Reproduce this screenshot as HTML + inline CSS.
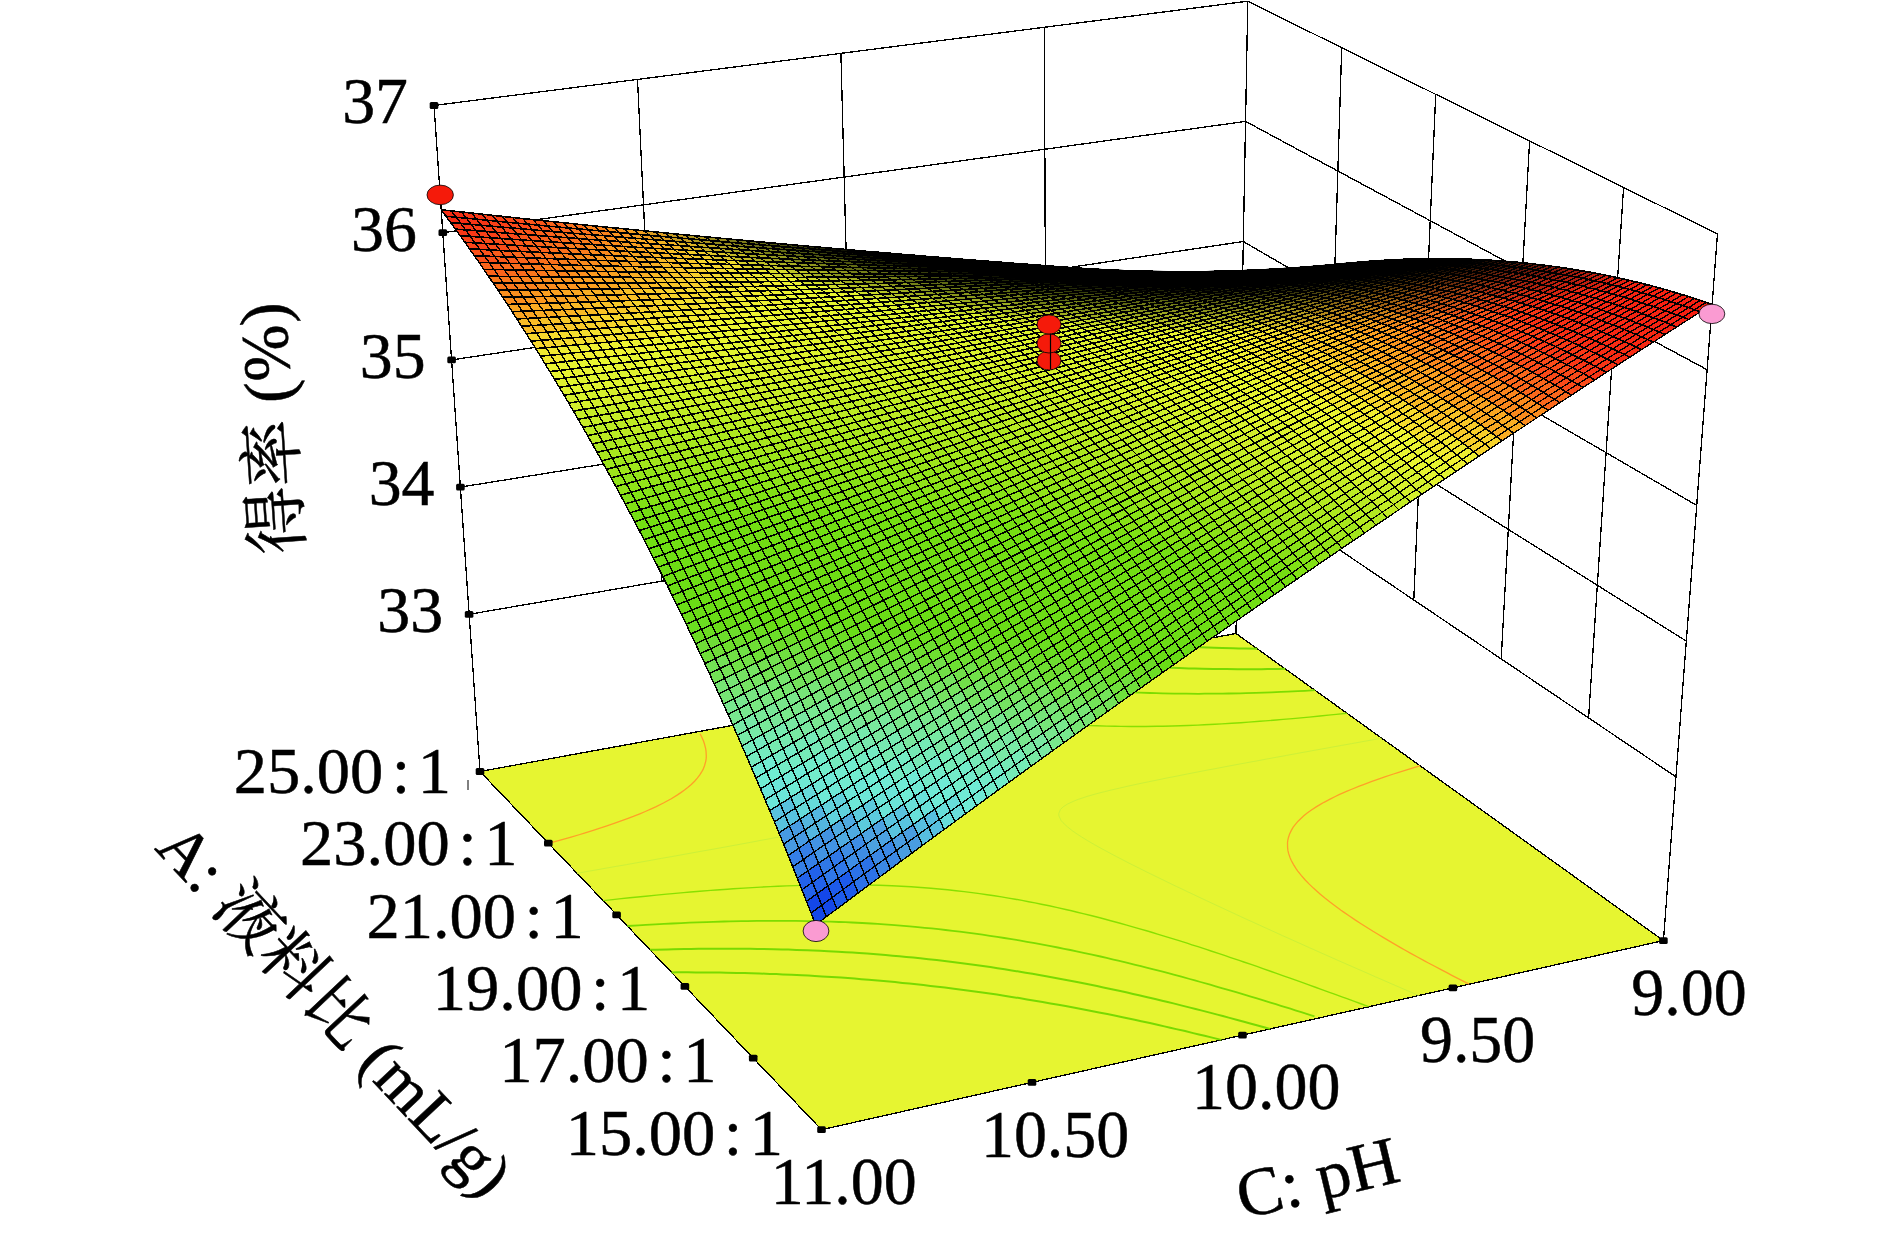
<!DOCTYPE html>
<html><head><meta charset="utf-8"><title>response surface</title>
<style>html,body{margin:0;padding:0;background:#fff}svg{display:block}</style></head>
<body>
<svg width="1890" height="1238" viewBox="0 0 1890 1238">
<rect width="1890" height="1238" fill="#fff"/>
<g stroke="#000" stroke-width="1.3" fill="none" shape-rendering="crispEdges">
<path d="M469.1 614.3L1238.8 481.9"/>
<path d="M1238.8 481.9L1675.9 776.8"/>
<path d="M460.4 487.1L1241.1 361.7"/>
<path d="M1241.1 361.7L1686.3 641.1"/>
<path d="M451.6 359.9L1243.3 241.5"/>
<path d="M1243.3 241.5L1696.7 505.4"/>
<path d="M442.8 232.7L1245.6 121.4"/>
<path d="M1245.6 121.4L1707.1 369.7"/>
<path d="M434 105.5L1247.8 1.2"/>
<path d="M1247.8 1.2L1717.5 234"/>
<path d="M661.5 581.2L637.5 79.4"/>
<path d="M853.9 548L840.9 53.4"/>
<path d="M1046.4 514.9L1044.3 27.3"/>
<path d="M1326.3 540.7L1341.7 47.8"/>
<path d="M1413.8 599.7L1435.7 94.3"/>
<path d="M1501.2 658.7L1529.6 140.9"/>
<path d="M1588.6 717.7L1623.6 187.4"/>
<path d="M480 771.5L434 105.5"/>
<path d="M1236 633.5L1247.8 1.2"/>
<path d="M1663.4 940.6L1717.5 234"/>
</g>
<polygon points="480,771.5 821.5,1129.7 1663.4,940.6 1236,633.5" fill="#e6f531" stroke="#000" stroke-width="1.3" shape-rendering="crispEdges"/>
<g fill="none">
<polyline points="671.5,972.4 677.5,972.3 688.1,972.3 695.6,972.4 701.7,972.4 713,972.5 720,972.6 726.2,972.7 736.8,972.9 744.8,973.1 751.1,973.3 759.4,973.5 769.9,973.9 776.3,974.1 782.7,974.4 791.6,974.8 801.9,975.3 808.4,975.6 814.9,976 821.9,976.4 831.6,977 841.1,977.6 847.9,978.1 854.6,978.6 861.3,979.2 868.7,979.8 877.6,980.5 886.4,981.3 895,982.1 902.4,982.9 909.4,983.6 916.4,984.3 923.4,985.1 930.5,985.9 937.7,986.7 944.9,987.6 952.1,988.5 959.7,989.5 967.3,990.5 974.8,991.5 982.3,992.5 989.6,993.6 996.9,994.6 1004.1,995.7 1011.6,996.9 1019.3,998.1 1027,999.4 1034.8,1000.7 1042.6,1002 1050.5,1003.4 1058.4,1004.8 1065.6,1006.1 1072.1,1007.3 1078.6,1008.5 1085,1009.7 1091.4,1011 1099,1012.5 1107.3,1014.1 1115.7,1015.8 1122.5,1017.2 1128.6,1018.5 1134.7,1019.8 1141.2,1021.2 1149.9,1023.1 1158.5,1025 1164.4,1026.4 1170.2,1027.7 1176.2,1029.1 1185.1,1031.1 1193.2,1033.1 1198.9,1034.4 1204.6,1035.8 1212.2,1037.6 1221.4,1039.9" stroke="#78da00" stroke-width="2.0"/>
<polyline points="1257.2,648.7 1245.8,648.6 1238.9,648.5 1232.8,648.3 1222.3,648.1 1214.3,647.8 1208.1,647.6 1199.9,647.3 1189.3,646.9 1183.1,646.6 1176.7,646.3 1168.2,645.9" stroke="#78da00" stroke-width="2.0"/>
<polyline points="650,949.8 655.8,949.7 667.5,949.4 673.4,949.2 684.5,949 691,948.9 698.4,948.8 708.8,948.7 714.8,948.7 725.1,948.7 732.9,948.7 739,948.7 750.2,948.8 757.3,948.9 763.4,949 773.9,949.2 782,949.4 788.3,949.6 796.4,949.9 807.2,950.3 813.6,950.5 820,950.8 828.1,951.2 838.2,951.8 845.9,952.2 852.5,952.6 859.1,953.1 867.2,953.6 876.4,954.3 885.5,955.1 892.6,955.7 899.4,956.3 906.3,956.9 913.2,957.6 920.2,958.3 928.4,959.2 936.6,960.1 944.6,961 952.5,962 960.3,963 967.9,964 975.5,965 982.9,966.1 990.3,967.1 997.5,968.2 1004.7,969.3 1011.7,970.4 1018.7,971.5 1025.6,972.7 1032.5,973.8 1039.2,975 1046.2,976.3 1054.2,977.7 1062.2,979.2 1070.3,980.7 1078.3,982.3 1084.6,983.6 1090.8,984.8 1097,986.1 1103.3,987.4 1111.8,989.2 1120.3,991.1 1127.2,992.6 1133.1,993.9 1139,995.3 1146.3,997 1155.2,999 1162.1,1000.7 1167.7,1002 1173.4,1003.4 1182.1,1005.6 1190.1,1007.6 1195.6,1009 1201.1,1010.4 1209.8,1012.6 1217.4,1014.6 1222.8,1016 1228.7,1017.6 1238.3,1020.2 1244,1021.7 1249.3,1023.2 1257.7,1025.5 1264.9,1027.5 1270.1,1028.9" stroke="#78da00" stroke-width="2.0"/>
<polyline points="1285.2,668.8 1279.3,668.9 1267.5,669.1 1261.5,669.2 1252,669.2 1243.6,669.2 1237.6,669.2 1226.4,669.1 1219.4,669.1 1213.3,669 1202.2,668.8 1194.9,668.6 1188.8,668.4 1179.4,668.1 1170.1,667.8 1163.8,667.5 1157.5,667.3 1147.3,666.8 1138.5,666.3 1132.1,665.9 1125.6,665.5 1117.6,664.9 1108.1,664.2 1099.6,663.5 1093,662.9 1086.4,662.4" stroke="#78da00" stroke-width="2.0"/>
<polyline points="627.3,926 638.5,925.3 645.8,924.9 655.3,924.4 663.9,923.9 672.3,923.5 681.1,923.1 689.4,922.7 697.6,922.4 706.6,922.1 713.4,921.8 724,921.5 729.9,921.4 741.6,921.2 747.5,921.1 756.9,920.9 765.3,920.9 771.3,920.8 783.2,920.9 789.4,920.9 795.6,920.9 807.6,921.1 814,921.2 820.2,921.4 830.5,921.7 839,922 845.4,922.2 852,922.5 862.2,923 871.1,923.5 877.7,923.9 884.2,924.4 891.4,924.9 900.6,925.6 909.6,926.4 917.8,927.1 924.7,927.8 931.6,928.4 938.6,929.2 945.6,930 952.7,930.8 959.8,931.7 967.4,932.6 975.1,933.7 982.5,934.7 989.9,935.8 997.2,936.9 1004.3,938 1011.6,939.1 1019.3,940.4 1027,941.8 1034.8,943.1 1042.7,944.6 1050.7,946.1 1057.8,947.5 1064.2,948.8 1070.4,950 1076.6,951.3 1083.5,952.8 1092,954.6 1100.5,956.5 1106.6,957.9 1112.4,959.3 1118.2,960.6 1126.6,962.6 1135.3,964.8 1140.9,966.2 1146.5,967.6 1153.5,969.4 1162.7,971.7 1168.3,973.2 1173.7,974.6 1181.4,976.7 1189.7,979 1194.9,980.4 1200.5,982 1210.2,984.7 1215.7,986.3 1220.8,987.8 1229.9,990.4 1236.1,992.2 1241.1,993.7 1250,996.3 1256.1,998.2 1261,999.7 1270.5,1002.6 1275.8,1004.2 1280.9,1005.8 1290.4,1008.7 1295.3,1010.3 1302.1,1012.4 1309.7,1014.8 1314.5,1016.4" stroke="#7cdc00" stroke-width="1.8"/>
<polyline points="1315,690.2 1304.9,690.8 1297.9,691.1 1287.8,691.6 1280.8,691.9 1271.4,692.3 1263.5,692.6 1255.8,692.8 1246,693.1 1240.2,693.3 1228.4,693.5 1222.5,693.6 1212.6,693.7 1204.7,693.7 1198.7,693.8 1186.6,693.7 1180.6,693.7 1174.2,693.6 1162.3,693.4 1156.1,693.2 1149.9,693 1139.7,692.7 1131.1,692.3 1124.8,692 1118.5,691.7 1108.4,691.2 1099.2,690.6 1092.7,690.1 1086.2,689.6 1079.6,689.1 1070.7,688.3 1061.8,687.5 1053.2,686.6 1046.2,685.8 1039.4,685.1 1032.5,684.2 1025.6,683.4 1018.6,682.5 1011.6,681.5 1004.5,680.5 997.4,679.4" stroke="#7cdc00" stroke-width="1.8"/>
<polyline points="603.1,900.6 612.8,899.6 619,898.9 629.7,897.8 640.4,896.7 645.7,896.2 656.5,895.1 666.6,894.1 672.6,893.6 683.5,892.6 690.5,892 699.8,891.3 710.8,890.4 716.3,890 727.4,889.2 733.2,888.8 744,888.1 752.3,887.6 760.9,887.1 770.2,886.6 777.9,886.3 786.9,885.9 795.2,885.6 802.6,885.4 812.6,885.1 818.5,885 830.3,884.8 836.3,884.8 844.4,884.8 854.4,884.8 860.5,884.9 868.8,885.1 879.1,885.3 885.4,885.5 891.8,885.8 901.4,886.3 911.1,886.8 917.6,887.3 924.3,887.7 930.9,888.3 939,889 947.6,889.8 956,890.7 964.1,891.6 972,892.6 979.6,893.6 987.1,894.7 994.4,895.8 1001.5,896.9 1008.5,898.1 1015.3,899.2 1022,900.4 1028.6,901.7 1035,902.9 1041.3,904.2 1049.2,905.8 1057.5,907.6 1065.7,909.5 1071.5,910.8 1077.3,912.2 1083.1,913.6 1091.9,915.8 1099.8,917.8 1105.3,919.3 1110.7,920.7 1119.2,923 1126.7,925.1 1131.9,926.6 1138,928.3 1147.4,931 1152.4,932.5 1157.5,934.1 1167.4,937.1 1172.4,938.6 1177.4,940.2 1187.1,943.2 1191.9,944.8 1198,946.7 1206.3,949.4 1211,951 1219.1,953.7 1225.2,955.7 1229.9,957.3 1239.2,960.4 1243.8,962 1251.8,964.7 1257.6,966.7 1262.9,968.6 1271.2,971.5 1275.8,973.1 1284.8,976.3 1289.3,977.9 1297.1,980.7 1302.7,982.7 1308.8,984.8 1316.1,987.5 1320.5,989.1 1329.4,992.3 1333.8,993.9 1342.6,997.1 1347,998.7 1355.7,1001.9 1360.1,1003.5 1368.6,1006.7" stroke="#88e000" stroke-width="1.4"/>
<polyline points="1347,713.2 1336.2,714.4 1330.8,714.9 1320,716 1309.1,717.1 1303.6,717.6 1292.7,718.6 1283,719.4 1276.3,720 1265.2,720.9 1259.7,721.3 1248.6,722.1 1240.8,722.7 1231.8,723.3 1221.8,723.9 1214.9,724.3 1204.2,724.8 1197.8,725.1 1187.7,725.5 1180.5,725.8 1172.2,726 1163,726.2 1157.1,726.3 1145.2,726.5 1139.3,726.5 1130.8,726.5 1121.1,726.4 1115,726.3 1106.7,726.1 1096.4,725.8 1090.2,725.6 1083.8,725.3 1074.7,724.8 1064.8,724.1 1058,723.6 1051.5,723.1 1044.8,722.5 1037.6,721.8 1029.1,720.9 1020.9,720 1012.9,719 1005.2,717.9 997.7,716.8 990.4,715.7 983.2,714.5 976.3,713.3 969.5,712.1 962.8,710.8 956.3,709.5 949.9,708.2 943.6,706.9 935.9,705.2 927.9,703.3 919.8,701.3 913.8,699.8 908.1,698.4 902.5,696.9" stroke="#88e000" stroke-width="1.4"/>
<polyline points="577,873.3 586.9,871.5 596.9,869.8 606.8,868 616.7,866.3 626.6,864.6 636.5,862.8 646.4,861.1 651.4,860.2 661.3,858.4 671.2,856.7 681.1,854.9 691,853.1 700.9,851.3 710.8,849.6 720.7,847.8 730.6,846 740.4,844.2 750.3,842.4 760.1,840.5 770,838.7 779.8,836.9 789.6,835 799.4,833.1 809.2,831.2 818.9,829.3 828.7,827.3 838.3,825.3 848,823.3 857.5,821.2 867,819.1 876.4,816.8 885.7,814.5 890.3,813.2 899.2,810.6 907.7,807.6 911.8,805.9 917.6,803 922.1,799.5 924.3,796.6 924.9,793.9 924.4,790.9 922.2,786.7 918.3,782.4 913.4,778.2 908,774.2 902.2,770.2 897.5,767.2 892.9,764.3 886.5,760.5 879.9,756.6 876.6,754.7 869.8,750.9 863,747.1 859.6,745.2 852.7,741.4 847.6,738.6 842.3,735.7 835.3,732 831.8,730.1 824.7,726.3 818.3,722.9 814.1,720.6 807,716.9 803.5,715" stroke="#cdf038" stroke-width="1.0"/>
<polyline points="1381.7,738.2 1371.7,740 1361.7,741.8 1351.7,743.6 1341.7,745.4 1331.7,747.2 1321.7,749 1311.7,750.8 1304.1,752.2 1296.7,753.5 1286.7,755.4 1276.8,757.2 1266.8,759 1256.9,760.9 1246.9,762.7 1237,764.5 1227.1,766.4 1217.2,768.3 1207.3,770.1 1197.4,772 1187.6,773.9 1177.8,775.9 1167.9,777.8 1158.2,779.8 1148.4,781.8 1138.8,783.8 1129.1,785.9 1119.6,788.1 1110.1,790.3 1104.4,791.7 1096.2,793.8 1087.2,796.4 1078.5,799.3 1074.3,800.9 1067.4,804.1 1063.2,806.8 1060.4,809.6 1058.8,813.4 1058.9,815.9 1061.2,820.6 1063,822.7 1067.5,826.9 1072.7,831 1077.6,834.4 1081.5,836.9 1087.7,840.7 1094.2,844.5 1099,847.2 1104.3,850.1 1111.2,853.8 1116.3,856.5 1121.7,859.3 1128.8,863 1132.4,864.8 1139.6,868.4 1146.8,872 1150.5,873.8 1157.8,877.4 1163.2,880 1168.9,882.8 1176.3,886.4 1180,888.1 1187.5,891.7 1193.1,894.3 1198.7,897 1206.2,900.5 1210,902.3 1217.5,905.8 1222.5,908.1 1228.9,911.1 1236.5,914.6 1240.3,916.4 1247.9,919.9 1251.8,921.6 1259.4,925.1 1266.2,928.2 1270.9,930.3 1278.6,933.8 1282.4,935.6 1290.1,939 1295.2,941.3 1301.7,944.2 1309.4,947.7 1313.3,949.4 1321.1,952.9 1324.9,954.6 1332.7,958 1338.7,960.7 1344.4,963.2 1352.2,966.6 1356.1,968.3 1363.9,971.7 1367.8,973.4 1375.6,976.9 1382.2,979.7 1387.4,982 1395.2,985.4 1399.1,987.1 1407,990.5 1411.3,992.3 1418.8,995.5" stroke="#cdf038" stroke-width="1.0"/>
<polyline points="548.6,843.4 553.1,842.2 562.1,839.6 571.1,837.1 579.9,834.5 584.4,833.1 593.2,830.3 601.5,827.7 606.2,826.1 614.8,823.2 619,821.7 627.4,818.6 633.3,816.4 639.8,813.8 645.3,811.5 651.8,808.6 655.7,806.8 663.4,803 667.1,801 671.3,798.7 677.5,794.9 681.2,792.4 684.5,790.1 687.7,787.6 691.3,784.5 694.6,781.3 697.3,778.2 699.6,775.2 701.5,772.2 703.1,769.4 704.6,765.5 705.8,761.1 706.2,758.5 706.3,755.9 706,750.8 705.6,748.3 704.4,743.8 703.5,741 701.4,736.2 700.1,733.9" stroke="#ffa028" stroke-width="1.3"/>
<polyline points="1420.1,765.8 1415.6,767.1 1406.7,769.8 1397.9,772.6 1393.5,774 1384.8,776.9 1377,779.6 1371.9,781.4 1363.5,784.6 1359.3,786.2 1351.1,789.5 1347.1,791.2 1339.1,794.7 1335.3,796.5 1330.1,799.1 1324,802.3 1320.4,804.4 1316.2,806.9 1310.7,810.5 1306.9,813.3 1303.8,815.8 1300.9,818.5 1298.1,821.2 1295.6,824.1 1293.2,827.2 1291.2,830.6 1289.5,834.2 1288.4,837.7 1287.8,840.3 1287.5,842.9 1287.6,847.6 1287.9,850.4 1288.6,853.4 1290,857.5 1291.3,860.5 1293.4,864.4 1296.2,868.9 1297.8,871.1 1301.2,875.4 1305,879.7 1309,883.9 1313.4,888.1 1315.6,890.1 1320.3,894.2 1325.2,898.3 1330.3,902.3 1335.6,906.2 1341,910.2 1343.7,912.1 1349.4,916 1355.1,919.9 1361,923.7 1367,927.5 1373,931.3 1379.2,935 1382.3,936.9 1388.6,940.6 1395,944.4 1401.4,948.1 1404.8,950 1411.2,953.6 1417.9,957.2 1424.5,960.9 1427.9,962.7 1434.7,966.3 1441.5,969.9 1447.8,973.2 1451.8,975.3 1458.7,978.9 1465.7,982.4 1469.2,984.2" stroke="#ffa028" stroke-width="1.3"/>
</g>
<g stroke-width="0.7" stroke-linejoin="round">
<path d="M1223 278l9.8 0.6 9.8 0.7 5.7-1.2 5.8-1.1-9.9-0.5-9.9-0.4-5.6 0.9z" fill="#000000" stroke="#000000"/>
<path d="M1203.3 276.7l9.8 0.7 9.9 0.6 5.7-1 5.6-0.9-9.8-0.5-9.9-0.5-5.6 0.8z" fill="#000000" stroke="#000000"/>
<path d="M1234.3 276.1l9.9 0.4 9.9 0.5 5.7-1.1 5.8-1.1-9.9-0.3-9.9-0.3-5.8 0.9z" fill="#000000" stroke="#000000"/>
<path d="M1214.6 275.1l9.9 0.5 9.8 0.5 5.7-1 5.8-0.9-10-0.2-9.9-0.3-5.6 0.7z" fill="#000000" stroke="#000000"/>
<path d="M1183.6 275.4l9.9 0.7 9.8 0.6 5.7-0.8 5.6-0.8-9.9-0.4-9.8-0.5-5.7 0.6z" fill="#000000" stroke="#000000"/>
<path d="M1245.8 274.2l9.9 0.3 9.9 0.3 5.7-1.1 5.8-1-10-0.1-9.9 0-5.7 0.8z" fill="#000000" stroke="#000000"/>
<path d="M1163.9 274.1l9.9 0.7 9.8 0.6 5.6-0.6 5.7-0.6-9.9-0.5-9.9-0.5-5.6 0.5z" fill="#000000" stroke="#000000"/>
<path d="M1225.9 273.7l9.9 0.3 10 0.2 5.7-0.8 5.7-0.8-10-0.1-9.9-0.1-5.7 0.6z" fill="#000000" stroke="#000000"/>
<path d="M1194.9 274.2l9.8 0.5 9.9 0.4 5.7-0.7 5.6-0.7-9.9-0.3-9.9-0.3-5.6 0.5z" fill="#000000" stroke="#000000"/>
<path d="M1257.2 272.6l9.9 0 10 0.1 5.7-1 5.8-0.9-10 0.1-10 0.1-5.7 0.8z" fill="#000000" stroke="#000000"/>
<path d="M1175.1 273.2l9.9 0.5 9.9 0.5 5.6-0.6 5.6-0.5-9.9-0.3-9.9-0.3-5.6 0.4z" fill="#000000" stroke="#000000"/>
<path d="M1237.3 272.4l9.9 0.1 10 0.1 5.7-0.8 5.7-0.8-10 0.1-9.9 0.1-5.7 0.6z" fill="#000000" stroke="#000000"/>
<path d="M1144.2 272.7l9.9 0.7 9.8 0.7 5.6-0.4 5.6-0.5-9.9-0.5-9.9-0.5-5.5 0.3z" fill="#000000" stroke="#000000"/>
<path d="M1206.1 273.1l9.9 0.3 9.9 0.3 5.7-0.7 5.7-0.6-10-0.1-9.9-0.1-5.7 0.4z" fill="#000000" stroke="#000000"/>
<path d="M1268.6 271l10-0.1 10-0.1 5.8-0.9 5.8-0.9-10.1 0.3-10 0.3-5.7 0.7z" fill="#000000" stroke="#000000"/>
<path d="M1124.5 271.4l9.9 0.7 9.8 0.6 5.6-0.2 5.5-0.3-9.9-0.5-9.9-0.5-5.5 0.1z" fill="#000000" stroke="#000000"/>
<path d="M1186.3 272.5l9.9 0.3 9.9 0.3 5.6-0.5 5.7-0.4-10-0.2-10-0.1-5.6 0.3z" fill="#000000" stroke="#000000"/>
<path d="M1248.7 271.2l9.9-0.1 10-0.1 5.8-0.7 5.7-0.7-10 0.3-10.1 0.2-5.7 0.5z" fill="#000000" stroke="#000000"/>
<path d="M1280.1 269.6l10-0.3 10.1-0.3 5.7-0.8 5.8-0.8-10 0.4-10.1 0.5-5.8 0.6z" fill="#000000" stroke="#000000"/>
<path d="M1155.3 272.2l9.9 0.5 9.9 0.5 5.6-0.3 5.6-0.4-10-0.3-9.9-0.3-5.6 0.1z" fill="#000000" stroke="#000000"/>
<path d="M1217.4 272.2l9.9 0.1 10 0.1 5.7-0.6 5.7-0.6-10 0.1-10 0-5.7 0.4z" fill="#000000" stroke="#000000"/>
<path d="M1104.7 270l9.9 0.7 9.9 0.7 5.5-0.1 5.5-0.1-9.9-0.5-9.9-0.5-5.5-0.1z" fill="#000000" stroke="#000000"/>
<path d="M1260 270.1l10.1-0.2 10-0.3 5.7-0.7 5.8-0.6-10.1 0.5-10 0.4-5.8 0.5z" fill="#000000" stroke="#000000"/>
<path d="M1135.5 271.2l9.9 0.5 9.9 0.5 5.5-0.2 5.6-0.1-10-0.3-9.9-0.4-5.5 0z" fill="#000000" stroke="#000000"/>
<path d="M1197.4 271.9l10 0.1 10 0.2 5.6-0.5 5.7-0.4-10 0.1-10 0.1-5.7 0.2z" fill="#000000" stroke="#000000"/>
<path d="M1166.4 271.9l9.9 0.3 10 0.3 5.5-0.3 5.6-0.3-9.9-0.1-10-0.1-5.6 0.1z" fill="#000000" stroke="#000000"/>
<path d="M1228.7 271.3l10 0 10-0.1 5.6-0.6 5.7-0.5-10 0.3-10 0.3-5.7 0.3z" fill="#000000" stroke="#000000"/>
<path d="M1291.6 268.3l10.1-0.5 10-0.4 5.8-0.8 5.8-0.7-10.1 0.6-10.1 0.7-5.7 0.5z" fill="#000000" stroke="#000000"/>
<path d="M1115.7 270.2l9.9 0.5 9.9 0.5 5.5 0 5.5 0-9.9-0.3-10-0.3-5.5-0.2z" fill="#000000" stroke="#000000"/>
<path d="M1084.9 268.5l9.9 0.8 9.9 0.7 5.5 0.1 5.5 0.1-10-0.5-9.9-0.6-5.4-0.3z" fill="#000000" stroke="#000000"/>
<path d="M1146.5 271.2l9.9 0.4 10 0.3 5.5-0.1 5.6-0.1-10-0.2-10-0.1-5.5-0.1z" fill="#000000" stroke="#000000"/>
<path d="M1208.7 271.5l10-0.1 10-0.1 5.6-0.3 5.7-0.3-10.1 0.2-10 0.3-5.6 0.1z" fill="#000000" stroke="#000000"/>
<path d="M1240 270.7l10-0.3 10-0.3 5.7-0.4 5.8-0.5-10.1 0.5-10.1 0.4-5.7 0.3z" fill="#000000" stroke="#000000"/>
<path d="M1271.5 269.2l10-0.4 10.1-0.5 5.8-0.6 5.7-0.5-10.1 0.6-10.1 0.7-5.7 0.3z" fill="#000000" stroke="#000000"/>
<path d="M1303.1 267.2l10.1-0.7 10.1-0.6 5.8-0.7 5.9-0.7-10.2 0.8-10.2 0.9-5.7 0.5z" fill="#000000" stroke="#000000"/>
<path d="M1177.5 271.7l10 0.1 9.9 0.1 5.6-0.2 5.7-0.2-10.1 0-10 0.1-5.5 0z" fill="#000000" stroke="#000000"/>
<path d="M1065.2 267.1l9.9 0.7 9.8 0.7 5.5 0.3 5.4 0.3-9.9-0.5-10-0.5-5.4-0.5z" fill="#000000" stroke="#000000"/>
<path d="M1126.6 270.6l10 0.3 9.9 0.3 5.5 0.1 5.5 0.1-9.9-0.2-10-0.1-5.5-0.3z" fill="#000000" stroke="#000000"/>
<path d="M1219.9 271.2l10-0.3 10.1-0.2 5.6-0.3 5.7-0.3-10.1 0.5-10.1 0.4-5.6 0.1z" fill="#000000" stroke="#000000"/>
<path d="M1282.9 268.5l10.1-0.7 10.1-0.6 5.8-0.5 5.7-0.5-10.1 0.8-10.2 0.8-5.7 0.3z" fill="#000000" stroke="#000000"/>
<path d="M1095.8 269.1l9.9 0.6 10 0.5 5.4 0.2 5.5 0.2-10-0.4-9.9-0.3-5.5-0.4z" fill="#000000" stroke="#000000"/>
<path d="M1157.5 271.4l10 0.1 10 0.2 5.6-0.1 5.5 0-10 0-10 0.1-5.5-0.2z" fill="#000000" stroke="#000000"/>
<path d="M1314.6 266.2l10.2-0.9 10.2-0.8 5.8-0.7 5.8-0.6-10.2 1.1-10.2 1-5.8 0.4z" fill="#000000" stroke="#000000"/>
<path d="M1188.6 271.6l10-0.1 10.1 0 5.6-0.2 5.6-0.1-10.1 0.2-10 0.3-5.6-0.1z" fill="#000000" stroke="#000000"/>
<path d="M1251.3 270.1l10.1-0.4 10.1-0.5 5.7-0.4 5.7-0.3-10.1 0.6-10.2 0.6-5.6 0.2z" fill="#000000" stroke="#000000"/>
<path d="M1075.9 268.1l10 0.5 9.9 0.5 5.4 0.4 5.5 0.4-10-0.4-9.9-0.3-5.5-0.6z" fill="#000000" stroke="#000000"/>
<path d="M1137.6 271.1l10 0.1 9.9 0.2 5.6 0.1 5.5 0.2-10 0-10 0.1-5.5-0.4z" fill="#000000" stroke="#000000"/>
<path d="M1294.3 267.8l10.2-0.8 10.1-0.8 5.8-0.5 5.8-0.4-10.2 1-10.2 1.1-5.7 0.2z" fill="#000000" stroke="#000000"/>
<path d="M1045.3 265.6l9.9 0.8 10 0.7 5.3 0.5 5.4 0.5-9.9-0.6-9.9-0.5-5.4-0.7z" fill="#000000" stroke="#000000"/>
<path d="M1106.7 269.9l9.9 0.3 10 0.4 5.5 0.2 5.5 0.3-10-0.2-10-0.1-5.5-0.5z" fill="#000000" stroke="#000000"/>
<path d="M1168.6 271.7l10-0.1 10 0 5.6 0 5.6 0.1-10.1 0.2-10 0.2-5.6-0.2z" fill="#000000" stroke="#000000"/>
<path d="M1199.8 271.7l10-0.3 10.1-0.2 5.6-0.1 5.6-0.1-10.1 0.4-10 0.5-5.6-0.2z" fill="#000000" stroke="#000000"/>
<path d="M1231.1 271l10.1-0.4 10.1-0.5 5.7-0.2 5.6-0.2-10.1 0.7-10.1 0.6-5.6 0z" fill="#000000" stroke="#000000"/>
<path d="M1262.6 269.7l10.2-0.6 10.1-0.6 5.7-0.4 5.7-0.3-10.1 0.9-10.2 0.8-5.7 0.1z" fill="#000000" stroke="#000000"/>
<path d="M1326.2 265.3l10.2-1 10.2-1.1 5.8-0.5 5.9-0.5-10.3 1.2-10.2 1.2-5.8 0.3z" fill="#000000" stroke="#000000"/>
<path d="M1025.5 264.1l9.9 0.8 9.9 0.7 5.4 0.7 5.4 0.7-10-0.6-9.9-0.6-5.4-0.8z" fill="#000000" stroke="#000000"/>
<path d="M1086.8 269.2l9.9 0.3 10 0.4 5.4 0.4 5.5 0.5-10-0.2-10-0.2-5.4-0.6z" fill="#000000" stroke="#000000"/>
<path d="M1148.6 271.8l10-0.1 10 0 5.5 0.2 5.6 0.2-10.1 0.3-10 0.2-5.5-0.4z" fill="#000000" stroke="#000000"/>
<path d="M1179.7 272.1l10-0.2 10.1-0.2 5.6 0 5.6 0.2-10.1 0.4-10.1 0.4-5.6-0.3z" fill="#000000" stroke="#000000"/>
<path d="M1242.4 271l10.1-0.6 10.1-0.7 5.7-0.1 5.7-0.1-10.2 0.8-10.1 0.8-5.7 0z" fill="#000000" stroke="#000000"/>
<path d="M1305.8 267.4l10.2-1.1 10.2-1 5.8-0.4 5.8-0.3-10.3 1.2-10.2 1.2-5.8 0.2z" fill="#000000" stroke="#000000"/>
<path d="M1337.8 264.6l10.2-1.2 10.3-1.2 5.8-0.5 5.8-0.5-10.3 1.4-10.2 1.4-5.8 0.3z" fill="#000000" stroke="#000000"/>
<path d="M1056.1 267l9.9 0.5 9.9 0.6 5.4 0.5 5.5 0.6-10-0.4-10-0.4-5.4-0.7z" fill="#000000" stroke="#000000"/>
<path d="M1117.6 270.8l10 0.1 10 0.2 5.5 0.3 5.5 0.4-10.1 0-10 0-5.5-0.5z" fill="#000000" stroke="#000000"/>
<path d="M1274 269.5l10.2-0.8 10.1-0.9 5.8-0.2 5.7-0.2-10.2 1-10.2 1-5.7 0z" fill="#000000" stroke="#000000"/>
<path d="M1211 271.9l10-0.5 10.1-0.4 5.7 0 5.6 0-10.1 0.6-10.2 0.6-5.6-0.2z" fill="#000000" stroke="#000000"/>
<path d="M1005.6 262.6l10 0.8 9.9 0.7 5.3 0.9 5.4 0.8-10-0.6-10-0.5-5.3-1.1z" fill="#000000" stroke="#000000"/>
<path d="M1159.6 272.6l10-0.2 10.1-0.3 5.5 0.3 5.6 0.3-10.1 0.4-10.1 0.5-5.5-0.6z" fill="#000000" stroke="#000000"/>
<path d="M1317.3 267l10.2-1.2 10.3-1.2 5.8-0.3 5.8-0.3-10.3 1.5-10.3 1.4-5.8 0z" fill="#000000" stroke="#000000"/>
<path d="M1036.2 265.8l9.9 0.6 10 0.6 5.3 0.7 5.4 0.7-10-0.3-10-0.4-5.3-1z" fill="#000000" stroke="#000000"/>
<path d="M1097.6 270.4l10 0.2 10 0.2 5.4 0.5 5.5 0.5-10 0-10.1 0-5.4-0.7z" fill="#000000" stroke="#000000"/>
<path d="M1253.7 271.1l10.1-0.8 10.2-0.8 5.7-0.1 5.7 0-10.2 1-10.2 1-5.7-0.1z" fill="#000000" stroke="#000000"/>
<path d="M1066.8 268.4l10 0.4 10 0.4 5.4 0.6 5.4 0.6-10-0.1-10-0.2-5.4-0.9z" fill="#000000" stroke="#000000"/>
<path d="M1128.5 271.8l10 0 10.1 0 5.5 0.4 5.5 0.4-10.1 0.2-10.1 0.2-5.4-0.6z" fill="#000000" stroke="#000000"/>
<path d="M1190.8 272.7l10.1-0.4 10.1-0.4 5.5 0.1 5.6 0.2-10.1 0.7-10.1 0.6-5.6-0.4z" fill="#000000" stroke="#000000"/>
<path d="M1222.1 272.2l10.2-0.6 10.1-0.6 5.6 0.1 5.7 0-10.2 0.9-10.2 0.8-5.6-0.3z" fill="#000000" stroke="#000000"/>
<path d="M1285.4 269.4l10.2-1 10.2-1 5.7-0.2 5.8-0.2-10.3 1.3-10.2 1.2-5.7-0.1z" fill="#000000" stroke="#000000"/>
<path d="M1349.4 264l10.2-1.4 10.3-1.4 5.9-0.4 5.8-0.4-10.3 1.6-10.3 1.6-5.8 0.2z" fill="#000000" stroke="#000000"/>
<path d="M1016.2 264.7l10 0.5 10 0.6 5.3 0.9 5.3 1-9.9-0.4-10-0.4-5.4-1.1z" fill="#000000" stroke="#000000"/>
<path d="M985.8 261.1l9.9 0.7 9.9 0.8 5.3 1 5.3 1.1-9.9-0.6-10-0.6-5.3-1.2z" fill="#000000" stroke="#000000"/>
<path d="M1046.8 267.7l10 0.4 10 0.3 5.4 0.8 5.4 0.9-10-0.2-10.1-0.2-5.3-1z" fill="#000000" stroke="#000000"/>
<path d="M1108.4 271.8l10.1 0 10 0 5.5 0.6 5.4 0.6-10 0.2-10.1 0.2-5.4-0.8z" fill="#000000" stroke="#000000"/>
<path d="M1139.4 273l10.1-0.2 10.1-0.2 5.5 0.4 5.5 0.6-10.1 0.4-10.1 0.4-5.5-0.7z" fill="#000000" stroke="#000000"/>
<path d="M1170.6 273.6l10.1-0.5 10.1-0.4 5.5 0.4 5.6 0.4-10.2 0.6-10.1 0.6-5.5-0.6z" fill="#000000" stroke="#000000"/>
<path d="M1201.9 273.5l10.1-0.6 10.1-0.7 5.6 0.3 5.6 0.3-10.1 0.8-10.2 0.8-5.6-0.5z" fill="#000000" stroke="#000000"/>
<path d="M1265 271.4l10.2-1 10.2-1 5.7 0 5.7 0.1-10.3 1.2-10.2 1.2-5.7-0.3z" fill="#000000" stroke="#000000"/>
<path d="M1296.8 269.5l10.2-1.2 10.3-1.3 5.7-0.1 5.8 0-10.3 1.4-10.3 1.4-5.7-0.2z" fill="#000000" stroke="#000000"/>
<path d="M1328.8 266.9l10.3-1.4 10.3-1.5 5.8-0.2 5.8-0.2-10.4 1.6-10.3 1.6-5.8 0z" fill="#000000" stroke="#000000"/>
<path d="M1361 263.6l10.3-1.6 10.3-1.6 5.9-0.3 5.8-0.3-10.3 1.8-10.4 1.8-5.8 0.1z" fill="#000000" stroke="#000000"/>
<path d="M1077.6 270.1l10 0.2 10 0.1 5.4 0.7 5.4 0.7-10 0.1-10.1 0-5.3-1z" fill="#000000" stroke="#000000"/>
<path d="M1233.3 272.8l10.2-0.8 10.2-0.9 5.6 0.2 5.7 0.1-10.2 1-10.2 1-5.6-0.3z" fill="#000000" stroke="#000000"/>
<path d="M965.9 259.5l9.9 0.8 10 0.8 5.2 1.2 5.3 1.2-10-0.6-9.9-0.6-5.3-1.4z" fill="#000000" stroke="#000000"/>
<path d="M1026.9 266.9l10 0.4 9.9 0.4 5.4 1 5.3 1-10-0.2-10-0.2-5.3-1.2z" fill="#000000" stroke="#000000"/>
<path d="M1119.3 273.4l10.1-0.2 10-0.2 5.5 0.7 5.5 0.7-10.1 0.4-10.1 0.4-5.5-0.9z" fill="#000000" stroke="#000000"/>
<path d="M1181.6 274.7l10.1-0.6 10.2-0.6 5.5 0.4 5.6 0.5-10.2 0.8-10.1 0.8-5.6-0.7z" fill="#000000" stroke="#000000"/>
<path d="M1276.3 271.9l10.2-1.2 10.3-1.2 5.7 0 5.7 0.2-10.3 1.4-10.3 1.4-5.6-0.4z" fill="#000000" stroke="#000000"/>
<path d="M1340.3 266.8l10.3-1.6 10.4-1.6 5.8-0.1 5.8-0.1-10.4 1.8-10.4 1.8-5.7-0.1z" fill="#000000" stroke="#000000"/>
<path d="M996.3 263.5l10 0.6 9.9 0.6 5.3 1.1 5.4 1.1-10-0.4-10-0.4-5.3-1.3z" fill="#000000" stroke="#000000"/>
<path d="M1057.5 269.7l10.1 0.2 10 0.2 5.4 0.8 5.3 1-10 0-10.1 0-5.3-1.1z" fill="#000000" stroke="#000000"/>
<path d="M1213 274.4l10.2-0.8 10.1-0.8 5.7 0.3 5.6 0.3-10.2 1-10.3 1-5.5-0.5z" fill="#000000" stroke="#000000"/>
<path d="M1372.6 263.4l10.4-1.8 10.3-1.8 5.9-0.3 5.9-0.3-10.5 2.1-10.4 1.9-5.8 0.1z" fill="#000000" stroke="#000000"/>
<path d="M1088.3 271.9l10.1 0 10-0.1 5.5 0.8 5.4 0.8-10.1 0.2-10.1 0.2-5.4-1z" fill="#000000" stroke="#000000"/>
<path d="M1150.4 274.4l10.1-0.4 10.1-0.4 5.5 0.5 5.5 0.6-10.1 0.6-10.2 0.6-5.5-0.8z" fill="#000000" stroke="#000000"/>
<path d="M1244.6 273.4l10.2-1 10.2-1 5.6 0.2 5.7 0.3-10.3 1.2-10.2 1.2-5.6-0.5z" fill="#000000" stroke="#000000"/>
<path d="M1308.2 269.7l10.3-1.4 10.3-1.4 5.7-0.1 5.8 0-10.3 1.6-10.4 1.6-5.7-0.2z" fill="#000000" stroke="#000000"/>
<path d="M976.4 262.3l9.9 0.6 10 0.6 5.3 1.3 5.3 1.3-10-0.4-10.1-0.4-5.2-1.5z" fill="#000000" stroke="#000000"/>
<path d="M1037.5 269.3l10 0.2 10 0.2 5.4 1.1 5.3 1.1-10-0.1-10.1 0-5.3-1.3z" fill="#000000" stroke="#000000"/>
<path d="M1192.7 276l10.1-0.8 10.2-0.8 5.6 0.5 5.5 0.5-10.2 1-10.2 1-5.5-0.7z" fill="#000000" stroke="#000000"/>
<path d="M1351.8 267l10.4-1.8 10.4-1.8 5.8-0.1 5.8-0.1-10.4 2-10.4 2-5.8-0.1z" fill="#000000" stroke="#000000"/>
<path d="M946 257.9l9.9 0.8 10 0.8 5.2 1.4 5.3 1.4-10-0.6-10-0.6-5.2-1.6z" fill="#000000" stroke="#000000"/>
<path d="M1006.9 266.1l10 0.4 10 0.4 5.3 1.2 5.3 1.2-10-0.2-10.1-0.2-5.3-1.4z" fill="#000000" stroke="#000000"/>
<path d="M1068.2 271.9l10.1 0 10 0 5.4 0.9 5.4 1-10.1 0.2-10 0.2-5.4-1.2z" fill="#000000" stroke="#000000"/>
<path d="M1099.1 273.8l10.1-0.2 10.1-0.2 5.4 0.9 5.5 0.9-10.2 0.3-10.1 0.4-5.4-1.1z" fill="#000000" stroke="#000000"/>
<path d="M1130.2 275.2l10.1-0.4 10.1-0.4 5.4 0.7 5.5 0.8-10.1 0.6-10.2 0.5-5.4-0.9z" fill="#000000" stroke="#000000"/>
<path d="M1161.3 275.9l10.2-0.6 10.1-0.6 5.5 0.6 5.6 0.7-10.2 0.8-10.2 0.7-5.5-0.8z" fill="#000000" stroke="#000000"/>
<path d="M1224.1 275.4l10.3-1 10.2-1 5.6 0.4 5.6 0.5-10.3 1.2-10.2 1.1-5.6-0.6z" fill="#000000" stroke="#000000"/>
<path d="M1255.8 274.3l10.2-1.2 10.3-1.2 5.7 0.2 5.6 0.4-10.3 1.4-10.3 1.3-5.6-0.5z" fill="#000000" stroke="#000000"/>
<path d="M1287.6 272.5l10.3-1.4 10.3-1.4 5.7 0.1 5.7 0.2-10.3 1.6-10.3 1.6-5.7-0.4z" fill="#000000" stroke="#000000"/>
<path d="M1319.6 270l10.4-1.6 10.3-1.6 5.8 0.1 5.7 0.1-10.4 1.8-10.3 1.7-5.8-0.2z" fill="#000000" stroke="#000000"/>
<path d="M1384.2 263.2l10.4-1.9 10.5-2.1 5.8-0.1 5.9-0.2-10.5 2.2-10.5 2.2-5.8 0z" fill="#000000" stroke="#000000"/>
<path d="M926 256.3l10 0.8 10 0.8 5.2 1.6 5.2 1.6-10-0.7-10-0.6-5.2-1.8z" fill="#000000" stroke="#000000"/>
<path d="M986.8 265.3l10.1 0.4 10 0.4 5.2 1.4 5.3 1.4-10-0.3-10.1-0.2-5.2-1.6z" fill="#000000" stroke="#000000"/>
<path d="M1048.1 271.8l10.1 0 10 0.1 5.4 1.1 5.4 1.2-10.1 0.2-10.1 0.1-5.3-1.3z" fill="#000000" stroke="#000000"/>
<path d="M1079 274.2l10-0.2 10.1-0.2 5.4 1 5.4 1.1-10.1 0.4-10.1 0.4-5.4-1.3z" fill="#000000" stroke="#000000"/>
<path d="M1141 277l10.2-0.5 10.1-0.6 5.5 0.8 5.5 0.8-10.2 0.8-10.2 0.8-5.4-1z" fill="#000000" stroke="#000000"/>
<path d="M1203.7 277.4l10.2-1 10.2-1 5.6 0.6 5.6 0.6-10.3 1.2-10.2 1.2-5.6-0.8z" fill="#000000" stroke="#000000"/>
<path d="M1235.3 276.6l10.2-1.1 10.3-1.2 5.6 0.4 5.6 0.5-10.3 1.4-10.2 1.4-5.6-0.7z" fill="#000000" stroke="#000000"/>
<path d="M1299 273.2l10.3-1.6 10.3-1.6 5.7 0.3 5.8 0.2-10.4 1.8-10.4 1.8-5.7-0.4z" fill="#000000" stroke="#000000"/>
<path d="M1363.4 267.2l10.4-2 10.4-2 5.8 0.1 5.8 0-10.4 2.2-10.5 2.2-5.8-0.3z" fill="#000000" stroke="#000000"/>
<path d="M1395.8 263.3l10.5-2.2 10.5-2.2 5.9-0.1 5.8-0.1-10.5 2.4-10.5 2.4-5.8-0.1z" fill="#000000" stroke="#000000"/>
<path d="M956.4 261.1l10 0.6 10 0.6 5.2 1.5 5.2 1.5-10-0.5-10-0.4-5.2-1.7z" fill="#000000" stroke="#000000"/>
<path d="M1017.4 268.9l10.1 0.2 10 0.2 5.3 1.2 5.3 1.3-10 0-10.1 0-5.3-1.5z" fill="#000000" stroke="#000000"/>
<path d="M1172.3 277.5l10.2-0.7 10.2-0.8 5.5 0.7 5.5 0.7-10.2 1-10.2 1-5.5-1z" fill="#000000" stroke="#000000"/>
<path d="M1331.1 270.5l10.3-1.7 10.4-1.8 5.8 0.1 5.8 0.1-10.5 2-10.4 2-5.7-0.3z" fill="#000000" stroke="#000000"/>
<path d="M1109.9 275.9l10.1-0.4 10.2-0.3 5.4 0.9 5.4 0.9-10.1 0.6-10.2 0.6-5.4-1.2z" fill="#000000" stroke="#000000"/>
<path d="M1267 275.2l10.3-1.3 10.3-1.4 5.7 0.3 5.7 0.4-10.4 1.6-10.3 1.6-5.6-0.6z" fill="#000000" stroke="#000000"/>
<path d="M906.1 254.6l9.9 0.8 10 0.9 5.2 1.7 5.2 1.8-10-0.6-10-0.7-5.2-1.9z" fill="#000000" stroke="#000000"/>
<path d="M1058.8 274.5l10.1-0.1 10.1-0.2 5.3 1.2 5.4 1.3-10.1 0.3-10.2 0.4-5.3-1.4z" fill="#000000" stroke="#000000"/>
<path d="M1214.8 279l10.2-1.2 10.3-1.2 5.6 0.7 5.6 0.7-10.3 1.4-10.3 1.4-5.6-0.9z" fill="#000000" stroke="#000000"/>
<path d="M1374.9 267.7l10.5-2.2 10.4-2.2 5.9 0.1 5.8 0.1-10.5 2.4-10.5 2.4-5.8-0.3z" fill="#000000" stroke="#000000"/>
<path d="M936.4 259.8l10 0.6 10 0.7 5.2 1.6 5.2 1.7-10-0.4-10-0.5-5.2-1.8z" fill="#000000" stroke="#000000"/>
<path d="M997.3 268.4l10.1 0.2 10 0.3 5.3 1.4 5.3 1.5-10.1-0.1-10 0-5.3-1.7z" fill="#000000" stroke="#000000"/>
<path d="M1151.9 279.1l10.2-0.8 10.2-0.8 5.5 0.9 5.5 1-10.2 0.9-10.3 1-5.4-1.1z" fill="#000000" stroke="#000000"/>
<path d="M1310.3 274.1l10.4-1.8 10.4-1.8 5.7 0.4 5.7 0.3-10.4 2-10.4 2-5.7-0.6z" fill="#000000" stroke="#000000"/>
<path d="M966.8 264.4l10 0.4 10 0.5 5.3 1.5 5.2 1.6-10-0.2-10.1-0.3-5.2-1.7z" fill="#000000" stroke="#000000"/>
<path d="M1028 271.8l10.1 0 10 0 5.4 1.4 5.3 1.3-10.1 0.2-10.1 0.2-5.3-1.6z" fill="#000000" stroke="#000000"/>
<path d="M1089.7 276.7l10.1-0.4 10.1-0.4 5.4 1.1 5.4 1.2-10.1 0.6-10.2 0.5-5.3-1.3z" fill="#000000" stroke="#000000"/>
<path d="M1120.7 278.2l10.2-0.6 10.1-0.6 5.5 1.1 5.4 1-10.1 0.8-10.2 0.7-5.4-1.2z" fill="#000000" stroke="#000000"/>
<path d="M1183.3 279.4l10.2-1 10.2-1 5.5 0.8 5.6 0.8-10.3 1.2-10.2 1.2-5.5-1.1z" fill="#000000" stroke="#000000"/>
<path d="M1246.5 278l10.2-1.4 10.3-1.4 5.7 0.6 5.6 0.6-10.3 1.6-10.4 1.5-5.6-0.7z" fill="#000000" stroke="#000000"/>
<path d="M1278.3 276.4l10.3-1.6 10.4-1.6 5.6 0.5 5.7 0.4-10.4 1.8-10.3 1.8-5.7-0.7z" fill="#000000" stroke="#000000"/>
<path d="M1342.5 271.2l10.4-2 10.5-2 5.7 0.2 5.8 0.3-10.5 2.2-10.4 2.2-5.8-0.5z" fill="#000000" stroke="#000000"/>
<path d="M1407.5 263.5l10.5-2.4 10.5-2.4 5.9 0 5.9-0.1-10.6 2.6-10.5 2.6-5.9-0.2z" fill="#000000" stroke="#000000"/>
<path d="M916.4 258.5l10 0.7 10 0.6 5.2 1.9 5.2 1.8-10.1-0.4-10-0.4-5.2-2.1z" fill="#000000" stroke="#000000"/>
<path d="M886.1 252.9l10 0.9 10 0.8 5.1 2 5.2 1.9-10-0.6-10.1-0.6-5.1-2.2z" fill="#000000" stroke="#000000"/>
<path d="M946.8 263.5l10 0.5 10 0.4 5.2 1.8 5.2 1.7-10-0.2-10.1-0.3-5.2-1.9z" fill="#000000" stroke="#000000"/>
<path d="M1007.9 271.7l10 0 10.1 0.1 5.3 1.5 5.3 1.6-10.1 0.1-10.1 0.2-5.3-1.8z" fill="#000000" stroke="#000000"/>
<path d="M1038.6 274.9l10.1-0.2 10.1-0.2 5.3 1.5 5.3 1.4-10.1 0.4-10.1 0.3-5.3-1.6z" fill="#000000" stroke="#000000"/>
<path d="M1069.4 277.4l10.2-0.4 10.1-0.3 5.4 1.3 5.3 1.3-10.1 0.6-10.2 0.6-5.3-1.6z" fill="#000000" stroke="#000000"/>
<path d="M1100.4 279.3l10.2-0.5 10.1-0.6 5.5 1.2 5.4 1.2-10.2 0.8-10.2 0.8-5.4-1.5z" fill="#000000" stroke="#000000"/>
<path d="M1162.8 281.3l10.3-1 10.2-0.9 5.5 0.9 5.5 1.1-10.3 1.1-10.2 1.2-5.5-1.2z" fill="#000000" stroke="#000000"/>
<path d="M1194.3 281.4l10.2-1.2 10.3-1.2 5.5 0.9 5.6 0.9-10.3 1.3-10.3 1.4-5.5-1.1z" fill="#000000" stroke="#000000"/>
<path d="M1225.9 280.8l10.3-1.4 10.3-1.4 5.5 0.8 5.6 0.7-10.3 1.6-10.3 1.6-5.6-1z" fill="#000000" stroke="#000000"/>
<path d="M1257.6 279.5l10.4-1.5 10.3-1.6 5.6 0.6 5.7 0.7-10.4 1.8-10.4 1.7-5.6-0.8z" fill="#000000" stroke="#000000"/>
<path d="M1321.7 275.2l10.4-2 10.4-2 5.7 0.4 5.8 0.5-10.5 2.1-10.5 2.2-5.6-0.6z" fill="#000000" stroke="#000000"/>
<path d="M1354 272.1l10.4-2.2 10.5-2.2 5.8 0.3 5.8 0.3-10.5 2.4-10.6 2.3-5.7-0.5z" fill="#000000" stroke="#000000"/>
<path d="M1386.5 268.3l10.5-2.4 10.5-2.4 5.8 0.1 5.9 0.2-10.6 2.6-10.6 2.6-5.7-0.4z" fill="#000000" stroke="#000000"/>
<path d="M1419.2 263.8l10.5-2.6 10.6-2.6 5.9 0.1 5.9 0.1-10.6 2.8-10.6 2.8-5.9-0.3z" fill="#000000" stroke="#000000"/>
<path d="M977.2 267.9l10.1 0.3 10 0.2 5.3 1.6 5.3 1.7-10.1 0-10.1-0.1-5.2-1.8z" fill="#000000" stroke="#000000"/>
<path d="M1131.6 280.6l10.2-0.7 10.1-0.8 5.5 1.1 5.4 1.1-10.2 1-10.2 0.9-5.4-1.3z" fill="#000000" stroke="#000000"/>
<path d="M1289.6 277.7l10.3-1.8 10.4-1.8 5.7 0.5 5.7 0.6-10.4 2-10.5 2-5.6-0.8z" fill="#000000" stroke="#000000"/>
<path d="M866.1 251.3l10 0.8 10 0.8 5.1 2.2 5.1 2.2-10-0.7-10-0.7-5.1-2.3z" fill="#000000" stroke="#000000"/>
<path d="M926.7 262.7l10 0.4 10.1 0.4 5.1 2 5.2 1.9-10-0.2-10.1-0.3-5.2-2.1z" fill="#000000" stroke="#000000"/>
<path d="M1018.4 275.2l10.1-0.2 10.1-0.1 5.3 1.6 5.3 1.6-10.1 0.4-10.2 0.3-5.2-1.8z" fill="#000000" stroke="#000000"/>
<path d="M1080.1 280.5l10.2-0.6 10.1-0.6 5.4 1.4 5.4 1.5-10.2 0.7-10.2 0.8-5.3-1.7z" fill="#000000" stroke="#000000"/>
<path d="M1173.8 283.7l10.2-1.2 10.3-1.1 5.5 1 5.5 1.1-10.3 1.4-10.3 1.3-5.5-1.3z" fill="#000000" stroke="#000000"/>
<path d="M1237 282.7l10.3-1.6 10.3-1.6 5.6 0.9 5.6 0.8-10.4 1.8-10.3 1.8-5.6-1.1z" fill="#000000" stroke="#000000"/>
<path d="M1333 276.4l10.5-2.2 10.5-2.1 5.7 0.4 5.7 0.5-10.5 2.4-10.5 2.4-5.7-0.7z" fill="#000000" stroke="#000000"/>
<path d="M1398 269l10.6-2.6 10.6-2.6 5.8 0.3 5.9 0.3-10.7 2.7-10.6 2.8-5.8-0.4z" fill="#000000" stroke="#000000"/>
<path d="M896.3 257.3l10.1 0.6 10 0.6 5.1 2.1 5.2 2.1-10.1-0.5-10-0.5-5.1-2.2z" fill="#000000" stroke="#000000"/>
<path d="M957.1 267.4l10.1 0.3 10 0.2 5.3 1.9 5.2 1.8-10.1 0-10.1-0.1-5.2-2z" fill="#000000" stroke="#000000"/>
<path d="M1111.2 282.2l10.2-0.8 10.2-0.8 5.4 1.3 5.4 1.3-10.2 1-10.2 1-5.4-1.6z" fill="#000000" stroke="#000000"/>
<path d="M1268.8 281.2l10.4-1.7 10.4-1.8 5.6 0.7 5.6 0.8-10.4 1.9-10.4 2-5.6-0.9z" fill="#000000" stroke="#000000"/>
<path d="M1430.9 264.4l10.6-2.8 10.6-2.8 5.9 0.1 5.9 0.1-10.7 3-10.7 3-5.8-0.3z" fill="#000000" stroke="#000000"/>
<path d="M987.7 271.6l10.1 0.1 10.1 0 5.2 1.7 5.3 1.8-10.1 0.1-10.1 0.2-5.3-2z" fill="#000000" stroke="#000000"/>
<path d="M1049.2 278.1l10.1-0.3 10.1-0.4 5.4 1.5 5.3 1.6-10.1 0.5-10.2 0.6-5.3-1.8z" fill="#000000" stroke="#000000"/>
<path d="M1142.4 283.2l10.2-0.9 10.2-1 5.5 1.2 5.5 1.2-10.3 1.2-10.3 1.1-5.4-1.4z" fill="#000000" stroke="#000000"/>
<path d="M1205.3 283.5l10.3-1.4 10.3-1.3 5.5 0.9 5.6 1-10.4 1.6-10.3 1.5-5.5-1.1z" fill="#000000" stroke="#000000"/>
<path d="M1300.8 279.2l10.5-2 10.4-2 5.7 0.6 5.6 0.6-10.4 2.2-10.5 2.2-5.6-0.9z" fill="#000000" stroke="#000000"/>
<path d="M1365.4 273l10.6-2.3 10.5-2.4 5.8 0.3 5.7 0.4-10.5 2.6-10.6 2.6-5.7-0.6z" fill="#000000" stroke="#000000"/>
<path d="M876.3 255.9l10 0.7 10 0.7 5.2 2.2 5.1 2.2-10.1-0.4-10-0.5-5.1-2.5z" fill="#000000" stroke="#000000"/>
<path d="M937 266.9l10.1 0.3 10 0.2 5.2 2.1 5.2 2-10.1-0.1-10 0-5.2-2.3z" fill="#000000" stroke="#000000"/>
<path d="M1090.8 283.7l10.2-0.8 10.2-0.7 5.4 1.4 5.4 1.6-10.3 0.9-10.2 1-5.3-1.8z" fill="#000000" stroke="#000000"/>
<path d="M1248.1 284.8l10.3-1.8 10.4-1.8 5.6 1 5.6 0.9-10.4 2-10.4 1.9-5.6-1.1z" fill="#000000" stroke="#000000"/>
<path d="M1409.6 269.9l10.6-2.8 10.7-2.7 5.8 0.3 5.8 0.3-10.6 3-10.7 3-5.8-0.5z" fill="#000000" stroke="#000000"/>
<path d="M906.6 261.7l10 0.5 10.1 0.5 5.1 2.1 5.2 2.1-10.1-0.2-10-0.3-5.2-2.4z" fill="#000000" stroke="#000000"/>
<path d="M967.5 271.5l10.1 0.1 10.1 0 5.2 1.9 5.3 2-10.1 0.1-10.2 0.2-5.2-2.2z" fill="#000000" stroke="#000000"/>
<path d="M1028.9 278.8l10.2-0.3 10.1-0.4 5.3 1.7 5.3 1.8-10.2 0.5-10.1 0.5-5.3-1.9z" fill="#000000" stroke="#000000"/>
<path d="M1059.8 281.6l10.2-0.6 10.1-0.5 5.4 1.5 5.3 1.7-10.2 0.7-10.2 0.8-5.3-1.9z" fill="#000000" stroke="#000000"/>
<path d="M1122 285.2l10.2-1 10.2-1 5.4 1.4 5.4 1.4-10.2 1.2-10.3 1.1-5.4-1.6z" fill="#000000" stroke="#000000"/>
<path d="M1184.7 286.2l10.3-1.3 10.3-1.4 5.5 1.2 5.5 1.1-10.3 1.6-10.4 1.6-5.4-1.4z" fill="#000000" stroke="#000000"/>
<path d="M1216.3 285.8l10.3-1.5 10.4-1.6 5.5 1 5.6 1.1-10.4 1.8-10.4 1.7-5.5-1.2z" fill="#000000" stroke="#000000"/>
<path d="M1280 283.1l10.4-2 10.4-1.9 5.7 0.7 5.6 0.9-10.4 2.2-10.5 2.1-5.6-1z" fill="#000000" stroke="#000000"/>
<path d="M1344.4 277.8l10.5-2.4 10.5-2.4 5.8 0.6 5.7 0.6-10.5 2.6-10.6 2.6-5.7-0.8z" fill="#000000" stroke="#000000"/>
<path d="M1376.9 274.2l10.6-2.6 10.5-2.6 5.8 0.5 5.8 0.4-10.6 2.8-10.6 2.8-5.7-0.7z" fill="#000000" stroke="#000000"/>
<path d="M1442.5 265l10.7-3 10.7-3 5.9 0.2 5.9 0.3-10.8 3.2-10.7 3.2-5.8-0.5z" fill="#000000" stroke="#000000"/>
<path d="M846.1 249.5l10 0.9 10 0.9 5.1 2.3 5.1 2.3-10-0.6-10.1-0.7-5.1-2.6z" fill="#000000" stroke="#000000"/>
<path d="M998.2 275.5l10.1-0.2 10.1-0.1 5.3 1.8 5.2 1.8-10.1 0.4-10.2 0.3-5.2-2z" fill="#000000" stroke="#000000"/>
<path d="M1153.2 286l10.3-1.1 10.3-1.2 5.4 1.2 5.5 1.3-10.3 1.4-10.3 1.4-5.4-1.5z" fill="#000000" stroke="#000000"/>
<path d="M1312.1 280.8l10.5-2.2 10.4-2.2 5.7 0.7 5.7 0.7-10.5 2.4-10.5 2.4-5.6-0.9z" fill="#000000" stroke="#000000"/>
<path d="M947.4 271.4l10 0 10.1 0.1 5.2 2.1 5.2 2.2-10.1 0.1-10.1 0.1-5.2-2.3z" fill="#111403" stroke="#111403"/>
<path d="M1101.5 287.1l10.2-1 10.3-0.9 5.3 1.5 5.4 1.6-10.2 1.2-10.3 1.1-5.3-1.8z" fill="#101303" stroke="#101303"/>
<path d="M886.5 260.8l10 0.5 10.1 0.4 5.1 2.3 5.2 2.4-10.1-0.3-10.1-0.3-5.1-2.5z" fill="#111403" stroke="#111403"/>
<path d="M1039.5 282.6l10.1-0.5 10.2-0.5 5.3 1.7 5.3 1.9-10.2 0.7-10.2 0.7-5.3-2z" fill="#111403" stroke="#111403"/>
<path d="M1195.6 289l10.4-1.6 10.3-1.6 5.5 1.3 5.5 1.2-10.4 1.8-10.3 1.7-5.5-1.4z" fill="#0f1103" stroke="#0f1103"/>
<path d="M1259.2 287l10.4-1.9 10.4-2 5.6 1 5.6 1-10.5 2.2-10.4 2.2-5.6-1.3z" fill="#0e0f03" stroke="#0e0f03"/>
<path d="M1355.8 279.4l10.6-2.6 10.5-2.6 5.8 0.6 5.7 0.7-10.6 2.8-10.6 2.8-5.7-0.9z" fill="#0b0902" stroke="#0b0902"/>
<path d="M1421.2 271l10.7-3 10.6-3 5.9 0.4 5.8 0.5-10.7 3.2-10.7 3.2-5.8-0.7z" fill="#080501" stroke="#080501"/>
<path d="M1454.2 265.9l10.7-3.2 10.8-3.2 5.9 0.2 5.9 0.3-10.8 3.5-10.8 3.4-5.8-0.6z" fill="#060301" stroke="#060301"/>
<path d="M826 247.8l10.1 0.9 10 0.8 5 2.5 5.1 2.6-10-0.7-10.1-0.7-5-2.7z" fill="#111304" stroke="#111304"/>
<path d="M977.9 275.8l10.2-0.2 10.1-0.1 5.2 2 5.2 2-10.1 0.3-10.1 0.4-5.3-2.3z" fill="#111403" stroke="#111403"/>
<path d="M1132.7 288.3l10.3-1.1 10.2-1.2 5.5 1.5 5.4 1.5-10.3 1.3-10.3 1.4-5.4-1.7z" fill="#101203" stroke="#101203"/>
<path d="M1291.2 285.1l10.5-2.1 10.4-2.2 5.7 0.9 5.6 0.9-10.5 2.4-10.5 2.3-5.6-1.1z" fill="#0d0d03" stroke="#0d0d03"/>
<path d="M856.2 254.6l10.1 0.7 10 0.6 5.1 2.4 5.1 2.5-10.1-0.5-10-0.5-5.1-2.6z" fill="#111403" stroke="#111403"/>
<path d="M916.9 266.4l10 0.3 10.1 0.2 5.2 2.2 5.2 2.3-10.1-0.1-10.1-0.1-5.2-2.4z" fill="#111403" stroke="#111403"/>
<path d="M1070.4 285.2l10.2-0.8 10.2-0.7 5.4 1.6 5.3 1.8-10.2 0.9-10.3 0.9-5.3-1.9z" fill="#101303" stroke="#101303"/>
<path d="M1227.3 288.3l10.4-1.7 10.4-1.8 5.5 1.1 5.6 1.1-10.4 2-10.5 2-5.5-1.4z" fill="#0f1003" stroke="#0f1003"/>
<path d="M1388.4 275.5l10.6-2.8 10.6-2.8 5.8 0.6 5.8 0.5-10.6 3-10.7 3-5.7-0.8z" fill="#090701" stroke="#090701"/>
<path d="M1008.6 279.5l10.2-0.3 10.1-0.4 5.3 1.9 5.3 1.9-10.2 0.6-10.2 0.5-5.2-2.1z" fill="#111403" stroke="#111403"/>
<path d="M1164.1 289l10.3-1.4 10.3-1.4 5.5 1.4 5.4 1.4-10.3 1.5-10.3 1.6-5.5-1.6z" fill="#101103" stroke="#101103"/>
<path d="M1323.4 282.6l10.5-2.4 10.5-2.4 5.7 0.8 5.7 0.8-10.5 2.6-10.6 2.5-5.6-1z" fill="#0c0b02" stroke="#0c0b02"/>
<path d="M1432.8 272.3l10.7-3.2 10.7-3.2 5.9 0.4 5.8 0.6-10.7 3.4-10.8 3.4-5.8-0.8z" fill="#1c0f03" stroke="#1c0f03"/>
<path d="M957.7 276l10.1-0.1 10.1-0.1 5.2 2.1 5.3 2.3-10.2 0.3-10.2 0.3-5.1-2.4z" fill="#232a07" stroke="#232a07"/>
<path d="M1112.2 290.6l10.3-1.1 10.2-1.2 5.4 1.7 5.4 1.7-10.3 1.3-10.3 1.3-5.3-1.8z" fill="#232807" stroke="#232807"/>
<path d="M1270.3 289.5l10.4-2.2 10.5-2.2 5.6 1.1 5.6 1.1-10.5 2.4-10.5 2.4-5.5-1.3z" fill="#222307" stroke="#222307"/>
<path d="M836.1 253.2l10.1 0.7 10 0.7 5.1 2.6 5.1 2.6-10.1-0.5-10.1-0.5-5-2.8z" fill="#242908" stroke="#242908"/>
<path d="M896.7 265.8l10.1 0.3 10.1 0.3 5.1 2.4 5.2 2.4-10.2-0.1-10.1-0.1-5.1-2.6z" fill="#242a07" stroke="#242a07"/>
<path d="M1050 286.6l10.2-0.7 10.2-0.7 5.3 1.8 5.3 1.9-10.2 1-10.2 0.9-5.3-2.1z" fill="#232907" stroke="#232907"/>
<path d="M1206.6 291.8l10.3-1.7 10.4-1.8 5.5 1.3 5.5 1.4-10.4 1.9-10.4 2-5.5-1.6z" fill="#232507" stroke="#232507"/>
<path d="M1367.2 281.1l10.6-2.8 10.6-2.8 5.8 0.7 5.7 0.8-10.6 3-10.7 3-5.7-1z" fill="#1f1705" stroke="#1f1705"/>
<path d="M806 246l10 0.9 10 0.9 5.1 2.7 5 2.7-10-0.7-10.1-0.7-5-2.9z" fill="#252908" stroke="#252908"/>
<path d="M927.2 271.2l10.1 0.1 10.1 0.1 5.1 2.3 5.2 2.3-10.1 0.1-10.2 0.1-5.1-2.5z" fill="#242a07" stroke="#242a07"/>
<path d="M988.4 280.2l10.1-0.4 10.1-0.3 5.3 2.1 5.2 2.1-10.2 0.5-10.1 0.6-5.2-2.4z" fill="#232907" stroke="#232907"/>
<path d="M1081 288.9l10.3-0.9 10.2-0.9 5.4 1.7 5.3 1.8-10.3 1.2-10.2 1.1-5.3-2z" fill="#232807" stroke="#232807"/>
<path d="M1143.5 291.7l10.3-1.4 10.3-1.3 5.4 1.5 5.5 1.6-10.4 1.5-10.3 1.6-5.4-1.8z" fill="#232707" stroke="#232707"/>
<path d="M1302.4 287.3l10.5-2.3 10.5-2.4 5.7 0.9 5.6 1-10.5 2.6-10.6 2.6-5.6-1.2z" fill="#221f07" stroke="#221f07"/>
<path d="M866.4 259.8l10 0.5 10.1 0.5 5.1 2.5 5.1 2.5-10.1-0.3-10.1-0.2-5-2.8z" fill="#242907" stroke="#242907"/>
<path d="M1019.1 283.7l10.2-0.5 10.2-0.6 5.2 2 5.3 2-10.2 0.8-10.2 0.7-5.2-2.2z" fill="#232907" stroke="#232907"/>
<path d="M1175 292.1l10.3-1.6 10.3-1.5 5.5 1.4 5.5 1.4-10.4 1.8-10.4 1.8-5.4-1.7z" fill="#232607" stroke="#232607"/>
<path d="M1238.3 291l10.5-2 10.4-2 5.5 1.2 5.6 1.3-10.5 2.1-10.4 2.2-5.5-1.4z" fill="#232407" stroke="#232407"/>
<path d="M1334.7 284.5l10.6-2.5 10.5-2.6 5.7 0.8 5.7 0.9-10.6 2.8-10.6 2.8-5.6-1.1z" fill="#211c06" stroke="#211c06"/>
<path d="M1399.9 277l10.7-3 10.6-3 5.8 0.6 5.8 0.7-10.7 3.2-10.7 3.2-5.7-0.9z" fill="#1e1304" stroke="#1e1304"/>
<path d="M1465.9 266.9l10.8-3.4 10.8-3.5 5.9 0.4 5.9 0.4-10.8 3.6-10.9 3.6-5.8-0.6z" fill="#1a0b03" stroke="#1a0b03"/>
<path d="M906.9 271l10.1 0.1 10.2 0.1 5.1 2.5 5.1 2.5-10.1 0.1-10.1 0.1-5.1-2.7z" fill="#373f0b" stroke="#373f0b"/>
<path d="M968 280.8l10.2-0.3 10.2-0.3 5.2 2.2 5.2 2.4-10.2 0.5-10.2 0.5-5.2-2.5z" fill="#363f0b" stroke="#363f0b"/>
<path d="M1060.6 290.8l10.2-0.9 10.2-1 5.4 2 5.3 2-10.3 1.1-10.3 1.2-5.2-2.2z" fill="#363e0b" stroke="#363e0b"/>
<path d="M1122.9 294.3l10.3-1.3 10.3-1.3 5.4 1.7 5.4 1.8-10.3 1.5-10.4 1.6-5.3-2z" fill="#373d0b" stroke="#373d0b"/>
<path d="M1281.4 292.1l10.5-2.4 10.5-2.4 5.6 1.2 5.6 1.2-10.5 2.6-10.6 2.5-5.5-1.4z" fill="#37350b" stroke="#37350b"/>
<path d="M816 251.8l10.1 0.7 10 0.7 5.1 2.8 5 2.8-10-0.5-10.1-0.5-5.1-3z" fill="#393f0c" stroke="#393f0c"/>
<path d="M846.2 258.8l10.1 0.5 10.1 0.5 5.1 2.7 5 2.8-10.1-0.3-10.1-0.4-5-2.9z" fill="#383f0c" stroke="#383f0c"/>
<path d="M998.8 284.8l10.1-0.6 10.2-0.5 5.3 2.2 5.2 2.2-10.2 0.7-10.2 0.7-5.2-2.4z" fill="#363f0b" stroke="#363f0b"/>
<path d="M1154.3 295.2l10.3-1.6 10.4-1.5 5.4 1.6 5.4 1.7-10.3 1.7-10.4 1.7-5.4-1.8z" fill="#373c0b" stroke="#373c0b"/>
<path d="M1217.5 294.9l10.4-2 10.4-1.9 5.6 1.4 5.5 1.4-10.5 2.2-10.4 2.1-5.5-1.6z" fill="#373a0c" stroke="#373a0c"/>
<path d="M1313.6 289.7l10.6-2.6 10.5-2.6 5.7 1.1 5.6 1.1-10.6 2.7-10.6 2.8-5.6-1.3z" fill="#36300a" stroke="#36300a"/>
<path d="M1378.6 283l10.7-3 10.6-3 5.8 0.8 5.7 0.9-10.7 3.2-10.7 3.1-5.7-1z" fill="#342307" stroke="#342307"/>
<path d="M1411.4 278.7l10.7-3.2 10.7-3.2 5.8 0.6 5.8 0.8-10.7 3.4-10.8 3.4-5.7-1z" fill="#321d06" stroke="#321d06"/>
<path d="M1444.4 273.7l10.8-3.4 10.7-3.4 5.9 0.5 5.8 0.6-10.8 3.6-10.8 3.6-5.8-0.8z" fill="#301605" stroke="#301605"/>
<path d="M1477.6 268l10.9-3.6 10.8-3.6 5.9 0.4 5.9 0.5-10.9 3.8-10.8 3.9-5.9-0.7z" fill="#2e1005" stroke="#2e1005"/>
<path d="M785.9 244.2l10 0.9 10.1 0.9 5 2.9 5 2.9-10-0.7-10.1-0.7-5-3.1z" fill="#393e0c" stroke="#393e0c"/>
<path d="M937.4 276.2l10.2-0.1 10.1-0.1 5.2 2.4 5.1 2.4-10.1 0.3-10.2 0.3-5.1-2.6z" fill="#373f0b" stroke="#373f0b"/>
<path d="M1091.7 292.9l10.2-1.1 10.3-1.2 5.4 1.9 5.3 1.8-10.3 1.4-10.3 1.3-5.3-2.1z" fill="#373d0b" stroke="#373d0b"/>
<path d="M1249.4 293.8l10.4-2.2 10.5-2.1 5.6 1.3 5.5 1.3-10.5 2.3-10.5 2.4-5.5-1.5z" fill="#37390c" stroke="#37390c"/>
<path d="M876.5 265.3l10.1 0.2 10.1 0.3 5.1 2.6 5.1 2.6-10.1 0-10.1-0.1-5.1-2.9z" fill="#383f0c" stroke="#383f0c"/>
<path d="M1029.6 288.1l10.2-0.7 10.2-0.8 5.3 2.1 5.3 2.1-10.3 0.9-10.2 1-5.2-2.3z" fill="#363e0b" stroke="#363e0b"/>
<path d="M1185.8 295.4l10.4-1.8 10.4-1.8 5.4 1.5 5.5 1.6-10.4 2-10.4 1.9-5.4-1.7z" fill="#373b0b" stroke="#373b0b"/>
<path d="M1346 286.7l10.6-2.8 10.6-2.8 5.7 0.9 5.7 1-10.6 3-10.7 3-5.6-1.2z" fill="#352908" stroke="#352908"/>
<path d="M978.4 285.8l10.2-0.5 10.2-0.5 5.2 2.3 5.2 2.4-10.2 0.8-10.2 0.7-5.2-2.6z" fill="#4a550f" stroke="#4a550f"/>
<path d="M1133.6 298.3l10.4-1.6 10.3-1.5 5.4 1.8 5.4 1.8-10.4 1.8-10.3 1.7-5.4-2z" fill="#4b5210" stroke="#4b5210"/>
<path d="M1292.5 294.8l10.6-2.5 10.5-2.6 5.6 1.2 5.6 1.3-10.5 2.8-10.6 2.8-5.6-1.5z" fill="#4c450e" stroke="#4c450e"/>
<path d="M1390 285l10.7-3.1 10.7-3.2 5.8 0.8 5.7 1-10.7 3.4-10.8 3.4-5.7-1.2z" fill="#482d09" stroke="#482d09"/>
<path d="M1456 275.2l10.8-3.6 10.8-3.6 5.9 0.7 5.9 0.7-10.9 3.8-10.8 3.8-5.9-0.9z" fill="#441b07" stroke="#441b07"/>
<path d="M917.2 276.4l10.1-0.1 10.1-0.1 5.2 2.6 5.1 2.6-10.1 0.3-10.2 0.3-5.1-2.8z" fill="#4b5510" stroke="#4b5510"/>
<path d="M1071.1 295.2l10.3-1.2 10.3-1.1 5.3 2 5.3 2.1-10.3 1.3-10.3 1.4-5.3-2.3z" fill="#4a5310" stroke="#4a5310"/>
<path d="M1228.5 298.1l10.4-2.1 10.5-2.2 5.5 1.5 5.5 1.5-10.5 2.4-10.5 2.3-5.4-1.7z" fill="#4c4f10" stroke="#4c4f10"/>
<path d="M765.8 242.4l10 0.9 10.1 0.9 5 3.1 5 3.1-10.1-0.7-10.1-0.7-4.9-3.3z" fill="#4f5411" stroke="#4f5411"/>
<path d="M795.9 250.4l10.1 0.7 10 0.7 5 3 5.1 3-10.1-0.5-10.1-0.5-5-3.2z" fill="#4e5510" stroke="#4e5510"/>
<path d="M826.1 257.8l10.1 0.5 10 0.5 5.1 2.9 5 2.9-10.1-0.3-10.1-0.3-5-3.1z" fill="#4d5510" stroke="#4d5510"/>
<path d="M856.3 264.6l10.1 0.4 10.1 0.3 5.1 2.7 5.1 2.9-10.1-0.2-10.1-0.1-5.1-3z" fill="#4c5510" stroke="#4c5510"/>
<path d="M1009.2 289.5l10.2-0.7 10.2-0.7 5.3 2.3 5.2 2.3-10.2 0.9-10.3 0.9-5.2-2.5z" fill="#4a540f" stroke="#4a540f"/>
<path d="M1165.1 298.8l10.4-1.7 10.3-1.7 5.5 1.7 5.4 1.7-10.4 2-10.4 1.9-5.4-1.9z" fill="#4b5110" stroke="#4b5110"/>
<path d="M1324.8 292.2l10.6-2.8 10.6-2.7 5.7 1.1 5.6 1.2-10.6 3-10.6 2.9-5.6-1.3z" fill="#4b3d0d" stroke="#4b3d0d"/>
<path d="M886.7 270.9l10.1 0.1 10.1 0 5.2 2.7 5.1 2.7-10.2 0.1-10.1 0.1-5.1-2.9z" fill="#4c5510" stroke="#4c5510"/>
<path d="M947.7 281.4l10.2-0.3 10.1-0.3 5.2 2.5 5.2 2.5-10.2 0.5-10.2 0.5-5.1-2.7z" fill="#4a550f" stroke="#4a550f"/>
<path d="M1040.1 292.7l10.2-1 10.3-0.9 5.3 2.2 5.2 2.2-10.2 1.1-10.3 1.1-5.2-2.4z" fill="#4a540f" stroke="#4a540f"/>
<path d="M1102.3 297l10.3-1.3 10.3-1.4 5.4 2 5.3 2-10.3 1.5-10.3 1.5-5.4-2.2z" fill="#4a520f" stroke="#4a520f"/>
<path d="M1260.4 296.8l10.5-2.4 10.5-2.3 5.6 1.3 5.5 1.4-10.5 2.6-10.5 2.6-5.5-1.6z" fill="#4c4b0f" stroke="#4c4b0f"/>
<path d="M1196.7 298.8l10.4-1.9 10.4-2 5.5 1.6 5.5 1.6-10.5 2.2-10.4 2.1-5.5-1.8z" fill="#4b5010" stroke="#4b5010"/>
<path d="M1357.3 289l10.7-3 10.6-3 5.7 1 5.7 1-10.7 3.2-10.6 3.2-5.7-1.2z" fill="#49340a" stroke="#49340a"/>
<path d="M1422.9 280.5l10.8-3.4 10.7-3.4 5.8 0.7 5.8 0.8-10.8 3.7-10.8 3.6-5.7-1.1z" fill="#462408" stroke="#462408"/>
<path d="M1489.4 269.4l10.8-3.9 10.9-3.8 5.9 0.5 5.9 0.6-10.9 4-10.9 4.1-5.9-0.8z" fill="#421407" stroke="#421407"/>
<path d="M988.8 291l10.2-0.7 10.2-0.8 5.2 2.5 5.2 2.5-10.2 0.9-10.2 0.9-5.2-2.7z" fill="#5e6a13" stroke="#5e6a13"/>
<path d="M1144.4 302.3l10.3-1.7 10.4-1.8 5.4 2 5.4 1.9-10.4 2-10.4 1.9-5.4-2.2z" fill="#5f6714" stroke="#5f6714"/>
<path d="M1303.7 297.8l10.6-2.8 10.5-2.8 5.7 1.4 5.6 1.3-10.7 3-10.6 3-5.5-1.6z" fill="#615311" stroke="#615311"/>
<path d="M866.5 270.6l10.1 0.1 10.1 0.2 5.1 2.8 5.1 2.9-10.2 0.1-10.1 0.1-5.1-3.1z" fill="#616b14" stroke="#616b14"/>
<path d="M927.4 282l10.2-0.3 10.1-0.3 5.2 2.7 5.1 2.7-10.1 0.5-10.2 0.5-5.2-2.9z" fill="#5f6b14" stroke="#5f6b14"/>
<path d="M1019.6 294.5l10.3-0.9 10.2-0.9 5.3 2.3 5.2 2.4-10.3 1.1-10.2 1.1-5.2-2.6z" fill="#5e6a13" stroke="#5e6a13"/>
<path d="M1081.7 299.7l10.3-1.4 10.3-1.3 5.3 2.1 5.4 2.2-10.4 1.6-10.3 1.5-5.3-2.4z" fill="#5e6814" stroke="#5e6814"/>
<path d="M1239.4 301.5l10.5-2.3 10.5-2.4 5.6 1.6 5.5 1.6-10.6 2.6-10.5 2.5-5.5-1.8z" fill="#616214" stroke="#616214"/>
<path d="M745.7 240.5l10 1 10.1 0.9 5 3.3 4.9 3.3-10-0.8-10.1-0.7-5-3.5z" fill="#666b16" stroke="#666b16"/>
<path d="M775.7 249l10.1 0.7 10.1 0.7 5 3.2 5 3.2-10.1-0.5-10.1-0.6-5-3.4z" fill="#646b15" stroke="#646b15"/>
<path d="M805.9 256.8l10.1 0.5 10.1 0.5 5 3.1 5 3.1-10.1-0.3-10.1-0.3-5-3.3z" fill="#636b15" stroke="#636b15"/>
<path d="M836.1 264l10.1 0.3 10.1 0.3 5.1 3 5.1 3-10.2-0.1-10.1-0.1-5-3.2z" fill="#626b14" stroke="#626b14"/>
<path d="M958 286.8l10.2-0.5 10.2-0.5 5.2 2.6 5.2 2.6-10.2 0.7-10.3 0.7-5.1-2.8z" fill="#5f6b14" stroke="#5f6b14"/>
<path d="M1113 301.3l10.3-1.5 10.3-1.5 5.4 2 5.4 2-10.4 1.8-10.4 1.7-5.3-2.3z" fill="#5f6814" stroke="#5f6814"/>
<path d="M1175.9 302.7l10.4-1.9 10.4-2 5.4 1.8 5.5 1.8-10.5 2.2-10.4 2.2-5.4-2.1z" fill="#606614" stroke="#606614"/>
<path d="M1271.5 300l10.5-2.6 10.5-2.6 5.6 1.5 5.6 1.5-10.6 2.8-10.6 2.7-5.5-1.7z" fill="#615b13" stroke="#615b13"/>
<path d="M1336.1 294.9l10.6-2.9 10.6-3 5.7 1.2 5.7 1.2-10.7 3.2-10.7 3.2-5.6-1.4z" fill="#5f480f" stroke="#5f480f"/>
<path d="M1368.7 291.4l10.6-3.2 10.7-3.2 5.7 1.1 5.7 1.2-10.7 3.4-10.7 3.4-5.7-1.4z" fill="#5e3e0c" stroke="#5e3e0c"/>
<path d="M1401.4 287.3l10.8-3.4 10.7-3.4 5.8 0.9 5.7 1.1-10.7 3.6-10.8 3.6-5.7-1.2z" fill="#5c330b" stroke="#5c330b"/>
<path d="M1434.4 282.5l10.8-3.6 10.8-3.7 5.8 0.9 5.9 0.9-10.9 3.8-10.8 3.8-5.8-1.1z" fill="#5a280a" stroke="#5a280a"/>
<path d="M1467.7 277l10.8-3.8 10.9-3.8 5.8 0.7 5.9 0.8-10.9 4-10.9 4-5.8-1z" fill="#571e09" stroke="#571e09"/>
<path d="M1501.1 270.9l10.9-4.1 10.9-4 5.9 0.6 6 0.7-11 4.2-11 4.2-5.9-0.8z" fill="#551608" stroke="#551608"/>
<path d="M896.9 276.6l10.1-0.1 10.2-0.1 5.1 2.8 5.1 2.8-10.2 0.3-10.1 0.3-5.1-3z" fill="#606b14" stroke="#606b14"/>
<path d="M1050.6 297.4l10.3-1.1 10.2-1.1 5.3 2.2 5.3 2.3-10.3 1.3-10.3 1.3-5.2-2.5z" fill="#5e6914" stroke="#5e6914"/>
<path d="M1207.6 302.4l10.4-2.1 10.5-2.2 5.5 1.7 5.4 1.7-10.4 2.4-10.5 2.4-5.5-2z" fill="#606514" stroke="#606514"/>
<path d="M999.2 296.3l10.2-0.9 10.2-0.9 5.3 2.5 5.2 2.6-10.3 1.1-10.3 1.2-5.2-2.8z" fill="#728018" stroke="#728018"/>
<path d="M937.7 287.8l10.2-0.5 10.1-0.5 5.2 2.8 5.1 2.8-10.2 0.7-10.2 0.7-5.1-3z" fill="#738118" stroke="#738118"/>
<path d="M1092.3 304.4l10.3-1.5 10.4-1.6 5.3 2.2 5.3 2.3-10.3 1.7-10.4 1.8-5.3-2.5z" fill="#737e18" stroke="#737e18"/>
<path d="M1155.1 306.6l10.4-1.9 10.4-2 5.4 2 5.4 2.1-10.4 2.1-10.5 2.1-5.4-2.2z" fill="#747c19" stroke="#747c19"/>
<path d="M1250.4 305.1l10.5-2.5 10.6-2.6 5.5 1.6 5.5 1.7-10.5 2.8-10.6 2.8-5.5-1.9z" fill="#767218" stroke="#767218"/>
<path d="M1314.8 300.9l10.6-3 10.7-3 5.6 1.5 5.6 1.4-10.7 3.2-10.6 3.2-5.6-1.7z" fill="#755e13" stroke="#755e13"/>
<path d="M1347.3 297.8l10.7-3.2 10.7-3.2 5.6 1.3 5.7 1.4-10.7 3.4-10.8 3.4-5.6-1.6z" fill="#735110" stroke="#735110"/>
<path d="M1412.9 289.7l10.8-3.6 10.7-3.6 5.8 1 5.8 1.1-10.9 3.9-10.8 3.8-5.7-1.3z" fill="#70380d" stroke="#70380d"/>
<path d="M1479.3 278.9l10.9-4 10.9-4 5.8 0.8 5.9 0.8-11 4.3-10.9 4.2-5.8-1.1z" fill="#6b200b" stroke="#6b200b"/>
<path d="M1512.8 272.5l11-4.2 11-4.2 5.9 0.7 5.9 0.7-11 4.4-11.1 4.5-5.8-1z" fill="#671709" stroke="#671709"/>
<path d="M725.5 238.7l10.1 0.9 10.1 0.9 4.9 3.5 5 3.5-10.1-0.7-10.1-0.8-5-3.7z" fill="#7d7c1a" stroke="#7d7c1a"/>
<path d="M785.7 255.7l10.1 0.6 10.1 0.5 5 3.3 5 3.3-10.1-0.4-10.1-0.3-5-3.5z" fill="#7a8119" stroke="#7a8119"/>
<path d="M846.2 270.4l10.1 0.1 10.2 0.1 5 3.1 5.1 3.1-10.2 0.1-10.1 0.1-5-3.3z" fill="#778219" stroke="#778219"/>
<path d="M876.6 276.8l10.1-0.1 10.2-0.1 5.1 3 5.1 3-10.2 0.3-10.2 0.3-5-3.2z" fill="#758119" stroke="#758119"/>
<path d="M1030.1 299.6l10.2-1.1 10.3-1.1 5.3 2.4 5.2 2.5-10.3 1.3-10.3 1.4-5.2-2.7z" fill="#727f18" stroke="#727f18"/>
<path d="M1186.7 306.8l10.4-2.2 10.5-2.2 5.4 1.9 5.5 2-10.5 2.3-10.5 2.4-5.4-2.2z" fill="#747b19" stroke="#747b19"/>
<path d="M755.6 247.5l10.1 0.7 10 0.8 5 3.3 5 3.4-10.1-0.5-10.1-0.5-5-3.6z" fill="#7c811a" stroke="#7c811a"/>
<path d="M815.9 263.4l10.1 0.3 10.1 0.3 5.1 3.2 5 3.2-10.1-0.1-10.2-0.2-5-3.4z" fill="#788119" stroke="#788119"/>
<path d="M968.3 292.4l10.3-0.7 10.2-0.7 5.2 2.6 5.2 2.7-10.3 0.9-10.2 0.9-5.2-2.9z" fill="#738018" stroke="#738018"/>
<path d="M1123.6 305.8l10.4-1.7 10.4-1.8 5.3 2.1 5.4 2.2-10.4 1.9-10.4 2-5.4-2.4z" fill="#737d18" stroke="#737d18"/>
<path d="M1282.5 303.3l10.6-2.7 10.6-2.8 5.6 1.5 5.5 1.6-10.6 3-10.6 3-5.5-1.8z" fill="#766a16" stroke="#766a16"/>
<path d="M907.1 282.6l10.1-0.3 10.2-0.3 5.1 2.9 5.2 2.9-10.2 0.5-10.2 0.5-5.1-3.1z" fill="#748118" stroke="#748118"/>
<path d="M1061.1 302.3l10.3-1.3 10.3-1.3 5.3 2.3 5.3 2.4-10.3 1.5-10.4 1.5-5.2-2.5z" fill="#727f18" stroke="#727f18"/>
<path d="M1218.5 306.3l10.5-2.4 10.4-2.4 5.5 1.8 5.5 1.8-10.5 2.6-10.5 2.6-5.5-2.1z" fill="#757919" stroke="#757919"/>
<path d="M1380 294.1l10.7-3.4 10.7-3.4 5.8 1.2 5.7 1.2-10.8 3.6-10.8 3.6-5.6-1.4z" fill="#72460e" stroke="#72460e"/>
<path d="M1446 284.6l10.8-3.8 10.9-3.8 5.8 0.9 5.8 1-10.9 4-10.9 4.1-5.8-1.2z" fill="#6d2c0c" stroke="#6d2c0c"/>
<path d="M1326 304.2l10.6-3.2 10.7-3.2 5.6 1.5 5.6 1.6-10.7 3.4-10.7 3.4-5.6-1.8z" fill="#896715" stroke="#896715"/>
<path d="M1490.9 281l10.9-4.2 11-4.3 5.9 0.9 5.8 1-11 4.4-11 4.5-5.8-1.2z" fill="#7d210c" stroke="#7d210c"/>
<path d="M1009.5 301.9l10.3-1.2 10.3-1.1 5.2 2.7 5.2 2.7-10.3 1.3-10.3 1.3-5.2-2.9z" fill="#87951c" stroke="#87951c"/>
<path d="M1165.8 311l10.5-2.1 10.4-2.1 5.4 2 5.4 2.2-10.5 2.3-10.4 2.4-5.4-2.4z" fill="#88911d" stroke="#88911d"/>
<path d="M735.4 246l10.1 0.8 10.1 0.7 4.9 3.6 5 3.6-10.1-0.6-10.1-0.5-5-3.8z" fill="#93931e" stroke="#93931e"/>
<path d="M947.9 293.8l10.2-0.7 10.2-0.7 5.2 2.8 5.2 2.9-10.3 0.9-10.2 0.9-5.2-3.1z" fill="#88961c" stroke="#88961c"/>
<path d="M1102.9 309.3l10.4-1.8 10.3-1.7 5.3 2.3 5.4 2.4-10.4 1.9-10.4 2-5.3-2.6z" fill="#87931d" stroke="#87931d"/>
<path d="M1261.4 308.9l10.6-2.8 10.5-2.8 5.6 1.8 5.5 1.8-10.6 3-10.6 2.9-5.5-2z" fill="#8b811b" stroke="#8b811b"/>
<path d="M705.3 236.8l10.1 0.9 10.1 1 4.9 3.6 5 3.7-10.1-0.7-10.1-0.8-4.9-3.9z" fill="#958a1d" stroke="#958a1d"/>
<path d="M765.5 254.7l10.1 0.5 10.1 0.5 5 3.5 5 3.5-10.1-0.3-10.2-0.4-4.9-3.7z" fill="#91981f" stroke="#91981f"/>
<path d="M795.7 262.7l10.1 0.3 10.1 0.4 5 3.3 5 3.4-10.1-0.1-10.1-0.1-5-3.6z" fill="#8f981e" stroke="#8f981e"/>
<path d="M825.9 270.1l10.2 0.2 10.1 0.1 5.1 3.3 5 3.3-10.2 0-10.1 0.1-5-3.5z" fill="#8d971d" stroke="#8d971d"/>
<path d="M856.3 277l10.1-0.1 10.2-0.1 5.1 3.2 5 3.2-10.1 0.3-10.2 0.2-5.1-3.4z" fill="#8b981d" stroke="#8b981d"/>
<path d="M886.7 283.2l10.2-0.3 10.2-0.3 5.1 3.1 5.1 3.1-10.2 0.5-10.2 0.4-5.1-3.3z" fill="#8a971d" stroke="#8a971d"/>
<path d="M978.7 298.1l10.2-0.9 10.3-0.9 5.1 2.8 5.2 2.8-10.2 1.1-10.3 1.1-5.2-3z" fill="#87961c" stroke="#87961c"/>
<path d="M1040.5 305l10.3-1.4 10.3-1.3 5.3 2.6 5.2 2.5-10.3 1.6-10.3 1.5-5.3-2.8z" fill="#87951c" stroke="#87951c"/>
<path d="M1197.5 311l10.5-2.4 10.5-2.3 5.4 1.9 5.5 2.1-10.6 2.5-10.5 2.6-5.4-2.2z" fill="#8a901d" stroke="#8a901d"/>
<path d="M917.3 288.8l10.2-0.5 10.2-0.5 5.1 3 5.1 3-10.2 0.6-10.2 0.7-5.1-3.2z" fill="#89971d" stroke="#89971d"/>
<path d="M1071.6 307.4l10.4-1.5 10.3-1.5 5.3 2.4 5.3 2.5-10.4 1.7-10.3 1.7-5.3-2.6z" fill="#87941c" stroke="#87941c"/>
<path d="M1134.3 310.5l10.4-2 10.4-1.9 5.3 2.2 5.4 2.2-10.4 2.2-10.5 2.1-5.3-2.4z" fill="#88921d" stroke="#88921d"/>
<path d="M1229.4 310.3l10.5-2.6 10.5-2.6 5.5 1.9 5.5 1.9-10.6 2.8-10.5 2.7-5.5-2.1z" fill="#8a8a1c" stroke="#8a8a1c"/>
<path d="M1293.6 306.9l10.6-3 10.6-3 5.6 1.6 5.6 1.7-10.7 3.2-10.7 3.2-5.5-1.9z" fill="#8b7618" stroke="#8b7618"/>
<path d="M1358.5 300.9l10.8-3.4 10.7-3.4 5.7 1.4 5.6 1.4-10.8 3.6-10.7 3.6-5.6-1.6z" fill="#885912" stroke="#885912"/>
<path d="M1391.3 296.9l10.8-3.6 10.8-3.6 5.7 1.3 5.7 1.3-10.8 3.8-10.9 3.8-5.6-1.5z" fill="#864b10" stroke="#864b10"/>
<path d="M1424.3 292.3l10.8-3.8 10.9-3.9 5.7 1.2 5.8 1.2-10.9 4-10.9 4-5.7-1.4z" fill="#833b0f" stroke="#833b0f"/>
<path d="M1457.5 287l10.9-4.1 10.9-4 5.8 1 5.8 1.1-11 4.2-10.9 4.3-5.8-1.3z" fill="#802d0d" stroke="#802d0d"/>
<path d="M1524.5 274.4l11.1-4.5 11-4.4 5.9 0.8 5.9 0.8-11.1 4.6-11 4.7-5.9-1z" fill="#79170a" stroke="#79170a"/>
<path d="M958.2 299.9l10.2-0.9 10.3-0.9 5.1 3 5.2 3-10.3 1.1-10.3 1-5.1-3.1z" fill="#9cac21" stroke="#9cac21"/>
<path d="M1019.9 307.6l10.3-1.3 10.3-1.3 5.2 2.7 5.3 2.8-10.4 1.5-10.3 1.5-5.2-3z" fill="#9bab21" stroke="#9bab21"/>
<path d="M1176.6 315.7l10.4-2.4 10.5-2.3 5.4 2.2 5.4 2.2-10.5 2.5-10.5 2.6-5.4-2.4z" fill="#9ea621" stroke="#9ea621"/>
<path d="M715.2 244.5l10.1 0.8 10.1 0.7 4.9 3.8 5 3.8-10.2-0.6-10.1-0.6-4.9-4z" fill="#aba121" stroke="#aba121"/>
<path d="M745.3 253.6l10.1 0.5 10.1 0.6 5 3.6 4.9 3.7-10.1-0.3-10.2-0.4-4.9-3.9z" fill="#a9aa23" stroke="#a9aa23"/>
<path d="M805.7 269.9l10.1 0.1 10.1 0.1 5.1 3.5 5 3.5-10.2 0.1-10.2 0-5-3.7z" fill="#a4ae22" stroke="#a4ae22"/>
<path d="M896.9 289.7l10.2-0.4 10.2-0.5 5.1 3.1 5.1 3.2-10.3 0.7-10.2 0.7-5.1-3.4z" fill="#9ead21" stroke="#9ead21"/>
<path d="M1051 310.5l10.3-1.5 10.3-1.6 5.3 2.7 5.3 2.6-10.4 1.8-10.4 1.7-5.2-2.9z" fill="#9baa20" stroke="#9baa20"/>
<path d="M1113.5 314.4l10.4-2 10.4-1.9 5.3 2.4 5.3 2.4-10.4 2.2-10.4 2.1-5.3-2.6z" fill="#9ba821" stroke="#9ba821"/>
<path d="M1208.3 315.4l10.5-2.6 10.6-2.5 5.4 2 5.5 2.1-10.6 2.8-10.6 2.8-5.4-2.3z" fill="#9fa322" stroke="#9fa322"/>
<path d="M1272.4 312.8l10.6-2.9 10.6-3 5.5 1.8 5.5 1.9-10.6 3.2-10.7 3.2-5.4-2.1z" fill="#a08e1e" stroke="#a08e1e"/>
<path d="M1304.6 310.6l10.7-3.2 10.7-3.2 5.5 1.7 5.6 1.8-10.7 3.4-10.7 3.4-5.5-2z" fill="#9f7f1a" stroke="#9f7f1a"/>
<path d="M1337.1 307.7l10.7-3.4 10.7-3.4 5.7 1.6 5.6 1.6-10.8 3.6-10.7 3.6-5.6-1.8z" fill="#9d6f16" stroke="#9d6f16"/>
<path d="M1369.8 304.1l10.7-3.6 10.8-3.6 5.7 1.5 5.6 1.5-10.8 3.8-10.8 3.8-5.6-1.7z" fill="#9c6013" stroke="#9c6013"/>
<path d="M1435.7 295l10.9-4 10.9-4 5.7 1.2 5.8 1.3-10.9 4.2-11 4.3-5.7-1.5z" fill="#963d10" stroke="#963d10"/>
<path d="M1469 289.5l10.9-4.3 11-4.2 5.8 1.1 5.8 1.2-11 4.4-11 4.5-5.7-1.4z" fill="#932e0f" stroke="#932e0f"/>
<path d="M1502.5 283.3l11-4.5 11-4.4 5.9 1 5.9 1-11.1 4.7-11.1 4.6-5.8-1.2z" fill="#8f220d" stroke="#8f220d"/>
<path d="M1536.3 276.4l11-4.7 11.1-4.6 5.9 0.8 6 1-11.2 4.8-11.1 4.9-5.9-1.1z" fill="#8c190b" stroke="#8c190b"/>
<path d="M685.2 234.9l10.1 0.9 10 1 5 3.8 4.9 3.9-10.1-0.8-10.1-0.7-4.9-4.1z" fill="#ad951f" stroke="#ad951f"/>
<path d="M775.4 262l10.2 0.4 10.1 0.3 5 3.6 5 3.6-10.2-0.2-10.1-0.1-5-3.8z" fill="#a7ae23" stroke="#a7ae23"/>
<path d="M836 277.1l10.1-0.1 10.2 0 5 3.3 5.1 3.4-10.2 0.3-10.2 0.3-5-3.6z" fill="#a2af22" stroke="#a2af22"/>
<path d="M866.4 283.7l10.2-0.2 10.1-0.3 5.1 3.2 5.1 3.3-10.2 0.5-10.2 0.5-5.1-3.5z" fill="#a0ae22" stroke="#a0ae22"/>
<path d="M989 304.1l10.3-1.1 10.2-1.1 5.2 2.8 5.2 2.9-10.3 1.3-10.3 1.3-5.2-3.1z" fill="#9bac21" stroke="#9bac21"/>
<path d="M1144.9 315.3l10.5-2.1 10.4-2.2 5.4 2.3 5.4 2.4-10.5 2.3-10.5 2.4-5.3-2.6z" fill="#9da721" stroke="#9da721"/>
<path d="M927.5 295.1l10.2-0.7 10.2-0.6 5.1 3 5.2 3.1-10.3 0.9-10.2 0.9-5.1-3.3z" fill="#9dad21" stroke="#9dad21"/>
<path d="M1082.2 312.7l10.3-1.7 10.4-1.7 5.3 2.5 5.3 2.6-10.4 1.9-10.4 1.9-5.3-2.8z" fill="#9ba921" stroke="#9ba921"/>
<path d="M1240.3 314.4l10.5-2.7 10.6-2.8 5.5 1.9 5.5 2-10.6 3-10.6 3-5.5-2.2z" fill="#a09920" stroke="#a09920"/>
<path d="M1402.6 299.9l10.9-3.8 10.8-3.8 5.7 1.3 5.7 1.4-10.9 4.1-10.8 4-5.7-1.6z" fill="#994e12" stroke="#994e12"/>
<path d="M1030.3 313.5l10.3-1.5 10.4-1.5 5.2 2.8 5.2 2.9-10.3 1.7-10.4 1.7-5.2-3.1z" fill="#afc025" stroke="#afc025"/>
<path d="M1187.3 320.5l10.5-2.6 10.5-2.5 5.4 2.3 5.4 2.3-10.5 2.7-10.6 2.8-5.3-2.5z" fill="#b3bb26" stroke="#b3bb26"/>
<path d="M1283.3 317l10.7-3.2 10.6-3.2 5.6 1.9 5.5 2-10.7 3.4-10.7 3.4-5.5-2.2z" fill="#b49a20" stroke="#b49a20"/>
<path d="M1348.3 311.3l10.7-3.6 10.8-3.6 5.6 1.7 5.6 1.7-10.8 3.9-10.8 3.8-5.6-2z" fill="#b17617" stroke="#b17617"/>
<path d="M1447.1 298l11-4.3 10.9-4.2 5.8 1.3 5.7 1.4-11 4.4-10.9 4.5-5.7-1.6z" fill="#a93e12" stroke="#a93e12"/>
<path d="M1514.1 285.7l11.1-4.6 11.1-4.7 5.8 1.1 5.9 1.1-11.1 4.9-11.1 4.9-5.8-1.4z" fill="#a2210e" stroke="#a2210e"/>
<path d="M968.4 306.2l10.3-1 10.3-1.1 5.1 3 5.2 3.1-10.3 1.3-10.3 1.3-5.1-3.3z" fill="#b0c225" stroke="#b0c225"/>
<path d="M1124.1 319.6l10.4-2.1 10.4-2.2 5.4 2.5 5.3 2.6-10.5 2.3-10.4 2.4-5.3-2.8z" fill="#b0bd25" stroke="#b0bd25"/>
<path d="M665 232.9l10.1 1 10.1 1 4.9 4 4.9 4.1-10.2-0.8-10.1-0.8-4.9-4.3z" fill="#c39a20" stroke="#c39a20"/>
<path d="M695 243l10.1 0.7 10.1 0.8 4.9 3.9 4.9 4-10.1-0.5-10.1-0.6-4.9-4.2z" fill="#c4ac24" stroke="#c4ac24"/>
<path d="M725 252.4l10.1 0.6 10.2 0.6 4.9 3.8 4.9 3.9-10.1-0.4-10.1-0.3-5-4.1z" fill="#c1b826" stroke="#c1b826"/>
<path d="M755.1 261.3l10.2 0.4 10.1 0.3 5 3.8 5 3.8-10.2-0.2-10.2-0.2-4.9-4z" fill="#c0c127" stroke="#c0c127"/>
<path d="M785.4 269.6l10.1 0.1 10.2 0.2 4.9 3.6 5 3.7-10.1 0.1-10.2 0-5-3.9z" fill="#bcc528" stroke="#bcc528"/>
<path d="M815.6 277.2l10.2 0 10.2-0.1 5 3.6 5 3.6-10.2 0.2-10.2 0.3-5-3.8z" fill="#b9c527" stroke="#b9c527"/>
<path d="M876.5 290.7l10.2-0.5 10.2-0.5 5 3.4 5.1 3.4-10.2 0.7-10.2 0.6-5.1-3.6z" fill="#b5c426" stroke="#b5c426"/>
<path d="M907 296.5l10.2-0.7 10.3-0.7 5.1 3.3 5.1 3.3-10.3 0.9-10.2 0.8-5.1-3.5z" fill="#b3c325" stroke="#b3c325"/>
<path d="M1061.4 316.2l10.4-1.7 10.4-1.8 5.2 2.7 5.3 2.8-10.4 1.9-10.4 2-5.3-3z" fill="#afbf24" stroke="#afbf24"/>
<path d="M1219.1 320l10.6-2.8 10.6-2.8 5.4 2.2 5.5 2.2-10.6 3-10.6 2.9-5.5-2.4z" fill="#b4b325" stroke="#b4b325"/>
<path d="M846 284.3l10.2-0.3 10.2-0.3 5 3.5 5.1 3.5-10.2 0.4-10.3 0.5-5-3.7z" fill="#b6c426" stroke="#b6c426"/>
<path d="M937.7 301.7l10.2-0.9 10.3-0.9 5.1 3.2 5.1 3.1-10.2 1.1-10.3 1.1-5.1-3.4z" fill="#b1c325" stroke="#b1c325"/>
<path d="M999.3 310.2l10.3-1.3 10.3-1.3 5.2 2.9 5.2 3-10.3 1.5-10.4 1.5-5.1-3.2z" fill="#afc125" stroke="#afc125"/>
<path d="M1155.6 320.4l10.5-2.4 10.5-2.3 5.3 2.4 5.4 2.4-10.5 2.6-10.5 2.5-5.4-2.6z" fill="#b1bc26" stroke="#b1bc26"/>
<path d="M1092.7 318.2l10.4-1.9 10.4-1.9 5.3 2.6 5.3 2.6-10.5 2.2-10.4 2.1-5.3-2.9z" fill="#afbe25" stroke="#afbe25"/>
<path d="M1251.2 318.8l10.6-3 10.6-3 5.5 2.1 5.4 2.1-10.6 3.2-10.7 3.1-5.4-2.3z" fill="#b5a723" stroke="#b5a723"/>
<path d="M1315.7 314.5l10.7-3.4 10.7-3.4 5.6 1.8 5.6 1.8-10.8 3.7-10.7 3.6-5.6-2.1z" fill="#b3881b" stroke="#b3881b"/>
<path d="M1381 307.5l10.8-3.8 10.8-3.8 5.7 1.6 5.7 1.6-10.9 4-10.8 4.1-5.7-1.9z" fill="#af6515" stroke="#af6515"/>
<path d="M1414 303.1l10.8-4 10.9-4.1 5.7 1.5 5.7 1.5-10.9 4.2-10.9 4.3-5.7-1.8z" fill="#ac5113" stroke="#ac5113"/>
<path d="M1480.5 292.2l11-4.5 11-4.4 5.8 1.2 5.8 1.2-11 4.7-11 4.7-5.8-1.5z" fill="#a62e10" stroke="#a62e10"/>
<path d="M1548 278.6l11.1-4.9 11.2-4.8 5.9 0.9 5.9 1-11.2 5.1-11.2 5.1-5.8-1.2z" fill="#9e1b0c" stroke="#9e1b0c"/>
<path d="M1040.7 319.6l10.4-1.7 10.3-1.7 5.2 2.9 5.3 3-10.4 1.9-10.4 1.9-5.2-3.2z" fill="#c3d529" stroke="#c3d529"/>
<path d="M1198 325.5l10.6-2.8 10.5-2.7 5.4 2.3 5.5 2.4-10.6 3-10.6 3-5.4-2.6z" fill="#c8cd2a" stroke="#c8cd2a"/>
<path d="M765 269.2l10.2 0.2 10.2 0.2 4.9 3.8 5 3.9-10.2 0-10.2 0.1-4.9-4.1z" fill="#d5db2d" stroke="#d5db2d"/>
<path d="M917.2 303.4l10.2-0.8 10.3-0.9 5.1 3.3 5.1 3.4-10.3 1.1-10.3 1.1-5.1-3.6z" fill="#c7d929" stroke="#c7d929"/>
<path d="M978.7 312.8l10.3-1.3 10.3-1.3 5.2 3.1 5.1 3.2-10.3 1.5-10.3 1.5-5.2-3.4z" fill="#c4d729" stroke="#c4d729"/>
<path d="M1134.7 325.1l10.4-2.4 10.5-2.3 5.3 2.6 5.4 2.6-10.5 2.6-10.6 2.5-5.2-2.8z" fill="#c5d229" stroke="#c5d229"/>
<path d="M644.7 230.9l10.1 1 10.2 1 4.8 4.2 4.9 4.3-10.1-0.8-10.2-0.8-4.8-4.4z" fill="#db9c1f" stroke="#db9c1f"/>
<path d="M674.7 241.4l10.1 0.8 10.2 0.8 4.9 4.1 4.9 4.2-10.2-0.6-10.1-0.6-4.9-4.4z" fill="#dbb124" stroke="#dbb124"/>
<path d="M704.8 251.3l10.1 0.6 10.1 0.5 4.9 4.1 5 4.1-10.2-0.4-10.1-0.4-4.9-4.3z" fill="#dbc329" stroke="#dbc329"/>
<path d="M734.9 260.6l10.1 0.3 10.1 0.4 5 3.9 4.9 4-10.1-0.1-10.2-0.2-4.9-4.2z" fill="#d7d02b" stroke="#d7d02b"/>
<path d="M795.3 277.3l10.2 0 10.1-0.1 5 3.8 5 3.8-10.2 0.2-10.2 0.2-4.9-4z" fill="#d1dc2c" stroke="#d1dc2c"/>
<path d="M825.6 284.8l10.2-0.3 10.2-0.2 5 3.6 5 3.7-10.2 0.5-10.2 0.4-5-3.9z" fill="#cedb2b" stroke="#cedb2b"/>
<path d="M856 291.6l10.3-0.5 10.2-0.4 5 3.5 5.1 3.6-10.3 0.7-10.2 0.6-5-3.8z" fill="#cbdb2a" stroke="#cbdb2a"/>
<path d="M886.6 297.8l10.2-0.6 10.2-0.7 5.1 3.4 5.1 3.5-10.3 0.9-10.2 0.9-5.1-3.7z" fill="#c9da2a" stroke="#c9da2a"/>
<path d="M1009.6 316.5l10.4-1.5 10.3-1.5 5.2 3 5.2 3.1-10.4 1.7-10.3 1.7-5.2-3.3z" fill="#c4d629" stroke="#c4d629"/>
<path d="M1071.9 322.1l10.4-2 10.4-1.9 5.2 2.8 5.3 2.9-10.4 2.1-10.5 2.1-5.2-3z" fill="#c3d429" stroke="#c3d429"/>
<path d="M1166.3 325.6l10.5-2.5 10.5-2.6 5.4 2.5 5.3 2.5-10.5 2.8-10.6 2.7-5.3-2.7z" fill="#c6d02a" stroke="#c6d02a"/>
<path d="M1230 324.7l10.6-2.9 10.6-3 5.4 2.2 5.4 2.3-10.6 3.2-10.6 3.2-5.4-2.5z" fill="#c8c228" stroke="#c8c228"/>
<path d="M1262 323.3l10.7-3.1 10.6-3.2 5.5 2.1 5.5 2.2-10.7 3.4-10.7 3.4-5.4-2.4z" fill="#c9b526" stroke="#c9b526"/>
<path d="M1294.3 321.3l10.7-3.4 10.7-3.4 5.5 2 5.6 2.1-10.8 3.6-10.7 3.6-5.5-2.3z" fill="#c9a322" stroke="#c9a322"/>
<path d="M1326.8 318.6l10.7-3.6 10.8-3.7 5.5 1.9 5.6 2-10.8 3.8-10.8 3.8-5.5-2.1z" fill="#c78f1d" stroke="#c78f1d"/>
<path d="M1359.4 315.2l10.8-3.8 10.8-3.9 5.6 1.8 5.7 1.9-10.9 4-10.8 4-5.6-2z" fill="#c57d19" stroke="#c57d19"/>
<path d="M1392.3 311.2l10.8-4.1 10.9-4 5.6 1.6 5.7 1.8-10.9 4.2-10.9 4.2-5.6-1.9z" fill="#c26817" stroke="#c26817"/>
<path d="M1425.3 306.5l10.9-4.3 10.9-4.2 5.8 1.5 5.7 1.6-11 4.4-11 4.5-5.6-1.8z" fill="#bf5215" stroke="#bf5215"/>
<path d="M1458.6 301.1l10.9-4.5 11-4.4 5.8 1.4 5.8 1.5-11.1 4.6-11 4.7-5.7-1.7z" fill="#bc3e14" stroke="#bc3e14"/>
<path d="M1492.1 295.1l11-4.7 11-4.7 5.9 1.3 5.8 1.4-11.1 4.8-11.1 4.9-5.8-1.5z" fill="#b82e11" stroke="#b82e11"/>
<path d="M1525.8 288.4l11.1-4.9 11.1-4.9 5.9 1.2 5.8 1.2-11.1 5.1-11.2 5.1-5.8-1.5z" fill="#b3210e" stroke="#b3210e"/>
<path d="M1559.7 281l11.2-5.1 11.2-5.1 5.9 1 5.9 1.1-11.2 5.3-11.2 5.3-5.9-1.3z" fill="#b01d0e" stroke="#b01d0e"/>
<path d="M947.9 308.4l10.3-1.1 10.2-1.1 5.2 3.3 5.1 3.3-10.3 1.3-10.3 1.3-5.1-3.5z" fill="#c5d829" stroke="#c5d829"/>
<path d="M1103.2 323.9l10.4-2.1 10.5-2.2 5.3 2.7 5.3 2.8-10.5 2.3-10.5 2.3-5.2-2.9z" fill="#c4d329" stroke="#c4d329"/>
<path d="M989 319.5l10.3-1.5 10.3-1.5 5.2 3.2 5.2 3.3-10.4 1.7-10.4 1.7-5.1-3.5z" fill="#d8ed2d" stroke="#d8ed2d"/>
<path d="M1051.1 325.9l10.4-1.9 10.4-1.9 5.2 3 5.2 3-10.4 2.2-10.4 2.1-5.2-3.3z" fill="#d6eb2e" stroke="#d6eb2e"/>
<path d="M1145.2 330.7l10.6-2.5 10.5-2.6 5.3 2.7 5.3 2.7-10.5 2.8-10.6 2.7-5.3-2.9z" fill="#d9e62d" stroke="#d9e62d"/>
<path d="M1208.8 330.7l10.6-3 10.6-3 5.4 2.5 5.4 2.5-10.7 3.2-10.6 3.2-5.4-2.7z" fill="#dcdd2d" stroke="#dcdd2d"/>
<path d="M1240.8 329.7l10.6-3.2 10.6-3.2 5.5 2.4 5.4 2.4-10.6 3.4-10.7 3.4-5.4-2.6z" fill="#ddd12b" stroke="#ddd12b"/>
<path d="M1305.3 325.8l10.7-3.6 10.8-3.6 5.5 2.1 5.5 2.1-10.7 3.9-10.8 3.8-5.5-2.4z" fill="#dcac23" stroke="#dcac23"/>
<path d="M1370.6 319.2l10.8-4 10.9-4 5.6 1.8 5.6 1.9-10.9 4.3-10.9 4.2-5.6-2.1z" fill="#d8821a" stroke="#d8821a"/>
<path d="M1403.5 314.9l10.9-4.2 10.9-4.2 5.7 1.7 5.6 1.8-10.9 4.5-11 4.4-5.6-2z" fill="#d56a19" stroke="#d56a19"/>
<path d="M1470 304.4l11-4.7 11.1-4.6 5.7 1.5 5.8 1.5-11.1 4.9-11.1 4.9-5.7-1.8z" fill="#ce3e15" stroke="#ce3e15"/>
<path d="M1537.4 291.2l11.2-5.1 11.1-5.1 5.9 1.2 5.9 1.3-11.3 5.3-11.2 5.4-5.8-1.6z" fill="#c52210" stroke="#c52210"/>
<path d="M1571.5 283.5l11.2-5.3 11.2-5.3 5.9 1.2 6 1.1-11.3 5.6-11.3 5.5-5.9-1.4z" fill="#c01e0f" stroke="#c01e0f"/>
<path d="M684.5 250.1l10.1 0.6 10.2 0.6 4.9 4.2 4.9 4.3-10.2-0.4-10.2-0.4-4.9-4.5z" fill="#f3cb2a" stroke="#f3cb2a"/>
<path d="M744.7 268.9l10.2 0.2 10.1 0.1 5 4.1 4.9 4.1-10.2 0-10.1 0-5-4.3z" fill="#ede930" stroke="#ede930"/>
<path d="M774.9 277.4l10.2-0.1 10.2 0 5 3.9 4.9 4-10.2 0.3-10.2 0.2-4.9-4.2z" fill="#ebf332" stroke="#ebf332"/>
<path d="M835.6 292.5l10.2-0.4 10.2-0.5 5.1 3.7 5 3.8-10.3 0.7-10.2 0.7-5-4z" fill="#e3f230" stroke="#e3f230"/>
<path d="M896.7 305.2l10.2-0.9 10.3-0.9 5 3.6 5.1 3.6-10.3 1-10.3 1.1-5-3.8z" fill="#dcf02f" stroke="#dcf02f"/>
<path d="M927.3 310.6l10.3-1.1 10.3-1.1 5.1 3.5 5.1 3.5-10.3 1.2-10.3 1.3-5.1-3.7z" fill="#dbef2e" stroke="#dbef2e"/>
<path d="M1082.3 328.1l10.5-2.1 10.4-2.1 5.3 2.9 5.2 2.9-10.4 2.4-10.5 2.3-5.2-3.1z" fill="#d7e92d" stroke="#d7e92d"/>
<path d="M654.4 239.8l10.2 0.8 10.1 0.8 4.9 4.3 4.9 4.4-10.2-0.6-10.1-0.6-4.9-4.6z" fill="#f2b324" stroke="#f2b324"/>
<path d="M624.5 228.9l10.1 1 10.1 1 4.9 4.5 4.8 4.4-10.1-0.8-10.1-0.8-4.9-4.7z" fill="#f29e20" stroke="#f29e20"/>
<path d="M714.6 259.8l10.1 0.4 10.2 0.4 4.9 4.1 4.9 4.2-10.2-0.2-10.1-0.2-4.9-4.4z" fill="#f0dc2d" stroke="#f0dc2d"/>
<path d="M805.2 285.2l10.2-0.2 10.2-0.2 5 3.8 5 3.9-10.2 0.4-10.2 0.5-5-4.1z" fill="#e6f331" stroke="#e6f331"/>
<path d="M866.1 299.1l10.2-0.6 10.3-0.7 5 3.7 5.1 3.7-10.3 0.8-10.3 0.9-5-3.9z" fill="#dff12f" stroke="#dff12f"/>
<path d="M1020 323l10.3-1.7 10.4-1.7 5.2 3.1 5.2 3.2-10.4 1.9-10.4 1.9-5.2-3.4z" fill="#d7eb2d" stroke="#d7eb2d"/>
<path d="M1176.9 331l10.6-2.7 10.5-2.8 5.4 2.6 5.4 2.6-10.6 3-10.6 2.9-5.3-2.8z" fill="#dbe42e" stroke="#dbe42e"/>
<path d="M958.1 315.4l10.3-1.3 10.3-1.3 5.1 3.3 5.2 3.4-10.4 1.5-10.3 1.5-5.1-3.6z" fill="#d9ee2d" stroke="#d9ee2d"/>
<path d="M1113.7 329.7l10.5-2.3 10.5-2.3 5.3 2.8 5.2 2.8-10.5 2.6-10.5 2.5-5.2-3z" fill="#d8e82e" stroke="#d8e82e"/>
<path d="M1272.9 328.1l10.7-3.4 10.7-3.4 5.5 2.2 5.5 2.3-10.7 3.6-10.8 3.6-5.4-2.5z" fill="#dec229" stroke="#dec229"/>
<path d="M1337.8 322.8l10.8-3.8 10.8-3.8 5.6 2 5.6 2-10.9 4.1-10.8 4-5.5-2.3z" fill="#db971e" stroke="#db971e"/>
<path d="M1436.6 310l11-4.5 11-4.4 5.7 1.6 5.7 1.7-11 4.7-11 4.6-5.7-1.9z" fill="#d25317" stroke="#d25317"/>
<path d="M1503.6 298.1l11.1-4.9 11.1-4.8 5.8 1.3 5.8 1.5-11.1 5.1-11.2 5.1-5.8-1.7z" fill="#c92d12" stroke="#c92d12"/>
<path d="M1219.5 336.1l10.6-3.2 10.7-3.2 5.4 2.6 5.4 2.6-10.7 3.4-10.7 3.4-5.3-2.9z" fill="#efec31" stroke="#efec31"/>
<path d="M1381.7 323.4l10.9-4.2 10.9-4.3 5.6 2 5.6 2-10.9 4.5-10.9 4.4-5.6-2.2z" fill="#eb861c" stroke="#eb861c"/>
<path d="M1549 294.2l11.2-5.4 11.3-5.3 5.8 1.4 5.9 1.4-11.3 5.5-11.3 5.5-5.8-1.6z" fill="#d62410" stroke="#d62410"/>
<path d="M1061.5 332.4l10.4-2.1 10.4-2.2 5.3 3.2 5.2 3.1-10.5 2.4-10.4 2.3-5.2-3.4z" fill="#def22f" stroke="#def22f"/>
<path d="M999.2 326.4l10.4-1.7 10.4-1.7 5.1 3.3 5.2 3.4-10.4 1.9-10.4 1.9-5.1-3.5z" fill="#dcf12e" stroke="#dcf12e"/>
<path d="M1155.8 336.5l10.6-2.7 10.5-2.8 5.4 2.8 5.3 2.8-10.6 3-10.6 3-5.3-3.1z" fill="#e7f431" stroke="#e7f431"/>
<path d="M604.2 226.9l10.1 1 10.2 1 4.8 4.6 4.9 4.7-10.2-0.8-10.2-0.8-4.8-4.9z" fill="#fa941e" stroke="#fa941e"/>
<path d="M664.2 248.9l10.1 0.6 10.2 0.6 4.8 4.4 4.9 4.5-10.1-0.4-10.2-0.4-4.9-4.7z" fill="#f7bf27" stroke="#f7bf27"/>
<path d="M694.2 259l10.2 0.4 10.2 0.4 4.9 4.3 4.9 4.4-10.2-0.2-10.2-0.2-4.9-4.5z" fill="#f6d52c" stroke="#f6d52c"/>
<path d="M724.4 268.5l10.1 0.2 10.2 0.2 4.9 4.2 5 4.3-10.2 0-10.2 0.1-4.9-4.5z" fill="#f2e32f" stroke="#f2e32f"/>
<path d="M754.6 277.4l10.1 0 10.2 0 5 4.1 4.9 4.2-10.2 0.2-10.2 0.3-4.9-4.4z" fill="#eeee31" stroke="#eeee31"/>
<path d="M784.8 285.7l10.2-0.2 10.2-0.3 5 4.1 5 4.1-10.2 0.4-10.3 0.5-4.9-4.3z" fill="#eaf532" stroke="#eaf532"/>
<path d="M815.2 293.4l10.2-0.5 10.2-0.4 5 4 5 4-10.2 0.6-10.3 0.6-5-4.2z" fill="#e6f431" stroke="#e6f431"/>
<path d="M845.6 300.5l10.2-0.7 10.3-0.7 5 3.9 5 3.9-10.2 0.9-10.3 0.8-5-4.1z" fill="#e2f330" stroke="#e2f330"/>
<path d="M876.1 306.9l10.3-0.9 10.3-0.8 5 3.7 5 3.8-10.2 1.1-10.3 1-5-4z" fill="#e0f22f" stroke="#e0f22f"/>
<path d="M906.7 312.7l10.3-1.1 10.3-1 5.1 3.6 5.1 3.7-10.3 1.3-10.4 1.3-5-3.9z" fill="#def22f" stroke="#def22f"/>
<path d="M937.5 317.9l10.3-1.3 10.3-1.2 5.1 3.5 5.1 3.6-10.3 1.5-10.4 1.5-5.1-3.8z" fill="#dcf12e" stroke="#dcf12e"/>
<path d="M1092.8 334.4l10.5-2.3 10.4-2.4 5.3 3.1 5.2 3-10.5 2.6-10.5 2.5-5.2-3.3z" fill="#e0f22f" stroke="#e0f22f"/>
<path d="M634.2 238.2l10.1 0.8 10.1 0.8 4.9 4.5 4.9 4.6-10.2-0.6-10.2-0.6-4.8-4.8z" fill="#f9a922" stroke="#f9a922"/>
<path d="M968.3 322.5l10.3-1.5 10.4-1.5 5.1 3.4 5.1 3.5-10.3 1.7-10.4 1.7-5.1-3.7z" fill="#dbf12e" stroke="#dbf12e"/>
<path d="M1030.3 329.7l10.4-1.9 10.4-1.9 5.2 3.2 5.2 3.3-10.5 2.1-10.4 2.1-5.1-3.4z" fill="#dcf12e" stroke="#dcf12e"/>
<path d="M1124.2 335.8l10.5-2.5 10.5-2.6 5.3 2.9 5.3 2.9-10.5 2.8-10.5 2.8-5.3-3.2z" fill="#e3f330" stroke="#e3f330"/>
<path d="M1187.6 336.6l10.6-2.9 10.6-3 5.3 2.7 5.4 2.7-10.6 3.2-10.6 3.1-5.4-2.9z" fill="#ebf532" stroke="#ebf532"/>
<path d="M1251.6 334.9l10.7-3.4 10.6-3.4 5.5 2.4 5.4 2.5-10.7 3.6-10.7 3.6-5.4-2.7z" fill="#f1df2f" stroke="#f1df2f"/>
<path d="M1283.8 333l10.8-3.6 10.7-3.6 5.5 2.3 5.5 2.4-10.8 3.8-10.8 3.8-5.4-2.6z" fill="#f1cc2a" stroke="#f1cc2a"/>
<path d="M1316.3 330.5l10.8-3.8 10.7-3.9 5.6 2.2 5.5 2.3-10.8 4-10.8 4.1-5.5-2.5z" fill="#f0b425" stroke="#f0b425"/>
<path d="M1348.9 327.3l10.8-4 10.9-4.1 5.5 2.1 5.6 2.1-10.9 4.3-10.8 4.2-5.6-2.3z" fill="#ee9e20" stroke="#ee9e20"/>
<path d="M1414.7 318.9l11-4.4 10.9-4.5 5.7 1.8 5.7 1.9-11 4.7-11 4.7-5.6-2.1z" fill="#e86b1a" stroke="#e86b1a"/>
<path d="M1448 313.7l11-4.6 11-4.7 5.7 1.7 5.7 1.8-11 4.9-11.1 4.9-5.7-2z" fill="#e45319" stroke="#e45319"/>
<path d="M1481.4 307.9l11.1-4.9 11.1-4.9 5.7 1.6 5.8 1.7-11.1 5.1-11.1 5.1-5.8-1.9z" fill="#e03d16" stroke="#e03d16"/>
<path d="M1515.1 301.4l11.2-5.1 11.1-5.1 5.8 1.4 5.8 1.6-11.2 5.3-11.2 5.3-5.7-1.8z" fill="#db2c13" stroke="#db2c13"/>
<path d="M1583.2 286.3l11.3-5.5 11.3-5.6 5.9 1.3 5.9 1.2-11.3 5.8-11.4 5.7-5.8-1.5z" fill="#d2200f" stroke="#d2200f"/>
<path d="M1071.9 339.1l10.4-2.3 10.5-2.4 5.2 3.2 5.2 3.3-10.5 2.5-10.4 2.6-5.2-3.5z" fill="#def22f" stroke="#def22f"/>
<path d="M704 268.1l10.2 0.2 10.2 0.2 4.9 4.5 4.9 4.5-10.2 0-10.2 0-4.9-4.7z" fill="#f5db2e" stroke="#f5db2e"/>
<path d="M794.7 294.3l10.3-0.5 10.2-0.4 4.9 4.1 5 4.2-10.2 0.7-10.3 0.6-4.9-4.4z" fill="#e8f431" stroke="#e8f431"/>
<path d="M855.6 308.6l10.3-0.8 10.2-0.9 5.1 3.9 5 4-10.3 1.1-10.3 1.1-5-4.2z" fill="#e1f22f" stroke="#e1f22f"/>
<path d="M947.6 325.5l10.4-1.5 10.3-1.5 5.1 3.6 5.1 3.7-10.4 1.7-10.3 1.7-5.1-3.9z" fill="#dcf12e" stroke="#dcf12e"/>
<path d="M1009.5 333.5l10.4-1.9 10.4-1.9 5.2 3.5 5.1 3.4-10.4 2.2-10.4 2.1-5.2-3.7z" fill="#dbf12e" stroke="#dbf12e"/>
<path d="M1103.2 340.9l10.5-2.5 10.5-2.6 5.3 3.1 5.3 3.2-10.6 2.7-10.5 2.8-5.2-3.4z" fill="#e1f22f" stroke="#e1f22f"/>
<path d="M1166.4 342.6l10.6-3 10.6-3 5.3 2.9 5.4 2.9-10.7 3.2-10.6 3.2-5.3-3.1z" fill="#e8f431" stroke="#e8f431"/>
<path d="M1198.3 342.4l10.6-3.1 10.6-3.2 5.4 2.7 5.3 2.9-10.6 3.4-10.7 3.3-5.3-3z" fill="#ecf432" stroke="#ecf432"/>
<path d="M1230.2 341.7l10.7-3.4 10.7-3.4 5.4 2.6 5.4 2.7-10.7 3.6-10.7 3.6-5.4-2.9z" fill="#f0e930" stroke="#f0e930"/>
<path d="M1262.4 340.2l10.7-3.6 10.7-3.6 5.5 2.5 5.4 2.6-10.7 3.8-10.8 3.9-5.4-2.8z" fill="#f4dd2e" stroke="#f4dd2e"/>
<path d="M1327.3 335.4l10.8-4.1 10.8-4 5.5 2.3 5.6 2.3-10.9 4.3-10.9 4.2-5.5-2.5z" fill="#f8b424" stroke="#f8b424"/>
<path d="M1360 331.9l10.8-4.2 10.9-4.3 5.6 2.2 5.6 2.2-11 4.5-10.9 4.5-5.5-2.5z" fill="#f99f20" stroke="#f99f20"/>
<path d="M1392.9 327.8l10.9-4.4 10.9-4.5 5.7 2.1 5.6 2.1-11 4.7-11 4.6-5.6-2.3z" fill="#fa871d" stroke="#fa871d"/>
<path d="M1426 323.1l11-4.7 11-4.7 5.6 2 5.7 2-11 4.8-11.1 4.9-5.6-2.2z" fill="#fa6c1c" stroke="#fa6c1c"/>
<path d="M1492.9 311.6l11.1-5.1 11.1-5.1 5.8 1.6 5.7 1.8-11.2 5.3-11.1 5.3-5.7-1.9z" fill="#f13d16" stroke="#f13d16"/>
<path d="M1526.6 304.8l11.2-5.3 11.2-5.3 5.8 1.5 5.8 1.6-11.2 5.6-11.2 5.5-5.8-1.8z" fill="#eb2b13" stroke="#eb2b13"/>
<path d="M1560.6 297.3l11.3-5.5 11.3-5.5 5.9 1.4 5.8 1.5-11.3 5.7-11.3 5.8-5.8-1.7z" fill="#e72612" stroke="#e72612"/>
<path d="M1594.9 289.2l11.4-5.7 11.3-5.8 5.9 1.3 5.9 1.4-11.4 5.9-11.4 6-5.8-1.6z" fill="#e22211" stroke="#e22211"/>
<path d="M613.8 236.6l10.2 0.8 10.2 0.8 4.8 4.7 4.8 4.8-10.1-0.6-10.2-0.6-4.8-5z" fill="#fa9c1f" stroke="#fa9c1f"/>
<path d="M583.9 224.9l10.1 1 10.2 1 4.8 4.8 4.8 4.9-10.1-0.9-10.2-0.8-4.8-5z" fill="#fa831d" stroke="#fa831d"/>
<path d="M643.8 247.7l10.2 0.6 10.2 0.6 4.8 4.6 4.9 4.7-10.2-0.4-10.2-0.4-4.8-4.9z" fill="#f8b123" stroke="#f8b123"/>
<path d="M673.9 258.2l10.2 0.4 10.1 0.4 4.9 4.6 4.9 4.5-10.2-0.2-10.2-0.2-4.8-4.8z" fill="#f7c729" stroke="#f7c729"/>
<path d="M734.2 277.5l10.2-0.1 10.2 0 4.9 4.4 4.9 4.4-10.2 0.2-10.2 0.2-4.9-4.6z" fill="#f1e730" stroke="#f1e730"/>
<path d="M764.4 286.2l10.2-0.3 10.2-0.2 5 4.3 4.9 4.3-10.2 0.4-10.2 0.4-5-4.5z" fill="#edf232" stroke="#edf232"/>
<path d="M825.1 301.7l10.3-0.6 10.2-0.6 5 4 5 4.1-10.3 0.9-10.2 0.8-5-4.3z" fill="#e4f330" stroke="#e4f330"/>
<path d="M886.2 314.8l10.3-1 10.2-1.1 5.1 3.9 5 3.9-10.3 1.2-10.3 1.3-5-4.1z" fill="#dff22f" stroke="#dff22f"/>
<path d="M916.8 320.5l10.4-1.3 10.3-1.3 5 3.8 5.1 3.8-10.3 1.4-10.4 1.5-5-4z" fill="#ddf12e" stroke="#ddf12e"/>
<path d="M1040.6 336.6l10.4-2.1 10.5-2.1 5.2 3.3 5.2 3.4-10.5 2.3-10.5 2.3-5.1-3.5z" fill="#dcf12e" stroke="#dcf12e"/>
<path d="M978.5 329.8l10.4-1.7 10.3-1.7 5.2 3.6 5.1 3.5-10.4 1.9-10.4 2-5.1-3.8z" fill="#dbf12e" stroke="#dbf12e"/>
<path d="M1134.8 342.1l10.5-2.8 10.5-2.8 5.3 3 5.3 3.1-10.5 2.9-10.6 3-5.3-3.2z" fill="#e4f330" stroke="#e4f330"/>
<path d="M1294.7 338.1l10.8-3.8 10.8-3.8 5.5 2.4 5.5 2.5-10.9 4-10.8 4-5.4-2.7z" fill="#f7cb2a" stroke="#f7cb2a"/>
<path d="M1459.3 317.7l11.1-4.9 11-4.9 5.7 1.8 5.8 1.9-11.2 5.1-11.1 5.1-5.6-2.1z" fill="#f6531a" stroke="#f6531a"/>
<path d="M1082.3 346l10.4-2.6 10.5-2.5 5.3 3.3 5.2 3.4-10.5 2.7-10.6 2.8-5.1-3.6z" fill="#def22f" stroke="#def22f"/>
<path d="M1177 348.8l10.6-3.2 10.7-3.2 5.3 3 5.3 3-10.6 3.4-10.7 3.4-5.3-3.2z" fill="#e9f431" stroke="#e9f431"/>
<path d="M1241 347.4l10.7-3.6 10.7-3.6 5.4 2.8 5.4 2.8-10.7 3.8-10.8 3.8-5.3-3z" fill="#f1e730" stroke="#f1e730"/>
<path d="M1338.2 340.4l10.9-4.2 10.9-4.3 5.5 2.4 5.5 2.5-10.9 4.4-10.9 4.5-5.5-2.7z" fill="#f8af23" stroke="#f8af23"/>
<path d="M1404 332.4l11-4.6 11-4.7 5.6 2.1 5.6 2.2-11 4.9-11 4.9-5.6-2.4z" fill="#fa801d" stroke="#fa801d"/>
<path d="M1504.3 315.4l11.1-5.3 11.2-5.3 5.8 1.8 5.8 1.8-11.3 5.5-11.2 5.6-5.7-2.1z" fill="#f83a16" stroke="#f83a16"/>
<path d="M1572.3 300.7l11.3-5.8 11.3-5.7 5.9 1.5 5.8 1.6-11.3 6-11.4 5.9-5.8-1.8z" fill="#f62813" stroke="#f62813"/>
<path d="M1019.8 340.9l10.4-2.1 10.4-2.2 5.2 3.6 5.1 3.5-10.4 2.4-10.5 2.3-5.1-3.8z" fill="#dbf12e" stroke="#dbf12e"/>
<path d="M563.6 222.8l10.1 1 10.2 1.1 4.8 5 4.8 5-10.2-0.8-10.1-0.9-4.8-5.2z" fill="#fa721c" stroke="#fa721c"/>
<path d="M623.5 246.5l10.2 0.6 10.1 0.6 4.9 4.8 4.8 4.9-10.2-0.4-10.1-0.5-4.9-5z" fill="#f9a421" stroke="#f9a421"/>
<path d="M683.6 267.7l10.2 0.2 10.2 0.2 4.9 4.7 4.9 4.7-10.2 0-10.2-0.1-4.9-4.8z" fill="#f6d02b" stroke="#f6d02b"/>
<path d="M713.8 277.5l10.2 0 10.2 0 4.9 4.5 4.9 4.6-10.2 0.2-10.3 0.2-4.8-4.8z" fill="#f3e02f" stroke="#f3e02f"/>
<path d="M774.3 295.1l10.2-0.4 10.2-0.4 5 4.3 4.9 4.4-10.2 0.6-10.3 0.7-4.9-4.6z" fill="#ebf532" stroke="#ebf532"/>
<path d="M804.6 303l10.3-0.6 10.2-0.7 5 4.3 5 4.3-10.3 0.8-10.3 0.9-4.9-4.5z" fill="#e6f431" stroke="#e6f431"/>
<path d="M835.1 310.3l10.2-0.8 10.3-0.9 5 4.2 5 4.2-10.3 1-10.3 1.1-5-4.5z" fill="#e3f330" stroke="#e3f330"/>
<path d="M865.6 317l10.3-1.1 10.3-1.1 5 4.1 5 4.1-10.3 1.3-10.3 1.2-5-4.3z" fill="#e0f22f" stroke="#e0f22f"/>
<path d="M926.9 328.4l10.4-1.5 10.3-1.4 5.1 3.8 5.1 3.9-10.4 1.7-10.4 1.7-5-4.1z" fill="#dcf12e" stroke="#dcf12e"/>
<path d="M957.8 333.2l10.3-1.7 10.4-1.7 5.1 3.8 5.1 3.8-10.4 1.8-10.4 1.9-5-4z" fill="#dbf12e" stroke="#dbf12e"/>
<path d="M1113.7 347.6l10.5-2.8 10.6-2.7 5.2 3.2 5.3 3.2-10.6 3-10.5 2.9-5.3-3.4z" fill="#e1f22f" stroke="#e1f22f"/>
<path d="M593.5 234.9l10.2 0.8 10.1 0.9 4.9 4.9 4.8 5-10.2-0.7-10.2-0.6-4.8-5.2z" fill="#fa8d1e" stroke="#fa8d1e"/>
<path d="M653.5 257.4l10.2 0.4 10.2 0.4 4.9 4.7 4.8 4.8-10.2-0.2-10.2-0.2-4.8-5z" fill="#f8ba25" stroke="#f8ba25"/>
<path d="M744 286.6l10.2-0.2 10.2-0.2 4.9 4.4 5 4.5-10.3 0.4-10.2 0.4-4.9-4.7z" fill="#efec31" stroke="#efec31"/>
<path d="M896.2 323l10.3-1.3 10.3-1.2 5.1 3.9 5 4-10.3 1.5-10.3 1.5-5.1-4.2z" fill="#ddf12e" stroke="#ddf12e"/>
<path d="M1050.9 343.7l10.5-2.3 10.5-2.3 5.2 3.4 5.2 3.5-10.5 2.5-10.5 2.6-5.2-3.7z" fill="#dcf12e" stroke="#dcf12e"/>
<path d="M988.7 337.4l10.4-2 10.4-1.9 5.1 3.7 5.2 3.7-10.5 2.1-10.4 2.1-5.1-3.9z" fill="#daf12e" stroke="#daf12e"/>
<path d="M1145.3 348.5l10.6-3 10.5-2.9 5.3 3.1 5.3 3.1-10.6 3.2-10.6 3.2-5.2-3.4z" fill="#e4f330" stroke="#e4f330"/>
<path d="M1208.9 348.4l10.7-3.3 10.6-3.4 5.4 2.8 5.4 2.9-10.7 3.6-10.7 3.6-5.3-3.1z" fill="#edf232" stroke="#edf232"/>
<path d="M1273.2 345.8l10.8-3.9 10.7-3.8 5.5 2.6 5.4 2.7-10.8 4.1-10.8 4-5.4-2.9z" fill="#f5da2d" stroke="#f5da2d"/>
<path d="M1305.6 343.4l10.8-4 10.9-4 5.4 2.5 5.5 2.5-10.8 4.3-10.9 4.2-5.4-2.8z" fill="#f7c629" stroke="#f7c629"/>
<path d="M1371 336.8l10.9-4.5 11-4.5 5.5 2.3 5.6 2.3-11 4.7-10.9 4.7-5.6-2.5z" fill="#fa9a1f" stroke="#fa9a1f"/>
<path d="M1437.2 327.4l11.1-4.9 11-4.8 5.7 2 5.6 2.1-11.1 5.1-11.1 5.1-5.6-2.3z" fill="#fa661b" stroke="#fa661b"/>
<path d="M1470.6 321.8l11.1-5.1 11.2-5.1 5.7 1.9 5.7 1.9-11.2 5.3-11.1 5.4-5.7-2.2z" fill="#fa4e19" stroke="#fa4e19"/>
<path d="M1538.2 308.4l11.2-5.5 11.2-5.6 5.9 1.7 5.8 1.7-11.3 5.7-11.3 5.8-5.8-1.9z" fill="#f72c14" stroke="#f72c14"/>
<path d="M1606.6 292.3l11.4-6 11.4-5.9 6 1.4 5.9 1.4-11.5 6.2-11.4 6.2-5.9-1.7z" fill="#f32412" stroke="#f32412"/>
<path d="M1092.6 353.1l10.6-2.8 10.5-2.7 5.2 3.4 5.3 3.4-10.6 3-10.6 3-5.2-3.7z" fill="#def22f" stroke="#def22f"/>
<path d="M814.5 312l10.3-0.9 10.3-0.8 4.9 4.3 5 4.5-10.3 1-10.3 1-4.9-4.6z" fill="#e4f330" stroke="#e4f330"/>
<path d="M1030 348.4l10.5-2.3 10.4-2.4 5.2 3.7 5.2 3.7-10.5 2.5-10.5 2.5-5.1-3.9z" fill="#daf12e" stroke="#daf12e"/>
<path d="M573.2 233.2l10.1 0.9 10.2 0.8 4.8 5.1 4.8 5.2-10.1-0.7-10.2-0.6-4.8-5.4z" fill="#fa7e1d" stroke="#fa7e1d"/>
<path d="M543.2 220.7l10.2 1 10.2 1.1 4.8 5.2 4.8 5.2-10.2-0.8-10.2-0.9-4.8-5.4z" fill="#fa641b" stroke="#fa641b"/>
<path d="M603.1 245.2l10.2 0.6 10.2 0.7 4.8 5 4.9 5-10.2-0.4-10.2-0.4-4.8-5.3z" fill="#fa981e" stroke="#fa981e"/>
<path d="M633.2 256.5l10.1 0.5 10.2 0.4 4.9 4.9 4.8 5-10.2-0.2-10.2-0.3-4.8-5.1z" fill="#f8ae23" stroke="#f8ae23"/>
<path d="M693.4 277.4l10.2 0.1 10.2 0 4.9 4.7 4.8 4.8-10.2 0.2-10.2 0.2-4.9-5z" fill="#f5d92d" stroke="#f5d92d"/>
<path d="M723.5 287l10.3-0.2 10.2-0.2 4.9 4.6 4.9 4.7-10.2 0.4-10.3 0.4-4.9-4.9z" fill="#f1e630" stroke="#f1e630"/>
<path d="M753.8 295.9l10.2-0.4 10.3-0.4 4.9 4.6 4.9 4.6-10.2 0.6-10.3 0.6-4.9-4.8z" fill="#edf232" stroke="#edf232"/>
<path d="M784.1 304.3l10.3-0.7 10.2-0.6 5 4.5 4.9 4.5-10.2 0.8-10.3 0.8-4.9-4.7z" fill="#e8f431" stroke="#e8f431"/>
<path d="M845 319.1l10.3-1.1 10.3-1 5 4.2 5 4.3-10.3 1.3-10.3 1.2-5-4.5z" fill="#e1f22f" stroke="#e1f22f"/>
<path d="M875.6 325.5l10.3-1.2 10.3-1.3 5 4.2 5.1 4.2-10.4 1.4-10.3 1.5-5-4.4z" fill="#def22f" stroke="#def22f"/>
<path d="M906.3 331.4l10.3-1.5 10.3-1.5 5.1 4.1 5 4.1-10.3 1.7-10.4 1.6-5-4.3z" fill="#dcf12e" stroke="#dcf12e"/>
<path d="M937 336.6l10.4-1.7 10.4-1.7 5.1 3.9 5 4-10.4 1.9-10.4 1.9-5-4.2z" fill="#daf12e" stroke="#daf12e"/>
<path d="M967.9 341.1l10.4-1.9 10.4-1.8 5.1 3.8 5.1 3.9-10.4 2.1-10.4 2.1-5.1-4.1z" fill="#d9f12e" stroke="#d9f12e"/>
<path d="M1061.3 351.1l10.5-2.6 10.5-2.5 5.2 3.5 5.1 3.6-10.5 2.7-10.5 2.8-5.2-3.8z" fill="#dcf12e" stroke="#dcf12e"/>
<path d="M1124.2 354.4l10.5-2.9 10.6-3 5.3 3.3 5.2 3.4-10.6 3.1-10.6 3.2-5.2-3.5z" fill="#e1f22f" stroke="#e1f22f"/>
<path d="M1155.8 355.2l10.6-3.2 10.6-3.2 5.3 3.2 5.3 3.2-10.6 3.4-10.7 3.4-5.2-3.4z" fill="#e5f330" stroke="#e5f330"/>
<path d="M1187.6 355.2l10.7-3.4 10.6-3.4 5.4 3.1 5.3 3.1-10.7 3.6-10.7 3.7-5.3-3.4z" fill="#e9f431" stroke="#e9f431"/>
<path d="M1219.6 354.6l10.7-3.6 10.7-3.6 5.4 3 5.3 3-10.7 3.8-10.8 3.8-5.3-3.2z" fill="#edf131" stroke="#edf131"/>
<path d="M1251.7 353.4l10.8-3.8 10.7-3.8 5.4 2.8 5.4 2.9-10.8 4-10.7 4.1-5.4-3.1z" fill="#f1e52f" stroke="#f1e52f"/>
<path d="M1284 351.5l10.8-4 10.8-4.1 5.5 2.7 5.4 2.8-10.8 4.3-10.9 4.2-5.4-3z" fill="#f6d72d" stroke="#f6d72d"/>
<path d="M1316.5 348.9l10.9-4.2 10.8-4.3 5.5 2.6 5.5 2.7-10.9 4.5-10.9 4.4-5.4-2.9z" fill="#f7c127" stroke="#f7c127"/>
<path d="M1349.2 345.7l10.9-4.5 10.9-4.4 5.5 2.5 5.6 2.5-11 4.7-10.9 4.7-5.5-2.8z" fill="#f9ab22" stroke="#f9ab22"/>
<path d="M1382.1 341.8l10.9-4.7 11-4.7 5.6 2.4 5.6 2.4-11.1 4.9-11 4.9-5.5-2.6z" fill="#fa951e" stroke="#fa951e"/>
<path d="M1415.2 337.2l11-4.9 11-4.9 5.6 2.3 5.6 2.3-11 5.1-11.1 5.1-5.6-2.5z" fill="#fa7a1d" stroke="#fa7a1d"/>
<path d="M1448.4 332l11.1-5.1 11.1-5.1 5.7 2.1 5.7 2.2-11.2 5.3-11.1 5.3-5.6-2.4z" fill="#fa611b" stroke="#fa611b"/>
<path d="M1482 326.1l11.1-5.4 11.2-5.3 5.7 2 5.7 2.1-11.2 5.5-11.2 5.5-5.7-2.2z" fill="#fa4819" stroke="#fa4819"/>
<path d="M1515.7 319.5l11.2-5.6 11.3-5.5 5.7 1.9 5.8 1.9-11.3 5.7-11.3 5.8-5.7-2.1z" fill="#f83616" stroke="#f83616"/>
<path d="M1549.7 312.2l11.3-5.8 11.3-5.7 5.8 1.7 5.8 1.8-11.4 6-11.3 6-5.8-2z" fill="#f72b14" stroke="#f72b14"/>
<path d="M1583.9 304.2l11.4-5.9 11.3-6 5.9 1.6 5.9 1.7-11.5 6.2-11.4 6.2-5.8-1.9z" fill="#f62713" stroke="#f62713"/>
<path d="M1618.4 295.6l11.4-6.2 11.5-6.2 5.9 1.5 5.9 1.6-11.5 6.4-11.5 6.4-5.9-1.8z" fill="#f62312" stroke="#f62312"/>
<path d="M663.2 267.3l10.2 0.2 10.2 0.2 4.9 4.9 4.9 4.8-10.3 0-10.2 0-4.8-5.1z" fill="#f7c428" stroke="#f7c428"/>
<path d="M998.9 345.1l10.4-2.1 10.5-2.1 5.1 3.7 5.1 3.8-10.4 2.3-10.5 2.3-5.1-4z" fill="#daf12e" stroke="#daf12e"/>
<path d="M1040.3 356.1l10.5-2.5 10.5-2.5 5.1 3.7 5.2 3.8-10.5 2.7-10.5 2.8-5.2-4z" fill="#d9f12e" stroke="#d9f12e"/>
<path d="M1103 360.4l10.6-3 10.6-3 5.2 3.6 5.2 3.5-10.6 3.2-10.6 3.2-5.2-3.8z" fill="#def22f" stroke="#def22f"/>
<path d="M1134.6 361.5l10.6-3.2 10.6-3.1 5.3 3.4 5.2 3.4-10.6 3.4-10.6 3.4-5.3-3.7z" fill="#e1f22f" stroke="#e1f22f"/>
<path d="M1198.2 361.9l10.7-3.7 10.7-3.6 5.3 3.2 5.3 3.2-10.7 3.9-10.7 3.8-5.3-3.5z" fill="#e9f431" stroke="#e9f431"/>
<path d="M1262.5 359.6l10.7-4.1 10.8-4 5.4 2.9 5.4 3-10.8 4.3-10.8 4.2-5.4-3.2z" fill="#f2e32f" stroke="#f2e32f"/>
<path d="M1294.8 357.4l10.9-4.2 10.8-4.3 5.5 2.8 5.4 2.9-10.9 4.5-10.9 4.5-5.4-3.1z" fill="#f6d52c" stroke="#f6d52c"/>
<path d="M1360.2 351.2l10.9-4.7 11-4.7 5.5 2.6 5.5 2.6-11 4.9-11 4.9-5.5-2.8z" fill="#f9a822" stroke="#f9a822"/>
<path d="M1426.3 342.2l11.1-5.1 11-5.1 5.7 2.3 5.6 2.4-11.2 5.3-11.1 5.4-5.5-2.6z" fill="#fa751c" stroke="#fa751c"/>
<path d="M1459.7 336.7l11.1-5.3 11.2-5.3 5.6 2.2 5.7 2.2-11.2 5.6-11.2 5.5-5.6-2.4z" fill="#fa5c1b" stroke="#fa5c1b"/>
<path d="M1527.1 323.7l11.3-5.8 11.3-5.7 5.7 2 5.8 2-11.4 6-11.3 5.9-5.7-2.2z" fill="#f83215" stroke="#f83215"/>
<path d="M1595.5 308l11.4-6.2 11.5-6.2 5.8 1.7 5.9 1.8-11.5 6.4-11.5 6.4-5.8-2z" fill="#f62612" stroke="#f62612"/>
<path d="M1630.1 299.1l11.5-6.4 11.5-6.4 5.9 1.6 5.9 1.6-11.6 6.6-11.5 6.7-5.9-1.9z" fill="#f62211" stroke="#f62211"/>
<path d="M582.8 243.9l10.2 0.6 10.1 0.7 4.9 5.2 4.8 5.3-10.2-0.5-10.2-0.4-4.8-5.5z" fill="#fa8a1d" stroke="#fa8a1d"/>
<path d="M733.3 296.7l10.3-0.4 10.2-0.4 4.9 4.8 4.9 4.8-10.2 0.6-10.3 0.6-4.9-5z" fill="#efed31" stroke="#efed31"/>
<path d="M794 313.6l10.3-0.8 10.2-0.8 5 4.5 4.9 4.6-10.3 1.1-10.3 1-4.9-4.8z" fill="#e6f330" stroke="#e6f330"/>
<path d="M824.4 321.1l10.3-1 10.3-1 5 4.4 5 4.5-10.3 1.3-10.4 1.2-4.9-4.7z" fill="#e2f330" stroke="#e2f330"/>
<path d="M885.6 334.3l10.3-1.5 10.4-1.4 5 4.2 5 4.3-10.3 1.7-10.4 1.7-5-4.5z" fill="#dcf12e" stroke="#dcf12e"/>
<path d="M978.1 349.3l10.4-2.1 10.4-2.1 5.1 3.9 5.1 4-10.4 2.3-10.5 2.4-5-4.2z" fill="#d8f02d" stroke="#d8f02d"/>
<path d="M642.8 266.8l10.2 0.3 10.2 0.2 4.9 5 4.8 5.1-10.2 0-10.2 0-4.8-5.3z" fill="#f8b825" stroke="#f8b825"/>
<path d="M522.9 218.6l10.2 1 10.1 1.1 4.8 5.4 4.8 5.4-10.2-0.8-10.2-0.9-4.8-5.7z" fill="#fa561a" stroke="#fa561a"/>
<path d="M552.8 231.5l10.2 0.9 10.2 0.8 4.8 5.3 4.8 5.4-10.2-0.7-10.2-0.6-4.8-5.6z" fill="#fa6f1c" stroke="#fa6f1c"/>
<path d="M612.8 255.7l10.2 0.4 10.2 0.4 4.8 5.2 4.8 5.1-10.2-0.2-10.2-0.2-4.8-5.4z" fill="#f9a220" stroke="#f9a220"/>
<path d="M672.9 277.4l10.2 0 10.3 0 4.8 5 4.9 5-10.2 0.2-10.3 0.2-4.8-5.2z" fill="#f6cf2b" stroke="#f6cf2b"/>
<path d="M703.1 287.4l10.2-0.2 10.2-0.2 4.9 4.8 4.9 4.9-10.2 0.4-10.3 0.4-4.8-5.1z" fill="#f3e02f" stroke="#f3e02f"/>
<path d="M763.6 305.5l10.3-0.6 10.2-0.6 5 4.6 4.9 4.7-10.3 0.8-10.3 0.9-4.9-4.9z" fill="#eaf532" stroke="#eaf532"/>
<path d="M855 328l10.3-1.2 10.3-1.3 5 4.4 5 4.4-10.3 1.5-10.4 1.4-5-4.6z" fill="#def22f" stroke="#def22f"/>
<path d="M916.3 339.9l10.4-1.6 10.3-1.7 5.1 4.1 5 4.2-10.3 1.9-10.4 1.9-5.1-4.4z" fill="#daf12e" stroke="#daf12e"/>
<path d="M947.1 344.9l10.4-1.9 10.4-1.9 5.1 4.1 5.1 4.1-10.4 2.1-10.5 2.1-5-4.3z" fill="#d9f02d" stroke="#d9f02d"/>
<path d="M1071.6 358.6l10.5-2.8 10.5-2.7 5.2 3.6 5.2 3.7-10.5 2.9-10.6 3-5.1-3.9z" fill="#dbf12e" stroke="#dbf12e"/>
<path d="M1009.1 353l10.5-2.3 10.4-2.3 5.2 3.8 5.1 3.9-10.5 2.6-10.5 2.5-5.1-4.1z" fill="#d8f02d" stroke="#d8f02d"/>
<path d="M1166.3 362l10.7-3.4 10.6-3.4 5.3 3.3 5.3 3.4-10.7 3.6-10.7 3.6-5.2-3.6z" fill="#e5f330" stroke="#e5f330"/>
<path d="M1230.2 361l10.8-3.8 10.7-3.8 5.4 3.1 5.4 3.1-10.8 4-10.8 4-5.3-3.3z" fill="#eef031" stroke="#eef031"/>
<path d="M1327.4 354.6l10.9-4.4 10.9-4.5 5.5 2.7 5.5 2.8-11 4.6-10.9 4.7-5.5-3z" fill="#f7be27" stroke="#f7be27"/>
<path d="M1393.1 347l11-4.9 11.1-4.9 5.5 2.5 5.6 2.5-11.1 5.1-11 5.1-5.6-2.7z" fill="#fa911e" stroke="#fa911e"/>
<path d="M1493.3 330.5l11.2-5.5 11.2-5.5 5.7 2.1 5.7 2.1-11.3 5.8-11.2 5.7-5.7-2.3z" fill="#fa4518" stroke="#fa4518"/>
<path d="M1561.2 316.2l11.3-6 11.4-6 5.8 1.9 5.8 1.9-11.4 6.2-11.4 6.2-5.8-2.1z" fill="#f72a13" stroke="#f72a13"/>
<path d="M1113.4 367.9l10.6-3.2 10.6-3.2 5.2 3.6 5.3 3.7-10.7 3.4-10.6 3.4-5.2-3.9z" fill="#ddf12e" stroke="#ddf12e"/>
<path d="M1273.2 365.9l10.8-4.2 10.8-4.3 5.4 3.1 5.4 3.1-10.8 4.4-10.9 4.5-5.4-3.3z" fill="#f2e22f" stroke="#f2e22f"/>
<path d="M1437.4 347.4l11.1-5.4 11.2-5.3 5.6 2.5 5.6 2.4-11.2 5.6-11.2 5.6-5.5-2.8z" fill="#fa711c" stroke="#fa711c"/>
<path d="M1607.1 311.9l11.5-6.4 11.5-6.4 5.8 1.8 5.9 1.9-11.6 6.6-11.5 6.6-5.8-2.1z" fill="#f62512" stroke="#f62512"/>
<path d="M1050.6 364.1l10.5-2.8 10.5-2.7 5.2 3.8 5.1 3.9-10.5 2.9-10.6 3-5.1-4.1z" fill="#d8f02d" stroke="#d8f02d"/>
<path d="M592.4 254.8l10.2 0.4 10.2 0.5 4.8 5.3 4.8 5.4-10.2-0.3-10.2-0.2-4.8-5.6z" fill="#fa971e" stroke="#fa971e"/>
<path d="M502.5 216.4l10.2 1.1 10.2 1.1 4.7 5.5 4.8 5.7-10.2-0.9-10.2-0.9-4.8-5.8z" fill="#fa4919" stroke="#fa4919"/>
<path d="M562.4 242.6l10.2 0.6 10.2 0.7 4.8 5.4 4.8 5.5-10.3-0.5-10.2-0.4-4.8-5.7z" fill="#fa7c1d" stroke="#fa7c1d"/>
<path d="M652.5 277.4l10.2 0 10.2 0 4.9 5.2 4.8 5.2-10.2 0.1-10.3 0.2-4.8-5.4z" fill="#f7c528" stroke="#f7c528"/>
<path d="M712.8 297.5l10.3-0.4 10.2-0.4 4.9 5 4.9 5-10.3 0.6-10.2 0.6-4.9-5.2z" fill="#f0e830" stroke="#f0e830"/>
<path d="M743.1 306.7l10.3-0.6 10.2-0.6 4.9 4.9 4.9 4.9-10.2 0.8-10.3 0.8-4.9-5.1z" fill="#ecf432" stroke="#ecf432"/>
<path d="M773.4 315.3l10.3-0.9 10.3-0.8 4.9 4.8 4.9 4.8-10.3 1-10.2 1.1-5-5.1z" fill="#e7f431" stroke="#e7f431"/>
<path d="M803.8 323.2l10.3-1 10.3-1.1 5 4.7 4.9 4.7-10.3 1.3-10.3 1.2-4.9-4.9z" fill="#e3f330" stroke="#e3f330"/>
<path d="M834.3 330.5l10.4-1.2 10.3-1.3 4.9 4.6 5 4.6-10.3 1.5-10.4 1.4-4.9-4.8z" fill="#dff22f" stroke="#dff22f"/>
<path d="M864.9 337.2l10.4-1.4 10.3-1.5 5 4.5 5 4.5-10.4 1.6-10.3 1.7-5-4.7z" fill="#dcf12e" stroke="#dcf12e"/>
<path d="M895.6 343.3l10.4-1.7 10.3-1.7 5 4.4 5.1 4.4-10.4 1.9-10.4 1.9-5-4.7z" fill="#d9f12e" stroke="#d9f12e"/>
<path d="M957.2 353.5l10.5-2.1 10.4-2.1 5.1 4.2 5 4.2-10.4 2.3-10.5 2.3-5-4.4z" fill="#d7f02d" stroke="#d7f02d"/>
<path d="M988.2 357.7l10.5-2.4 10.4-2.3 5.1 4.1 5.1 4.1-10.4 2.5-10.5 2.5-5.1-4.3z" fill="#d6f02d" stroke="#d6f02d"/>
<path d="M532.4 229.8l10.2 0.9 10.2 0.8 4.8 5.5 4.8 5.6-10.2-0.7-10.3-0.7-4.7-5.7z" fill="#fa621b" stroke="#fa621b"/>
<path d="M622.4 266.4l10.2 0.2 10.2 0.2 4.9 5.3 4.8 5.3-10.2-0.1-10.3 0-4.8-5.5z" fill="#f8ad23" stroke="#f8ad23"/>
<path d="M682.6 287.8l10.3-0.2 10.2-0.2 4.9 5 4.8 5.1-10.2 0.4-10.3 0.4-4.8-5.3z" fill="#f5da2d" stroke="#f5da2d"/>
<path d="M926.4 348.7l10.4-1.9 10.3-1.9 5.1 4.3 5 4.3-10.4 2.1-10.4 2.1-5-4.5z" fill="#d8f02d" stroke="#d8f02d"/>
<path d="M1019.3 361.2l10.5-2.5 10.5-2.6 5.1 4 5.2 4-10.5 2.7-10.6 2.7-5.1-4.2z" fill="#d7f02d" stroke="#d7f02d"/>
<path d="M1081.9 366.3l10.6-3 10.5-2.9 5.2 3.7 5.2 3.8-10.6 3.1-10.6 3.2-5.1-4z" fill="#daf12e" stroke="#daf12e"/>
<path d="M1145.1 368.8l10.6-3.4 10.6-3.4 5.3 3.5 5.2 3.6-10.6 3.6-10.7 3.6-5.2-3.8z" fill="#e0f22f" stroke="#e0f22f"/>
<path d="M1176.8 369.1l10.7-3.6 10.7-3.6 5.3 3.3 5.3 3.5-10.7 3.8-10.7 3.8-5.3-3.6z" fill="#e4f330" stroke="#e4f330"/>
<path d="M1208.8 368.7l10.7-3.8 10.7-3.9 5.4 3.3 5.3 3.3-10.8 4.1-10.7 4-5.3-3.5z" fill="#e9f431" stroke="#e9f431"/>
<path d="M1240.9 367.6l10.8-4 10.8-4 5.3 3.1 5.4 3.2-10.8 4.3-10.8 4.2-5.4-3.4z" fill="#eeef31" stroke="#eeef31"/>
<path d="M1305.6 363.6l10.9-4.5 10.9-4.5 5.4 2.9 5.5 3-10.9 4.7-11 4.7-5.4-3.2z" fill="#f6d22c" stroke="#f6d22c"/>
<path d="M1338.3 360.5l10.9-4.7 11-4.6 5.4 2.8 5.5 2.8-11 4.9-10.9 4.9-5.5-3.1z" fill="#f8bb26" stroke="#f8bb26"/>
<path d="M1371.1 356.8l11-4.9 11-4.9 5.5 2.7 5.6 2.7-11.1 5.2-11 5.1-5.5-3z" fill="#f9a521" stroke="#f9a521"/>
<path d="M1404.2 352.4l11-5.1 11.1-5.1 5.6 2.6 5.5 2.6-11.1 5.3-11.1 5.4-5.5-2.9z" fill="#fa8d1e" stroke="#fa8d1e"/>
<path d="M1470.9 341.6l11.2-5.5 11.2-5.6 5.6 2.4 5.7 2.3-11.3 5.8-11.2 5.8-5.6-2.6z" fill="#fa581a" stroke="#fa581a"/>
<path d="M1504.6 335.2l11.2-5.7 11.3-5.8 5.7 2.2 5.7 2.2-11.3 6-11.3 6-5.7-2.4z" fill="#f94118" stroke="#f94118"/>
<path d="M1538.5 328.1l11.3-5.9 11.4-6 5.7 2.1 5.8 2.1-11.4 6.2-11.4 6.2-5.7-2.4z" fill="#f72e14" stroke="#f72e14"/>
<path d="M1572.7 320.4l11.4-6.2 11.4-6.2 5.8 1.9 5.8 2-11.5 6.4-11.4 6.4-5.8-2.2z" fill="#f72913" stroke="#f72913"/>
<path d="M1641.8 302.8l11.5-6.7 11.6-6.6 5.9 1.7 5.9 1.7-11.6 6.9-11.6 6.8-5.9-1.9z" fill="#f62111" stroke="#f62111"/>
<path d="M752.9 316.9l10.3-0.8 10.2-0.8 4.9 4.9 5 5.1-10.3 1-10.3 1-4.9-5.2z" fill="#e9f431" stroke="#e9f431"/>
<path d="M844.2 340.1l10.4-1.4 10.3-1.5 5 4.7 5 4.7-10.4 1.7-10.4 1.6-4.9-4.9z" fill="#dcf12e" stroke="#dcf12e"/>
<path d="M998.4 366.2l10.5-2.5 10.4-2.5 5.1 4.1 5.1 4.2-10.5 2.8-10.5 2.7-5-4.4z" fill="#d4ef2c" stroke="#d4ef2c"/>
<path d="M1060.8 372.2l10.6-3 10.5-2.9 5.2 3.9 5.1 4-10.5 3.2-10.6 3.2-5.1-4.3z" fill="#d7f02d" stroke="#d7f02d"/>
<path d="M1092.2 374.2l10.6-3.2 10.6-3.1 5.2 3.8 5.2 3.9-10.6 3.4-10.6 3.3-5.2-4z" fill="#d9f02d" stroke="#d9f02d"/>
<path d="M1123.8 375.6l10.6-3.4 10.7-3.4 5.2 3.7 5.2 3.8-10.7 3.6-10.6 3.6-5.2-4z" fill="#dcf12e" stroke="#dcf12e"/>
<path d="M1155.5 376.3l10.7-3.6 10.6-3.6 5.3 3.6 5.3 3.6-10.7 3.8-10.8 3.9-5.2-3.9z" fill="#e0f22f" stroke="#e0f22f"/>
<path d="M1219.4 375.7l10.7-4 10.8-4.1 5.3 3.4 5.4 3.4-10.9 4.3-10.7 4.2-5.3-3.6z" fill="#e9f431" stroke="#e9f431"/>
<path d="M1251.6 374.4l10.8-4.2 10.8-4.3 5.3 3.3 5.4 3.3-10.8 4.5-10.9 4.4-5.3-3.5z" fill="#eeef31" stroke="#eeef31"/>
<path d="M1283.9 372.5l10.9-4.5 10.8-4.4 5.4 3.1 5.4 3.2-10.9 4.7-10.9 4.7-5.3-3.4z" fill="#f2e22f" stroke="#f2e22f"/>
<path d="M1316.4 369.9l11-4.7 10.9-4.7 5.4 3 5.5 3.1-11 4.9-11 4.9-5.4-3.3z" fill="#f6d12b" stroke="#f6d12b"/>
<path d="M1382.1 362.7l11-5.1 11.1-5.2 5.5 2.8 5.5 2.9-11.1 5.3-11.1 5.3-5.4-3z" fill="#f9a220" stroke="#f9a220"/>
<path d="M1415.2 358.1l11.1-5.4 11.1-5.3 5.6 2.6 5.5 2.8-11.1 5.5-11.2 5.6-5.5-3z" fill="#fa891d" stroke="#fa891d"/>
<path d="M1448.5 352.8l11.2-5.6 11.2-5.6 5.6 2.6 5.6 2.6-11.2 5.7-11.2 5.8-5.6-2.8z" fill="#fa6d1c" stroke="#fa6d1c"/>
<path d="M1482.1 346.8l11.2-5.8 11.3-5.8 5.6 2.5 5.7 2.4-11.3 6-11.3 6-5.6-2.7z" fill="#fa541a" stroke="#fa541a"/>
<path d="M1549.9 332.8l11.4-6.2 11.4-6.2 5.7 2.1 5.8 2.2-11.5 6.5-11.4 6.4-5.7-2.4z" fill="#f72d14" stroke="#f72d14"/>
<path d="M1584.2 324.7l11.4-6.4 11.5-6.4 5.8 2 5.8 2.1-11.5 6.7-11.5 6.6-5.8-2.3z" fill="#f62913" stroke="#f62913"/>
<path d="M1618.7 316l11.5-6.6 11.6-6.6 5.8 1.9 5.9 1.9-11.6 6.9-11.6 6.9-5.8-2.2z" fill="#f62412" stroke="#f62412"/>
<path d="M1653.5 306.6l11.6-6.8 11.6-6.9 5.9 1.8 5.9 1.8-11.7 7.1-11.6 7.1-5.9-2.1z" fill="#f52011" stroke="#f52011"/>
<path d="M602 265.9l10.2 0.2 10.2 0.3 4.8 5.4 4.8 5.5-10.2-0.1-10.2 0-4.8-5.7z" fill="#f9a321" stroke="#f9a321"/>
<path d="M482.1 214.2l10.2 1.1 10.2 1.1 4.7 5.8 4.8 5.8-10.2-0.9-10.2-0.9-4.8-6z" fill="#f93f17" stroke="#f93f17"/>
<path d="M512 228l10.2 0.9 10.2 0.9 4.8 5.7 4.7 5.7-10.2-0.6-10.2-0.7-4.7-6z" fill="#fa561a" stroke="#fa561a"/>
<path d="M541.9 241.2l10.3 0.7 10.2 0.7 4.7 5.6 4.8 5.7-10.2-0.5-10.2-0.5-4.8-5.9z" fill="#fa6e1c" stroke="#fa6e1c"/>
<path d="M571.9 253.9l10.2 0.4 10.3 0.5 4.8 5.5 4.8 5.6-10.3-0.3-10.2-0.2-4.8-5.8z" fill="#fa8b1d" stroke="#fa8b1d"/>
<path d="M632 277.3l10.3 0 10.2 0.1 4.8 5.3 4.8 5.4-10.2 0.2-10.2 0.1-4.9-5.6z" fill="#f8ba26" stroke="#f8ba26"/>
<path d="M662.1 288.1l10.3-0.2 10.2-0.1 4.9 5.2 4.8 5.3-10.2 0.4-10.3 0.4-4.8-5.5z" fill="#f6d22c" stroke="#f6d22c"/>
<path d="M692.3 298.3l10.3-0.4 10.2-0.4 4.9 5.2 4.9 5.2-10.3 0.6-10.3 0.6-4.8-5.4z" fill="#f2e32f" stroke="#f2e32f"/>
<path d="M722.6 307.9l10.2-0.6 10.3-0.6 4.9 5.1 4.9 5.1-10.3 0.8-10.3 0.8-4.9-5.3z" fill="#eef031" stroke="#eef031"/>
<path d="M783.3 325.3l10.2-1.1 10.3-1 5 4.9 4.9 4.9-10.3 1.2-10.3 1.3-4.9-5.2z" fill="#e4f330" stroke="#e4f330"/>
<path d="M813.7 333l10.3-1.2 10.3-1.3 5 4.8 4.9 4.8-10.3 1.5-10.3 1.4-5-5z" fill="#dff22f" stroke="#dff22f"/>
<path d="M874.9 346.6l10.3-1.7 10.4-1.6 5 4.5 5 4.7-10.4 1.8-10.4 1.9-5-4.8z" fill="#d9f02d" stroke="#d9f02d"/>
<path d="M905.6 352.5l10.4-1.9 10.4-1.9 5 4.5 5 4.5-10.4 2.1-10.4 2.1-5-4.8z" fill="#d7f02d" stroke="#d7f02d"/>
<path d="M936.4 357.7l10.4-2.1 10.4-2.1 5.1 4.4 5 4.4-10.4 2.3-10.4 2.3-5.1-4.6z" fill="#d5f02c" stroke="#d5f02c"/>
<path d="M967.3 362.3l10.5-2.3 10.4-2.3 5.1 4.2 5.1 4.3-10.5 2.6-10.5 2.5-5-4.5z" fill="#d4ef2c" stroke="#d4ef2c"/>
<path d="M1029.5 369.5l10.6-2.7 10.5-2.7 5.1 4 5.1 4.1-10.5 3-10.6 2.9-5.1-4.3z" fill="#d5f02c" stroke="#d5f02c"/>
<path d="M1187.4 376.3l10.7-3.8 10.7-3.8 5.3 3.5 5.3 3.5-10.8 4.1-10.7 4-5.3-3.8z" fill="#e4f330" stroke="#e4f330"/>
<path d="M1349.2 366.6l10.9-4.9 11-4.9 5.5 2.9 5.5 3-11 5.1-11.1 5.1-5.4-3.2z" fill="#f8b925" stroke="#f8b925"/>
<path d="M1515.9 340.1l11.3-6 11.3-6 5.7 2.3 5.7 2.4-11.4 6.2-11.3 6.2-5.7-2.6z" fill="#f93e17" stroke="#f93e17"/>
<path d="M1071.1 380.6l10.6-3.2 10.5-3.2 5.2 4.1 5.2 4-10.6 3.4-10.7 3.4-5.1-4.3z" fill="#d5f02c" stroke="#d5f02c"/>
<path d="M1134.2 383.5l10.6-3.6 10.7-3.6 5.2 3.8 5.2 3.9-10.6 3.8-10.7 3.8-5.2-4.1z" fill="#dbf12e" stroke="#dbf12e"/>
<path d="M1230 382.9l10.7-4.2 10.9-4.3 5.3 3.5 5.3 3.5-10.8 4.5-10.9 4.5-5.3-3.8z" fill="#e9f431" stroke="#e9f431"/>
<path d="M1294.6 379.3l10.9-4.7 10.9-4.7 5.4 3.2 5.4 3.3-10.9 4.9-11 5-5.3-3.6z" fill="#f2e22f" stroke="#f2e22f"/>
<path d="M1393 368.7l11.1-5.3 11.1-5.3 5.5 2.8 5.5 3-11.1 5.5-11.1 5.6-5.5-3.2z" fill="#f9a120" stroke="#f9a120"/>
<path d="M1459.7 358.3l11.2-5.8 11.2-5.7 5.6 2.6 5.6 2.7-11.3 6-11.2 6-5.6-2.9z" fill="#fa6a1c" stroke="#fa6a1c"/>
<path d="M1561.3 337.6l11.4-6.4 11.5-6.5 5.7 2.3 5.8 2.3-11.5 6.7-11.5 6.6-5.7-2.5z" fill="#f72c14" stroke="#f72c14"/>
<path d="M1630.3 320.4l11.6-6.9 11.6-6.9 5.8 2 5.9 2.1-11.7 7.1-11.6 7.1-5.8-2.3z" fill="#f62412" stroke="#f62412"/>
<path d="M611.6 277.2l10.2 0 10.2 0.1 4.8 5.5 4.9 5.6-10.3 0.2-10.2 0.1-4.8-5.8z" fill="#f8b023" stroke="#f8b023"/>
<path d="M671.8 299.1l10.3-0.4 10.2-0.4 4.9 5.4 4.8 5.4-10.2 0.6-10.3 0.6-4.9-5.7z" fill="#f4dd2e" stroke="#f4dd2e"/>
<path d="M732.3 318.5l10.3-0.8 10.3-0.8 4.9 5.2 4.9 5.2-10.4 1-10.3 1-4.8-5.4z" fill="#eaf532" stroke="#eaf532"/>
<path d="M762.7 327.3l10.3-1 10.3-1 4.9 5 4.9 5.2-10.4 1.2-10.3 1.2-4.9-5.3z" fill="#e5f330" stroke="#e5f330"/>
<path d="M823.6 343l10.3-1.4 10.3-1.5 5 4.9 4.9 4.9-10.3 1.7-10.4 1.6-4.9-5.1z" fill="#dcf12e" stroke="#dcf12e"/>
<path d="M854.1 349.9l10.4-1.6 10.4-1.7 4.9 4.8 5 4.8-10.4 1.9-10.4 1.9-4.9-5.1z" fill="#d8f02d" stroke="#d8f02d"/>
<path d="M915.6 361.9l10.4-2.1 10.4-2.1 5 4.6 5.1 4.6-10.5 2.3-10.4 2.3-5-4.8z" fill="#d3ef2c" stroke="#d3ef2c"/>
<path d="M977.4 371.3l10.5-2.5 10.5-2.6 5.1 4.4 5 4.4-10.5 2.8-10.5 2.7-5-4.6z" fill="#d1ef2b" stroke="#d1ef2b"/>
<path d="M1008.5 375l10.5-2.7 10.5-2.8 5.1 4.3 5.1 4.3-10.5 3-10.5 2.9-5.1-4.5z" fill="#d1ef2b" stroke="#d1ef2b"/>
<path d="M521.5 239.9l10.2 0.7 10.2 0.6 4.8 5.8 4.8 5.9-10.2-0.5-10.3-0.5-4.7-6z" fill="#fa631b" stroke="#fa631b"/>
<path d="M581.5 265.4l10.2 0.2 10.3 0.3 4.8 5.6 4.8 5.7-10.3-0.1-10.2 0-4.8-5.9z" fill="#fa991f" stroke="#fa991f"/>
<path d="M461.7 212l10.2 1.1 10.2 1.1 4.7 6 4.8 6-10.3-0.9-10.2-0.9-4.7-6.2z" fill="#f83616" stroke="#f83616"/>
<path d="M491.6 226.2l10.2 0.9 10.2 0.9 4.8 5.9 4.7 6-10.2-0.7-10.2-0.7-4.8-6.2z" fill="#fa4919" stroke="#fa4919"/>
<path d="M551.5 252.9l10.2 0.5 10.2 0.5 4.8 5.7 4.8 5.8-10.2-0.3-10.3-0.3-4.7-6z" fill="#fa7e1d" stroke="#fa7e1d"/>
<path d="M641.7 288.4l10.2-0.1 10.2-0.2 4.9 5.5 4.8 5.5-10.2 0.3-10.3 0.4-4.8-5.7z" fill="#f7c929" stroke="#f7c929"/>
<path d="M702 309.1l10.3-0.6 10.3-0.6 4.8 5.3 4.9 5.3-10.3 0.8-10.3 0.8-4.8-5.5z" fill="#efec30" stroke="#efec30"/>
<path d="M793.1 335.5l10.3-1.3 10.3-1.2 4.9 5 5 5-10.4 1.5-10.3 1.4-4.9-5.3z" fill="#e0f22f" stroke="#e0f22f"/>
<path d="M884.8 356.2l10.4-1.9 10.4-1.8 5 4.6 5 4.8-10.4 2.1-10.4 2.1-5-5z" fill="#d5f02c" stroke="#d5f02c"/>
<path d="M946.5 366.9l10.4-2.3 10.4-2.3 5.1 4.5 5 4.5-10.4 2.5-10.5 2.5-5-4.7z" fill="#d1ef2b" stroke="#d1ef2b"/>
<path d="M1039.7 378.1l10.6-2.9 10.5-3 5.2 4.1 5.1 4.3-10.6 3.1-10.6 3.2-5.1-4.4z" fill="#d2ef2b" stroke="#d2ef2b"/>
<path d="M1102.6 382.3l10.6-3.3 10.6-3.4 5.2 3.9 5.2 4-10.7 3.6-10.6 3.6-5.2-4.2z" fill="#d8f02d" stroke="#d8f02d"/>
<path d="M1165.9 384l10.8-3.9 10.7-3.8 5.2 3.7 5.3 3.8-10.8 4-10.7 4.1-5.2-4z" fill="#dff22f" stroke="#dff22f"/>
<path d="M1197.9 383.8l10.7-4 10.8-4.1 5.3 3.6 5.3 3.6-10.8 4.3-10.8 4.3-5.3-3.9z" fill="#e3f330" stroke="#e3f330"/>
<path d="M1262.2 381.4l10.9-4.4 10.8-4.5 5.4 3.4 5.3 3.4-10.9 4.7-10.9 4.7-5.3-3.7z" fill="#eef031" stroke="#eef031"/>
<path d="M1327.2 376.4l11-4.9 11-4.9 5.4 3.1 5.4 3.2-11 5.1-11 5.2-5.4-3.4z" fill="#f6d12b" stroke="#f6d12b"/>
<path d="M1360 372.9l11.1-5.1 11-5.1 5.5 3 5.4 3-11 5.4-11.1 5.3-5.4-3.3z" fill="#f8b825" stroke="#f8b825"/>
<path d="M1426.2 363.9l11.2-5.6 11.1-5.5 5.6 2.7 5.6 2.8-11.2 5.8-11.2 5.8-5.5-3z" fill="#fa871d" stroke="#fa871d"/>
<path d="M1493.3 352.1l11.3-6 11.3-6 5.6 2.5 5.7 2.6-11.4 6.2-11.3 6.2-5.6-2.8z" fill="#fa511a" stroke="#fa511a"/>
<path d="M1527.2 345.2l11.3-6.2 11.4-6.2 5.7 2.4 5.7 2.4-11.4 6.4-11.4 6.5-5.7-2.7z" fill="#f93c17" stroke="#f93c17"/>
<path d="M1595.7 329.3l11.5-6.6 11.5-6.7 5.8 2.2 5.8 2.2-11.6 6.8-11.6 6.9-5.7-2.4z" fill="#f62813" stroke="#f62813"/>
<path d="M1665.2 310.7l11.6-7.1 11.7-7.1 5.9 1.9 5.9 1.9-11.7 7.3-11.7 7.3-5.9-2.1z" fill="#f51f11" stroke="#f51f11"/>
<path d="M441.2 209.8l10.2 1.1 10.3 1.1 4.7 6.2 4.7 6.2-10.2-0.9-10.3-0.9-4.7-6.4z" fill="#f72d14" stroke="#f72d14"/>
<path d="M471.1 224.4l10.2 0.9 10.3 0.9 4.7 6.1 4.8 6.2-10.3-0.7-10.2-0.7-4.8-6.4z" fill="#f94018" stroke="#f94018"/>
<path d="M501.1 238.5l10.2 0.7 10.2 0.7 4.8 6 4.7 6-10.2-0.4-10.3-0.5-4.7-6.3z" fill="#fa571a" stroke="#fa571a"/>
<path d="M531 251.9l10.3 0.5 10.2 0.5 4.8 5.9 4.7 6-10.2-0.3-10.3-0.3-4.7-6.1z" fill="#fa711c" stroke="#fa711c"/>
<path d="M561 264.8l10.3 0.3 10.2 0.3 4.8 5.8 4.8 5.9-10.3-0.1-10.2-0.1-4.8-6.1z" fill="#fa8e1e" stroke="#fa8e1e"/>
<path d="M591.1 277.1l10.2 0 10.3 0.1 4.8 5.7 4.8 5.8-10.3 0.2-10.3 0.1-4.7-6z" fill="#f9a721" stroke="#f9a721"/>
<path d="M621.2 288.7l10.2-0.1 10.3-0.2 4.8 5.7 4.8 5.7-10.3 0.4-10.2 0.3-4.8-5.9z" fill="#f7c027" stroke="#f7c027"/>
<path d="M651.3 299.8l10.3-0.4 10.2-0.3 4.8 5.5 4.9 5.7-10.3 0.5-10.3 0.6-4.8-5.8z" fill="#f6d82d" stroke="#f6d82d"/>
<path d="M681.5 310.3l10.3-0.6 10.2-0.6 4.9 5.5 4.8 5.5-10.3 0.8-10.2 0.8-4.9-5.8z" fill="#f1e730" stroke="#f1e730"/>
<path d="M711.7 320.1l10.3-0.8 10.3-0.8 4.9 5.4 4.8 5.4-10.3 1-10.3 1-4.8-5.6z" fill="#ecf532" stroke="#ecf532"/>
<path d="M742 329.3l10.3-1 10.4-1 4.8 5.3 4.9 5.3-10.3 1.2-10.3 1.2-4.9-5.5z" fill="#e6f431" stroke="#e6f431"/>
<path d="M772.4 337.9l10.3-1.2 10.4-1.2 4.9 5.1 4.9 5.3-10.4 1.4-10.3 1.5-4.9-5.5z" fill="#e1f22f" stroke="#e1f22f"/>
<path d="M802.9 345.9l10.3-1.4 10.4-1.5 4.9 5.1 4.9 5.1-10.3 1.7-10.4 1.6-4.9-5.3z" fill="#dcf12e" stroke="#dcf12e"/>
<path d="M833.4 353.2l10.4-1.6 10.3-1.7 5 5 4.9 5.1-10.3 1.8-10.4 1.9-4.9-5.3z" fill="#d8f02d" stroke="#d8f02d"/>
<path d="M864 360l10.4-1.9 10.4-1.9 5 4.9 5 5-10.4 2-10.5 2.1-4.9-5.1z" fill="#d4ef2c" stroke="#d4ef2c"/>
<path d="M894.8 366.1l10.4-2.1 10.4-2.1 5 4.8 5 4.8-10.5 2.3-10.4 2.3-5-5.1z" fill="#d1ef2b" stroke="#d1ef2b"/>
<path d="M925.6 371.5l10.4-2.3 10.5-2.3 5 4.7 5 4.7-10.5 2.5-10.4 2.5-5-4.9z" fill="#cfee2a" stroke="#cfee2a"/>
<path d="M956.5 376.3l10.5-2.5 10.4-2.5 5.1 4.6 5 4.6-10.5 2.7-10.5 2.8-5-4.9z" fill="#ceee2a" stroke="#ceee2a"/>
<path d="M987.5 380.5l10.5-2.7 10.5-2.8 5.1 4.5 5.1 4.5-10.6 3-10.5 2.9-5-4.7z" fill="#cdee2a" stroke="#cdee2a"/>
<path d="M1018.7 384l10.5-2.9 10.5-3 5.1 4.4 5.1 4.4-10.5 3.2-10.6 3.1-5.1-4.6z" fill="#ceee2a" stroke="#ceee2a"/>
<path d="M1049.9 386.9l10.6-3.2 10.6-3.1 5.1 4.2 5.1 4.3-10.6 3.4-10.6 3.4-5.1-4.5z" fill="#d0ef2b" stroke="#d0ef2b"/>
<path d="M1081.3 389.1l10.7-3.4 10.6-3.4 5.1 4.2 5.2 4.2-10.7 3.6-10.6 3.6-5.1-4.4z" fill="#d2ef2b" stroke="#d2ef2b"/>
<path d="M1112.9 390.7l10.6-3.6 10.7-3.6 5.2 4 5.2 4.1-10.7 3.8-10.7 3.9-5.2-4.4z" fill="#d6f02d" stroke="#d6f02d"/>
<path d="M1144.6 391.6l10.7-3.8 10.6-3.8 5.3 3.9 5.2 4-10.7 4-10.8 4-5.2-4.2z" fill="#d9f12e" stroke="#d9f12e"/>
<path d="M1176.4 391.9l10.7-4.1 10.8-4 5.2 3.8 5.3 3.9-10.8 4.2-10.8 4.3-5.2-4.1z" fill="#ddf22f" stroke="#ddf22f"/>
<path d="M1208.4 391.5l10.8-4.3 10.8-4.3 5.2 3.7 5.3 3.8-10.8 4.5-10.8 4.4-5.3-3.9z" fill="#e2f330" stroke="#e2f330"/>
<path d="M1240.5 390.4l10.9-4.5 10.8-4.5 5.3 3.6 5.3 3.7-10.8 4.7-10.9 4.6-5.3-3.8z" fill="#e8f431" stroke="#e8f431"/>
<path d="M1272.8 388.7l10.9-4.7 10.9-4.7 5.4 3.4 5.3 3.6-10.9 4.9-10.9 4.9-5.3-3.8z" fill="#edf131" stroke="#edf131"/>
<path d="M1305.3 386.3l11-5 10.9-4.9 5.4 3.4 5.4 3.4-11 5.1-11 5.1-5.3-3.6z" fill="#f2e22f" stroke="#f2e22f"/>
<path d="M1338 383.2l11-5.2 11-5.1 5.5 3.2 5.4 3.3-11.1 5.4-11 5.3-5.4-3.5z" fill="#f6d12b" stroke="#f6d12b"/>
<path d="M1370.9 379.4l11.1-5.3 11-5.4 5.5 3.1 5.5 3.2-11.1 5.6-11.1 5.5-5.5-3.3z" fill="#f8b725" stroke="#f8b725"/>
<path d="M1404 375l11.1-5.6 11.1-5.5 5.6 3 5.5 3-11.2 5.8-11.2 5.8-5.4-3.3z" fill="#f9a020" stroke="#f9a020"/>
<path d="M1437.3 369.9l11.2-5.8 11.2-5.8 5.5 2.9 5.6 2.9-11.3 6-11.2 6-5.5-3.1z" fill="#fa851d" stroke="#fa851d"/>
<path d="M1470.8 364.1l11.2-6 11.3-6 5.6 2.7 5.6 2.8-11.3 6.3-11.3 6.2-5.6-3z" fill="#fa681c" stroke="#fa681c"/>
<path d="M1504.5 357.6l11.3-6.2 11.4-6.2 5.6 2.6 5.7 2.7-11.4 6.4-11.4 6.5-5.6-2.9z" fill="#fa4f1a" stroke="#fa4f1a"/>
<path d="M1538.5 350.5l11.4-6.5 11.4-6.4 5.7 2.5 5.7 2.5-11.5 6.7-11.4 6.7-5.7-2.8z" fill="#f83a16" stroke="#f83a16"/>
<path d="M1572.7 342.6l11.5-6.6 11.5-6.7 5.7 2.4 5.7 2.4-11.5 6.9-11.5 6.9-5.7-2.7z" fill="#f72c14" stroke="#f72c14"/>
<path d="M1607.1 334.1l11.6-6.9 11.6-6.8 5.8 2.2 5.8 2.3-11.7 7.1-11.6 7.1-5.7-2.5z" fill="#f62713" stroke="#f62713"/>
<path d="M1641.9 324.9l11.6-7.1 11.7-7.1 5.8 2.1 5.9 2.1-11.8 7.4-11.7 7.3-5.7-2.4z" fill="#f62312" stroke="#f62312"/>
<path d="M1676.9 314.9l11.7-7.3 11.7-7.3 5.9 2 5.9 2-11.8 7.6-11.8 7.5-5.8-2.2z" fill="#f51e11" stroke="#f51e11"/>
<path d="M1028.8 393.2l10.6-3.1 10.5-3.2 5.1 4.5 5.1 4.5-10.6 3.4-10.6 3.4-5-4.8z" fill="#caed29" stroke="#caed29"/>
<path d="M1091.6 397.9l10.6-3.6 10.7-3.6 5.1 4.2 5.2 4.4-10.7 3.8-10.7 3.8-5.1-4.5z" fill="#cfee2a" stroke="#cfee2a"/>
<path d="M1154.9 399.9l10.8-4 10.7-4 5.2 4 5.2 4.1-10.8 4.2-10.7 4.3-5.2-4.3z" fill="#d8f02d" stroke="#d8f02d"/>
<path d="M1186.8 400l10.8-4.3 10.8-4.2 5.2 3.9 5.3 3.9-10.8 4.5-10.9 4.5-5.2-4.2z" fill="#dcf12e" stroke="#dcf12e"/>
<path d="M1251.1 398l10.9-4.6 10.8-4.7 5.4 3.6 5.3 3.8-10.9 4.9-11 4.9-5.2-3.9z" fill="#e7f431" stroke="#e7f431"/>
<path d="M1316 393.4l11-5.1 11-5.1 5.4 3.4 5.4 3.5-11 5.4-11.1 5.3-5.3-3.7z" fill="#f2e42f" stroke="#f2e42f"/>
<path d="M1348.8 390.1l11-5.3 11.1-5.4 5.4 3.4 5.5 3.3-11.1 5.6-11.1 5.6-5.4-3.6z" fill="#f6d22c" stroke="#f6d22c"/>
<path d="M1414.9 381.5l11.2-5.8 11.2-5.8 5.5 3.1 5.5 3.1-11.2 6-11.3 6-5.4-3.3z" fill="#f99f20" stroke="#f99f20"/>
<path d="M1481.9 370.1l11.3-6.2 11.3-6.3 5.6 2.9 5.6 2.9-11.4 6.4-11.3 6.5-5.6-3.2z" fill="#fa671b" stroke="#fa671b"/>
<path d="M1515.7 363.4l11.4-6.5 11.4-6.4 5.6 2.7 5.7 2.8-11.5 6.6-11.4 6.7-5.6-3z" fill="#fa4d19" stroke="#fa4d19"/>
<path d="M1584.1 347.9l11.5-6.9 11.5-6.9 5.8 2.5 5.7 2.5-11.6 7.1-11.6 7.1-5.7-2.8z" fill="#f72b14" stroke="#f72b14"/>
<path d="M1653.4 329.6l11.7-7.3 11.8-7.4 5.8 2.3 5.8 2.2-11.7 7.6-11.8 7.5-5.8-2.5z" fill="#f62212" stroke="#f62212"/>
<path d="M630.8 300.5l10.2-0.3 10.3-0.4 4.8 5.8 4.8 5.8-10.3 0.6-10.2 0.5-4.8-6z" fill="#f6d12b" stroke="#f6d12b"/>
<path d="M691.2 321.7l10.2-0.8 10.3-0.8 4.9 5.6 4.8 5.6-10.3 1-10.3 1-4.8-5.8z" fill="#edf231" stroke="#edf231"/>
<path d="M782.2 348.8l10.3-1.5 10.4-1.4 4.9 5.3 4.9 5.3-10.4 1.7-10.3 1.6-4.9-5.5z" fill="#dcf12e" stroke="#dcf12e"/>
<path d="M873.9 370.2l10.5-2.1 10.4-2 4.9 4.9 5 5.1-10.4 2.3-10.5 2.3-4.9-5.3z" fill="#cfee2a" stroke="#cfee2a"/>
<path d="M935.6 381.3l10.4-2.5 10.5-2.5 5 4.8 5 4.9-10.5 2.7-10.4 2.7-5-5z" fill="#cbee29" stroke="#cbee29"/>
<path d="M480.6 237.1l10.2 0.7 10.3 0.7 4.7 6.2 4.7 6.3-10.2-0.5-10.3-0.6-4.7-6.4z" fill="#fa4c19" stroke="#fa4c19"/>
<path d="M540.5 264.2l10.3 0.3 10.2 0.3 4.8 6 4.8 6.1-10.3 0-10.2-0.1-4.8-6.3z" fill="#fa831d" stroke="#fa831d"/>
<path d="M450.6 222.6l10.3 0.9 10.2 0.9 4.7 6.3 4.8 6.4-10.3-0.7-10.2-0.8-4.7-6.5z" fill="#f83716" stroke="#f83716"/>
<path d="M510.5 251l10.3 0.5 10.2 0.4 4.8 6.2 4.7 6.1-10.2-0.2-10.3-0.3-4.7-6.4z" fill="#fa661b" stroke="#fa661b"/>
<path d="M570.6 276.9l10.2 0.1 10.3 0.1 4.8 5.9 4.7 6-10.2 0.2-10.3 0.1-4.8-6.2z" fill="#f99e20" stroke="#f99e20"/>
<path d="M600.6 289l10.3-0.1 10.3-0.2 4.8 5.9 4.8 5.9-10.3 0.4-10.3 0.3-4.8-6.1z" fill="#f8b625" stroke="#f8b625"/>
<path d="M660.9 311.4l10.3-0.6 10.3-0.5 4.8 5.6 4.9 5.8-10.3 0.7-10.3 0.8-4.9-5.9z" fill="#f2e32f" stroke="#f2e32f"/>
<path d="M721.4 331.3l10.3-1 10.3-1 4.9 5.5 4.9 5.5-10.3 1.3-10.4 1.2-4.8-5.8z" fill="#e7f431" stroke="#e7f431"/>
<path d="M751.8 340.3l10.3-1.2 10.3-1.2 4.9 5.4 4.9 5.5-10.3 1.4-10.4 1.4-4.8-5.7z" fill="#e1f22f" stroke="#e1f22f"/>
<path d="M812.7 356.5l10.4-1.6 10.3-1.7 5 5.2 4.9 5.3-10.4 1.9-10.4 1.8-4.9-5.5z" fill="#d8f02d" stroke="#d8f02d"/>
<path d="M843.3 363.7l10.4-1.9 10.3-1.8 5 5.1 4.9 5.1-10.4 2.1-10.4 2.1-4.9-5.4z" fill="#d3ef2c" stroke="#d3ef2c"/>
<path d="M904.7 376.1l10.4-2.3 10.5-2.3 5 4.9 5 4.9-10.5 2.6-10.5 2.5-4.9-5.2z" fill="#ccee29" stroke="#ccee29"/>
<path d="M966.5 386l10.5-2.8 10.5-2.7 5.1 4.7 5 4.7-10.5 3-10.5 2.9-5-4.9z" fill="#caed29" stroke="#caed29"/>
<path d="M997.6 389.9l10.5-2.9 10.6-3 5 4.6 5.1 4.6-10.5 3.2-10.6 3.2-5-4.9z" fill="#caed29" stroke="#caed29"/>
<path d="M1060.1 395.9l10.6-3.4 10.6-3.4 5.2 4.4 5.1 4.4-10.6 3.6-10.7 3.6-5.1-4.6z" fill="#ccee29" stroke="#ccee29"/>
<path d="M1123.2 399.3l10.7-3.9 10.7-3.8 5.1 4.1 5.2 4.2-10.7 4.1-10.7 4-5.2-4.4z" fill="#d3ef2c" stroke="#d3ef2c"/>
<path d="M1218.9 399.3l10.8-4.4 10.8-4.5 5.3 3.8 5.3 3.8-10.9 4.7-10.8 4.7-5.3-4z" fill="#e1f22f" stroke="#e1f22f"/>
<path d="M1283.5 396.1l10.9-4.9 10.9-4.9 5.4 3.5 5.3 3.6-10.9 5.2-11 5.1-5.3-3.8z" fill="#edf232" stroke="#edf232"/>
<path d="M1381.8 386.1l11.1-5.5 11.1-5.6 5.5 3.2 5.4 3.3-11.1 5.8-11.2 5.8-5.4-3.5z" fill="#f8b725" stroke="#f8b725"/>
<path d="M1448.3 376.1l11.2-6 11.3-6 5.5 3 5.6 3-11.3 6.2-11.3 6.2-5.5-3.2z" fill="#fa841d" stroke="#fa841d"/>
<path d="M1549.8 356l11.4-6.7 11.5-6.7 5.7 2.6 5.7 2.7-11.6 6.8-11.5 6.9-5.6-2.8z" fill="#f83816" stroke="#f83816"/>
<path d="M1618.6 339.1l11.6-7.1 11.7-7.1 5.8 2.3 5.7 2.4-11.7 7.3-11.6 7.3-5.8-2.6z" fill="#f62713" stroke="#f62713"/>
<path d="M1165.3 408.5l10.7-4.3 10.8-4.2 5.2 4.1 5.2 4.2-10.8 4.5-10.8 4.5-5.1-4.4z" fill="#d5f02c" stroke="#d5f02c"/>
<path d="M1326.7 400.8l11.1-5.3 11-5.4 5.4 3.6 5.4 3.6-11.1 5.6-11.1 5.5-5.3-3.8z" fill="#f1e52f" stroke="#f1e52f"/>
<path d="M1493 376.3l11.3-6.5 11.4-6.4 5.6 2.9 5.6 3-11.4 6.7-11.4 6.7-5.6-3.3z" fill="#fa661b" stroke="#fa661b"/>
<path d="M1007.7 399.6l10.6-3.2 10.5-3.2 5.1 4.7 5 4.8-10.5 3.3-10.6 3.4-5.1-4.9z" fill="#c5ec27" stroke="#c5ec27"/>
<path d="M610.2 301.2l10.3-0.3 10.3-0.4 4.8 6 4.8 6-10.3 0.6-10.3 0.5-4.8-6.2z" fill="#f7c929" stroke="#f7c929"/>
<path d="M640.4 312.5l10.2-0.5 10.3-0.6 4.8 5.9 4.9 5.9-10.3 0.8-10.3 0.8-4.8-6.2z" fill="#f3df2e" stroke="#f3df2e"/>
<path d="M670.6 323.2l10.3-0.8 10.3-0.7 4.8 5.8 4.8 5.8-10.3 1-10.3 1-4.8-6.1z" fill="#eeef31" stroke="#eeef31"/>
<path d="M700.8 333.3l10.3-1 10.3-1 4.9 5.7 4.8 5.8-10.3 1.2-10.3 1.2-4.9-6z" fill="#e8f431" stroke="#e8f431"/>
<path d="M761.5 351.6l10.4-1.4 10.3-1.4 4.9 5.5 4.9 5.5-10.4 1.7-10.3 1.6-4.9-5.8z" fill="#dcf12e" stroke="#dcf12e"/>
<path d="M792 359.8l10.3-1.6 10.4-1.7 4.9 5.4 4.9 5.5-10.4 1.9-10.4 1.8-4.8-5.7z" fill="#d7f02d" stroke="#d7f02d"/>
<path d="M853.1 374.4l10.4-2.1 10.4-2.1 5 5.2 4.9 5.3-10.4 2.3-10.4 2.3-4.9-5.5z" fill="#ceee2a" stroke="#ceee2a"/>
<path d="M883.8 380.7l10.5-2.3 10.4-2.3 5 5.1 4.9 5.2-10.4 2.5-10.5 2.5-4.9-5.4z" fill="#caed29" stroke="#caed29"/>
<path d="M914.6 386.4l10.5-2.5 10.5-2.6 5 5.1 5 5-10.5 2.7-10.5 2.8-5-5.3z" fill="#c7ed28" stroke="#c7ed28"/>
<path d="M945.6 391.4l10.4-2.7 10.5-2.7 5.1 4.9 5 4.9-10.5 3-10.6 2.9-5-5.2z" fill="#c6ed27" stroke="#c6ed27"/>
<path d="M460.1 235.6l10.2 0.8 10.3 0.7 4.7 6.4 4.7 6.4-10.2-0.5-10.3-0.5-4.7-6.7z" fill="#f94318" stroke="#f94318"/>
<path d="M490 249.9l10.3 0.6 10.2 0.5 4.8 6.3 4.7 6.4-10.2-0.3-10.3-0.3-4.7-6.6z" fill="#fa5c1b" stroke="#fa5c1b"/>
<path d="M520 263.7l10.3 0.3 10.2 0.2 4.8 6.3 4.8 6.3-10.3-0.1-10.3-0.1-4.7-6.5z" fill="#fa771c" stroke="#fa771c"/>
<path d="M550.1 276.8l10.2 0.1 10.3 0 4.7 6.2 4.8 6.2-10.3 0.1-10.2 0.2-4.8-6.5z" fill="#fa951e" stroke="#fa951e"/>
<path d="M580.1 289.3l10.3-0.1 10.2-0.2 4.8 6.1 4.8 6.1-10.3 0.4-10.2 0.3-4.8-6.3z" fill="#f8ae23" stroke="#f8ae23"/>
<path d="M731.1 342.8l10.4-1.2 10.3-1.3 4.9 5.6 4.8 5.7-10.3 1.4-10.4 1.4-4.8-5.8z" fill="#e2f330" stroke="#e2f330"/>
<path d="M822.5 367.4l10.4-1.8 10.4-1.9 4.9 5.3 4.9 5.4-10.4 2-10.4 2.1-4.9-5.6z" fill="#d2ef2b" stroke="#d2ef2b"/>
<path d="M976.6 395.8l10.5-2.9 10.5-3 5.1 4.8 5 4.9-10.6 3.1-10.5 3.2-5-5.1z" fill="#c5ec27" stroke="#c5ec27"/>
<path d="M1038.9 402.7l10.6-3.4 10.6-3.4 5.1 4.6 5.1 4.6-10.6 3.6-10.6 3.6-5.1-4.8z" fill="#c7ed28" stroke="#c7ed28"/>
<path d="M1070.3 405.1l10.7-3.6 10.6-3.6 5.1 4.5 5.1 4.5-10.6 3.8-10.7 3.8-5.1-4.7z" fill="#c9ed28" stroke="#c9ed28"/>
<path d="M1101.8 406.9l10.7-3.8 10.7-3.8 5.1 4.3 5.2 4.4-10.7 4.1-10.7 4-5.1-4.6z" fill="#ccee29" stroke="#ccee29"/>
<path d="M1133.5 408l10.7-4 10.7-4.1 5.2 4.3 5.2 4.3-10.8 4.3-10.7 4.2-5.2-4.5z" fill="#d0ef2b" stroke="#d0ef2b"/>
<path d="M1197.2 408.3l10.9-4.5 10.8-4.5 5.2 4.1 5.3 4-10.9 4.7-10.8 4.7-5.2-4.3z" fill="#daf12e" stroke="#daf12e"/>
<path d="M1229.4 407.4l10.8-4.7 10.9-4.7 5.3 4 5.2 3.9-10.9 4.9-10.9 5-5.2-4.2z" fill="#e0f22f" stroke="#e0f22f"/>
<path d="M1261.6 405.9l11-4.9 10.9-4.9 5.3 3.8 5.3 3.8-11 5.2-10.9 5.1-5.3-4.1z" fill="#e6f330" stroke="#e6f330"/>
<path d="M1294.1 403.7l11-5.1 10.9-5.2 5.4 3.7 5.3 3.7-11 5.4-11 5.4-5.3-4z" fill="#ecf432" stroke="#ecf432"/>
<path d="M1359.6 397.3l11.1-5.6 11.1-5.6 5.4 3.5 5.4 3.5-11.1 5.8-11.2 5.8-5.3-3.8z" fill="#f6d32c" stroke="#f6d32c"/>
<path d="M1392.6 393.1l11.2-5.8 11.1-5.8 5.5 3.3 5.4 3.3-11.2 6.1-11.2 6-5.4-3.6z" fill="#f8b825" stroke="#f8b825"/>
<path d="M1425.8 388.1l11.3-6 11.2-6 5.5 3.2 5.5 3.2-11.3 6.3-11.2 6.2-5.5-3.4z" fill="#f99f20" stroke="#f99f20"/>
<path d="M1459.3 382.5l11.3-6.2 11.3-6.2 5.5 3 5.6 3.2-11.4 6.4-11.3 6.5-5.5-3.4z" fill="#fa831d" stroke="#fa831d"/>
<path d="M1526.9 369.3l11.4-6.7 11.5-6.6 5.6 2.8 5.6 2.8-11.5 6.9-11.4 6.9-5.6-3.1z" fill="#fa4b19" stroke="#fa4b19"/>
<path d="M1561 361.6l11.5-6.9 11.6-6.8 5.6 2.6 5.7 2.8-11.5 7.1-11.6 7.1-5.6-2.9z" fill="#f83716" stroke="#f83716"/>
<path d="M1595.4 353.3l11.6-7.1 11.6-7.1 5.7 2.5 5.8 2.6-11.7 7.4-11.6 7.3-5.7-2.8z" fill="#f72b13" stroke="#f72b13"/>
<path d="M1630.1 344.2l11.6-7.3 11.7-7.3 5.8 2.4 5.8 2.5-11.7 7.6-11.8 7.5-5.7-2.7z" fill="#f62712" stroke="#f62712"/>
<path d="M650 324.8l10.3-0.8 10.3-0.8 4.8 6 4.8 6.1-10.3 1-10.3 0.9-4.8-6.2z" fill="#efeb30" stroke="#efeb30"/>
<path d="M893.7 391.4l10.5-2.5 10.4-2.5 5 5.2 5 5.3-10.5 2.7-10.5 2.7-4.9-5.5z" fill="#c4ec27" stroke="#c4ec27"/>
<path d="M986.6 405.9l10.5-3.2 10.6-3.1 5 4.9 5.1 4.9-10.6 3.4-10.6 3.4-5-5.2z" fill="#c0eb25" stroke="#c0eb25"/>
<path d="M1049.1 412.3l10.6-3.6 10.6-3.6 5.1 4.7 5.1 4.7-10.6 3.9-10.7 3.8-5.1-5z" fill="#c3ec26" stroke="#c3ec26"/>
<path d="M1112.1 416.1l10.7-4 10.7-4.1 5.1 4.5 5.2 4.5-10.8 4.3-10.7 4.2-5.1-4.7z" fill="#c9ed28" stroke="#c9ed28"/>
<path d="M1143.8 417l10.7-4.2 10.8-4.3 5.2 4.4 5.1 4.4-10.7 4.4-10.8 4.5-5.2-4.6z" fill="#cdee2a" stroke="#cdee2a"/>
<path d="M1175.6 417.3l10.8-4.5 10.8-4.5 5.3 4.2 5.2 4.3-10.9 4.7-10.8 4.7-5.2-4.5z" fill="#d2ef2b" stroke="#d2ef2b"/>
<path d="M1207.7 416.8l10.8-4.7 10.9-4.7 5.2 4.2 5.2 4.2-10.9 4.9-10.8 4.9-5.2-4.4z" fill="#d8f02d" stroke="#d8f02d"/>
<path d="M1272.2 414l10.9-5.1 11-5.2 5.3 3.9 5.3 4-11 5.3-11 5.4-5.2-4.2z" fill="#e4f330" stroke="#e4f330"/>
<path d="M1304.7 411.6l11-5.4 11-5.4 5.4 3.8 5.3 3.8-11 5.6-11.1 5.6-5.3-4z" fill="#ebf532" stroke="#ebf532"/>
<path d="M1337.4 408.4l11.1-5.5 11.1-5.6 5.4 3.6 5.3 3.8-11.1 5.8-11.1 5.8-5.3-4z" fill="#f1e730" stroke="#f1e730"/>
<path d="M1370.3 404.7l11.2-5.8 11.1-5.8 5.4 3.5 5.4 3.6-11.1 6-11.2 6-5.4-3.8z" fill="#f6d52d" stroke="#f6d52d"/>
<path d="M1436.8 395l11.2-6.2 11.3-6.3 5.5 3.3 5.5 3.4-11.3 6.5-11.3 6.4-5.5-3.6z" fill="#f9a020" stroke="#f9a020"/>
<path d="M1470.3 389.2l11.3-6.5 11.4-6.4 5.5 3.1 5.6 3.3-11.4 6.6-11.4 6.7-5.5-3.4z" fill="#fa841d" stroke="#fa841d"/>
<path d="M1504.1 382.7l11.4-6.7 11.4-6.7 5.6 3 5.6 3.1-11.5 6.9-11.5 7-5.5-3.4z" fill="#fa661b" stroke="#fa661b"/>
<path d="M1538.1 375.4l11.4-6.9 11.5-6.9 5.7 3 5.6 2.9-11.6 7.2-11.5 7.1-5.6-3.2z" fill="#fa4a19" stroke="#fa4a19"/>
<path d="M1606.8 358.9l11.6-7.3 11.7-7.4 5.7 2.7 5.7 2.7-11.7 7.6-11.7 7.6-5.6-3z" fill="#f72b13" stroke="#f72b13"/>
<path d="M499.5 263.1l10.3 0.3 10.2 0.3 4.8 6.4 4.7 6.5-10.2-0.1-10.3-0.1-4.7-6.7z" fill="#fa6c1c" stroke="#fa6c1c"/>
<path d="M589.7 301.9l10.2-0.3 10.3-0.4 4.8 6.2 4.8 6.2-10.3 0.6-10.3 0.5-4.8-6.4z" fill="#f7c127" stroke="#f7c127"/>
<path d="M469.5 248.9l10.3 0.5 10.2 0.5 4.8 6.6 4.7 6.6-10.2-0.4-10.3-0.3-4.7-6.8z" fill="#fa511a" stroke="#fa511a"/>
<path d="M529.5 276.6l10.3 0.1 10.3 0.1 4.7 6.3 4.8 6.5-10.3 0.1-10.3 0.1-4.7-6.6z" fill="#fa8b1d" stroke="#fa8b1d"/>
<path d="M619.8 313.6l10.3-0.5 10.3-0.6 4.8 6.1 4.8 6.2-10.3 0.7-10.3 0.8-4.8-6.4z" fill="#f5da2e" stroke="#f5da2e"/>
<path d="M680.2 335.3l10.3-1 10.3-1 4.8 5.9 4.9 6-10.3 1.2-10.4 1.2-4.8-6.2z" fill="#e9f431" stroke="#e9f431"/>
<path d="M710.5 345.2l10.3-1.2 10.3-1.2 4.9 5.8 4.8 5.8-10.3 1.5-10.4 1.4-4.8-6.1z" fill="#e2f330" stroke="#e2f330"/>
<path d="M740.8 354.4l10.4-1.4 10.3-1.4 4.9 5.7 4.9 5.8-10.4 1.6-10.4 1.7-4.8-6z" fill="#dcf12e" stroke="#dcf12e"/>
<path d="M771.3 363.1l10.3-1.6 10.4-1.7 4.9 5.6 4.8 5.7-10.3 1.9-10.4 1.8-4.9-5.9z" fill="#d7f02d" stroke="#d7f02d"/>
<path d="M801.7 371.1l10.4-1.8 10.4-1.9 4.9 5.5 4.9 5.6-10.4 2.1-10.4 2-4.9-5.7z" fill="#d1ef2b" stroke="#d1ef2b"/>
<path d="M832.3 378.5l10.4-2.1 10.4-2 5 5.4 4.9 5.5-10.4 2.3-10.5 2.2-4.9-5.7z" fill="#ccee29" stroke="#ccee29"/>
<path d="M863 385.3l10.4-2.3 10.4-2.3 5 5.3 4.9 5.4-10.4 2.5-10.5 2.5-4.9-5.6z" fill="#c8ed28" stroke="#c8ed28"/>
<path d="M924.6 396.9l10.5-2.8 10.5-2.7 4.9 5.1 5 5.2-10.5 2.9-10.5 3-5-5.4z" fill="#c2ec26" stroke="#c2ec26"/>
<path d="M955.5 401.7l10.6-2.9 10.5-3 5 5 5 5.1-10.5 3.1-10.6 3.2-5-5.3z" fill="#c1ec26" stroke="#c1ec26"/>
<path d="M559.6 289.6l10.2-0.2 10.3-0.1 4.8 6.3 4.8 6.3-10.3 0.3-10.3 0.4-4.8-6.6z" fill="#f9a621" stroke="#f9a621"/>
<path d="M1017.8 409.4l10.6-3.4 10.5-3.3 5.1 4.8 5.1 4.8-10.6 3.6-10.7 3.6-5-5.1z" fill="#c1ec26" stroke="#c1ec26"/>
<path d="M1080.5 414.5l10.7-3.8 10.6-3.8 5.2 4.6 5.1 4.6-10.7 4-10.7 4.1-5.1-4.9z" fill="#c5ec27" stroke="#c5ec27"/>
<path d="M1239.8 415.8l10.9-5 10.9-4.9 5.3 4 5.3 4.1-11 5.1-10.9 5.2-5.2-4.3z" fill="#def22f" stroke="#def22f"/>
<path d="M1403.4 400.2l11.2-6 11.2-6.1 5.5 3.5 5.5 3.4-11.3 6.3-11.2 6.2-5.4-3.7z" fill="#f8ba25" stroke="#f8ba25"/>
<path d="M1572.3 367.5l11.6-7.1 11.5-7.1 5.7 2.8 5.7 2.8-11.6 7.4-11.7 7.3-5.6-3z" fill="#f83616" stroke="#f83616"/>
<path d="M1122.3 425.5l10.7-4.2 10.8-4.3 5.1 4.6 5.2 4.6-10.8 4.5-10.8 4.5-5.1-4.9z" fill="#c5ec27" stroke="#c5ec27"/>
<path d="M1186 426.2l10.8-4.7 10.9-4.7 5.2 4.4 5.2 4.4-10.9 4.9-10.9 4.9-5.1-4.6z" fill="#cfee2a" stroke="#cfee2a"/>
<path d="M1282.7 422.3l11-5.4 11-5.3 5.3 4 5.3 4-11 5.6-11 5.6-5.3-4.3z" fill="#e2f330" stroke="#e2f330"/>
<path d="M1348.1 416.3l11.1-5.8 11.1-5.8 5.4 3.7 5.4 3.8-11.2 6.1-11.1 6-5.4-4z" fill="#f0ea30" stroke="#f0ea30"/>
<path d="M1447.7 402.1l11.3-6.4 11.3-6.5 5.5 3.4 5.5 3.4-11.4 6.7-11.3 6.7-5.5-3.6z" fill="#f9a220" stroke="#f9a220"/>
<path d="M1515.1 389.3l11.5-7 11.5-6.9 5.5 3.2 5.6 3.2-11.5 7.1-11.5 7.2-5.5-3.5z" fill="#fa661b" stroke="#fa661b"/>
<path d="M965.5 412.2l10.6-3.2 10.5-3.1 5 5.1 5 5.2-10.6 3.4-10.5 3.3-5-5.4z" fill="#bceb24" stroke="#bceb24"/>
<path d="M629.4 326.3l10.3-0.8 10.3-0.7 4.8 6.2 4.8 6.2-10.3 1-10.4 1-4.8-6.5z" fill="#f0e830" stroke="#f0e830"/>
<path d="M659.6 337.2l10.3-0.9 10.3-1 4.8 6.1 4.8 6.2-10.3 1.2-10.3 1.1-4.8-6.3z" fill="#eaf532" stroke="#eaf532"/>
<path d="M720.1 357.3l10.4-1.4 10.3-1.5 4.9 6 4.8 6-10.3 1.6-10.4 1.6-4.8-6.2z" fill="#ddf12e" stroke="#ddf12e"/>
<path d="M811.5 382.6l10.4-2 10.4-2.1 4.9 5.6 4.9 5.7-10.4 2.3-10.4 2.3-4.9-5.9z" fill="#caed29" stroke="#caed29"/>
<path d="M872.8 396.4l10.5-2.5 10.4-2.5 5 5.4 4.9 5.5-10.5 2.7-10.4 2.7-5-5.7z" fill="#c1ec26" stroke="#c1ec26"/>
<path d="M903.6 402.3l10.5-2.7 10.5-2.7 4.9 5.3 5 5.4-10.5 2.9-10.5 3-4.9-5.6z" fill="#beeb25" stroke="#beeb25"/>
<path d="M1027.8 419.5l10.7-3.6 10.6-3.6 5 4.9 5.1 5-10.6 3.8-10.7 3.8-5-5.2z" fill="#bceb24" stroke="#bceb24"/>
<path d="M569.1 302.6l10.3-0.4 10.3-0.3 4.7 6.4 4.8 6.4-10.3 0.6-10.3 0.5-4.7-6.6z" fill="#f8b925" stroke="#f8b925"/>
<path d="M479 262.4l10.3 0.3 10.2 0.4 4.8 6.6 4.7 6.7-10.3-0.1-10.3-0.1-4.7-6.9z" fill="#fa631b" stroke="#fa631b"/>
<path d="M509 276.4l10.3 0.1 10.2 0.1 4.8 6.6 4.7 6.6-10.3 0.1-10.2 0.1-4.8-6.8z" fill="#fa811d" stroke="#fa811d"/>
<path d="M599.2 314.7l10.3-0.5 10.3-0.6 4.8 6.3 4.8 6.4-10.3 0.7-10.3 0.8-4.8-6.6z" fill="#f6d62d" stroke="#f6d62d"/>
<path d="M539 289.8l10.3-0.1 10.3-0.1 4.7 6.4 4.8 6.6-10.3 0.3-10.3 0.3-4.7-6.7z" fill="#f99f20" stroke="#f99f20"/>
<path d="M689.8 347.6l10.4-1.2 10.3-1.2 4.8 6 4.8 6.1-10.3 1.4-10.3 1.4-4.9-6.3z" fill="#e3f330" stroke="#e3f330"/>
<path d="M750.5 366.4l10.4-1.7 10.4-1.6 4.8 5.8 4.9 5.9-10.4 1.9-10.4 1.8-4.8-6.1z" fill="#d7f02d" stroke="#d7f02d"/>
<path d="M781 374.8l10.4-1.8 10.3-1.9 4.9 5.8 4.9 5.7-10.4 2.1-10.4 2.1-4.9-6z" fill="#d0ef2b" stroke="#d0ef2b"/>
<path d="M842.1 389.8l10.5-2.2 10.4-2.3 4.9 5.5 4.9 5.6-10.4 2.5-10.5 2.5-4.9-5.8z" fill="#c5ec27" stroke="#c5ec27"/>
<path d="M934.5 407.6l10.5-3 10.5-2.9 5 5.2 5 5.3-10.5 3.2-10.6 3.1-4.9-5.5z" fill="#bdeb24" stroke="#bdeb24"/>
<path d="M996.6 416.2l10.6-3.4 10.6-3.4 5 5 5 5.1-10.6 3.6-10.6 3.6-5-5.3z" fill="#bbea24" stroke="#bbea24"/>
<path d="M1059.2 422.2l10.7-3.8 10.6-3.9 5.1 4.8 5.1 4.9-10.7 4-10.7 4.1-5-5.1z" fill="#beeb25" stroke="#beeb25"/>
<path d="M1090.7 424.2l10.7-4.1 10.7-4 5.1 4.7 5.1 4.7-10.7 4.3-10.7 4.3-5.1-5z" fill="#c1ec26" stroke="#c1ec26"/>
<path d="M1154.1 426.2l10.8-4.5 10.7-4.4 5.2 4.4 5.2 4.5-10.8 4.7-10.8 4.8-5.2-4.8z" fill="#caed29" stroke="#caed29"/>
<path d="M1218.1 425.6l10.8-4.9 10.9-4.9 5.3 4.2 5.2 4.3-10.9 5.1-10.9 5.2-5.2-4.5z" fill="#d6f02d" stroke="#d6f02d"/>
<path d="M1250.3 424.3l10.9-5.2 11-5.1 5.3 4.1 5.2 4.2-11 5.4-10.9 5.3-5.3-4.4z" fill="#dcf12e" stroke="#dcf12e"/>
<path d="M1315.3 419.6l11.1-5.6 11-5.6 5.4 3.9 5.3 4-11.1 5.8-11.1 5.8-5.3-4.2z" fill="#eaf431" stroke="#eaf431"/>
<path d="M1381.1 412.2l11.2-6 11.1-6 5.5 3.6 5.4 3.7-11.3 6.3-11.2 6.2-5.3-3.9z" fill="#f6d82d" stroke="#f6d82d"/>
<path d="M1414.3 407.5l11.2-6.2 11.3-6.3 5.4 3.5 5.5 3.6-11.3 6.5-11.3 6.5-5.4-3.8z" fill="#f8bc26" stroke="#f8bc26"/>
<path d="M1481.3 396l11.4-6.7 11.4-6.6 5.5 3.2 5.5 3.4-11.4 6.9-11.4 6.9-5.5-3.6z" fill="#fa851d" stroke="#fa851d"/>
<path d="M1549.2 381.8l11.5-7.1 11.6-7.2 5.6 3.1 5.6 3-11.6 7.4-11.5 7.3-5.6-3.3z" fill="#fa4a19" stroke="#fa4a19"/>
<path d="M1583.5 373.6l11.7-7.3 11.6-7.4 5.7 2.9 5.6 3-11.7 7.5-11.6 7.6-5.6-3.1z" fill="#f83516" stroke="#f83516"/>
<path d="M944.4 418.5l10.6-3.1 10.5-3.2 5 5.3 5 5.4-10.6 3.4-10.5 3.4-5-5.6z" fill="#b7ea22" stroke="#b7ea22"/>
<path d="M608.8 327.8l10.3-0.8 10.3-0.7 4.7 6.4 4.8 6.5-10.3 0.9-10.3 1-4.8-6.7z" fill="#f2e42f" stroke="#f2e42f"/>
<path d="M488.4 276.2l10.3 0.1 10.3 0.1 4.7 6.8 4.8 6.8-10.3 0.1-10.3 0.1-4.7-7z" fill="#fa771c" stroke="#fa771c"/>
<path d="M548.5 303.2l10.3-0.3 10.3-0.3 4.8 6.6 4.7 6.6-10.3 0.5-10.3 0.6-4.7-6.9z" fill="#f8b123" stroke="#f8b123"/>
<path d="M578.6 315.8l10.3-0.5 10.3-0.6 4.8 6.5 4.8 6.6-10.4 0.7-10.3 0.8-4.7-6.8z" fill="#f6cf2b" stroke="#f6cf2b"/>
<path d="M638.9 339.2l10.4-1 10.3-1 4.8 6.4 4.8 6.3-10.4 1.2-10.3 1.2-4.8-6.6z" fill="#ecf532" stroke="#ecf532"/>
<path d="M669.2 349.9l10.3-1.1 10.3-1.2 4.8 6.2 4.9 6.3-10.4 1.4-10.3 1.4-4.8-6.5z" fill="#e4f330" stroke="#e4f330"/>
<path d="M699.5 360.1l10.3-1.4 10.3-1.4 4.9 6.1 4.8 6.2-10.4 1.6-10.3 1.6-4.8-6.4z" fill="#ddf12e" stroke="#ddf12e"/>
<path d="M729.8 369.6l10.4-1.6 10.3-1.6 4.9 6 4.8 6.1-10.4 1.8-10.3 1.9-4.9-6.3z" fill="#d6f02d" stroke="#d6f02d"/>
<path d="M790.7 386.8l10.4-2.1 10.4-2.1 4.9 5.9 4.9 5.9-10.4 2.3-10.5 2.2-4.8-6.1z" fill="#c8ed28" stroke="#c8ed28"/>
<path d="M821.3 394.4l10.4-2.3 10.4-2.3 4.9 5.8 4.9 5.8-10.4 2.5-10.5 2.5-4.8-6z" fill="#c3ec26" stroke="#c3ec26"/>
<path d="M851.9 401.4l10.5-2.5 10.4-2.5 4.9 5.6 5 5.7-10.5 2.8-10.5 2.7-4.9-5.9z" fill="#beeb25" stroke="#beeb25"/>
<path d="M882.7 407.7l10.4-2.7 10.5-2.7 5 5.6 4.9 5.6-10.5 2.9-10.5 2.9-4.9-5.8z" fill="#bbea24" stroke="#bbea24"/>
<path d="M913.5 413.5l10.5-3 10.5-2.9 5 5.4 4.9 5.5-10.5 3.2-10.5 3.1-5-5.7z" fill="#b8ea23" stroke="#b8ea23"/>
<path d="M1006.6 426.7l10.6-3.6 10.6-3.6 5.1 5.1 5 5.2-10.6 3.8-10.7 3.9-5-5.4z" fill="#b6e922" stroke="#b6e922"/>
<path d="M1069.3 432.3l10.7-4.1 10.7-4 5.1 4.9 5.1 5-10.8 4.2-10.7 4.3-5-5.2z" fill="#b9ea23" stroke="#b9ea23"/>
<path d="M1100.9 434.1l10.7-4.3 10.7-4.3 5.1 4.8 5.1 4.9-10.7 4.5-10.8 4.5-5.1-5.1z" fill="#bdeb24" stroke="#bdeb24"/>
<path d="M1132.5 435.2l10.8-4.5 10.8-4.5 5.1 4.7 5.2 4.8-10.9 4.7-10.8 4.7-5.1-5z" fill="#c1ec26" stroke="#c1ec26"/>
<path d="M1164.4 435.7l10.8-4.8 10.8-4.7 5.2 4.6 5.1 4.6-10.8 5-10.9 4.9-5.1-4.8z" fill="#c6ed27" stroke="#c6ed27"/>
<path d="M1196.3 435.4l10.9-4.9 10.9-4.9 5.2 4.5 5.2 4.5-10.9 5.1-10.9 5.2-5.2-4.8z" fill="#ccee29" stroke="#ccee29"/>
<path d="M1228.5 434.6l10.9-5.2 10.9-5.1 5.2 4.3 5.3 4.4-11 5.4-10.9 5.4-5.2-4.7z" fill="#d3ef2c" stroke="#d3ef2c"/>
<path d="M1260.8 433l10.9-5.3 11-5.4 5.3 4.2 5.3 4.3-11.1 5.6-11 5.6-5.2-4.5z" fill="#daf12e" stroke="#daf12e"/>
<path d="M1293.3 430.8l11-5.6 11-5.6 5.3 4.1 5.3 4.2-11.1 5.8-11 5.8-5.3-4.4z" fill="#e0f22f" stroke="#e0f22f"/>
<path d="M1325.9 427.9l11.1-5.8 11.1-5.8 5.3 4 5.4 4-11.2 6-11.1 6.1-5.3-4.3z" fill="#e8f431" stroke="#e8f431"/>
<path d="M1358.8 424.3l11.1-6 11.2-6.1 5.4 3.9 5.3 3.9-11.2 6.3-11.2 6.3-5.3-4.2z" fill="#efed31" stroke="#efed31"/>
<path d="M1391.8 420l11.2-6.2 11.3-6.3 5.4 3.8 5.4 3.8-11.3 6.5-11.2 6.4-5.4-4z" fill="#f5db2e" stroke="#f5db2e"/>
<path d="M1425.1 415.1l11.3-6.5 11.3-6.5 5.4 3.7 5.5 3.6-11.4 6.7-11.3 6.7-5.4-3.9z" fill="#f7bf27" stroke="#f7bf27"/>
<path d="M1458.6 409.4l11.3-6.7 11.4-6.7 5.5 3.5 5.5 3.6-11.4 6.9-11.4 7-5.5-3.8z" fill="#f9a421" stroke="#f9a421"/>
<path d="M1492.3 403.1l11.4-6.9 11.4-6.9 5.6 3.3 5.5 3.5-11.5 7.1-11.5 7.2-5.5-3.7z" fill="#fa861d" stroke="#fa861d"/>
<path d="M1526.2 396.1l11.5-7.2 11.5-7.1 5.6 3.2 5.6 3.3-11.6 7.4-11.6 7.4-5.5-3.5z" fill="#fa671b" stroke="#fa671b"/>
<path d="M1560.4 388.3l11.5-7.3 11.6-7.4 5.7 3.2 5.6 3.1-11.7 7.6-11.6 7.6-5.6-3.4z" fill="#fa4a19" stroke="#fa4a19"/>
<path d="M518.5 290l10.2-0.1 10.3-0.1 4.8 6.7 4.7 6.7-10.3 0.3-10.3 0.3-4.7-6.9z" fill="#fa971e" stroke="#fa971e"/>
<path d="M760.2 378.5l10.4-1.8 10.4-1.9 4.8 6 4.9 6-10.4 2-10.4 2.1-4.8-6.2z" fill="#cfee2a" stroke="#cfee2a"/>
<path d="M975.5 422.9l10.5-3.3 10.6-3.4 5 5.2 5 5.3-10.6 3.6-10.6 3.6-4.9-5.5z" fill="#b6e922" stroke="#b6e922"/>
<path d="M1037.9 429.8l10.7-3.8 10.6-3.8 5.1 5 5 5.1-10.7 4-10.6 4.1-5.1-5.3z" fill="#b7ea22" stroke="#b7ea22"/>
<path d="M923.4 424.8l10.5-3.1 10.5-3.2 5 5.6 5 5.6-10.6 3.4-10.6 3.3-4.9-5.8z" fill="#b2e921" stroke="#b2e921"/>
<path d="M1079.4 442.6l10.7-4.3 10.8-4.2 5 5 5.1 5.1-10.7 4.4-10.8 4.5-5-5.3z" fill="#b4e921" stroke="#b4e921"/>
<path d="M1142.7 445.1l10.8-4.7 10.9-4.7 5.1 4.8 5.1 4.8-10.8 4.9-10.9 5-5.1-5.1z" fill="#bceb24" stroke="#bceb24"/>
<path d="M1206.7 444.9l10.9-5.2 10.9-5.1 5.2 4.5 5.2 4.7-11 5.3-10.9 5.4-5.2-4.8z" fill="#c8ed28" stroke="#c8ed28"/>
<path d="M1238.9 443.8l10.9-5.4 11-5.4 5.2 4.5 5.2 4.5-11 5.6-11 5.6-5.2-4.8z" fill="#cfee2a" stroke="#cfee2a"/>
<path d="M1303.8 439.5l11-5.8 11.1-5.8 5.3 4.2 5.3 4.3-11.1 6-11.1 6.1-5.3-4.5z" fill="#def22f" stroke="#def22f"/>
<path d="M1369.4 432.6l11.2-6.3 11.2-6.3 5.4 4 5.4 4-11.3 6.5-11.2 6.5-5.3-4.2z" fill="#eef031" stroke="#eef031"/>
<path d="M1402.6 428l11.2-6.4 11.3-6.5 5.4 3.8 5.4 3.9-11.3 6.8-11.3 6.7-5.4-4.2z" fill="#f4de2e" stroke="#f4de2e"/>
<path d="M1469.5 417l11.4-7 11.4-6.9 5.4 3.6 5.5 3.7-11.4 7.1-11.5 7.2-5.4-3.9z" fill="#f9a621" stroke="#f9a621"/>
<path d="M1537.2 403.1l11.6-7.4 11.6-7.4 5.5 3.4 5.6 3.4-11.6 7.6-11.6 7.6-5.5-3.6z" fill="#fa681c" stroke="#fa681c"/>
<path d="M588.1 329.3l10.3-0.8 10.4-0.7 4.7 6.6 4.8 6.7-10.3 1-10.4 0.9-4.7-6.9z" fill="#f3e12f" stroke="#f3e12f"/>
<path d="M678.8 362.9l10.3-1.4 10.4-1.4 4.8 6.3 4.8 6.4-10.4 1.7-10.3 1.6-4.8-6.7z" fill="#ddf12e" stroke="#ddf12e"/>
<path d="M831 406.4l10.5-2.5 10.4-2.5 4.9 5.9 4.9 5.9-10.4 2.7-10.5 2.7-4.9-6.1z" fill="#bbea24" stroke="#bbea24"/>
<path d="M985.4 433.9l10.6-3.6 10.6-3.6 5 5.4 5 5.4-10.6 3.8-10.6 3.8-5-5.6z" fill="#b0e820" stroke="#b0e820"/>
<path d="M527.9 303.8l10.3-0.3 10.3-0.3 4.8 6.8 4.7 6.9-10.3 0.5-10.3 0.5-4.7-7.1z" fill="#f9ab22" stroke="#f9ab22"/>
<path d="M497.9 290.2l10.3-0.1 10.3-0.1 4.7 6.9 4.7 6.9-10.3 0.3-10.3 0.3-4.7-7.1z" fill="#fa8e1e" stroke="#fa8e1e"/>
<path d="M558 316.9l10.3-0.6 10.3-0.5 4.8 6.7 4.7 6.8-10.3 0.7-10.3 0.8-4.7-7z" fill="#f7c829" stroke="#f7c829"/>
<path d="M618.3 341.1l10.3-1 10.3-0.9 4.8 6.5 4.8 6.6-10.3 1.2-10.4 1.1-4.7-6.8z" fill="#edf332" stroke="#edf332"/>
<path d="M648.5 352.3l10.3-1.2 10.4-1.2 4.8 6.5 4.8 6.5-10.4 1.4-10.3 1.4-4.8-6.7z" fill="#e5f330" stroke="#e5f330"/>
<path d="M709.1 372.8l10.3-1.6 10.4-1.6 4.8 6.3 4.9 6.3-10.4 1.8-10.4 1.8-4.8-6.5z" fill="#d6f02d" stroke="#d6f02d"/>
<path d="M739.5 382.2l10.3-1.9 10.4-1.8 4.9 6.2 4.8 6.2-10.4 2-10.4 2.1-4.8-6.5z" fill="#ceee2a" stroke="#ceee2a"/>
<path d="M769.9 390.9l10.4-2.1 10.4-2 4.9 6 4.8 6.1-10.4 2.3-10.4 2.3-4.8-6.3z" fill="#c7ed28" stroke="#c7ed28"/>
<path d="M800.4 398.9l10.5-2.2 10.4-2.3 4.9 6 4.8 6-10.4 2.5-10.4 2.5-4.9-6.3z" fill="#c1ec26" stroke="#c1ec26"/>
<path d="M861.7 413.2l10.5-2.7 10.5-2.8 4.9 5.8 4.9 5.8-10.5 3-10.5 2.9-4.9-6z" fill="#b7ea22" stroke="#b7ea22"/>
<path d="M892.5 419.3l10.5-2.9 10.5-2.9 4.9 5.6 5 5.7-10.5 3.2-10.6 3.1-4.9-5.9z" fill="#b4e921" stroke="#b4e921"/>
<path d="M1048 440.4l10.6-4.1 10.7-4 5.1 5.1 5 5.2-10.7 4.3-10.7 4.2-5-5.4z" fill="#b2e921" stroke="#b2e921"/>
<path d="M954.4 429.7l10.5-3.4 10.6-3.4 5 5.5 4.9 5.5-10.6 3.6-10.5 3.6-5-5.7z" fill="#b0e820" stroke="#b0e820"/>
<path d="M1016.6 437.5l10.7-3.9 10.6-3.8 5 5.3 5.1 5.3-10.7 4-10.7 4-5-5.5z" fill="#b0e820" stroke="#b0e820"/>
<path d="M1111 444.2l10.8-4.5 10.7-4.5 5.1 4.9 5.1 5-10.8 4.7-10.7 4.7-5.1-5.2z" fill="#b8ea23" stroke="#b8ea23"/>
<path d="M1174.6 445.3l10.9-4.9 10.8-5 5.2 4.7 5.2 4.8-10.9 5.1-10.9 5.2-5.1-5z" fill="#c2ec26" stroke="#c2ec26"/>
<path d="M1271.2 442l11-5.6 11.1-5.6 5.2 4.3 5.3 4.4-11.1 5.8-11 5.9-5.3-4.7z" fill="#d7f02d" stroke="#d7f02d"/>
<path d="M1336.5 436.4l11.1-6.1 11.2-6 5.3 4.1 5.3 4.2-11.1 6.2-11.2 6.3-5.3-4.4z" fill="#e6f431" stroke="#e6f431"/>
<path d="M1435.9 422.8l11.3-6.7 11.4-6.7 5.4 3.8 5.5 3.8-11.4 6.9-11.4 6.9-5.4-4z" fill="#f7c328" stroke="#f7c328"/>
<path d="M1503.2 410.4l11.5-7.2 11.5-7.1 5.5 3.5 5.5 3.5-11.5 7.4-11.5 7.4-5.5-3.8z" fill="#fa891d" stroke="#fa891d"/>
<path d="M1217 454.5l10.9-5.4 11-5.3 5.1 4.6 5.2 4.8-10.9 5.6-11 5.6-5.2-5z" fill="#c4ec27" stroke="#c4ec27"/>
<path d="M1380.1 441l11.2-6.5 11.3-6.5 5.3 4.1 5.4 4.2-11.3 6.7-11.3 6.7-5.3-4.4z" fill="#ecf432" stroke="#ecf432"/>
<path d="M902.3 431.1l10.6-3.1 10.5-3.2 4.9 5.8 4.9 5.8-10.5 3.4-10.5 3.4-5-6.1z" fill="#ade81f" stroke="#ade81f"/>
<path d="M1058 451.1l10.7-4.2 10.7-4.3 5.1 5.2 5 5.3-10.7 4.5-10.7 4.5-5.1-5.5z" fill="#ace71f" stroke="#ace71f"/>
<path d="M507.3 304.4l10.3-0.3 10.3-0.3 4.8 7 4.7 7.1-10.3 0.5-10.3 0.5-4.7-7.3z" fill="#f9a421" stroke="#f9a421"/>
<path d="M567.5 330.8l10.3-0.8 10.3-0.7 4.8 6.8 4.7 6.9-10.3 1-10.3 0.9-4.7-7.1z" fill="#f4de2e" stroke="#f4de2e"/>
<path d="M597.6 343l10.4-0.9 10.3-1 4.8 6.7 4.7 6.8-10.3 1.2-10.3 1.2-4.8-7z" fill="#edf131" stroke="#edf131"/>
<path d="M658.1 365.7l10.3-1.4 10.4-1.4 4.8 6.5 4.8 6.7-10.4 1.6-10.4 1.6-4.7-6.9z" fill="#ddf12e" stroke="#ddf12e"/>
<path d="M688.4 376.1l10.3-1.6 10.4-1.7 4.8 6.5 4.8 6.5-10.4 1.9-10.4 1.8-4.7-6.8z" fill="#d6f02d" stroke="#d6f02d"/>
<path d="M749.1 395l10.4-2.1 10.4-2 4.9 6.3 4.8 6.3-10.4 2.3-10.4 2.2-4.9-6.5z" fill="#c5ec27" stroke="#c5ec27"/>
<path d="M810.2 411.4l10.4-2.5 10.4-2.5 4.9 6.1 4.9 6.1-10.5 2.7-10.4 2.7-4.9-6.3z" fill="#b8ea23" stroke="#b8ea23"/>
<path d="M840.8 418.6l10.5-2.7 10.4-2.7 4.9 6 4.9 6-10.5 2.9-10.5 3-4.8-6.3z" fill="#b4e921" stroke="#b4e921"/>
<path d="M964.3 441.1l10.5-3.6 10.6-3.6 5 5.6 5 5.6-10.6 3.8-10.6 3.8-5-5.8z" fill="#aae71e" stroke="#aae71e"/>
<path d="M537.4 317.9l10.3-0.5 10.3-0.5 4.8 6.9 4.7 7-10.3 0.7-10.3 0.7-4.8-7.2z" fill="#f7c228" stroke="#f7c228"/>
<path d="M627.8 354.6l10.4-1.1 10.3-1.2 4.8 6.7 4.8 6.7-10.4 1.4-10.3 1.3-4.8-6.9z" fill="#e5f330" stroke="#e5f330"/>
<path d="M718.7 385.8l10.4-1.8 10.4-1.8 4.8 6.3 4.8 6.5-10.4 2-10.4 2.1-4.8-6.7z" fill="#cdee2a" stroke="#cdee2a"/>
<path d="M779.6 403.5l10.4-2.3 10.4-2.3 4.9 6.2 4.9 6.3-10.5 2.5-10.4 2.4-4.9-6.4z" fill="#beeb25" stroke="#beeb25"/>
<path d="M871.5 425.2l10.5-2.9 10.5-3 4.9 5.9 4.9 5.9-10.5 3.2-10.5 3.2-4.9-6.2z" fill="#b0e820" stroke="#b0e820"/>
<path d="M933.2 436.4l10.6-3.3 10.6-3.4 4.9 5.7 5 5.7-10.6 3.6-10.6 3.6-4.9-6z" fill="#abe71e" stroke="#abe71e"/>
<path d="M1026.6 448.4l10.7-4 10.7-4 5 5.3 5 5.4-10.7 4.3-10.7 4.2-5-5.6z" fill="#aae71e" stroke="#aae71e"/>
<path d="M1089.5 453.1l10.8-4.5 10.7-4.4 5.1 5.1 5.1 5.2-10.8 4.7-10.8 4.7-5-5.4z" fill="#afe820" stroke="#afe820"/>
<path d="M1121.2 454.5l10.7-4.7 10.8-4.7 5.1 5 5.1 5.1-10.8 4.9-10.8 4.9-5.1-5.3z" fill="#b3e921" stroke="#b3e921"/>
<path d="M1152.9 455.2l10.9-5 10.8-4.9 5.2 4.9 5.1 5-10.9 5.1-10.9 5.2-5.1-5.2z" fill="#b7ea22" stroke="#b7ea22"/>
<path d="M1184.9 455.2l10.9-5.2 10.9-5.1 5.1 4.8 5.2 4.8-11 5.4-10.9 5.4-5.1-5.1z" fill="#bdeb24" stroke="#bdeb24"/>
<path d="M1249.2 453.2l11-5.6 11-5.6 5.2 4.5 5.3 4.7-11.1 5.8-11 5.8-5.2-4.8z" fill="#cbee29" stroke="#cbee29"/>
<path d="M1281.7 451.2l11-5.9 11.1-5.8 5.2 4.5 5.3 4.5-11.1 6-11.1 6.1-5.2-4.8z" fill="#d4ef2c" stroke="#d4ef2c"/>
<path d="M1314.3 448.5l11.1-6.1 11.1-6 5.3 4.3 5.3 4.4-11.2 6.3-11.1 6.2-5.3-4.6z" fill="#dcf12e" stroke="#dcf12e"/>
<path d="M1347.1 445.1l11.2-6.3 11.1-6.2 5.4 4.2 5.3 4.2-11.2 6.5-11.3 6.5-5.2-4.5z" fill="#e4f330" stroke="#e4f330"/>
<path d="M1413.3 436.3l11.3-6.7 11.3-6.8 5.4 4 5.4 4-11.4 7-11.3 6.9-5.4-4.2z" fill="#f3e12f" stroke="#f3e12f"/>
<path d="M1446.7 430.8l11.4-6.9 11.4-6.9 5.4 3.8 5.4 3.9-11.4 7.2-11.4 7.1-5.4-4.1z" fill="#f7c829" stroke="#f7c829"/>
<path d="M1480.3 424.7l11.5-7.2 11.4-7.1 5.5 3.7 5.5 3.8-11.5 7.4-11.5 7.3-5.4-4z" fill="#f9a922" stroke="#f9a922"/>
<path d="M1514.2 417.9l11.5-7.4 11.5-7.4 5.6 3.6 5.5 3.6-11.6 7.6-11.6 7.7-5.4-3.9z" fill="#fa8c1d" stroke="#fa8c1d"/>
<path d="M995.4 445.1l10.6-3.8 10.6-3.8 5 5.4 5 5.5-10.6 4.1-10.7 4-4.9-5.7z" fill="#aae71e" stroke="#aae71e"/>
<path d="M881.3 437.5l10.5-3.2 10.5-3.2 4.9 6 5 6.1-10.6 3.4-10.5 3.3-4.9-6.2z" fill="#a8e71e" stroke="#a8e71e"/>
<path d="M943.1 448.3l10.6-3.6 10.6-3.6 4.9 5.8 5 5.8-10.6 3.9-10.6 3.8-5-6.1z" fill="#a4e61d" stroke="#a4e61d"/>
<path d="M1036.6 459.6l10.7-4.2 10.7-4.3 5 5.5 5.1 5.5-10.8 4.5-10.7 4.5-5-5.8z" fill="#a5e61d" stroke="#a5e61d"/>
<path d="M1099.6 463.9l10.8-4.7 10.8-4.7 5 5.2 5.1 5.3-10.8 5-10.8 4.9-5.1-5.5z" fill="#a9e71e" stroke="#a9e71e"/>
<path d="M1163.1 465.5l10.9-5.2 10.9-5.1 5.1 5 5.1 5.1-10.9 5.4-10.9 5.4-5.1-5.4z" fill="#b2e921" stroke="#b2e921"/>
<path d="M1195.1 465.3l10.9-5.4 11-5.4 5.1 4.9 5.2 5-11 5.6-10.9 5.6-5.2-5.2z" fill="#b8ea23" stroke="#b8ea23"/>
<path d="M1227.3 464.4l11-5.6 10.9-5.6 5.2 4.8 5.2 4.8-11 5.9-11 5.8-5.2-5.1z" fill="#bfeb25" stroke="#bfeb25"/>
<path d="M1259.6 462.8l11-5.8 11.1-5.8 5.2 4.6 5.2 4.8-11.1 6-11 6.1-5.2-5z" fill="#c7ed28" stroke="#c7ed28"/>
<path d="M1324.8 457.6l11.1-6.2 11.2-6.3 5.3 4.4 5.2 4.5-11.2 6.5-11.1 6.5-5.3-4.7z" fill="#d9f02d" stroke="#d9f02d"/>
<path d="M1357.6 454l11.3-6.5 11.2-6.5 5.3 4.3 5.3 4.4-11.3 6.8-11.2 6.7-5.3-4.6z" fill="#e1f22f" stroke="#e1f22f"/>
<path d="M1390.7 449.7l11.3-6.7 11.3-6.7 5.3 4.2 5.4 4.2-11.4 7-11.3 6.9-5.3-4.4z" fill="#eaf532" stroke="#eaf532"/>
<path d="M1424 444.7l11.3-6.9 11.4-7 5.4 4.1 5.4 4.1-11.4 7.2-11.4 7.2-5.4-4.4z" fill="#f1e52f" stroke="#f1e52f"/>
<path d="M1491.2 432.6l11.5-7.3 11.5-7.4 5.5 3.8 5.4 3.9-11.5 7.6-11.6 7.6-5.4-4.1z" fill="#f8ad23" stroke="#f8ad23"/>
<path d="M546.9 332.2l10.3-0.7 10.3-0.7 4.8 7 4.7 7.1-10.3 0.9-10.4 1-4.7-7.3z" fill="#f5da2e" stroke="#f5da2e"/>
<path d="M516.8 318.9l10.3-0.5 10.3-0.5 4.7 7.1 4.8 7.2-10.4 0.7-10.3 0.8-4.7-7.4z" fill="#f8bb26" stroke="#f8bb26"/>
<path d="M577 344.9l10.3-0.9 10.3-1 4.8 7 4.8 7-10.4 1.1-10.3 1.2-4.8-7.2z" fill="#eeee31" stroke="#eeee31"/>
<path d="M607.2 357l10.3-1.2 10.3-1.2 4.8 6.9 4.8 6.9-10.4 1.4-10.3 1.4-4.8-7.1z" fill="#e6f431" stroke="#e6f431"/>
<path d="M637.4 368.4l10.3-1.3 10.4-1.4 4.8 6.7 4.7 6.9-10.3 1.6-10.4 1.6-4.8-7.1z" fill="#ddf22f" stroke="#ddf22f"/>
<path d="M667.6 379.3l10.4-1.6 10.4-1.6 4.8 6.6 4.7 6.8-10.3 1.8-10.4 1.8-4.8-6.9z" fill="#d5f02c" stroke="#d5f02c"/>
<path d="M697.9 389.5l10.4-1.8 10.4-1.9 4.8 6.6 4.8 6.7-10.4 2-10.4 2.1-4.8-6.9z" fill="#ccee29" stroke="#ccee29"/>
<path d="M728.3 399.1l10.4-2.1 10.4-2 4.8 6.5 4.9 6.5-10.5 2.3-10.4 2.2-4.8-6.7z" fill="#c3ec26" stroke="#c3ec26"/>
<path d="M758.8 408l10.4-2.2 10.4-2.3 4.8 6.4 4.9 6.4-10.5 2.5-10.4 2.5-4.8-6.7z" fill="#bceb24" stroke="#bceb24"/>
<path d="M789.3 416.3l10.4-2.4 10.5-2.5 4.8 6.3 4.9 6.3-10.5 2.7-10.5 2.7-4.8-6.5z" fill="#b6e922" stroke="#b6e922"/>
<path d="M819.9 424l10.4-2.7 10.5-2.7 4.9 6.2 4.8 6.3-10.4 2.9-10.5 2.9-4.9-6.5z" fill="#b0e820" stroke="#b0e820"/>
<path d="M850.5 431.1l10.5-3 10.5-2.9 4.9 6.1 4.9 6.2-10.5 3.1-10.5 3.2-4.9-6.4z" fill="#abe71e" stroke="#abe71e"/>
<path d="M1005.3 456.5l10.7-4 10.6-4.1 5 5.6 5 5.6-10.6 4.3-10.7 4.3-5-5.9z" fill="#a4e61d" stroke="#a4e61d"/>
<path d="M912.2 443.2l10.5-3.4 10.5-3.4 5 5.9 4.9 6-10.6 3.6-10.5 3.6-4.9-6.2z" fill="#a6e61d" stroke="#a6e61d"/>
<path d="M1068.1 462.1l10.7-4.5 10.7-4.5 5.1 5.4 5 5.4-10.8 4.7-10.7 4.7-5-5.6z" fill="#a7e61d" stroke="#a7e61d"/>
<path d="M974.2 452.7l10.6-3.8 10.6-3.8 5 5.7 4.9 5.7-10.6 4.1-10.6 4-5-6z" fill="#a3e61d" stroke="#a3e61d"/>
<path d="M1131.3 465l10.8-4.9 10.8-4.9 5.1 5.1 5.1 5.2-10.8 5.2-10.9 5.1-5-5.4z" fill="#ade81f" stroke="#ade81f"/>
<path d="M1292.1 460.6l11.1-6.1 11.1-6 5.2 4.5 5.3 4.6-11.2 6.3-11.1 6.3-5.2-4.8z" fill="#d0ef2b" stroke="#d0ef2b"/>
<path d="M1457.5 439l11.4-7.1 11.4-7.2 5.5 3.9 5.4 4-11.5 7.5-11.5 7.4-5.3-4.3z" fill="#f7cd2a" stroke="#f7cd2a"/>
<path d="M1173.3 476.1l10.9-5.4 10.9-5.4 5.1 5.1 5.2 5.2-11 5.6-10.9 5.6-5.1-5.4z" fill="#ade81f" stroke="#ade81f"/>
<path d="M1237.6 474.5l11-5.8 11-5.9 5.2 4.9 5.2 5-11.1 6.1-11 6-5.2-5.2z" fill="#baea23" stroke="#baea23"/>
<path d="M1335.3 467l11.1-6.5 11.2-6.5 5.3 4.6 5.3 4.6-11.2 6.7-11.3 6.8-5.2-4.9z" fill="#d6f02d" stroke="#d6f02d"/>
<path d="M1401.3 458.6l11.3-6.9 11.4-7 5.3 4.3 5.4 4.4-11.4 7.2-11.4 7.2-5.3-4.6z" fill="#e8f431" stroke="#e8f431"/>
<path d="M860.3 443.8l10.5-3.2 10.5-3.1 4.9 6.2 4.9 6.2-10.6 3.4-10.5 3.4-4.9-6.5z" fill="#a4e61d" stroke="#a4e61d"/>
<path d="M1015.3 468.2l10.7-4.3 10.6-4.3 5 5.7 5 5.8-10.7 4.5-10.7 4.5-5-6z" fill="#9de51b" stroke="#9de51b"/>
<path d="M526.2 333.7l10.3-0.8 10.4-0.7 4.7 7.3 4.7 7.3-10.3 0.9-10.3 0.9-4.7-7.5z" fill="#f6d62d" stroke="#f6d62d"/>
<path d="M616.7 371.2l10.3-1.4 10.4-1.4 4.7 7 4.8 7.1-10.4 1.6-10.3 1.6-4.8-7.3z" fill="#def22f" stroke="#def22f"/>
<path d="M707.5 403.2l10.4-2.1 10.4-2 4.8 6.7 4.8 6.7-10.4 2.3-10.4 2.3-4.8-7z" fill="#c2ec26" stroke="#c2ec26"/>
<path d="M768.4 421.3l10.4-2.5 10.5-2.5 4.8 6.6 4.8 6.5-10.4 2.7-10.5 2.7-4.8-6.8z" fill="#b3e921" stroke="#b3e921"/>
<path d="M922 455.5l10.5-3.6 10.6-3.6 4.9 6 5 6.1-10.6 3.8-10.6 3.8-4.9-6.3z" fill="#9ee51b" stroke="#9ee51b"/>
<path d="M1078.1 473.3l10.7-4.7 10.8-4.7 5 5.5 5.1 5.5-10.8 5-10.8 4.9-5-5.8z" fill="#a1e61c" stroke="#a1e61c"/>
<path d="M556.3 346.8l10.4-1 10.3-0.9 4.7 7.2 4.8 7.2-10.4 1.1-10.3 1.2-4.7-7.4z" fill="#efec30" stroke="#efec30"/>
<path d="M586.5 359.3l10.3-1.2 10.4-1.1 4.7 7.1 4.8 7.1-10.4 1.4-10.3 1.3-4.8-7.3z" fill="#e7f431" stroke="#e7f431"/>
<path d="M646.9 382.5l10.4-1.6 10.3-1.6 4.8 6.9 4.8 6.9-10.4 1.8-10.4 1.9-4.7-7.2z" fill="#d5f02c" stroke="#d5f02c"/>
<path d="M677.2 393.1l10.4-1.8 10.3-1.8 4.8 6.8 4.8 6.9-10.4 2-10.4 2-4.7-7.1z" fill="#cbee29" stroke="#cbee29"/>
<path d="M737.9 412.5l10.4-2.2 10.5-2.3 4.8 6.6 4.8 6.7-10.4 2.5-10.5 2.5-4.8-6.9z" fill="#baea23" stroke="#baea23"/>
<path d="M798.9 429.4l10.5-2.7 10.5-2.7 4.8 6.4 4.9 6.5-10.5 2.9-10.5 3-4.8-6.7z" fill="#ace71f" stroke="#ace71f"/>
<path d="M829.6 436.9l10.5-2.9 10.4-2.9 4.9 6.3 4.9 6.4-10.5 3.1-10.5 3.2-4.9-6.6z" fill="#a7e71d" stroke="#a7e71d"/>
<path d="M984.1 464.6l10.6-4 10.6-4.1 5 5.8 5 5.9-10.7 4.2-10.7 4.3-4.9-6.1z" fill="#9de51b" stroke="#9de51b"/>
<path d="M891.1 449.9l10.5-3.3 10.6-3.4 4.9 6.1 4.9 6.2-10.6 3.6-10.6 3.6-4.8-6.4z" fill="#a1e61c" stroke="#a1e61c"/>
<path d="M953 460.4l10.6-3.8 10.6-3.9 4.9 5.9 5 6-10.7 4.1-10.6 4-4.9-6.2z" fill="#9de51b" stroke="#9de51b"/>
<path d="M1046.6 471.1l10.7-4.5 10.8-4.5 5 5.6 5 5.6-10.8 4.8-10.7 4.7-5-5.9z" fill="#9fe51b" stroke="#9fe51b"/>
<path d="M1109.7 474.9l10.8-4.9 10.8-5 5.1 5.4 5 5.4-10.8 5.2-10.8 5.2-5.1-5.7z" fill="#a4e61d" stroke="#a4e61d"/>
<path d="M1141.4 475.8l10.9-5.1 10.8-5.2 5.1 5.2 5.1 5.4-10.9 5.3-10.9 5.4-5-5.5z" fill="#a8e71e" stroke="#a8e71e"/>
<path d="M1205.4 475.6l10.9-5.6 11-5.6 5.1 5 5.2 5.1-11 5.8-11 5.9-5.1-5.3z" fill="#b3e921" stroke="#b3e921"/>
<path d="M1270 472.7l11-6.1 11.1-6 5.2 4.8 5.2 4.8-11.1 6.3-11.1 6.3-5.2-5.1z" fill="#c3ec26" stroke="#c3ec26"/>
<path d="M1302.5 470.2l11.1-6.3 11.2-6.3 5.2 4.7 5.3 4.7-11.2 6.6-11.2 6.5-5.2-5z" fill="#ccee29" stroke="#ccee29"/>
<path d="M1368.2 463.2l11.2-6.7 11.3-6.8 5.3 4.5 5.3 4.4-11.3 7-11.3 7-5.2-4.8z" fill="#def22f" stroke="#def22f"/>
<path d="M1434.7 453.4l11.4-7.2 11.4-7.2 5.4 4.2 5.3 4.3-11.4 7.4-11.5 7.4-5.3-4.5z" fill="#f0ea30" stroke="#f0ea30"/>
<path d="M1468.2 447.5l11.5-7.4 11.5-7.5 5.4 4.1 5.4 4.1-11.5 7.7-11.5 7.6-5.4-4.3z" fill="#f6d32c" stroke="#f6d32c"/>
<path d="M839.3 450.1l10.5-3.2 10.5-3.1 4.8 6.4 4.9 6.5-10.5 3.4-10.5 3.3-4.9-6.7z" fill="#9fe51c" stroke="#9fe51c"/>
<path d="M993.9 476.7l10.7-4.3 10.7-4.2 4.9 5.9 5 6-10.7 4.5-10.7 4.5-4.9-6.2z" fill="#96e419" stroke="#96e419"/>
<path d="M535.7 348.6l10.3-0.9 10.3-0.9 4.8 7.4 4.7 7.4-10.3 1.1-10.4 1.2-4.7-7.7z" fill="#f0e930" stroke="#f0e930"/>
<path d="M565.8 361.6l10.3-1.2 10.4-1.1 4.7 7.3 4.8 7.3-10.4 1.4-10.3 1.4-4.8-7.6z" fill="#e7f431" stroke="#e7f431"/>
<path d="M596 373.9l10.3-1.3 10.4-1.4 4.7 7.2 4.8 7.3-10.4 1.5-10.3 1.6-4.8-7.4z" fill="#def22f" stroke="#def22f"/>
<path d="M626.2 385.7l10.3-1.6 10.4-1.6 4.8 7.1 4.7 7.2-10.3 1.8-10.4 1.8-4.8-7.4z" fill="#d5f02c" stroke="#d5f02c"/>
<path d="M686.7 407.2l10.4-2 10.4-2 4.8 6.9 4.8 7-10.4 2.2-10.4 2.3-4.8-7.2z" fill="#c0eb25" stroke="#c0eb25"/>
<path d="M717.1 417.1l10.4-2.3 10.4-2.3 4.8 6.9 4.8 6.9-10.4 2.4-10.4 2.5-4.8-7.1z" fill="#b8ea23" stroke="#b8ea23"/>
<path d="M747.5 426.3l10.5-2.5 10.4-2.5 4.8 6.7 4.8 6.8-10.4 2.7-10.5 2.7-4.8-7z" fill="#b0e820" stroke="#b0e820"/>
<path d="M778 434.8l10.5-2.7 10.4-2.7 4.9 6.7 4.8 6.7-10.5 2.9-10.4 2.9-4.8-6.9z" fill="#a9e71e" stroke="#a9e71e"/>
<path d="M900.8 462.7l10.6-3.6 10.6-3.6 4.9 6.2 4.9 6.3-10.6 3.8-10.6 3.9-4.9-6.6z" fill="#99e41a" stroke="#99e41a"/>
<path d="M962.8 472.7l10.6-4 10.7-4.1 4.9 6 4.9 6.1-10.6 4.3-10.7 4.3-4.9-6.4z" fill="#96e41a" stroke="#96e41a"/>
<path d="M1056.6 482.8l10.7-4.7 10.8-4.8 5 5.7 5 5.8-10.8 4.9-10.7 5-5-6z" fill="#98e41a" stroke="#98e41a"/>
<path d="M1119.8 486.2l10.8-5.2 10.8-5.2 5.1 5.5 5 5.5-10.8 5.4-10.9 5.4-5-5.7z" fill="#9ee51b" stroke="#9ee51b"/>
<path d="M1151.5 486.8l10.9-5.4 10.9-5.3 5.1 5.3 5.1 5.4-10.9 5.7-10.9 5.6-5.1-5.7z" fill="#a2e61c" stroke="#a2e61c"/>
<path d="M1183.5 486.8l10.9-5.6 11-5.6 5.1 5.3 5.1 5.3-11 5.8-11 5.9-5-5.6z" fill="#a7e71d" stroke="#a7e71d"/>
<path d="M1215.6 486.2l11-5.9 11-5.8 5.1 5.1 5.2 5.2-11.1 6.1-11 6.1-5.1-5.5z" fill="#aee81f" stroke="#aee81f"/>
<path d="M1247.9 484.8l11-6 11.1-6.1 5.1 5 5.2 5.1-11.1 6.3-11.1 6.3-5.1-5.3z" fill="#b5e922" stroke="#b5e922"/>
<path d="M1280.3 482.8l11.1-6.3 11.1-6.3 5.2 4.9 5.2 5-11.1 6.5-11.2 6.5-5.1-5.2z" fill="#beeb25" stroke="#beeb25"/>
<path d="M1312.9 480.1l11.2-6.5 11.2-6.6 5.2 4.8 5.2 4.9-11.2 6.7-11.2 6.8-5.2-5.1z" fill="#c7ed28" stroke="#c7ed28"/>
<path d="M1345.7 476.7l11.3-6.8 11.2-6.7 5.3 4.6 5.2 4.8-11.3 6.9-11.2 7-5.2-4.9z" fill="#d2ef2b" stroke="#d2ef2b"/>
<path d="M1378.7 472.6l11.3-7 11.3-7 5.3 4.6 5.3 4.6-11.3 7.2-11.4 7.2-5.2-4.9z" fill="#dbf12e" stroke="#dbf12e"/>
<path d="M1411.9 467.8l11.4-7.2 11.4-7.2 5.3 4.4 5.3 4.5-11.4 7.4-11.4 7.4-5.3-4.7z" fill="#e5f330" stroke="#e5f330"/>
<path d="M1445.3 462.3l11.5-7.4 11.4-7.4 5.4 4.3 5.4 4.3-11.5 7.7-11.5 7.6-5.3-4.6z" fill="#eeef31" stroke="#eeef31"/>
<path d="M656.4 396.8l10.4-1.9 10.4-1.8 4.8 7 4.7 7.1-10.3 2.1-10.4 2-4.8-7.3z" fill="#caed29" stroke="#caed29"/>
<path d="M808.6 442.8l10.5-3 10.5-2.9 4.8 6.6 4.9 6.6-10.5 3.1-10.5 3.1-4.9-6.8z" fill="#a4e61d" stroke="#a4e61d"/>
<path d="M870 456.7l10.5-3.4 10.6-3.4 4.9 6.4 4.8 6.4-10.5 3.6-10.6 3.6-4.8-6.7z" fill="#9be51b" stroke="#9be51b"/>
<path d="M1025.2 480.1l10.7-4.5 10.7-4.5 5 5.8 5 5.9-10.7 4.7-10.8 4.7-4.9-6.1z" fill="#97e41a" stroke="#97e41a"/>
<path d="M931.8 468l10.6-3.8 10.6-3.8 4.9 6.1 4.9 6.2-10.6 4-10.6 4.1-4.9-6.4z" fill="#97e41a" stroke="#97e41a"/>
<path d="M1088.1 484.8l10.8-4.9 10.8-5 5 5.6 5.1 5.7-10.9 5.1-10.8 5.2-5-5.9z" fill="#9be51b" stroke="#9be51b"/>
<path d="M972.6 485.3l10.7-4.3 10.6-4.3 5 6.2 4.9 6.2-10.7 4.5-10.6 4.5-4.9-6.5z" fill="#8ee318" stroke="#8ee318"/>
<path d="M1129.8 497.6l10.9-5.4 10.8-5.4 5.1 5.6 5.1 5.7-11 5.6-10.8 5.6-5.1-5.8z" fill="#98e41a" stroke="#98e41a"/>
<path d="M1193.6 497.9l11-5.9 11-5.8 5.1 5.3 5.1 5.5-11 6-11 6.1-5.1-5.6z" fill="#a2e61c" stroke="#a2e61c"/>
<path d="M1258.1 495.4l11.1-6.3 11.1-6.3 5.2 5.1 5.1 5.2-11.1 6.5-11.1 6.6-5.1-5.4z" fill="#b0e820" stroke="#b0e820"/>
<path d="M1290.6 493.1l11.2-6.5 11.1-6.5 5.2 5 5.2 5.1-11.2 6.7-11.2 6.8-5.1-5.3z" fill="#b9ea23" stroke="#b9ea23"/>
<path d="M1356.2 486.5l11.2-7 11.3-6.9 5.3 4.7 5.2 4.9-11.3 7.2-11.3 7.2-5.2-5.1z" fill="#cdee2a" stroke="#cdee2a"/>
<path d="M1422.5 477.1l11.4-7.4 11.4-7.4 5.4 4.5 5.3 4.6-11.5 7.7-11.4 7.6-5.3-4.8z" fill="#e2f330" stroke="#e2f330"/>
<path d="M726.7 431.2l10.4-2.5 10.4-2.4 4.8 6.9 4.8 7-10.4 2.7-10.4 2.7-4.8-7.2z" fill="#ade81f" stroke="#ade81f"/>
<path d="M818.3 456.3l10.5-3.1 10.5-3.1 4.8 6.6 4.9 6.7-10.6 3.4-10.5 3.4-4.8-7z" fill="#9be51b" stroke="#9be51b"/>
<path d="M879.7 469.9l10.6-3.6 10.5-3.6 4.9 6.4 4.9 6.6-10.6 3.8-10.5 3.8-4.9-6.8z" fill="#93e419" stroke="#93e419"/>
<path d="M1035.1 492.2l10.8-4.7 10.7-4.7 5 5.9 5 6-10.8 4.9-10.8 5-4.9-6.2z" fill="#90e318" stroke="#90e318"/>
<path d="M545.1 363.9l10.4-1.2 10.3-1.1 4.7 7.5 4.8 7.6-10.4 1.3-10.3 1.4-4.8-7.8z" fill="#e8f431" stroke="#e8f431"/>
<path d="M575.3 376.7l10.3-1.4 10.4-1.4 4.7 7.5 4.8 7.4-10.4 1.6-10.4 1.6-4.7-7.7z" fill="#def22f" stroke="#def22f"/>
<path d="M605.5 388.8l10.3-1.6 10.4-1.5 4.7 7.3 4.8 7.4-10.4 1.8-10.4 1.8-4.7-7.6z" fill="#d4ef2c" stroke="#d4ef2c"/>
<path d="M635.7 400.4l10.4-1.8 10.3-1.8 4.8 7.2 4.8 7.3-10.4 2-10.4 2-4.8-7.5z" fill="#c9ed28" stroke="#c9ed28"/>
<path d="M666 411.3l10.4-2 10.3-2.1 4.8 7.2 4.8 7.2-10.4 2.2-10.4 2.3-4.8-7.5z" fill="#bfeb25" stroke="#bfeb25"/>
<path d="M696.3 421.6l10.4-2.3 10.4-2.2 4.8 7 4.8 7.1-10.4 2.5-10.5 2.5-4.7-7.4z" fill="#b5e922" stroke="#b5e922"/>
<path d="M757.1 440.2l10.5-2.7 10.4-2.7 4.9 6.9 4.8 6.9-10.5 2.9-10.5 3-4.8-7.2z" fill="#a6e61d" stroke="#a6e61d"/>
<path d="M787.7 448.6l10.4-2.9 10.5-2.9 4.8 6.7 4.9 6.8-10.5 3.2-10.5 3.1-4.8-7z" fill="#a0e51c" stroke="#a0e51c"/>
<path d="M941.6 480.8l10.6-4.1 10.6-4 4.9 6.2 4.9 6.4-10.6 4.2-10.6 4.3-4.9-6.5z" fill="#8fe318" stroke="#8fe318"/>
<path d="M1098.1 496.5l10.8-5.2 10.9-5.1 5 5.7 5 5.7-10.8 5.4-10.9 5.4-5-6z" fill="#94e419" stroke="#94e419"/>
<path d="M849 463.4l10.5-3.3 10.5-3.4 4.9 6.5 4.8 6.7-10.5 3.6-10.6 3.6-4.8-6.9z" fill="#96e41a" stroke="#96e41a"/>
<path d="M1003.8 489.1l10.7-4.5 10.7-4.5 5 6 4.9 6.1-10.7 4.7-10.7 4.7-4.9-6.3z" fill="#8ee318" stroke="#8ee318"/>
<path d="M910.6 475.7l10.6-3.9 10.6-3.8 4.9 6.4 4.9 6.4-10.6 4-10.6 4.1-4.9-6.7z" fill="#91e318" stroke="#91e318"/>
<path d="M1066.6 494.7l10.7-5 10.8-4.9 5 5.8 5 5.9-10.8 5.2-10.8 5.1-5-6.1z" fill="#91e319" stroke="#91e319"/>
<path d="M1161.7 498.1l10.9-5.6 10.9-5.7 5.1 5.5 5 5.6-10.9 5.8-11 5.9-5-5.8z" fill="#9ce51b" stroke="#9ce51b"/>
<path d="M1225.8 497l11-6.1 11.1-6.1 5.1 5.3 5.1 5.3-11 6.3-11.1 6.3-5.1-5.5z" fill="#a8e71e" stroke="#a8e71e"/>
<path d="M1323.3 490.2l11.2-6.8 11.2-6.7 5.3 4.9 5.2 4.9-11.3 7-11.2 7-5.2-5.2z" fill="#c2ec26" stroke="#c2ec26"/>
<path d="M1389.2 482.2l11.4-7.2 11.3-7.2 5.3 4.6 5.3 4.7-11.4 7.5-11.4 7.4-5.2-4.9z" fill="#d8f02d" stroke="#d8f02d"/>
<path d="M1268.4 506.2l11.1-6.6 11.1-6.5 5.2 5.3 5.1 5.3-11.1 6.7-11.2 6.8-5.1-5.5z" fill="#aae71e" stroke="#aae71e"/>
<path d="M797.3 462.6l10.5-3.1 10.5-3.2 4.8 6.9 4.8 7-10.5 3.3-10.5 3.4-4.8-7.2z" fill="#96e41a" stroke="#96e41a"/>
<path d="M951.4 493.8l10.6-4.3 10.6-4.2 5 6.3 4.9 6.5-10.7 4.4-10.7 4.5-4.9-6.6z" fill="#87e216" stroke="#87e216"/>
<path d="M1108.1 508.4l10.9-5.4 10.8-5.4 5 5.9 5.1 5.8-10.9 5.7-10.9 5.6-5-6.1z" fill="#8ee318" stroke="#8ee318"/>
<path d="M554.6 379.4l10.3-1.4 10.4-1.3 4.7 7.6 4.7 7.7-10.3 1.6-10.4 1.5-4.7-7.9z" fill="#dff22f" stroke="#dff22f"/>
<path d="M645.2 415.3l10.4-2 10.4-2 4.7 7.3 4.8 7.5-10.4 2.2-10.4 2.3-4.8-7.7z" fill="#bdeb24" stroke="#bdeb24"/>
<path d="M705.8 436.2l10.5-2.5 10.4-2.5 4.8 7.2 4.8 7.2-10.5 2.7-10.4 2.7-4.8-7.4z" fill="#aae71e" stroke="#aae71e"/>
<path d="M736.3 445.6l10.4-2.7 10.4-2.7 4.8 7.1 4.8 7.2-10.4 2.9-10.5 2.9-4.8-7.4z" fill="#a3e61c" stroke="#a3e61c"/>
<path d="M858.6 477.1l10.6-3.6 10.5-3.6 4.9 6.6 4.9 6.8-10.6 3.8-10.6 3.8-4.8-6.9z" fill="#8ee318" stroke="#8ee318"/>
<path d="M1013.7 501.6l10.7-4.7 10.7-4.7 5 6.2 4.9 6.2-10.7 4.9-10.8 5-4.9-6.5z" fill="#87e216" stroke="#87e216"/>
<path d="M584.7 392l10.4-1.6 10.4-1.6 4.7 7.6 4.7 7.6-10.3 1.8-10.4 1.8-4.7-7.9z" fill="#d4ef2c" stroke="#d4ef2c"/>
<path d="M614.9 404l10.4-1.8 10.4-1.8 4.7 7.4 4.8 7.5-10.4 2.1-10.4 2-4.7-7.8z" fill="#c8ed28" stroke="#c8ed28"/>
<path d="M675.5 426.1l10.4-2.3 10.4-2.2 4.8 7.2 4.7 7.4-10.4 2.4-10.4 2.5-4.8-7.5z" fill="#b3e921" stroke="#b3e921"/>
<path d="M766.7 454.5l10.5-3 10.5-2.9 4.8 7 4.8 7-10.5 3.2-10.5 3.1-4.8-7.2z" fill="#9ce51b" stroke="#9ce51b"/>
<path d="M920.4 488.9l10.6-4.1 10.6-4 4.9 6.5 4.9 6.5-10.7 4.3-10.6 4.2-4.9-6.7z" fill="#88e217" stroke="#88e217"/>
<path d="M982.5 498.1l10.6-4.5 10.7-4.5 5 6.2 4.9 6.3-10.7 4.8-10.7 4.7-4.9-6.6z" fill="#87e216" stroke="#87e216"/>
<path d="M1076.5 506.8l10.8-5.1 10.8-5.2 5 5.9 5 6-10.8 5.4-10.9 5.4-4.9-6.2z" fill="#8ae217" stroke="#8ae217"/>
<path d="M1139.9 509.3l10.8-5.6 11-5.6 5 5.7 5 5.8-10.9 5.8-10.9 5.9-5-6z" fill="#91e319" stroke="#91e319"/>
<path d="M1171.7 509.6l11-5.9 10.9-5.8 5.1 5.6 5.1 5.6-11 6.1-11 6.1-5-5.9z" fill="#96e41a" stroke="#96e41a"/>
<path d="M1203.8 509.1l11-6.1 11-6 5.1 5.5 5.1 5.5-11 6.3-11.1 6.3-5-5.8z" fill="#9ce51b" stroke="#9ce51b"/>
<path d="M1236 508l11.1-6.3 11-6.3 5.2 5.4 5.1 5.4-11.1 6.5-11.1 6.6-5.1-5.7z" fill="#a3e61c" stroke="#a3e61c"/>
<path d="M1300.9 503.7l11.2-6.8 11.2-6.7 5.2 5.1 5.2 5.2-11.2 7-11.3 7-5.1-5.5z" fill="#b3e921" stroke="#b3e921"/>
<path d="M1333.7 500.5l11.2-7 11.3-7 5.2 5 5.2 5.1-11.3 7.2-11.3 7.2-5.1-5.3z" fill="#bdeb24" stroke="#bdeb24"/>
<path d="M1366.6 496.6l11.3-7.2 11.3-7.2 5.3 4.9 5.2 4.9-11.3 7.5-11.4 7.4-5.2-5.2z" fill="#c8ed28" stroke="#c8ed28"/>
<path d="M1399.7 492l11.4-7.4 11.4-7.5 5.3 4.8 5.3 4.8-11.4 7.7-11.5 7.7-5.2-5.1z" fill="#d4ef2c" stroke="#d4ef2c"/>
<path d="M827.9 470.2l10.5-3.4 10.6-3.4 4.8 6.8 4.8 6.9-10.5 3.5-10.5 3.6-4.8-7z" fill="#91e319" stroke="#91e319"/>
<path d="M889.5 483.3l10.5-3.8 10.6-3.8 4.9 6.5 4.9 6.7-10.6 4-10.6 4.1-4.9-6.9z" fill="#8ae217" stroke="#8ae217"/>
<path d="M1045 504.6l10.8-5 10.8-4.9 4.9 6 5 6.1-10.8 5.2-10.8 5.2-4.9-6.3z" fill="#88e217" stroke="#88e217"/>
<path d="M776.3 468.9l10.5-3.1 10.5-3.2 4.8 7.1 4.8 7.2-10.5 3.4-10.5 3.3-4.8-7.4z" fill="#92e319" stroke="#92e319"/>
<path d="M930.1 502.3l10.6-4.2 10.7-4.3 4.8 6.6 4.9 6.6-10.6 4.5-10.7 4.5-4.8-6.8z" fill="#80e115" stroke="#80e115"/>
<path d="M992.3 511.1l10.7-4.7 10.7-4.8 4.9 6.4 4.9 6.5-10.7 4.9-10.7 5-4.9-6.7z" fill="#7ee114" stroke="#7ee114"/>
<path d="M1086.4 519.2l10.9-5.4 10.8-5.4 5 6.1 5 6.1-10.9 5.6-10.8 5.7-5-6.4z" fill="#83e115" stroke="#83e115"/>
<path d="M1149.9 521.3l10.9-5.9 10.9-5.8 5.1 5.8 5 5.9-10.9 6.1-11 6.1-5-6.2z" fill="#8be217" stroke="#8be217"/>
<path d="M1213.9 520.6l11.1-6.3 11-6.3 5.1 5.6 5.1 5.7-11.1 6.5-11.1 6.5-5-5.8z" fill="#96e41a" stroke="#96e41a"/>
<path d="M1246.2 519.3l11.1-6.6 11.1-6.5 5.1 5.5 5.1 5.5-11.1 6.8-11.1 6.8-5.1-5.8z" fill="#9de51b" stroke="#9de51b"/>
<path d="M1278.6 517.2l11.2-6.8 11.1-6.7 5.2 5.3 5.1 5.5-11.2 7-11.2 7-5.1-5.7z" fill="#a4e61d" stroke="#a4e61d"/>
<path d="M1311.2 514.5l11.3-7 11.2-7 5.2 5.2 5.1 5.3-11.2 7.3-11.3 7.2-5.1-5.5z" fill="#ade81f" stroke="#ade81f"/>
<path d="M1377 506.9l11.4-7.4 11.3-7.5 5.3 5 5.2 5.1-11.4 7.7-11.4 7.7-5.2-5.3z" fill="#c3ec26" stroke="#c3ec26"/>
<path d="M564 395.1l10.4-1.5 10.3-1.6 4.8 7.7 4.7 7.9-10.4 1.8-10.4 1.7-4.7-8z" fill="#d4ef2c" stroke="#d4ef2c"/>
<path d="M624.4 419.4l10.4-2 10.4-2.1 4.7 7.6 4.8 7.7-10.4 2.2-10.4 2.2-4.8-7.8z" fill="#bceb24" stroke="#bceb24"/>
<path d="M654.7 430.6l10.4-2.3 10.4-2.2 4.7 7.5 4.8 7.5-10.4 2.5-10.4 2.4-4.8-7.7z" fill="#b1e820" stroke="#b1e820"/>
<path d="M685 441.1l10.4-2.5 10.4-2.4 4.8 7.4 4.8 7.4-10.5 2.7-10.4 2.7-4.7-7.7z" fill="#a7e71d" stroke="#a7e71d"/>
<path d="M715.4 451l10.4-2.7 10.5-2.7 4.7 7.3 4.8 7.4-10.4 2.9-10.5 2.9-4.8-7.6z" fill="#9fe51c" stroke="#9fe51c"/>
<path d="M745.8 460.3l10.5-2.9 10.4-2.9 4.8 7.2 4.8 7.2-10.4 3.2-10.5 3.1-4.8-7.5z" fill="#98e41a" stroke="#98e41a"/>
<path d="M837.6 484.2l10.5-3.6 10.5-3.5 4.9 6.9 4.8 6.9-10.5 3.8-10.6 3.9-4.8-7.2z" fill="#88e216" stroke="#88e216"/>
<path d="M899.2 497l10.6-4.1 10.6-4 4.8 6.7 4.9 6.7-10.6 4.3-10.6 4.3-4.9-7z" fill="#81e115" stroke="#81e115"/>
<path d="M1054.9 517.2l10.8-5.2 10.8-5.2 5 6.2 4.9 6.2-10.8 5.4-10.8 5.4-4.9-6.4z" fill="#81e115" stroke="#81e115"/>
<path d="M594.2 407.6l10.4-1.8 10.3-1.8 4.8 7.6 4.7 7.8-10.4 2-10.4 2-4.7-7.9z" fill="#c7ed28" stroke="#c7ed28"/>
<path d="M806.9 476.9l10.5-3.4 10.5-3.3 4.9 7 4.8 7-10.6 3.6-10.5 3.6-4.8-7.3z" fill="#8ce317" stroke="#8ce317"/>
<path d="M961.1 507l10.7-4.5 10.7-4.4 4.9 6.4 4.9 6.6-10.7 4.7-10.7 4.7-4.9-6.7z" fill="#7fe114" stroke="#7fe114"/>
<path d="M1118.1 520.6l10.9-5.6 10.9-5.7 5 6 5 6-10.9 5.8-10.9 5.9-5-6.2z" fill="#87e216" stroke="#87e216"/>
<path d="M868.3 490.9l10.6-3.8 10.6-3.8 4.8 6.8 4.9 6.9-10.6 4-10.6 4-4.8-7z" fill="#84e116" stroke="#84e116"/>
<path d="M1023.5 514.5l10.8-5 10.7-4.9 5 6.3 4.9 6.3-10.7 5.2-10.8 5.1-4.9-6.5z" fill="#7fe114" stroke="#7fe114"/>
<path d="M1181.8 521.3l11-6.1 11-6.1 5.1 5.7 5 5.8-11 6.3-11 6.4-5-6.1z" fill="#90e318" stroke="#90e318"/>
<path d="M1344 511l11.3-7.2 11.3-7.2 5.2 5.1 5.2 5.2-11.3 7.5-11.3 7.4-5.2-5.4z" fill="#b8ea23" stroke="#b8ea23"/>
<path d="M1224 532.3l11.1-6.5 11.1-6.5 5.1 5.7 5.1 5.8-11.2 6.7-11.1 6.8-5-6z" fill="#8fe318" stroke="#8fe318"/>
<path d="M1288.8 528.5l11.2-7 11.2-7 5.2 5.5 5.1 5.5-11.2 7.2-11.2 7.3-5.1-5.8z" fill="#9fe51b" stroke="#9fe51b"/>
<path d="M755.4 475.2l10.5-3.1 10.4-3.2 4.8 7.3 4.8 7.4-10.5 3.4-10.5 3.4-4.7-7.7z" fill="#8ee318" stroke="#8ee318"/>
<path d="M908.9 510.9l10.6-4.3 10.6-4.3 4.9 6.9 4.8 6.8-10.6 4.5-10.7 4.5-4.8-7.1z" fill="#78e013" stroke="#78e013"/>
<path d="M1064.8 530l10.8-5.4 10.8-5.4 5 6.3 5 6.4-10.9 5.6-10.8 5.6-5-6.5z" fill="#79e013" stroke="#79e013"/>
<path d="M603.6 423.4l10.4-2 10.4-2 4.7 7.8 4.8 7.8-10.4 2.3-10.4 2.2-4.7-8.1z" fill="#baea23" stroke="#baea23"/>
<path d="M664.2 446l10.4-2.4 10.4-2.5 4.8 7.6 4.7 7.7-10.4 2.7-10.4 2.7-4.8-7.9z" fill="#a5e61d" stroke="#a5e61d"/>
<path d="M816.5 491.4l10.5-3.6 10.6-3.6 4.8 7.2 4.8 7.2-10.5 3.8-10.6 3.8-4.8-7.4z" fill="#82e115" stroke="#82e115"/>
<path d="M970.9 520.5l10.7-4.7 10.7-4.7 4.9 6.6 4.9 6.7-10.7 4.9-10.7 5-4.9-6.9z" fill="#76df12" stroke="#76df12"/>
<path d="M1128.1 533l10.9-5.9 10.9-5.8 5 6 5 6.2-10.9 6.1-11 6.1-5-6.4z" fill="#7fe114" stroke="#7fe114"/>
<path d="M573.4 411.1l10.4-1.7 10.4-1.8 4.7 7.9 4.7 7.9-10.4 2-10.3 2-4.8-8.1z" fill="#c6ed27" stroke="#c6ed27"/>
<path d="M633.9 435l10.4-2.2 10.4-2.2 4.7 7.7 4.8 7.7-10.4 2.5-10.5 2.4-4.7-7.9z" fill="#afe820" stroke="#afe820"/>
<path d="M694.5 456.4l10.4-2.7 10.5-2.7 4.7 7.5 4.8 7.6-10.4 2.9-10.5 2.9-4.7-7.8z" fill="#9ce51b" stroke="#9ce51b"/>
<path d="M724.9 466.1l10.5-2.9 10.4-2.9 4.8 7.4 4.8 7.5-10.5 3.1-10.5 3.2-4.7-7.7z" fill="#94e419" stroke="#94e419"/>
<path d="M878 505l10.6-4 10.6-4 4.8 6.9 4.9 7-10.6 4.2-10.7 4.3-4.8-7.2z" fill="#7be013" stroke="#7be013"/>
<path d="M1033.4 527.5l10.8-5.1 10.7-5.2 5 6.4 4.9 6.4-10.8 5.5-10.8 5.4-4.9-6.7z" fill="#77df13" stroke="#77df13"/>
<path d="M785.9 483.6l10.5-3.3 10.5-3.4 4.8 7.2 4.8 7.3-10.5 3.6-10.5 3.6-4.8-7.5z" fill="#87e216" stroke="#87e216"/>
<path d="M939.8 516l10.7-4.5 10.6-4.5 4.9 6.8 4.9 6.7-10.7 4.8-10.7 4.7-4.8-7z" fill="#77df13" stroke="#77df13"/>
<path d="M1002.1 524.4l10.7-5 10.7-4.9 5 6.5 4.9 6.5-10.8 5.2-10.7 5.2-4.9-6.8z" fill="#76df12" stroke="#76df12"/>
<path d="M1096.4 531.9l10.8-5.7 10.9-5.6 5 6.2 5 6.2-10.9 5.9-10.9 5.8-5-6.4z" fill="#7ce014" stroke="#7ce014"/>
<path d="M1159.9 533.5l11-6.1 10.9-6.1 5.1 5.9 5 6.1-11 6.3-11 6.3-5-6.2z" fill="#84e115" stroke="#84e115"/>
<path d="M1191.9 533.3l11-6.4 11-6.3 5.1 5.9 5 5.8-11 6.6-11.1 6.6-5-6.2z" fill="#89e217" stroke="#89e217"/>
<path d="M1256.4 530.8l11.1-6.8 11.1-6.8 5.1 5.6 5.1 5.7-11.1 7-11.2 7-5.1-5.9z" fill="#97e41a" stroke="#97e41a"/>
<path d="M1321.5 525.5l11.3-7.2 11.2-7.3 5.2 5.4 5.2 5.4-11.3 7.5-11.3 7.5-5.1-5.7z" fill="#a7e71d" stroke="#a7e71d"/>
<path d="M1354.4 521.8l11.3-7.4 11.3-7.5 5.2 5.3 5.2 5.3-11.3 7.7-11.4 7.7-5.2-5.6z" fill="#b2e921" stroke="#b2e921"/>
<path d="M847.2 498.6l10.6-3.9 10.5-3.8 4.9 7.1 4.8 7-10.6 4.1-10.6 4-4.8-7.3z" fill="#7ee014" stroke="#7ee014"/>
<path d="M734.4 481.5l10.5-3.2 10.5-3.1 4.8 7.5 4.7 7.7-10.5 3.3-10.4 3.4-4.8-7.9z" fill="#89e217" stroke="#89e217"/>
<path d="M887.6 519.4l10.7-4.3 10.6-4.2 4.8 7 4.8 7.1-10.6 4.5-10.6 4.5-4.8-7.3z" fill="#74df12" stroke="#74df12"/>
<path d="M1043.2 540.9l10.8-5.4 10.8-5.5 4.9 6.6 5 6.5-10.9 5.7-10.8 5.6-4.9-6.8z" fill="#73df12" stroke="#73df12"/>
<path d="M582.9 427.4l10.3-2 10.4-2 4.8 8 4.7 8.1-10.4 2.2-10.4 2.3-4.7-8.3z" fill="#b9ea23" stroke="#b9ea23"/>
<path d="M613.1 439.5l10.4-2.2 10.4-2.3 4.7 8 4.7 7.9-10.4 2.5-10.4 2.5-4.7-8.3z" fill="#ade81f" stroke="#ade81f"/>
<path d="M643.3 450.9l10.5-2.4 10.4-2.5 4.7 7.9 4.8 7.9-10.5 2.6-10.4 2.7-4.7-8.1z" fill="#a2e61c" stroke="#a2e61c"/>
<path d="M673.7 461.8l10.4-2.7 10.4-2.7 4.8 7.7 4.7 7.8-10.4 2.9-10.5 3-4.7-8.1z" fill="#99e41a" stroke="#99e41a"/>
<path d="M795.5 498.6l10.5-3.6 10.5-3.6 4.8 7.4 4.8 7.4-10.5 3.8-10.5 3.8-4.8-7.6z" fill="#7de014" stroke="#7de014"/>
<path d="M949.5 530l10.7-4.7 10.7-4.8 4.9 6.9 4.9 6.9-10.7 4.9-10.7 5-4.9-7.1z" fill="#73df12" stroke="#73df12"/>
<path d="M1011.9 537.9l10.7-5.2 10.8-5.2 4.9 6.7 4.9 6.7-10.8 5.4-10.7 5.4-4.9-6.9z" fill="#73df12" stroke="#73df12"/>
<path d="M1106.3 544.7l10.9-5.8 10.9-5.9 4.9 6.3 5 6.4-10.9 6.1-10.9 6.1-5-6.6z" fill="#74df12" stroke="#74df12"/>
<path d="M1169.9 545.9l11-6.3 11-6.3 5 6 5 6.2-11 6.5-11 6.6-5-6.4z" fill="#7ce014" stroke="#7ce014"/>
<path d="M1201.9 545.5l11.1-6.6 11-6.6 5.1 6 5 6-11 6.8-11.1 6.8-5-6.3z" fill="#82e115" stroke="#82e115"/>
<path d="M1234.1 544.3l11.1-6.8 11.2-6.7 5 5.8 5.1 5.9-11.1 7-11.2 7-5-6.1z" fill="#89e217" stroke="#89e217"/>
<path d="M1266.5 542.5l11.2-7 11.1-7 5.2 5.7 5.1 5.8-11.3 7.2-11.2 7.3-5-6z" fill="#90e318" stroke="#90e318"/>
<path d="M1299.1 540l11.2-7.3 11.2-7.2 5.2 5.6 5.1 5.7-11.3 7.4-11.3 7.5-5-5.9z" fill="#98e41a" stroke="#98e41a"/>
<path d="M1331.8 536.8l11.3-7.5 11.3-7.5 5.1 5.5 5.2 5.6-11.3 7.7-11.4 7.7-5.1-5.8z" fill="#a2e61c" stroke="#a2e61c"/>
<path d="M704 471.9l10.5-2.9 10.4-2.9 4.8 7.7 4.7 7.7-10.4 3.1-10.5 3.1-4.7-7.9z" fill="#91e318" stroke="#91e318"/>
<path d="M764.9 490.4l10.5-3.4 10.5-3.4 4.8 7.5 4.8 7.5-10.5 3.6-10.5 3.6-4.8-7.8z" fill="#83e115" stroke="#83e115"/>
<path d="M856.8 513.1l10.6-4 10.6-4.1 4.8 7.2 4.8 7.2-10.5 4.3-10.6 4.3-4.8-7.5z" fill="#74df12" stroke="#74df12"/>
<path d="M918.5 525l10.7-4.5 10.6-4.5 4.9 7 4.8 7-10.6 4.7-10.7 4.8-4.8-7.3z" fill="#73df12" stroke="#73df12"/>
<path d="M1074.7 543.1l10.8-5.6 10.9-5.6 4.9 6.4 5 6.4-10.9 5.9-10.9 5.9-4.9-6.7z" fill="#74df12" stroke="#74df12"/>
<path d="M826.1 506.2l10.6-3.8 10.5-3.8 4.8 7.2 4.8 7.3-10.5 4.1-10.6 4-4.8-7.5z" fill="#78e013" stroke="#78e013"/>
<path d="M980.7 534.3l10.7-5 10.7-4.9 4.9 6.7 4.9 6.8-10.8 5.2-10.7 5.2-4.9-7z" fill="#73df12" stroke="#73df12"/>
<path d="M1138 545.7l11-6.1 10.9-6.1 5 6.2 5 6.2-11 6.3-10.9 6.4-5-6.5z" fill="#78e013" stroke="#78e013"/>
<path d="M1021.7 551.7l10.7-5.4 10.8-5.4 4.9 6.7 4.9 6.8-10.8 5.7-10.8 5.6-4.9-7z" fill="#72de13" stroke="#72de13"/>
<path d="M1179.9 558.6l11-6.6 11-6.5 5.1 6.1 5 6.3-11.1 6.8-11 6.8-5-6.5z" fill="#75df12" stroke="#75df12"/>
<path d="M1244.2 556.5l11.2-7 11.1-7 5.1 6 5 6-11.1 7.2-11.2 7.3-5-6.3z" fill="#82e115" stroke="#82e115"/>
<path d="M1309.2 551.7l11.3-7.5 11.3-7.4 5.1 5.7 5.1 5.8-11.3 7.7-11.3 7.7-5.1-6z" fill="#92e319" stroke="#92e319"/>
<path d="M713.5 487.7l10.5-3.1 10.4-3.1 4.8 7.7 4.8 7.9-10.5 3.3-10.5 3.4-4.7-8.1z" fill="#85e116" stroke="#85e116"/>
<path d="M774.5 505.8l10.5-3.6 10.5-3.6 4.8 7.6 4.8 7.6-10.6 3.8-10.5 3.9-4.8-7.9z" fill="#77df13" stroke="#77df13"/>
<path d="M866.5 528l10.6-4.3 10.5-4.3 4.9 7.3 4.8 7.3-10.6 4.5-10.6 4.5-4.8-7.5z" fill="#73df13" stroke="#73df13"/>
<path d="M928.2 539.5l10.7-4.8 10.6-4.7 4.9 7.1 4.9 7.1-10.7 5-10.7 4.9-4.8-7.3z" fill="#72de13" stroke="#72de13"/>
<path d="M1084.5 556.5l10.9-5.9 10.9-5.9 4.9 6.6 5 6.6-10.9 6.1-10.9 6.1-4.9-6.8z" fill="#72df13" stroke="#72df13"/>
<path d="M592.3 444l10.4-2.3 10.4-2.2 4.7 8.1 4.7 8.3-10.4 2.4-10.4 2.5-4.7-8.5z" fill="#aae71e" stroke="#aae71e"/>
<path d="M622.5 455.9l10.4-2.5 10.4-2.5 4.8 8.1 4.7 8.1-10.4 2.7-10.4 2.7-4.8-8.4z" fill="#a0e51c" stroke="#a0e51c"/>
<path d="M652.8 467.1l10.4-2.7 10.5-2.6 4.7 7.9 4.7 8.1-10.4 2.9-10.4 2.9-4.8-8.3z" fill="#96e41a" stroke="#96e41a"/>
<path d="M683.1 477.8l10.5-3 10.4-2.9 4.8 7.9 4.7 7.9-10.4 3.2-10.5 3.1-4.7-8.2z" fill="#8de318" stroke="#8de318"/>
<path d="M835.7 521.2l10.6-4 10.5-4.1 4.9 7.4 4.8 7.5-10.6 4.2-10.6 4.3-4.8-7.7z" fill="#73df12" stroke="#73df12"/>
<path d="M990.4 548.3l10.7-5.2 10.8-5.2 4.9 6.9 4.9 6.9-10.8 5.4-10.8 5.4-4.8-7.1z" fill="#72de13" stroke="#72de13"/>
<path d="M1148 558.6l10.9-6.4 11-6.3 5 6.3 5 6.4-11 6.5-11 6.6-5-6.6z" fill="#73df12" stroke="#73df12"/>
<path d="M744 497.1l10.4-3.4 10.5-3.3 4.8 7.6 4.8 7.8-10.5 3.6-10.5 3.6-4.8-8z" fill="#7ee014" stroke="#7ee014"/>
<path d="M897.3 534l10.6-4.5 10.6-4.5 4.9 7.2 4.8 7.3-10.6 4.7-10.7 4.7-4.8-7.5z" fill="#72df13" stroke="#72df13"/>
<path d="M1053 554.4l10.8-5.6 10.9-5.7 4.9 6.7 4.9 6.7-10.8 5.9-10.9 5.8-4.9-6.9z" fill="#72de13" stroke="#72de13"/>
<path d="M805.1 513.8l10.5-3.8 10.5-3.8 4.8 7.5 4.8 7.5-10.5 4.1-10.6 4-4.8-7.8z" fill="#74df12" stroke="#74df12"/>
<path d="M959.3 544.2l10.7-5 10.7-4.9 4.8 7 4.9 7-10.7 5.2-10.7 5.2-4.9-7.3z" fill="#72de13" stroke="#72de13"/>
<path d="M1116.2 557.9l10.9-6.1 10.9-6.1 5 6.4 5 6.5-11 6.3-10.9 6.3-5-6.7z" fill="#73df12" stroke="#73df12"/>
<path d="M1212 557.9l11.1-6.8 11-6.8 5.1 6.1 5 6.1-11.1 7.1-11.1 7-5-6.4z" fill="#7be014" stroke="#7be014"/>
<path d="M1276.6 554.5l11.2-7.3 11.3-7.2 5.1 5.8 5 5.9-11.2 7.5-11.2 7.5-5.1-6.1z" fill="#89e217" stroke="#89e217"/>
<path d="M692.6 494l10.5-3.1 10.4-3.2 4.8 8 4.7 8.1-10.5 3.4-10.4 3.3-4.8-8.3z" fill="#81e115" stroke="#81e115"/>
<path d="M845.3 536.5l10.6-4.3 10.6-4.2 4.8 7.5 4.8 7.5-10.6 4.5-10.6 4.6-4.8-7.9z" fill="#72de13" stroke="#72de13"/>
<path d="M1000.1 562.5l10.8-5.4 10.8-5.4 4.8 7 4.9 7-10.8 5.7-10.8 5.6-4.8-7.2z" fill="#71de13" stroke="#71de13"/>
<path d="M1157.9 571.7l11-6.6 11-6.5 5 6.4 5 6.5-11.1 6.8-11 6.8-5-6.7z" fill="#72df13" stroke="#72df13"/>
<path d="M601.7 460.8l10.4-2.5 10.4-2.4 4.7 8.2 4.8 8.4-10.5 2.7-10.4 2.6-4.7-8.5z" fill="#9de51b" stroke="#9de51b"/>
<path d="M753.5 513l10.5-3.6 10.5-3.6 4.7 7.8 4.8 7.9-10.5 3.8-10.5 3.8-4.8-8.1z" fill="#74df12" stroke="#74df12"/>
<path d="M906.9 548.9l10.7-4.7 10.6-4.7 4.9 7.3 4.8 7.3-10.7 5-10.6 5-4.9-7.6z" fill="#71de13" stroke="#71de13"/>
<path d="M1062.8 568.2l10.9-5.8 10.8-5.9 5 6.8 4.9 6.8-10.9 6.1-10.9 6.1-4.9-7z" fill="#71de13" stroke="#71de13"/>
<path d="M632 472.5l10.4-2.7 10.4-2.7 4.7 8.2 4.8 8.3-10.5 2.9-10.4 2.9-4.7-8.5z" fill="#93e419" stroke="#93e419"/>
<path d="M662.3 483.6l10.4-2.9 10.4-2.9 4.8 8 4.7 8.2-10.5 3.1-10.4 3.2-4.7-8.4z" fill="#89e217" stroke="#89e217"/>
<path d="M814.6 529.3l10.6-4 10.5-4.1 4.8 7.6 4.8 7.7-10.6 4.3-10.5 4.3-4.8-7.9z" fill="#72df13" stroke="#72df13"/>
<path d="M969 558.7l10.7-5.2 10.7-5.2 4.9 7.1 4.8 7.1-10.7 5.5-10.8 5.4-4.8-7.4z" fill="#71de13" stroke="#71de13"/>
<path d="M1031.4 565.7l10.8-5.6 10.8-5.7 4.9 6.9 4.9 6.9-10.8 5.9-10.8 5.9-4.9-7.2z" fill="#71de13" stroke="#71de13"/>
<path d="M1126.1 571.2l10.9-6.3 11-6.3 4.9 6.5 5 6.6-11 6.6-11 6.6-4.9-6.9z" fill="#72de13" stroke="#72de13"/>
<path d="M1189.9 571.5l11-6.8 11.1-6.8 5 6.3 5 6.4-11.1 7-11.1 7.1-5-6.6z" fill="#73df12" stroke="#73df12"/>
<path d="M1222 570.6l11.1-7 11.1-7.1 5.1 6.2 5 6.3-11.2 7.3-11.1 7.2-5-6.5z" fill="#74df12" stroke="#74df12"/>
<path d="M1254.3 569l11.2-7.3 11.1-7.2 5.1 6.1 5.1 6.1-11.3 7.5-11.2 7.5-5-6.4z" fill="#7ae013" stroke="#7ae013"/>
<path d="M1286.8 566.7l11.2-7.5 11.2-7.5 5.1 6 5.1 6-11.3 7.7-11.2 7.8-5.1-6.3z" fill="#82e115" stroke="#82e115"/>
<path d="M723 503.8l10.5-3.4 10.5-3.3 4.7 7.9 4.8 8-10.5 3.5-10.5 3.6-4.8-8.2z" fill="#79e013" stroke="#79e013"/>
<path d="M784 521.5l10.5-3.9 10.6-3.8 4.7 7.7 4.8 7.8-10.5 4.1-10.6 4-4.7-8z" fill="#73df12" stroke="#73df12"/>
<path d="M876.1 543l10.6-4.5 10.6-4.5 4.8 7.4 4.8 7.5-10.6 4.8-10.6 4.7-4.8-7.7z" fill="#71de13" stroke="#71de13"/>
<path d="M937.9 554.1l10.7-4.9 10.7-5 4.8 7.2 4.9 7.3-10.8 5.2-10.7 5.2-4.8-7.5z" fill="#71de13" stroke="#71de13"/>
<path d="M1094.4 570.1l10.9-6.1 10.9-6.1 4.9 6.6 5 6.7-11 6.4-10.9 6.3-4.9-6.9z" fill="#71de13" stroke="#71de13"/>
<path d="M671.7 500.3l10.4-3.2 10.5-3.1 4.7 8.2 4.8 8.3-10.5 3.4-10.5 3.3-4.7-8.5z" fill="#7ce014" stroke="#7ce014"/>
<path d="M824.2 545.1l10.5-4.3 10.6-4.3 4.8 7.7 4.8 7.9-10.6 4.5-10.6 4.5-4.8-8.1z" fill="#71de13" stroke="#71de13"/>
<path d="M978.6 573.4l10.8-5.4 10.7-5.5 4.9 7.3 4.8 7.2-10.7 5.7-10.8 5.7-4.8-7.6z" fill="#6fde14" stroke="#6fde14"/>
<path d="M1041.2 580l10.8-5.9 10.8-5.9 4.9 7.1 4.9 7-10.8 6.1-10.9 6.2-4.9-7.3z" fill="#6fde14" stroke="#6fde14"/>
<path d="M1135.9 584.9l11-6.6 11-6.6 4.9 6.7 5 6.7-11 6.8-11 6.8-4.9-6.9z" fill="#71de13" stroke="#71de13"/>
<path d="M1199.8 584.7l11.1-7.1 11.1-7 5 6.4 5 6.5-11.1 7.3-11.2 7.3-4.9-6.8z" fill="#72de13" stroke="#72de13"/>
<path d="M1264.3 581.7l11.2-7.5 11.3-7.5 5 6.2 5.1 6.3-11.3 7.7-11.2 7.7-5-6.5z" fill="#74df12" stroke="#74df12"/>
<path d="M611.1 477.8l10.4-2.6 10.5-2.7 4.7 8.4 4.7 8.5-10.4 2.9-10.5 2.9-4.7-8.7z" fill="#90e318" stroke="#90e318"/>
<path d="M732.5 520.1l10.5-3.6 10.5-3.5 4.7 8 4.8 8.1-10.5 3.8-10.5 3.8-4.8-8.3z" fill="#73df12" stroke="#73df12"/>
<path d="M793.5 537.4l10.6-4 10.5-4.1 4.8 7.9 4.8 7.9-10.6 4.2-10.6 4.3-4.7-8.1z" fill="#71de13" stroke="#71de13"/>
<path d="M885.7 558.4l10.6-4.7 10.6-4.8 4.8 7.6 4.9 7.6-10.7 4.9-10.7 5-4.7-7.8z" fill="#70de14" stroke="#70de14"/>
<path d="M947.5 569.1l10.7-5.2 10.8-5.2 4.8 7.3 4.8 7.4-10.7 5.4-10.7 5.4-4.8-7.6z" fill="#6fde14" stroke="#6fde14"/>
<path d="M1104.2 583.9l10.9-6.3 11-6.4 4.9 6.8 4.9 6.9-10.9 6.5-11 6.6-4.9-7z" fill="#70de13" stroke="#70de13"/>
<path d="M641.4 489.4l10.4-2.9 10.5-2.9 4.7 8.3 4.7 8.4-10.4 3.1-10.5 3.1-4.7-8.6z" fill="#85e216" stroke="#85e216"/>
<path d="M702.1 510.5l10.4-3.3 10.5-3.4 4.7 8.1 4.8 8.2-10.5 3.6-10.5 3.6-4.7-8.4z" fill="#74df12" stroke="#74df12"/>
<path d="M854.9 552.1l10.6-4.6 10.6-4.5 4.8 7.7 4.8 7.7-10.7 4.7-10.6 4.8-4.8-8z" fill="#70de13" stroke="#70de13"/>
<path d="M1009.8 577l10.8-5.6 10.8-5.7 4.9 7.1 4.9 7.2-10.8 5.9-10.9 5.9-4.8-7.4z" fill="#6fde14" stroke="#6fde14"/>
<path d="M1167.8 585.1l11-6.8 11.1-6.8 4.9 6.6 5 6.6-11.1 7-11 7.1-5-6.9z" fill="#71de13" stroke="#71de13"/>
<path d="M763 529.1l10.5-3.8 10.5-3.8 4.8 7.9 4.7 8-10.5 4-10.5 4.1-4.8-8.2z" fill="#72de13" stroke="#72de13"/>
<path d="M916.6 564.1l10.6-5 10.7-5 4.8 7.5 4.8 7.5-10.7 5.1-10.6 5.2-4.8-7.7z" fill="#6fde14" stroke="#6fde14"/>
<path d="M1072.6 582.3l10.9-6.1 10.9-6.1 4.9 6.9 4.9 6.9-10.9 6.4-10.9 6.3-4.9-7.2z" fill="#70de14" stroke="#70de14"/>
<path d="M1232 583.5l11.1-7.2 11.2-7.3 5 6.3 5 6.4-11.1 7.5-11.2 7.5-5-6.6z" fill="#73df12" stroke="#73df12"/>
<path d="M803 553.6l10.6-4.3 10.6-4.2 4.7 7.9 4.8 8.1-10.6 4.5-10.6 4.5-4.7-8.3z" fill="#70de14" stroke="#70de14"/>
<path d="M957.2 584.2l10.7-5.4 10.7-5.4 4.9 7.4 4.8 7.6-10.7 5.6-10.8 5.7-4.8-7.8z" fill="#6edd14" stroke="#6edd14"/>
<path d="M1114 598l11-6.6 10.9-6.5 5 6.9 4.9 6.9-11 6.9-11 6.8-4.9-7.2z" fill="#6fde14" stroke="#6fde14"/>
<path d="M650.8 506.5l10.5-3.1 10.4-3.1 4.7 8.4 4.7 8.5-10.4 3.4-10.5 3.3-4.7-8.7z" fill="#78e013" stroke="#78e013"/>
<path d="M711.5 527.3l10.5-3.6 10.5-3.6 4.7 8.3 4.8 8.3-10.5 3.8-10.5 3.9-4.8-8.6z" fill="#72df13" stroke="#72df13"/>
<path d="M864.4 567.9l10.6-4.8 10.7-4.7 4.8 7.8 4.7 7.8-10.6 5-10.6 4.9-4.8-8z" fill="#6fde14" stroke="#6fde14"/>
<path d="M1019.5 591.8l10.9-5.9 10.8-5.9 4.8 7.3 4.9 7.3-10.8 6.1-10.9 6.1-4.8-7.5z" fill="#6edd14" stroke="#6edd14"/>
<path d="M1177.7 598.8l11-7.1 11.1-7 5 6.6 4.9 6.8-11.1 7.3-11 7.3-5-7z" fill="#70de13" stroke="#70de13"/>
<path d="M620.5 495.2l10.5-2.9 10.4-2.9 4.7 8.5 4.7 8.6-10.4 3.1-10.5 3.2-4.7-8.9z" fill="#82e115" stroke="#82e115"/>
<path d="M772.5 545.5l10.5-4.1 10.5-4 4.8 8.1 4.7 8.1-10.5 4.3-10.6 4.3-4.7-8.4z" fill="#70de13" stroke="#70de13"/>
<path d="M926.2 579.4l10.6-5.2 10.7-5.1 4.9 7.5 4.8 7.6-10.7 5.5-10.7 5.4-4.8-7.9z" fill="#6edd14" stroke="#6edd14"/>
<path d="M1082.4 596.6l10.9-6.3 10.9-6.4 4.9 7.1 4.9 7-10.9 6.6-11 6.6-4.8-7.3z" fill="#6edd14" stroke="#6edd14"/>
<path d="M681.1 517.2l10.5-3.3 10.5-3.4 4.7 8.4 4.7 8.4-10.5 3.6-10.4 3.6-4.7-8.7z" fill="#73df12" stroke="#73df12"/>
<path d="M833.7 561.1l10.6-4.5 10.6-4.5 4.7 7.8 4.8 8-10.6 4.7-10.6 4.7-4.8-8.1z" fill="#6fde14" stroke="#6fde14"/>
<path d="M988.3 588.4l10.8-5.7 10.7-5.7 4.9 7.4 4.8 7.4-10.8 5.9-10.7 5.9-4.9-7.7z" fill="#6edd14" stroke="#6edd14"/>
<path d="M1050.9 594.6l10.9-6.2 10.8-6.1 4.9 7.1 4.9 7.2-10.9 6.4-10.9 6.4-4.8-7.5z" fill="#6edd14" stroke="#6edd14"/>
<path d="M1145.8 598.7l11-6.8 11-6.8 4.9 6.8 5 6.9-11.1 7-11 7.1-4.9-7.1z" fill="#6fde14" stroke="#6fde14"/>
<path d="M1209.7 598.1l11.2-7.3 11.1-7.3 5 6.6 5 6.6-11.2 7.5-11.1 7.6-5-6.9z" fill="#71de13" stroke="#71de13"/>
<path d="M1242 596.7l11.2-7.5 11.1-7.5 5.1 6.4 5 6.5-11.3 7.8-11.2 7.8-4.9-6.8z" fill="#72de13" stroke="#72de13"/>
<path d="M742 536.7l10.5-3.8 10.5-3.8 4.7 8.2 4.8 8.2-10.6 4-10.5 4.1-4.7-8.5z" fill="#71de13" stroke="#71de13"/>
<path d="M895.2 574l10.7-5 10.7-4.9 4.8 7.6 4.8 7.7-10.7 5.2-10.7 5.2-4.8-7.9z" fill="#6edd14" stroke="#6edd14"/>
<path d="M629.9 512.8l10.5-3.2 10.4-3.1 4.7 8.7 4.7 8.7-10.4 3.4-10.5 3.3-4.7-8.9z" fill="#74df12" stroke="#74df12"/>
<path d="M781.9 562.2l10.6-4.3 10.5-4.3 4.8 8.2 4.7 8.3-10.5 4.5-10.6 4.5-4.7-8.5z" fill="#6fde14" stroke="#6fde14"/>
<path d="M935.8 595.1l10.7-5.4 10.7-5.5 4.8 7.7 4.8 7.8-10.7 5.6-10.8 5.7-4.7-8z" fill="#6cdd15" stroke="#6cdd15"/>
<path d="M1092.1 611.2l11-6.6 10.9-6.6 4.9 7.2 4.9 7.2-11 6.8-10.9 6.9-4.9-7.5z" fill="#6ddd15" stroke="#6ddd15"/>
<path d="M690.6 534.5l10.4-3.6 10.5-3.6 4.7 8.5 4.8 8.6-10.5 3.8-10.5 3.8-4.7-8.8z" fill="#72de13" stroke="#72de13"/>
<path d="M751.4 553.6l10.5-4.1 10.6-4 4.7 8.3 4.7 8.4-10.5 4.2-10.5 4.3-4.8-8.6z" fill="#70de14" stroke="#70de14"/>
<path d="M812.5 570.1l10.6-4.5 10.6-4.5 4.7 8.1 4.8 8.1-10.6 4.8-10.6 4.7-4.7-8.4z" fill="#6edd14" stroke="#6edd14"/>
<path d="M843.2 577.3l10.6-4.7 10.6-4.7 4.8 8 4.8 8-10.7 5-10.6 5-4.7-8.3z" fill="#6ddd14" stroke="#6ddd14"/>
<path d="M904.8 589.8l10.7-5.2 10.7-5.2 4.8 7.8 4.8 7.9-10.7 5.4-10.7 5.5-4.8-8.1z" fill="#6ddd15" stroke="#6ddd15"/>
<path d="M966.8 599.7l10.8-5.7 10.7-5.6 4.8 7.5 4.9 7.7-10.8 5.9-10.8 5.9-4.8-7.9z" fill="#6cdd15" stroke="#6cdd15"/>
<path d="M998 603.6l10.7-5.9 10.8-5.9 4.9 7.5 4.8 7.5-10.8 6.1-10.8 6.2-4.8-7.8z" fill="#6cdd15" stroke="#6cdd15"/>
<path d="M1060.6 609.4l10.9-6.4 10.9-6.4 4.9 7.3 4.8 7.3-10.9 6.6-10.9 6.6-4.8-7.5z" fill="#6ddd15" stroke="#6ddd15"/>
<path d="M1123.8 612.4l11-6.8 11-6.9 4.9 7.1 4.9 7.1-11 7-11 7.1-4.9-7.3z" fill="#6edd14" stroke="#6edd14"/>
<path d="M1155.6 612.9l11-7.1 11.1-7 4.9 6.9 5 7-11.1 7.3-11.1 7.3-4.9-7.3z" fill="#6edd14" stroke="#6edd14"/>
<path d="M1219.7 611.8l11.1-7.6 11.2-7.5 5 6.7 4.9 6.8-11.2 7.7-11.1 7.8-5-7z" fill="#70de14" stroke="#70de14"/>
<path d="M660.2 523.9l10.5-3.3 10.4-3.4 4.8 8.6 4.7 8.7-10.5 3.6-10.5 3.5-4.7-8.8z" fill="#73df12" stroke="#73df12"/>
<path d="M721 544.4l10.5-3.9 10.5-3.8 4.7 8.4 4.7 8.5-10.5 4-10.5 4.1-4.7-8.7z" fill="#70de13" stroke="#70de13"/>
<path d="M874 583.9l10.6-4.9 10.6-5 4.8 7.9 4.8 7.9-10.6 5.2-10.7 5.3-4.8-8.2z" fill="#6ddd15" stroke="#6ddd15"/>
<path d="M1029.2 606.8l10.9-6.1 10.8-6.1 4.9 7.3 4.8 7.5-10.8 6.3-10.9 6.4-4.8-7.7z" fill="#6cdd15" stroke="#6cdd15"/>
<path d="M1187.6 612.7l11-7.3 11.1-7.3 5 6.8 5 6.9-11.2 7.5-11.1 7.5-4.9-7.1z" fill="#6fde14" stroke="#6fde14"/>
<path d="M760.9 570.7l10.5-4.3 10.5-4.2 4.8 8.4 4.7 8.5-10.5 4.5-10.6 4.5-4.7-8.7z" fill="#6edd14" stroke="#6edd14"/>
<path d="M822 586.8l10.6-4.7 10.6-4.8 4.8 8.3 4.7 8.3-10.6 4.9-10.6 5-4.7-8.5z" fill="#6cdd15" stroke="#6cdd15"/>
<path d="M914.4 606l10.7-5.5 10.7-5.4 4.8 7.9 4.7 8-10.7 5.7-10.7 5.7-4.8-8.3z" fill="#6bdd15" stroke="#6bdd15"/>
<path d="M976.4 615.4l10.8-5.9 10.8-5.9 4.8 7.7 4.8 7.8-10.8 6.1-10.8 6.2-4.8-8.1z" fill="#6bdc15" stroke="#6bdc15"/>
<path d="M1070.3 624.4l10.9-6.6 10.9-6.6 4.9 7.4 4.9 7.5-11 6.8-10.9 6.8-4.8-7.7z" fill="#6bdd15" stroke="#6bdd15"/>
<path d="M1133.6 627l11-7.1 11-7 4.9 7.1 4.9 7.3-11 7.3-11.1 7.3-4.8-7.5z" fill="#6cdd15" stroke="#6cdd15"/>
<path d="M669.6 541.6l10.5-3.5 10.5-3.6 4.7 8.7 4.7 8.8-10.5 3.8-10.5 3.8-4.7-9z" fill="#71de13" stroke="#71de13"/>
<path d="M730.4 561.7l10.5-4.1 10.5-4 4.7 8.5 4.8 8.6-10.6 4.3-10.5 4.3-4.7-8.9z" fill="#6fde14" stroke="#6fde14"/>
<path d="M883.5 600.3l10.7-5.3 10.6-5.2 4.8 8.1 4.8 8.1-10.7 5.4-10.7 5.5-4.7-8.4z" fill="#6bdd15" stroke="#6bdd15"/>
<path d="M1038.9 622.1l10.9-6.4 10.8-6.3 4.9 7.5 4.8 7.5-10.9 6.6-10.8 6.6-4.9-7.8z" fill="#6bdd15" stroke="#6bdd15"/>
<path d="M1197.4 626.8l11.1-7.5 11.2-7.5 4.9 6.9 5 7-11.2 7.8-11.2 7.7-4.9-7.2z" fill="#6edd14" stroke="#6edd14"/>
<path d="M639.3 530.6l10.5-3.3 10.4-3.4 4.7 8.9 4.7 8.8-10.4 3.6-10.5 3.6-4.7-9.1z" fill="#72de13" stroke="#72de13"/>
<path d="M700 552l10.5-3.8 10.5-3.8 4.7 8.6 4.7 8.7-10.5 4-10.5 4.1-4.7-9z" fill="#70de14" stroke="#70de14"/>
<path d="M791.4 579.1l10.6-4.5 10.5-4.5 4.8 8.3 4.7 8.4-10.6 4.7-10.5 4.8-4.8-8.6z" fill="#6ddd15" stroke="#6ddd15"/>
<path d="M852.7 593.9l10.6-5 10.7-5 4.7 8.2 4.8 8.2-10.6 5.2-10.7 5.2-4.7-8.5z" fill="#6cdd15" stroke="#6cdd15"/>
<path d="M945.3 611l10.8-5.7 10.7-5.6 4.8 7.8 4.8 7.9-10.7 5.9-10.8 5.9-4.8-8.1z" fill="#6bdd15" stroke="#6bdd15"/>
<path d="M1007.6 619.1l10.8-6.2 10.8-6.1 4.9 7.6 4.8 7.7-10.8 6.4-10.9 6.3-4.8-7.9z" fill="#6bdd15" stroke="#6bdd15"/>
<path d="M1101.9 626.1l10.9-6.9 11-6.8 4.9 7.3 4.9 7.3-11 7.1-11 7-4.9-7.5z" fill="#6cdd15" stroke="#6cdd15"/>
<path d="M1165.4 627.3l11.1-7.3 11.1-7.3 4.9 7 4.9 7.1-11.1 7.6-11.1 7.5-4.9-7.4z" fill="#6ddd15" stroke="#6ddd15"/>
<path d="M739.8 579.3l10.5-4.3 10.6-4.3 4.7 8.7 4.7 8.7-10.5 4.5-10.6 4.5-4.7-8.9z" fill="#6ddd15" stroke="#6ddd15"/>
<path d="M893 616.9l10.7-5.5 10.7-5.4 4.7 8.1 4.8 8.3-10.7 5.6-10.7 5.7-4.7-8.5z" fill="#6adc16" stroke="#6adc16"/>
<path d="M1048.6 637.6l10.8-6.6 10.9-6.6 4.9 7.6 4.8 7.7-10.9 6.9-10.9 6.8-4.8-7.9z" fill="#6adc16" stroke="#6adc16"/>
<path d="M648.7 548.8l10.5-3.6 10.4-3.6 4.7 9 4.7 9-10.4 3.8-10.5 3.8-4.7-9.2z" fill="#70de13" stroke="#70de13"/>
<path d="M709.4 569.8l10.5-4.1 10.5-4 4.7 8.7 4.7 8.9-10.5 4.2-10.5 4.3-4.7-9z" fill="#6edd14" stroke="#6edd14"/>
<path d="M770.3 588.1l10.6-4.5 10.5-4.5 4.7 8.6 4.8 8.6-10.6 4.7-10.6 4.8-4.7-8.9z" fill="#6cdd15" stroke="#6cdd15"/>
<path d="M800.9 596.3l10.5-4.8 10.6-4.7 4.8 8.5 4.7 8.5-10.6 5-10.6 5-4.7-8.8z" fill="#6bdd15" stroke="#6bdd15"/>
<path d="M831.5 603.8l10.6-5 10.6-4.9 4.8 8.3 4.7 8.5-10.6 5.2-10.6 5.2-4.8-8.7z" fill="#6bdc15" stroke="#6bdc15"/>
<path d="M862.2 610.7l10.7-5.2 10.6-5.2 4.8 8.2 4.7 8.4-10.6 5.4-10.7 5.4-4.7-8.5z" fill="#6adc16" stroke="#6adc16"/>
<path d="M923.9 622.4l10.7-5.7 10.7-5.7 4.8 8.1 4.8 8.1-10.7 5.9-10.8 5.9-4.7-8.3z" fill="#69dc16" stroke="#69dc16"/>
<path d="M954.9 627.2l10.8-5.9 10.7-5.9 4.8 7.9 4.8 8.1-10.8 6.1-10.7 6.1-4.8-8.2z" fill="#69dc16" stroke="#69dc16"/>
<path d="M986 631.4l10.8-6.2 10.8-6.1 4.8 7.8 4.8 7.9-10.8 6.4-10.8 6.4-4.8-8.2z" fill="#69dc16" stroke="#69dc16"/>
<path d="M1017.2 634.8l10.9-6.3 10.8-6.4 4.8 7.7 4.9 7.8-10.9 6.6-10.9 6.7-4.8-8.1z" fill="#69dc16" stroke="#69dc16"/>
<path d="M1080 639.7l10.9-6.8 11-6.8 4.8 7.5 4.9 7.5-11 7.1-10.9 7.1-4.8-7.8z" fill="#6adc16" stroke="#6adc16"/>
<path d="M1111.6 641.1l11-7 11-7.1 4.9 7.4 4.8 7.5-11 7.3-11 7.3-4.8-7.7z" fill="#6adc16" stroke="#6adc16"/>
<path d="M1143.3 641.9l11.1-7.3 11-7.3 4.9 7.2 4.9 7.4-11.1 7.5-11 7.6-4.9-7.6z" fill="#6bdd15" stroke="#6bdd15"/>
<path d="M1175.2 641.9l11.1-7.5 11.1-7.6 4.9 7.2 4.9 7.2-11.1 7.8-11.1 7.8-4.9-7.5z" fill="#6cdd15" stroke="#6cdd15"/>
<path d="M679 559.6l10.5-3.8 10.5-3.8 4.7 8.8 4.7 9-10.5 4-10.5 4.1-4.7-9.2z" fill="#6fde14" stroke="#6fde14"/>
<path d="M718.8 587.8l10.5-4.3 10.5-4.2 4.7 8.9 4.7 8.9-10.5 4.5-10.5 4.5-4.7-9.2z" fill="#6cdd15" stroke="#6cdd15"/>
<path d="M779.7 605.8l10.6-4.8 10.6-4.7 4.7 8.7 4.7 8.8-10.6 4.9-10.5 5-4.7-9z" fill="#6adc16" stroke="#6adc16"/>
<path d="M841 621.1l10.6-5.2 10.6-5.2 4.8 8.5 4.7 8.5-10.6 5.5-10.7 5.4-4.7-8.8z" fill="#69dc18" stroke="#69dc18"/>
<path d="M871.7 627.7l10.7-5.4 10.6-5.4 4.8 8.3 4.7 8.5-10.7 5.7-10.6 5.7-4.8-8.7z" fill="#6adc1c" stroke="#6adc1c"/>
<path d="M933.4 639l10.8-5.9 10.7-5.9 4.8 8.2 4.8 8.2-10.8 6.2-10.7 6.1-4.8-8.4z" fill="#6bdd21" stroke="#6bdd21"/>
<path d="M995.6 647.6l10.8-6.4 10.8-6.4 4.8 8 4.8 8.1-10.8 6.6-10.8 6.6-4.8-8.3z" fill="#6bdd23" stroke="#6bdd23"/>
<path d="M1026.8 650.9l10.9-6.7 10.9-6.6 4.8 7.9 4.8 7.9-10.9 6.9-10.9 6.8-4.8-8.1z" fill="#6bdd21" stroke="#6bdd21"/>
<path d="M1089.7 655.3l10.9-7.1 11-7.1 4.9 7.7 4.8 7.7-11 7.3-11 7.4-4.8-8z" fill="#6adc1c" stroke="#6adc1c"/>
<path d="M1153.1 657l11-7.6 11.1-7.5 4.9 7.4 4.9 7.5-11.1 7.8-11.1 7.8-4.9-7.7z" fill="#69dc16" stroke="#69dc16"/>
<path d="M688.4 577.9l10.5-4.1 10.5-4 4.7 9 4.7 9-10.5 4.3-10.5 4.3-4.7-9.3z" fill="#6ddd15" stroke="#6ddd15"/>
<path d="M749.2 597.1l10.6-4.5 10.5-4.5 4.7 8.8 4.7 8.9-10.5 4.7-10.6 4.8-4.7-9.1z" fill="#6bdd15" stroke="#6bdd15"/>
<path d="M902.5 633.7l10.7-5.7 10.7-5.6 4.8 8.3 4.7 8.3-10.7 5.9-10.7 6-4.7-8.6z" fill="#6bdd1f" stroke="#6bdd1f"/>
<path d="M1058.2 653.4l10.9-6.8 10.9-6.9 4.9 7.8 4.8 7.8-11 7.1-10.9 7.1-4.8-8.1z" fill="#6bdd1f" stroke="#6bdd1f"/>
<path d="M658.1 567.2l10.5-3.8 10.4-3.8 4.7 9.1 4.7 9.2-10.5 4-10.4 4-4.7-9.3z" fill="#6edd14" stroke="#6edd14"/>
<path d="M810.3 613.8l10.6-5 10.6-5 4.7 8.6 4.8 8.7-10.6 5.2-10.6 5.2-4.8-8.9z" fill="#69dc16" stroke="#69dc16"/>
<path d="M964.5 643.6l10.7-6.1 10.8-6.1 4.8 8 4.8 8.2-10.8 6.4-10.8 6.4-4.8-8.4z" fill="#6bdd23" stroke="#6bdd23"/>
<path d="M1121.3 656.5l11-7.3 11-7.3 4.9 7.5 4.9 7.6-11.1 7.6-11 7.5-4.8-7.8z" fill="#69dc17" stroke="#69dc17"/>
<path d="M850.4 638.6l10.7-5.4 10.6-5.5 4.7 8.7 4.8 8.7-10.7 5.7-10.6 5.7-4.8-9z" fill="#6cdd29" stroke="#6cdd29"/>
<path d="M1005.2 664.1l10.8-6.6 10.8-6.6 4.8 8.1 4.8 8.1-10.8 6.9-10.9 6.9-4.8-8.5z" fill="#6ede32" stroke="#6ede32"/>
<path d="M697.8 596.4l10.5-4.3 10.5-4.3 4.7 9.1 4.7 9.2-10.5 4.6-10.5 4.5-4.7-9.5z" fill="#6bdd15" stroke="#6bdd15"/>
<path d="M758.6 615.3l10.6-4.8 10.5-4.7 4.8 8.9 4.7 9-10.6 5-10.6 5-4.7-9.3z" fill="#69dc16" stroke="#69dc16"/>
<path d="M912 650.9l10.7-6 10.7-5.9 4.8 8.5 4.8 8.4-10.8 6.2-10.7 6.2-4.7-8.8z" fill="#6ede30" stroke="#6ede30"/>
<path d="M1067.8 669.5l10.9-7.1 11-7.1 4.8 7.9 4.8 8-10.9 7.3-11 7.3-4.8-8.2z" fill="#6dde2e" stroke="#6dde2e"/>
<path d="M667.5 585.9l10.4-4 10.5-4 4.7 9.2 4.7 9.3-10.5 4.3-10.5 4.2-4.7-9.5z" fill="#6cdd15" stroke="#6cdd15"/>
<path d="M728.2 606.1l10.5-4.5 10.5-4.5 4.7 9.1 4.7 9.1-10.5 4.7-10.5 4.8-4.7-9.4z" fill="#6adc16" stroke="#6adc16"/>
<path d="M789.2 623.7l10.5-5 10.6-4.9 4.7 8.8 4.8 8.9-10.6 5.2-10.6 5.2-4.7-9.1z" fill="#6add1d" stroke="#6add1d"/>
<path d="M819.8 631.5l10.6-5.2 10.6-5.2 4.7 8.7 4.7 8.8-10.6 5.5-10.6 5.4-4.7-9z" fill="#6bdd24" stroke="#6bdd24"/>
<path d="M881.2 645.1l10.6-5.7 10.7-5.7 4.8 8.6 4.7 8.6-10.7 5.9-10.7 5.9-4.7-8.8z" fill="#6dde2d" stroke="#6dde2d"/>
<path d="M943 655.9l10.7-6.1 10.8-6.2 4.7 8.4 4.8 8.4-10.8 6.4-10.7 6.3-4.8-8.6z" fill="#6ede32" stroke="#6ede32"/>
<path d="M974 660.4l10.8-6.4 10.8-6.4 4.8 8.2 4.8 8.3-10.9 6.6-10.8 6.7-4.7-8.6z" fill="#6ede32" stroke="#6ede32"/>
<path d="M1036.4 667.1l10.9-6.8 10.9-6.9 4.8 8 4.8 8.1-10.9 7.1-10.9 7.1-4.8-8.3z" fill="#6ede30" stroke="#6ede30"/>
<path d="M1099.3 671.2l11-7.4 11-7.3 4.9 7.8 4.8 7.8-11 7.6-11 7.6-4.8-8.1z" fill="#6ddd2a" stroke="#6ddd2a"/>
<path d="M1131 672.1l11-7.5 11.1-7.6 4.8 7.7 4.9 7.7-11.1 7.8-11 7.8-4.9-8z" fill="#6cdd25" stroke="#6cdd25"/>
<path d="M676.8 604.9l10.5-4.2 10.5-4.3 4.7 9.3 4.7 9.5-10.5 4.5-10.5 4.5-4.7-9.7z" fill="#6adc16" stroke="#6adc16"/>
<path d="M737.6 624.8l10.5-4.8 10.5-4.7 4.7 9.1 4.7 9.3-10.5 5-10.6 5-4.6-9.5z" fill="#6bdd21" stroke="#6bdd21"/>
<path d="M798.6 641.9l10.6-5.2 10.6-5.2 4.7 9 4.7 9-10.6 5.5-10.6 5.4-4.7-9.2z" fill="#6ede30" stroke="#6ede30"/>
<path d="M829.2 649.5l10.6-5.4 10.6-5.5 4.7 8.9 4.8 9-10.7 5.6-10.6 5.7-4.7-9.2z" fill="#6fdf37" stroke="#6fdf37"/>
<path d="M859.9 656.5l10.6-5.7 10.7-5.7 4.7 8.8 4.7 8.8-10.6 5.9-10.7 5.9-4.7-9z" fill="#70df3e" stroke="#70df3e"/>
<path d="M890.6 662.7l10.7-5.9 10.7-5.9 4.8 8.6 4.7 8.8-10.7 6.1-10.7 6.2-4.7-9z" fill="#71e043" stroke="#71e043"/>
<path d="M952.5 673.1l10.7-6.3 10.8-6.4 4.8 8.4 4.7 8.6-10.8 6.6-10.8 6.6-4.7-8.8z" fill="#71e049" stroke="#71e049"/>
<path d="M983.5 677.4l10.8-6.7 10.9-6.6 4.7 8.3 4.8 8.5-10.8 6.8-10.9 6.9-4.7-8.7z" fill="#72e049" stroke="#72e049"/>
<path d="M1014.7 680.9l10.9-6.9 10.8-6.9 4.8 8.3 4.8 8.3-10.9 7.1-10.9 7.1-4.7-8.5z" fill="#71e048" stroke="#71e048"/>
<path d="M1046 683.7l10.9-7.1 10.9-7.1 4.8 8.1 4.8 8.2-10.9 7.4-10.9 7.3-4.8-8.4z" fill="#71e046" stroke="#71e046"/>
<path d="M1109 687.3l11-7.6 11-7.6 4.8 7.9 4.9 8-11.1 7.8-11 7.8-4.8-8.2z" fill="#6fdf3c" stroke="#6fdf3c"/>
<path d="M707.2 615.2l10.5-4.5 10.5-4.6 4.7 9.3 4.7 9.4-10.6 4.7-10.5 4.8-4.7-9.6z" fill="#69dc17" stroke="#69dc17"/>
<path d="M768 633.7l10.6-5 10.6-5 4.7 9.1 4.7 9.1-10.6 5.3-10.6 5.2-4.7-9.4z" fill="#6cdd29" stroke="#6cdd29"/>
<path d="M921.5 668.3l10.7-6.2 10.8-6.2 4.7 8.6 4.8 8.6-10.8 6.4-10.7 6.4-4.8-8.8z" fill="#71e047" stroke="#71e047"/>
<path d="M1077.4 685.8l11-7.3 10.9-7.3 4.9 8 4.8 8.1-11 7.5-11 7.6-4.8-8.3z" fill="#70e042" stroke="#70e042"/>
<path d="M808 660.4l10.6-5.4 10.6-5.5 4.7 9.1 4.7 9.2-10.6 5.7-10.7 5.7-4.7-9.4z" fill="#71e049" stroke="#71e049"/>
<path d="M869.3 674.5l10.7-5.9 10.6-5.9 4.8 8.9 4.7 9-10.7 6.2-10.7 6.1-4.7-9.2z" fill="#74e257" stroke="#74e257"/>
<path d="M961.9 690.6l10.8-6.6 10.8-6.6 4.8 8.5 4.7 8.7-10.8 6.9-10.8 6.9-4.7-8.9z" fill="#75e361" stroke="#75e361"/>
<path d="M1024.2 697.9l10.9-7.1 10.9-7.1 4.8 8.4 4.8 8.4-11 7.4-10.9 7.3-4.7-8.7z" fill="#75e360" stroke="#75e360"/>
<path d="M716.5 634.3l10.5-4.8 10.6-4.7 4.7 9.4 4.6 9.5-10.5 4.9-10.5 5-4.7-9.7z" fill="#6dde2b" stroke="#6dde2b"/>
<path d="M777.4 652.4l10.6-5.2 10.6-5.3 4.7 9.3 4.7 9.2-10.6 5.5-10.6 5.5-4.7-9.6z" fill="#70df40" stroke="#70df40"/>
<path d="M931 685.9l10.7-6.4 10.8-6.4 4.7 8.7 4.7 8.8-10.7 6.7-10.8 6.6-4.7-9z" fill="#75e360" stroke="#75e360"/>
<path d="M1087 702.4l11-7.6 11-7.5 4.8 8.1 4.8 8.2-11 7.9-11 7.8-4.8-8.5z" fill="#74e258" stroke="#74e258"/>
<path d="M686.2 624.2l10.5-4.5 10.5-4.5 4.6 9.5 4.7 9.6-10.5 4.7-10.5 4.8-4.7-9.9z" fill="#6bdd21" stroke="#6bdd21"/>
<path d="M746.9 643.7l10.6-5 10.5-5 4.7 9.3 4.7 9.4-10.6 5.2-10.5 5.2-4.7-9.6z" fill="#6ede35" stroke="#6ede35"/>
<path d="M838.6 667.8l10.6-5.7 10.7-5.6 4.7 9 4.7 9-10.7 6-10.6 5.9-4.7-9.3z" fill="#73e151" stroke="#73e151"/>
<path d="M900.1 680.6l10.7-6.2 10.7-6.1 4.7 8.8 4.8 8.8-10.8 6.4-10.7 6.5-4.7-9.2z" fill="#74e25c" stroke="#74e25c"/>
<path d="M993 694.6l10.9-6.9 10.8-6.8 4.8 8.5 4.7 8.5-10.8 7.1-10.9 7.1-4.7-8.8z" fill="#75e361" stroke="#75e361"/>
<path d="M1055.6 700.5l10.9-7.3 10.9-7.4 4.8 8.3 4.8 8.3-11 7.6-10.9 7.6-4.8-8.6z" fill="#74e25c" stroke="#74e25c"/>
<path d="M786.8 671.4l10.6-5.5 10.6-5.5 4.6 9.4 4.7 9.4-10.6 5.7-10.6 5.7-4.6-9.6z" fill="#74e25b" stroke="#74e25b"/>
<path d="M940.4 703.9l10.8-6.6 10.7-6.7 4.8 8.9 4.7 8.9-10.8 6.9-10.8 6.8-4.7-9.1z" fill="#77e579" stroke="#77e579"/>
<path d="M695.5 643.8l10.5-4.8 10.5-4.7 4.7 9.6 4.7 9.7-10.6 5-10.5 5-4.6-10z" fill="#6fde37" stroke="#6fde37"/>
<path d="M756.3 662.8l10.5-5.2 10.6-5.2 4.7 9.4 4.7 9.6-10.6 5.4-10.6 5.5-4.6-9.8z" fill="#73e151" stroke="#73e151"/>
<path d="M817.3 679.2l10.7-5.7 10.6-5.7 4.7 9.3 4.7 9.3-10.7 5.9-10.6 6-4.7-9.6z" fill="#75e365" stroke="#75e365"/>
<path d="M848 686.4l10.6-5.9 10.7-6 4.7 9.2 4.7 9.2-10.7 6.2-10.6 6.2-4.7-9.5z" fill="#76e46c" stroke="#76e46c"/>
<path d="M878.7 692.9l10.7-6.1 10.7-6.2 4.7 9 4.7 9.2-10.7 6.4-10.7 6.4-4.7-9.4z" fill="#76e472" stroke="#76e472"/>
<path d="M909.5 698.8l10.7-6.5 10.8-6.4 4.7 9 4.7 9-10.7 6.7-10.8 6.6-4.7-9.3z" fill="#77e577" stroke="#77e577"/>
<path d="M971.4 708.4l10.8-6.9 10.8-6.9 4.8 8.7 4.7 8.8-10.8 7.2-10.8 7.1-4.8-9.1z" fill="#77e57b" stroke="#77e57b"/>
<path d="M1002.5 712.1l10.9-7.1 10.8-7.1 4.8 8.6 4.7 8.7-10.8 7.4-10.9 7.4-4.7-9z" fill="#77e57a" stroke="#77e57a"/>
<path d="M1033.7 715.2l10.9-7.3 11-7.4 4.7 8.5 4.8 8.6-10.9 7.6-11 7.6-4.7-8.8z" fill="#77e578" stroke="#77e578"/>
<path d="M1065.1 717.6l10.9-7.6 11-7.6 4.8 8.4 4.8 8.5-11 7.8-11 7.9-4.7-8.7z" fill="#77e574" stroke="#77e574"/>
<path d="M725.9 653.6l10.5-5 10.5-4.9 4.7 9.5 4.7 9.6-10.6 5.3-10.5 5.2-4.7-9.9z" fill="#71e045" stroke="#71e045"/>
<path d="M765.6 682.3l10.6-5.5 10.6-5.4 4.7 9.6 4.6 9.6-10.6 5.7-10.5 5.7-4.7-9.9z" fill="#76e46e" stroke="#76e46e"/>
<path d="M826.7 698.3l10.6-6 10.7-5.9 4.7 9.4 4.7 9.5-10.7 6.2-10.6 6.1-4.7-9.7z" fill="#78e681" stroke="#78e681"/>
<path d="M888.1 711.6l10.7-6.4 10.7-6.4 4.7 9.1 4.7 9.3-10.7 6.7-10.7 6.6-4.7-9.5z" fill="#78e78b" stroke="#78e78b"/>
<path d="M918.9 717.2l10.8-6.6 10.7-6.7 4.7 9.1 4.7 9.1-10.7 6.9-10.8 6.9-4.7-9.4z" fill="#78e78e" stroke="#78e78e"/>
<path d="M980.9 726.4l10.8-7.1 10.8-7.2 4.8 8.9 4.7 9-10.9 7.3-10.8 7.4-4.7-9.2z" fill="#78e790" stroke="#78e790"/>
<path d="M1043.2 732.8l11-7.6 10.9-7.6 4.8 8.7 4.7 8.7-10.9 7.8-11 7.9-4.7-9z" fill="#78e78d" stroke="#78e78d"/>
<path d="M735.2 673.3l10.5-5.2 10.6-5.3 4.7 9.7 4.6 9.8-10.5 5.4-10.6 5.5-4.6-10z" fill="#75e362" stroke="#75e362"/>
<path d="M796.1 690.6l10.6-5.7 10.6-5.7 4.7 9.5 4.7 9.6-10.6 5.9-10.6 6-4.7-9.8z" fill="#77e578" stroke="#77e578"/>
<path d="M949.8 722.1l10.8-6.8 10.8-6.9 4.7 8.9 4.8 9.1-10.9 7.1-10.8 7.2-4.7-9.3z" fill="#78e78f" stroke="#78e78f"/>
<path d="M704.8 663.6l10.5-5 10.6-5 4.6 9.8 4.7 9.9-10.5 5.2-10.6 5.2-4.6-10.1z" fill="#73e155" stroke="#73e155"/>
<path d="M857.4 705.3l10.6-6.2 10.7-6.2 4.7 9.3 4.7 9.4-10.7 6.4-10.7 6.4-4.7-9.6z" fill="#78e687" stroke="#78e687"/>
<path d="M1012 730l10.9-7.4 10.8-7.4 4.8 8.8 4.7 8.8-10.9 7.6-10.9 7.6-4.7-9z" fill="#78e78f" stroke="#78e78f"/>
<path d="M897.5 730.5l10.7-6.6 10.7-6.7 4.7 9.3 4.7 9.4-10.7 6.9-10.8 6.9-4.7-9.6z" fill="#78e8a0" stroke="#78e8a0"/>
<path d="M744.5 693.2l10.6-5.5 10.5-5.4 4.7 9.8 4.7 9.9-10.6 5.7-10.6 5.7-4.6-10.1z" fill="#78e681" stroke="#78e681"/>
<path d="M805.5 710.2l10.6-6 10.6-5.9 4.7 9.6 4.7 9.7-10.7 6.2-10.6 6.2-4.7-9.9z" fill="#78e791" stroke="#78e791"/>
<path d="M959.2 740.7l10.8-7.2 10.9-7.1 4.7 9.1 4.7 9.2-10.8 7.4-10.9 7.4-4.7-9.5z" fill="#78e8a4" stroke="#78e8a4"/>
<path d="M714.1 683.7l10.6-5.2 10.5-5.2 4.7 9.9 4.6 10-10.5 5.5-10.6 5.5-4.6-10.3z" fill="#77e574" stroke="#77e574"/>
<path d="M775 702l10.5-5.7 10.6-5.7 4.7 9.8 4.7 9.8-10.6 5.9-10.6 6-4.7-10.1z" fill="#78e78a" stroke="#78e78a"/>
<path d="M836.1 717.6l10.6-6.1 10.7-6.2 4.6 9.5 4.7 9.6-10.7 6.4-10.6 6.5-4.7-9.9z" fill="#78e797" stroke="#78e797"/>
<path d="M866.7 724.4l10.7-6.4 10.7-6.4 4.7 9.4 4.7 9.5-10.7 6.7-10.7 6.6-4.7-9.7z" fill="#78e89c" stroke="#78e89c"/>
<path d="M928.3 735.9l10.8-6.9 10.7-6.9 4.7 9.3 4.7 9.3-10.7 7.1-10.8 7.1-4.7-9.5z" fill="#78e8a2" stroke="#78e8a2"/>
<path d="M990.3 744.7l10.8-7.4 10.9-7.3 4.7 9 4.7 9-10.8 7.7-10.9 7.6-4.7-9.3z" fill="#78e8a4" stroke="#78e8a4"/>
<path d="M1021.4 748l10.9-7.6 10.9-7.6 4.8 8.9 4.7 9-10.9 7.8-10.9 7.9-4.7-9.2z" fill="#78e8a2" stroke="#78e8a2"/>
<path d="M723.4 704.2l10.6-5.5 10.5-5.5 4.7 10.1 4.6 10.1-10.5 5.8-10.6 5.7-4.6-10.4z" fill="#78e78f" stroke="#78e78f"/>
<path d="M784.3 722.1l10.6-6 10.6-5.9 4.6 9.9 4.7 9.9-10.6 6.2-10.6 6.2-4.7-10.2z" fill="#78e8a1" stroke="#78e8a1"/>
<path d="M845.4 737.3l10.6-6.5 10.7-6.4 4.7 9.7 4.7 9.7-10.7 6.7-10.7 6.7-4.6-10z" fill="#76e9ad" stroke="#76e9ad"/>
<path d="M876.1 743.8l10.7-6.6 10.7-6.7 4.6 9.6 4.7 9.6-10.7 6.9-10.7 7-4.7-9.9z" fill="#76eab1" stroke="#76eab1"/>
<path d="M906.8 749.7l10.8-6.9 10.7-6.9 4.7 9.5 4.7 9.5-10.8 7.2-10.7 7.1-4.7-9.7z" fill="#75eab5" stroke="#75eab5"/>
<path d="M937.7 754.9l10.8-7.1 10.7-7.1 4.7 9.3 4.7 9.5-10.8 7.4-10.8 7.3-4.6-9.6z" fill="#75eab7" stroke="#75eab7"/>
<path d="M999.7 763.3l10.9-7.6 10.8-7.7 4.8 9.2 4.7 9.2-10.9 7.9-10.9 7.9-4.7-9.5z" fill="#75eab7" stroke="#75eab7"/>
<path d="M753.8 713.4l10.6-5.7 10.6-5.7 4.6 10 4.7 10.1-10.6 5.9-10.6 6-4.6-10.3z" fill="#78e798" stroke="#78e798"/>
<path d="M814.8 730l10.6-6.2 10.7-6.2 4.6 9.8 4.7 9.9-10.7 6.4-10.6 6.4-4.6-10.1z" fill="#77e9a7" stroke="#77e9a7"/>
<path d="M968.6 759.5l10.9-7.4 10.8-7.4 4.7 9.3 4.7 9.3-10.9 7.6-10.8 7.6-4.7-9.5z" fill="#75eab8" stroke="#75eab8"/>
<path d="M854.7 757.2l10.7-6.7 10.7-6.7 4.6 9.9 4.7 9.9-10.7 6.9-10.7 6.9-4.6-10.1z" fill="#73ebc2" stroke="#73ebc2"/>
<path d="M916.2 769.2l10.7-7.1 10.8-7.2 4.7 9.7 4.6 9.6-10.7 7.4-10.8 7.4-4.7-9.9z" fill="#72ebc8" stroke="#72ebc8"/>
<path d="M763.1 734l10.6-6 10.6-5.9 4.6 10.1 4.7 10.2-10.6 6.2-10.6 6.2-4.6-10.5z" fill="#76eab0" stroke="#76eab0"/>
<path d="M824.1 750.1l10.6-6.4 10.7-6.4 4.7 9.9 4.6 10-10.7 6.7-10.6 6.6-4.6-10.2z" fill="#74ebbe" stroke="#74ebbe"/>
<path d="M978 778.5l10.8-7.6 10.9-7.6 4.7 9.4 4.7 9.5-10.9 7.8-10.8 7.9-4.7-9.7z" fill="#72ecc9" stroke="#72ecc9"/>
<path d="M732.7 724.9l10.6-5.7 10.5-5.8 4.7 10.3 4.6 10.3-10.5 5.9-10.6 6-4.6-10.6z" fill="#77e9a7" stroke="#77e9a7"/>
<path d="M793.6 742.4l10.6-6.2 10.6-6.2 4.7 10 4.6 10.1-10.6 6.5-10.6 6.4-4.7-10.3z" fill="#75eab7" stroke="#75eab7"/>
<path d="M885.4 763.6l10.7-7 10.7-6.9 4.7 9.8 4.7 9.7-10.8 7.2-10.7 7.2-4.6-10.1z" fill="#73ebc5" stroke="#73ebc5"/>
<path d="M947 774.2l10.8-7.3 10.8-7.4 4.7 9.5 4.7 9.5-10.8 7.7-10.8 7.6-4.7-9.8z" fill="#72ebc9" stroke="#72ebc9"/>
<path d="M833.4 770.5l10.6-6.6 10.7-6.7 4.7 10.1 4.6 10.1-10.7 6.9-10.6 7-4.7-10.4z" fill="#71ecd0" stroke="#71ecd0"/>
<path d="M742 745.9l10.6-6 10.5-5.9 4.7 10.3 4.6 10.5-10.6 6.2-10.5 6.2-4.7-10.7z" fill="#74ebbf" stroke="#74ebbf"/>
<path d="M802.9 763l10.6-6.4 10.6-6.5 4.7 10.2 4.6 10.2-10.6 6.7-10.7 6.7-4.6-10.5z" fill="#72eccb" stroke="#72eccb"/>
<path d="M864 777.4l10.7-6.9 10.7-6.9 4.7 9.9 4.6 10.1-10.7 7.1-10.7 7.2-4.6-10.3z" fill="#70ecd4" stroke="#70ecd4"/>
<path d="M894.7 783.6l10.7-7.2 10.8-7.2 4.6 9.9 4.7 9.9-10.8 7.5-10.7 7.4-4.6-10.2z" fill="#6febd5" stroke="#6febd5"/>
<path d="M925.5 789l10.8-7.4 10.7-7.4 4.7 9.8 4.7 9.8-10.8 7.7-10.8 7.6-4.7-10z" fill="#6fead5" stroke="#6fead5"/>
<path d="M956.4 793.8l10.8-7.6 10.8-7.7 4.7 9.7 4.7 9.7-10.9 7.9-10.8 7.9-4.7-10z" fill="#6fead5" stroke="#6fead5"/>
<path d="M772.4 754.8l10.6-6.2 10.6-6.2 4.6 10.3 4.7 10.3-10.6 6.4-10.6 6.5-4.7-10.6z" fill="#73ebc5" stroke="#73ebc5"/>
<path d="M812.1 783.9l10.7-6.7 10.6-6.7 4.6 10.4 4.7 10.4-10.7 6.9-10.6 6.9-4.6-10.6z" fill="#6ee8d6" stroke="#6ee8d6"/>
<path d="M873.3 797.9l10.7-7.2 10.7-7.1 4.7 10.1 4.6 10.2-10.7 7.4-10.7 7.4-4.7-10.4z" fill="#6be4d8" stroke="#6be4d8"/>
<path d="M934.8 809.1l10.8-7.6 10.8-7.7 4.6 9.9 4.7 10-10.8 7.9-10.8 7.9-4.7-10.2z" fill="#67ddda" stroke="#67ddda"/>
<path d="M781.7 775.9l10.6-6.5 10.6-6.4 4.6 10.4 4.6 10.5-10.6 6.7-10.6 6.7-4.6-10.7z" fill="#6fead5" stroke="#6fead5"/>
<path d="M842.7 791.3l10.6-7 10.7-6.9 4.7 10.2 4.6 10.3-10.7 7.2-10.7 7.2-4.6-10.6z" fill="#6de7d7" stroke="#6de7d7"/>
<path d="M751.3 767.2l10.5-6.2 10.6-6.2 4.6 10.5 4.7 10.6-10.6 6.4-10.6 6.5-4.6-10.8z" fill="#70ecd2" stroke="#70ecd2"/>
<path d="M904 803.9l10.7-7.4 10.8-7.5 4.6 10.1 4.7 10-10.8 7.7-10.7 7.7-4.7-10.4z" fill="#68e0d9" stroke="#68e0d9"/>
<path d="M790.9 797.3l10.6-6.7 10.6-6.7 4.7 10.6 4.6 10.6-10.6 7-10.6 6.9-4.7-10.9z" fill="#65dada" stroke="#65dada"/>
<path d="M851.9 812.3l10.7-7.2 10.7-7.2 4.6 10.4 4.7 10.4-10.7 7.4-10.7 7.5-4.6-10.7z" fill="#5ccbdd" stroke="#5ccbdd"/>
<path d="M760.5 788.8l10.6-6.5 10.6-6.4 4.6 10.7 4.6 10.7-10.6 6.7-10.6 6.7-4.6-11z" fill="#6be5d8" stroke="#6be5d8"/>
<path d="M821.4 805.1l10.6-6.9 10.7-6.9 4.6 10.4 4.6 10.6-10.6 7.1-10.7 7.2-4.6-10.8z" fill="#60d2dc" stroke="#60d2dc"/>
<path d="M882.6 818.7l10.7-7.4 10.7-7.4 4.6 10.2 4.7 10.4-10.8 7.6-10.7 7.7-4.6-10.6z" fill="#59c4de" stroke="#59c4de"/>
<path d="M913.3 824.5l10.7-7.7 10.8-7.7 4.6 10.2 4.7 10.2-10.8 7.9-10.8 7.9-4.6-10.4z" fill="#57bfdf" stroke="#57bfdf"/>
<path d="M769.7 810.7l10.6-6.7 10.6-6.7 4.6 10.8 4.7 10.9-10.7 7-10.5 6.9-4.6-11.1z" fill="#58c2de" stroke="#58c2de"/>
<path d="M830.6 826.6l10.7-7.2 10.6-7.1 4.7 10.6 4.6 10.7-10.7 7.4-10.7 7.4-4.6-10.9z" fill="#4faae0" stroke="#4faae0"/>
<path d="M891.8 839.8l10.7-7.7 10.8-7.6 4.6 10.4 4.6 10.4-10.7 8-10.8 7.9-4.6-10.7z" fill="#499de1" stroke="#499de1"/>
<path d="M800.2 819l10.6-6.9 10.6-7 4.6 10.7 4.6 10.8-10.6 7.2-10.6 7.2-4.6-11z" fill="#53b5df" stroke="#53b5df"/>
<path d="M861.2 833.6l10.7-7.5 10.7-7.4 4.6 10.5 4.6 10.6-10.7 7.7-10.7 7.7-4.6-10.9z" fill="#4ca2e1" stroke="#4ca2e1"/>
<path d="M809.4 841l10.6-7.2 10.6-7.2 4.6 10.9 4.6 10.9-10.6 7.5-10.6 7.4-4.6-11.2z" fill="#4293e3" stroke="#4293e3"/>
<path d="M870.4 855.2l10.7-7.7 10.7-7.7 4.6 10.7 4.6 10.7-10.7 7.9-10.7 8-4.6-11z" fill="#3b88e5" stroke="#3b88e5"/>
<path d="M779 832.9l10.5-6.9 10.7-7 4.6 11 4.6 11-10.6 7.2-10.6 7.2-4.6-11.3z" fill="#479ae2" stroke="#479ae2"/>
<path d="M839.8 848.4l10.7-7.4 10.7-7.4 4.6 10.7 4.6 10.9-10.7 7.6-10.6 7.7-4.6-11.1z" fill="#3e8de4" stroke="#3e8de4"/>
<path d="M788.2 855.4l10.6-7.2 10.6-7.2 4.6 11.1 4.6 11.2-10.7 7.5-10.6 7.4-4.5-11.4z" fill="#357fe6" stroke="#357fe6"/>
<path d="M849.1 870.5l10.6-7.7 10.7-7.6 4.6 10.9 4.6 11-10.7 7.9-10.7 8-4.6-11.3z" fill="#2c72e8" stroke="#2c72e8"/>
<path d="M818.6 863.3l10.6-7.4 10.6-7.5 4.7 11 4.6 11.1-10.7 7.7-10.6 7.7-4.6-11.3z" fill="#3078e7" stroke="#3078e7"/>
<path d="M827.8 885.9l10.6-7.7 10.7-7.7 4.5 11.2 4.6 11.3-10.6 7.9-10.7 8-4.6-11.5z" fill="#1d5bea" stroke="#1d5bea"/>
<path d="M797.3 878.2l10.6-7.4 10.7-7.5 4.6 11.3 4.6 11.3-10.7 7.7-10.6 7.8-4.6-11.6z" fill="#2262ea" stroke="#2262ea"/>
<path d="M806.5 901.4l10.6-7.8 10.7-7.7 4.5 11.5 4.6 11.5-10.6 7.9-10.6 8-4.6-11.8z" fill="#1447e9" stroke="#1447e9"/>
</g>
<g stroke="#000" fill="none" stroke-linejoin="round" shape-rendering="crispEdges">
<path stroke-width="1.59" d="M441.2 209.8l10.2 1.1 10.3 1.1 10.2 1.1 10.2 1.1 10.2 1.1 10.2 1.1 10.2 1.1 10.2 1.1 10.2 1 10.1 1.1 10.2 1 10.2 1.1 10.1 1 10.2 1.1 10.1 1 10.2 1 10.1 1 10.2 1 10.1 1 10.1 1 10.1 1 10.2 1 10.1 1 10.1 1 10.1 0.9 10 1 10.1 0.9 10.1 1 10.1 0.9 10.1 0.9 10 1 10.1 0.9 10 0.9 10.1 0.9 10 0.9 10.1 0.9 10 0.9 10 0.9 10.1 0.9 10 0.8 10 0.9 10 0.9 10 0.8 10 0.8 10 0.9 10 0.8 9.9 0.8 10 0.9 10 0.8 10 0.8 9.9 0.8 10 0.8 9.9 0.8 10 0.8 9.9 0.7 9.9 0.8 10 0.8 9.9 0.7 9.9 0.8 9.9 0.7 9.9 0.8 10 0.7 9.9 0.7 9.8 0.7 9.9 0.8 9.9 0.7 9.9 0.7 9.9 0.7 9.9 0.7 9.8 0.6 9.9 0.7 9.8 0.7 9.9 0.7 9.8 0.6 9.9 0.7 9.8 0.6 9.8 0.7 9.9 0.6 9.8 0.6 9.8 0.7"/>
<path stroke-width="1.6" d="M445.9 216.2l10.3 1 10.2 1 10.2 1 10.2 1 10.2 1 10.2 1 10.2 1 10.2 0.9 10.2 1 10.2 1 10.2 0.9 10.2 1 10.1 0.9 10.2 1 10.2 0.9 10.1 0.9 10.2 0.9 10.1 0.9 10.1 1 10.2 0.9 10.1 0.8 10.1 0.9 10.1 0.9 10.2 0.9 10.1 0.9 10.1 0.8 10.1 0.9 10 0.8 10.1 0.9 10.1 0.8 10.1 0.8 10.1 0.9 10 0.8 10.1 0.8 10 0.8 10.1 0.8 10 0.8 10.1 0.8 10 0.8 10 0.7 10.1 0.8 10 0.8 10 0.7 10 0.8 10 0.7 10 0.8 10 0.7 10 0.7 10 0.7 10 0.8 9.9 0.7 10 0.7 10 0.7 9.9 0.7 10 0.6 9.9 0.7 10 0.7 9.9 0.7 10 0.6 9.9 0.7 9.9 0.6 9.9 0.7 10 0.6 9.9 0.6 9.9 0.6 9.9 0.7 9.9 0.6 9.9 0.6 9.9 0.6 9.9 0.6 9.8 0.6 9.9 0.6 9.9 0.5 9.8 0.6 9.9 0.6 9.9 0.5 9.8 0.6 9.9 0.5 9.8 0.6 9.8 0.5"/>
<path stroke-width="1.6" d="M450.6 222.6l10.3 0.9 10.2 0.9 10.2 0.9 10.3 0.9 10.2 0.9 10.2 0.9 10.2 0.9 10.2 0.9 10.2 0.9 10.2 0.8 10.2 0.9 10.2 0.8 10.1 0.9 10.2 0.8 10.2 0.8 10.1 0.9 10.2 0.8 10.2 0.8 10.1 0.8 10.1 0.8 10.2 0.8 10.1 0.8 10.1 0.8 10.2 0.8 10.1 0.7 10.1 0.8 10.1 0.8 10.1 0.7 10.1 0.8 10.1 0.7 10.1 0.7 10 0.8 10.1 0.7 10.1 0.7 10.1 0.7 10 0.7 10.1 0.7 10 0.7 10.1 0.7 10 0.7 10.1 0.7 10 0.6 10 0.7 10 0.7 10.1 0.6 10 0.6 10 0.7 10 0.6 10 0.6 10 0.7 10 0.6 10 0.6 9.9 0.6 10 0.6 10 0.6 9.9 0.6 10 0.5 10 0.6 9.9 0.6 10 0.6 9.9 0.5 9.9 0.6 10 0.5 9.9 0.5 9.9 0.6 10 0.5 9.9 0.5 9.9 0.5 9.9 0.5 9.9 0.5 9.9 0.5 9.9 0.5 9.9 0.5 9.9 0.5 9.8 0.5 9.9 0.4 9.9 0.5 9.8 0.5 9.9 0.4 9.9 0.5"/>
<path stroke-width="1.6" d="M455.4 229.1l10.2 0.8 10.2 0.8 10.3 0.8 10.2 0.8 10.2 0.8 10.3 0.8 10.2 0.8 10.2 0.8 10.2 0.8 10.2 0.7 10.2 0.8 10.2 0.7 10.1 0.8 10.2 0.7 10.2 0.8 10.2 0.7 10.1 0.7 10.2 0.7 10.1 0.7 10.2 0.7 10.1 0.7 10.2 0.7 10.1 0.7 10.2 0.7 10.1 0.7 10.1 0.6 10.1 0.7 10.1 0.7 10.1 0.6 10.1 0.7 10.1 0.6 10.1 0.6 10.1 0.7 10.1 0.6 10.1 0.6 10 0.6 10.1 0.6 10.1 0.6 10 0.6 10.1 0.6 10 0.6 10.1 0.5 10 0.6 10.1 0.6 10 0.5 10 0.6 10 0.5 10.1 0.6 10 0.5 10 0.5 10 0.5 10 0.6 10 0.5 10 0.5 10 0.5 9.9 0.5 10 0.4 10 0.5 10 0.5 9.9 0.5 10 0.4 9.9 0.5 10 0.4 9.9 0.5 10 0.4 9.9 0.5 10 0.4 9.9 0.4 9.9 0.4 9.9 0.4 10 0.5 9.9 0.4 9.9 0.3 9.9 0.4 9.9 0.4 9.9 0.4 9.9 0.4 9.8 0.3 9.9 0.4 9.9 0.4"/>
<path stroke-width="1.6" d="M460.1 235.6l10.2 0.8 10.3 0.7 10.2 0.7 10.3 0.7 10.2 0.7 10.2 0.7 10.2 0.7 10.2 0.6 10.3 0.7 10.2 0.7 10.2 0.6 10.2 0.7 10.2 0.6 10.1 0.7 10.2 0.6 10.2 0.7 10.2 0.6 10.1 0.6 10.2 0.6 10.2 0.6 10.1 0.6 10.2 0.6 10.1 0.6 10.2 0.6 10.1 0.6 10.1 0.5 10.1 0.6 10.2 0.6 10.1 0.5 10.1 0.6 10.1 0.5 10.1 0.5 10.1 0.6 10.1 0.5 10.1 0.5 10.1 0.5 10.1 0.5 10 0.5 10.1 0.5 10.1 0.5 10 0.5 10.1 0.5 10 0.5 10.1 0.4 10 0.5 10.1 0.5 10 0.4 10.1 0.4 10 0.5 10 0.4 10 0.4 10 0.5 10.1 0.4 10 0.4 10 0.4 10 0.4 10 0.4 9.9 0.4 10 0.4 10 0.3 10 0.4 10 0.4 9.9 0.3 10 0.4 9.9 0.3 10 0.4 10 0.3 9.9 0.3 9.9 0.4 10 0.3 9.9 0.3 10 0.3 9.9 0.3 9.9 0.3 9.9 0.3 9.9 0.3 9.9 0.3 10 0.2 9.9 0.3 9.9 0.3"/>
<path stroke-width="1.6" d="M464.8 242.2l10.3 0.7 10.2 0.6 10.3 0.6 10.2 0.6 10.2 0.6 10.3 0.6 10.2 0.6 10.2 0.5 10.2 0.6 10.2 0.6 10.3 0.5 10.2 0.6 10.2 0.6 10.2 0.5 10.1 0.5 10.2 0.6 10.2 0.5 10.2 0.5 10.2 0.5 10.1 0.5 10.2 0.5 10.1 0.5 10.2 0.5 10.2 0.5 10.1 0.5 10.1 0.5 10.2 0.4 10.1 0.5 10.1 0.5 10.2 0.4 10.1 0.5 10.1 0.4 10.1 0.4 10.1 0.5 10.1 0.4 10.1 0.4 10.1 0.4 10.1 0.4 10.1 0.4 10.1 0.4 10 0.4 10.1 0.4 10.1 0.4 10 0.3 10.1 0.4 10 0.4 10.1 0.3 10 0.4 10.1 0.3 10 0.4 10.1 0.3 10 0.3 10 0.3 10 0.4 10.1 0.3 10 0.3 10 0.3 10 0.3 10 0.2 10 0.3 10 0.3 10 0.3 10 0.2 9.9 0.3 10 0.3 10 0.2 10 0.3 9.9 0.2 10 0.2 9.9 0.3 10 0.2 9.9 0.2 10 0.2 9.9 0.2 10 0.2 9.9 0.2 9.9 0.2 10 0.2 9.9 0.2 9.9 0.1"/>
<path stroke-width="1.6" d="M469.5 248.9l10.3 0.5 10.2 0.5 10.3 0.6 10.2 0.5 10.3 0.5 10.2 0.4 10.3 0.5 10.2 0.5 10.2 0.5 10.2 0.5 10.2 0.4 10.3 0.5 10.2 0.4 10.2 0.5 10.2 0.4 10.2 0.4 10.1 0.5 10.2 0.4 10.2 0.4 10.2 0.4 10.2 0.4 10.1 0.4 10.2 0.4 10.2 0.4 10.1 0.4 10.2 0.4 10.1 0.3 10.1 0.4 10.2 0.4 10.1 0.3 10.2 0.4 10.1 0.3 10.1 0.3 10.1 0.4 10.1 0.3 10.1 0.3 10.1 0.3 10.1 0.3 10.1 0.4 10.1 0.3 10.1 0.2 10.1 0.3 10.1 0.3 10.1 0.3 10 0.3 10.1 0.2 10.1 0.3 10 0.2 10.1 0.3 10 0.2 10.1 0.3 10 0.2 10.1 0.2 10 0.3 10.1 0.2 10 0.2 10 0.2 10 0.2 10.1 0.2 10 0.2 10 0.2 10 0.1 10 0.2 10 0.2 10 0.1 10 0.2 10 0.1 9.9 0.2 10 0.1 10 0.2 10 0.1 9.9 0.1 10 0.1 10 0.2 9.9 0.1 10 0.1 9.9 0.1 10 0.1 9.9 0 10 0.1"/>
<path stroke-width="1.6" d="M474.3 255.6l10.2 0.5 10.3 0.4 10.2 0.4 10.3 0.4 10.2 0.4 10.3 0.4 10.2 0.4 10.3 0.3 10.2 0.4 10.2 0.4 10.2 0.3 10.3 0.4 10.2 0.3 10.2 0.4 10.2 0.3 10.2 0.4 10.2 0.3 10.2 0.3 10.2 0.3 10.2 0.3 10.1 0.4 10.2 0.3 10.2 0.2 10.2 0.3 10.1 0.3 10.2 0.3 10.1 0.3 10.2 0.2 10.1 0.3 10.2 0.3 10.1 0.2 10.2 0.3 10.1 0.2 10.1 0.2 10.2 0.3 10.1 0.2 10.1 0.2 10.1 0.2 10.1 0.2 10.1 0.2 10.1 0.2 10.1 0.2 10.1 0.2 10.1 0.2 10.1 0.2 10.1 0.1 10.1 0.2 10 0.2 10.1 0.1 10.1 0.2 10 0.1 10.1 0.1 10.1 0.2 10 0.1 10.1 0.1 10 0.1 10 0.1 10.1 0.2 10 0.1 10.1 0 10 0.1 10 0.1 10 0.1 10 0.1 10.1 0 10 0.1 10 0.1 10 0 10 0.1 10 0 10 0 9.9 0.1 10 0 10 0 10 0 10 0.1 9.9 0 10 0 10 0 9.9-0.1"/>
<path stroke-width="1.6" d="M479 262.4l10.3 0.3 10.2 0.4 10.3 0.3 10.2 0.3 10.3 0.3 10.2 0.2 10.3 0.3 10.2 0.3 10.3 0.3 10.2 0.3 10.2 0.2 10.3 0.3 10.2 0.2 10.2 0.3 10.2 0.2 10.2 0.2 10.2 0.3 10.2 0.2 10.2 0.2 10.2 0.2 10.2 0.2 10.2 0.2 10.2 0.2 10.2 0.2 10.1 0.2 10.2 0.2 10.2 0.2 10.1 0.1 10.2 0.2 10.2 0.2 10.1 0.1 10.2 0.2 10.1 0.1 10.1 0.1 10.2 0.2 10.1 0.1 10.1 0.1 10.2 0.1 10.1 0.1 10.1 0.2 10.1 0.1 10.1 0 10.1 0.1 10.2 0.1 10.1 0.1 10.1 0.1 10 0 10.1 0.1 10.1 0.1 10.1 0 10.1 0.1 10.1 0 10 0 10.1 0.1 10.1 0 10 0 10.1 0 10 0.1 10.1 0 10 0 10.1 0 10-0.1 10.1 0 10 0 10 0 10.1 0 10-0.1 10 0 10-0.1 10 0 10-0.1 10.1 0 10-0.1 10-0.1 10 0 10-0.1 9.9-0.1 10-0.1 10-0.1 10-0.1"/>
<path stroke-width="1.6" d="M483.7 269.3l10.3 0.2 10.3 0.2 10.2 0.2 10.3 0.2 10.2 0.2 10.3 0.2 10.3 0.2 10.2 0.1 10.2 0.2 10.3 0.2 10.2 0.1 10.3 0.2 10.2 0.2 10.2 0.1 10.2 0.1 10.3 0.2 10.2 0.1 10.2 0.1 10.2 0.1 10.2 0.2 10.2 0.1 10.2 0.1 10.2 0.1 10.2 0.1 10.2 0 10.1 0.1 10.2 0.1 10.2 0.1 10.2 0 10.1 0.1 10.2 0.1 10.1 0 10.2 0.1 10.2 0 10.1 0 10.2 0.1 10.1 0 10.1 0 10.2 0 10.1 0 10.1 0 10.2 0 10.1 0 10.1 0 10.1 0 10.1 0 10.1-0.1 10.1 0 10.1 0 10.1-0.1 10.1 0 10.1-0.1 10.1 0 10.1-0.1 10.1-0.1 10.1 0 10-0.1 10.1-0.1 10.1-0.1 10-0.1 10.1-0.1 10.1-0.1 10-0.1 10.1-0.1 10-0.1 10.1-0.1 10-0.2 10-0.1 10.1-0.2 10-0.1 10-0.1 10.1-0.2 10-0.2 10-0.1 10-0.2 10-0.2 10.1-0.1 10-0.2 10-0.2 10-0.2"/>
<path stroke-width="1.6" d="M488.4 276.2l10.3 0.1 10.3 0.1 10.3 0.1 10.2 0.1 10.3 0.1 10.3 0.1 10.2 0.1 10.3 0 10.2 0.1 10.3 0.1 10.2 0 10.3 0.1 10.2 0 10.2 0.1 10.3 0 10.2 0.1 10.2 0 10.2 0 10.2 0 10.3 0 10.2 0.1 10.2 0 10.2 0 10.2 0 10.2-0.1 10.2 0 10.1 0 10.2 0 10.2-0.1 10.2 0 10.2 0 10.1-0.1 10.2 0 10.2-0.1 10.1-0.1 10.2 0 10.1-0.1 10.2-0.1 10.1-0.1 10.2-0.1 10.1-0.1 10.2-0.1 10.1-0.1 10.1-0.1 10.2-0.1 10.1-0.1 10.1-0.1 10.1-0.1 10.2-0.2 10.1-0.1 10.1-0.2 10.1-0.1 10.1-0.2 10.1-0.1 10.1-0.2 10.1-0.2 10.1-0.1 10.1-0.2 10-0.2 10.1-0.2 10.1-0.2 10.1-0.2 10.1-0.2 10-0.2 10.1-0.2 10.1-0.2 10-0.2 10.1-0.3 10-0.2 10.1-0.2 10-0.3 10.1-0.2 10-0.3 10.1-0.2 10-0.3 10-0.3 10.1-0.2 10-0.3 10-0.3 10.1-0.3"/>
<path stroke-width="1.6" d="M493.2 283.2l10.2 0 10.3 0 10.3 0 10.3 0 10.2 0 10.3-0.1 10.3 0 10.2 0 10.3 0 10.3-0.1 10.2 0 10.3-0.1 10.2 0 10.2-0.1 10.3 0 10.2-0.1 10.2-0.1 10.3 0 10.2-0.1 10.2-0.1 10.2-0.1 10.3-0.1 10.2-0.1 10.2-0.1 10.2-0.1 10.2-0.1 10.2-0.2 10.2-0.1 10.2-0.1 10.2-0.2 10.1-0.1 10.2-0.1 10.2-0.2 10.2-0.1 10.2-0.2 10.1-0.2 10.2-0.1 10.2-0.2 10.1-0.2 10.2-0.2 10.1-0.2 10.2-0.2 10.1-0.2 10.2-0.2 10.1-0.2 10.2-0.2 10.1-0.2 10.1-0.3 10.2-0.2 10.1-0.2 10.1-0.3 10.2-0.2 10.1-0.3 10.1-0.2 10.1-0.3 10.1-0.2 10.1-0.3 10.1-0.3 10.1-0.3 10.1-0.3 10.1-0.2 10.1-0.3 10.1-0.3 10.1-0.3 10.1-0.3 10.1-0.4 10-0.3 10.1-0.3 10.1-0.3 10.1-0.4 10-0.3 10.1-0.3 10.1-0.4 10-0.3 10.1-0.4 10-0.3 10.1-0.4 10-0.4 10.1-0.3 10-0.4"/>
<path stroke-width="1.6" d="M497.9 290.2l10.3-0.1 10.3-0.1 10.2-0.1 10.3-0.1 10.3-0.1 10.3-0.1 10.2-0.2 10.3-0.1 10.3-0.1 10.2-0.2 10.3-0.1 10.3-0.2 10.2-0.1 10.3-0.2 10.2-0.1 10.2-0.2 10.3-0.2 10.2-0.1 10.3-0.2 10.2-0.2 10.2-0.2 10.2-0.2 10.3-0.2 10.2-0.2 10.2-0.2 10.2-0.2 10.2-0.3 10.2-0.2 10.2-0.2 10.2-0.3 10.2-0.2 10.2-0.2 10.2-0.3 10.2-0.2 10.2-0.3 10.2-0.3 10.2-0.2 10.1-0.3 10.2-0.3 10.2-0.3 10.1-0.3 10.2-0.3 10.2-0.3 10.1-0.3 10.2-0.3 10.1-0.3 10.2-0.3 10.2-0.3 10.1-0.4 10.1-0.3 10.2-0.3 10.1-0.4 10.2-0.3 10.1-0.4 10.1-0.3 10.1-0.4 10.2-0.4 10.1-0.3 10.1-0.4 10.1-0.4 10.1-0.4 10.2-0.3 10.1-0.4 10.1-0.4 10.1-0.4 10.1-0.4 10.1-0.5 10.1-0.4 10.1-0.4 10.1-0.4 10-0.5 10.1-0.4 10.1-0.4 10.1-0.5 10.1-0.4 10.1-0.5 10-0.4 10.1-0.5 10.1-0.5 10-0.4"/>
<path stroke-width="1.6" d="M502.6 297.3l10.3-0.2 10.3-0.2 10.3-0.2 10.3-0.2 10.3-0.3 10.2-0.2 10.3-0.2 10.3-0.2 10.3-0.3 10.2-0.2 10.3-0.2 10.3-0.3 10.2-0.3 10.3-0.2 10.2-0.3 10.3-0.2 10.2-0.3 10.3-0.3 10.2-0.3 10.3-0.3 10.2-0.3 10.2-0.3 10.3-0.3 10.2-0.3 10.2-0.3 10.2-0.3 10.3-0.3 10.2-0.3 10.2-0.4 10.2-0.3 10.2-0.3 10.2-0.4 10.2-0.3 10.2-0.4 10.2-0.4 10.2-0.3 10.2-0.4 10.2-0.4 10.2-0.3 10.2-0.4 10.2-0.4 10.1-0.4 10.2-0.4 10.2-0.4 10.2-0.4 10.1-0.4 10.2-0.4 10.2-0.5 10.1-0.4 10.2-0.4 10.1-0.4 10.2-0.5 10.1-0.4 10.2-0.5 10.1-0.4 10.2-0.5 10.1-0.4 10.2-0.5 10.1-0.5 10.1-0.5 10.2-0.4 10.1-0.5 10.1-0.5 10.1-0.5 10.2-0.5 10.1-0.5 10.1-0.5 10.1-0.5 10.1-0.5 10.1-0.6 10.2-0.5 10.1-0.5 10.1-0.5 10.1-0.6 10.1-0.5 10.1-0.6 10.1-0.5 10.1-0.6 10-0.5 10.1-0.6"/>
<path stroke-width="1.6" d="M507.3 304.4l10.3-0.3 10.3-0.3 10.3-0.3 10.3-0.3 10.3-0.3 10.3-0.3 10.3-0.4 10.3-0.3 10.2-0.3 10.3-0.4 10.3-0.3 10.3-0.4 10.2-0.3 10.3-0.4 10.3-0.4 10.2-0.3 10.3-0.4 10.2-0.4 10.3-0.4 10.2-0.4 10.3-0.4 10.2-0.4 10.3-0.4 10.2-0.4 10.2-0.4 10.3-0.4 10.2-0.4 10.2-0.4 10.3-0.5 10.2-0.4 10.2-0.5 10.2-0.4 10.2-0.4 10.2-0.5 10.3-0.5 10.2-0.4 10.2-0.5 10.2-0.5 10.2-0.4 10.2-0.5 10.2-0.5 10.2-0.5 10.2-0.5 10.1-0.5 10.2-0.5 10.2-0.5 10.2-0.5 10.2-0.5 10.1-0.6 10.2-0.5 10.2-0.5 10.2-0.6 10.1-0.5 10.2-0.5 10.2-0.6 10.1-0.5 10.2-0.6 10.1-0.6 10.2-0.5 10.1-0.6 10.2-0.6 10.1-0.6 10.2-0.5 10.1-0.6 10.2-0.6 10.1-0.6 10.1-0.6 10.2-0.6 10.1-0.6 10.1-0.7 10.2-0.6 10.1-0.6 10.1-0.6 10.1-0.7 10.2-0.6 10.1-0.6 10.1-0.7 10.1-0.6 10.1-0.7 10.1-0.6"/>
<path stroke-width="1.6" d="M512.1 311.6l10.3-0.4 10.3-0.4 10.3-0.4 10.3-0.4 10.3-0.4 10.3-0.4 10.2-0.5 10.3-0.4 10.3-0.5 10.3-0.4 10.3-0.5 10.3-0.4 10.2-0.5 10.3-0.4 10.3-0.5 10.2-0.5 10.3-0.4 10.3-0.5 10.2-0.5 10.3-0.5 10.3-0.5 10.2-0.5 10.3-0.5 10.2-0.5 10.3-0.5 10.2-0.5 10.2-0.6 10.3-0.5 10.2-0.5 10.2-0.6 10.3-0.5 10.2-0.5 10.2-0.6 10.3-0.6 10.2-0.5 10.2-0.6 10.2-0.5 10.2-0.6 10.3-0.6 10.2-0.6 10.2-0.6 10.2-0.5 10.2-0.6 10.2-0.6 10.2-0.6 10.2-0.6 10.2-0.7 10.2-0.6 10.2-0.6 10.2-0.6 10.2-0.6 10.1-0.7 10.2-0.6 10.2-0.7 10.2-0.6 10.2-0.7 10.1-0.6 10.2-0.7 10.2-0.6 10.2-0.7 10.1-0.7 10.2-0.6 10.2-0.7 10.1-0.7 10.2-0.7 10.1-0.7 10.2-0.7 10.1-0.7 10.2-0.7 10.1-0.7 10.2-0.7 10.1-0.7 10.2-0.8 10.1-0.7 10.2-0.7 10.1-0.8 10.1-0.7 10.2-0.7 10.1-0.8 10.1-0.7"/>
<path stroke-width="1.6" d="M516.8 318.9l10.3-0.5 10.3-0.5 10.3-0.5 10.3-0.5 10.3-0.6 10.3-0.5 10.3-0.5 10.3-0.6 10.3-0.5 10.3-0.6 10.3-0.5 10.3-0.6 10.2-0.5 10.3-0.6 10.3-0.6 10.3-0.5 10.3-0.6 10.2-0.6 10.3-0.6 10.3-0.6 10.2-0.6 10.3-0.6 10.3-0.6 10.2-0.6 10.3-0.6 10.2-0.6 10.3-0.7 10.2-0.6 10.3-0.6 10.2-0.7 10.3-0.6 10.2-0.6 10.2-0.7 10.3-0.7 10.2-0.6 10.3-0.7 10.2-0.6 10.2-0.7 10.2-0.7 10.3-0.7 10.2-0.7 10.2-0.6 10.2-0.7 10.2-0.7 10.3-0.7 10.2-0.7 10.2-0.7 10.2-0.8 10.2-0.7 10.2-0.7 10.2-0.7 10.2-0.8 10.2-0.7 10.2-0.7 10.2-0.8 10.2-0.7 10.2-0.8 10.2-0.7 10.2-0.8 10.2-0.8 10.2-0.7 10.1-0.8 10.2-0.8 10.2-0.8 10.2-0.7 10.2-0.8 10.1-0.8 10.2-0.8 10.2-0.8 10.1-0.8 10.2-0.8 10.2-0.9 10.1-0.8 10.2-0.8 10.2-0.8 10.1-0.9 10.2-0.8 10.1-0.8 10.2-0.9 10.2-0.8"/>
<path stroke-width="1.6" d="M521.5 326.3l10.3-0.7 10.3-0.6 10.3-0.6 10.4-0.6 10.3-0.7 10.3-0.6 10.3-0.6 10.3-0.7 10.3-0.6 10.3-0.7 10.3-0.6 10.3-0.7 10.3-0.6 10.2-0.7 10.3-0.7 10.3-0.7 10.3-0.7 10.3-0.6 10.3-0.7 10.2-0.7 10.3-0.7 10.3-0.7 10.3-0.7 10.2-0.7 10.3-0.8 10.3-0.7 10.2-0.7 10.3-0.7 10.2-0.8 10.3-0.7 10.3-0.8 10.2-0.7 10.3-0.7 10.2-0.8 10.3-0.8 10.2-0.7 10.2-0.8 10.3-0.8 10.2-0.7 10.3-0.8 10.2-0.8 10.2-0.8 10.3-0.8 10.2-0.8 10.2-0.8 10.3-0.8 10.2-0.8 10.2-0.8 10.2-0.8 10.3-0.8 10.2-0.9 10.2-0.8 10.2-0.8 10.2-0.9 10.2-0.8 10.3-0.9 10.2-0.8 10.2-0.9 10.2-0.8 10.2-0.9 10.2-0.8 10.2-0.9 10.2-0.9 10.2-0.9 10.2-0.8 10.2-0.9 10.2-0.9 10.2-0.9 10.2-0.9 10.2-0.9 10.1-0.9 10.2-0.9 10.2-0.9 10.2-1 10.2-0.9 10.2-0.9 10.1-0.9 10.2-1 10.2-0.9 10.2-1"/>
<path stroke-width="1.59" d="M526.2 333.7l10.3-0.8 10.4-0.7 10.3-0.7 10.3-0.7 10.3-0.8 10.3-0.7 10.3-0.8 10.4-0.7 10.3-0.8 10.3-0.7 10.3-0.8 10.3-0.7 10.3-0.8 10.3-0.8 10.3-0.8 10.3-0.7 10.2-0.8 10.3-0.8 10.3-0.8 10.3-0.8 10.3-0.8 10.3-0.8 10.3-0.8 10.2-0.8 10.3-0.9 10.3-0.8 10.3-0.8 10.2-0.8 10.3-0.9 10.3-0.8 10.2-0.8 10.3-0.9 10.3-0.8 10.2-0.9 10.3-0.9 10.3-0.8 10.2-0.9 10.3-0.9 10.2-0.8 10.3-0.9 10.2-0.9 10.3-0.9 10.2-0.9 10.3-0.9 10.2-0.9 10.3-0.9 10.2-0.9 10.2-0.9 10.3-0.9 10.2-0.9 10.2-1 10.3-0.9 10.2-0.9 10.2-1 10.3-0.9 10.2-0.9 10.2-1 10.3-0.9 10.2-1 10.2-1 10.2-0.9 10.2-1 10.3-1 10.2-0.9 10.2-1 10.2-1 10.2-1 10.2-1 10.3-1 10.2-1 10.2-1 10.2-1 10.2-1 10.2-1 10.2-1 10.2-1 10.2-1.1 10.2-1 10.2-1 10.2-1.1"/>
<path stroke-width="1.59" d="M531 341.1l10.3-0.8 10.3-0.8 10.3-0.9 10.4-0.8 10.3-0.8 10.3-0.9 10.3-0.8 10.3-0.9 10.3-0.8 10.3-0.9 10.4-0.9 10.3-0.8 10.3-0.9 10.3-0.9 10.3-0.9 10.3-0.8 10.3-0.9 10.3-0.9 10.3-0.9 10.3-0.9 10.3-0.9 10.3-0.9 10.3-0.9 10.2-1 10.3-0.9 10.3-0.9 10.3-0.9 10.3-1 10.3-0.9 10.2-1 10.3-0.9 10.3-0.9 10.3-1 10.3-1 10.2-0.9 10.3-1 10.3-0.9 10.2-1 10.3-1 10.3-1 10.2-1 10.3-0.9 10.3-1 10.2-1 10.3-1 10.2-1 10.3-1 10.3-1.1 10.2-1 10.3-1 10.2-1 10.3-1 10.2-1.1 10.3-1 10.2-1 10.3-1.1 10.2-1 10.2-1.1 10.3-1 10.2-1.1 10.3-1.1 10.2-1 10.2-1.1 10.3-1.1 10.2-1 10.2-1.1 10.3-1.1 10.2-1.1 10.2-1.1 10.3-1.1 10.2-1.1 10.2-1.1 10.3-1.1 10.2-1.1 10.2-1.1 10.2-1.1 10.3-1.1 10.2-1.2 10.2-1.1 10.2-1.1"/>
<path stroke-width="1.59" d="M535.7 348.6l10.3-0.9 10.3-0.9 10.4-1 10.3-0.9 10.3-0.9 10.3-1 10.4-0.9 10.3-1 10.3-1 10.3-0.9 10.4-1 10.3-1 10.3-0.9 10.3-1 10.3-1 10.3-1 10.3-1 10.3-1 10.3-1 10.3-1 10.3-1 10.4-1 10.3-1 10.3-1 10.2-1.1 10.3-1 10.3-1 10.3-1.1 10.3-1 10.3-1 10.3-1.1 10.3-1 10.3-1.1 10.3-1.1 10.3-1 10.2-1.1 10.3-1.1 10.3-1 10.3-1.1 10.3-1.1 10.3-1.1 10.2-1.1 10.3-1 10.3-1.1 10.3-1.1 10.2-1.1 10.3-1.2 10.3-1.1 10.2-1.1 10.3-1.1 10.3-1.1 10.2-1.1 10.3-1.2 10.3-1.1 10.2-1.1 10.3-1.2 10.3-1.1 10.2-1.2 10.3-1.1 10.2-1.2 10.3-1.1 10.3-1.2 10.2-1.2 10.3-1.1 10.2-1.2 10.3-1.2 10.2-1.2 10.3-1.2 10.2-1.1 10.3-1.2 10.2-1.2 10.3-1.2 10.2-1.2 10.3-1.2 10.2-1.2 10.3-1.3 10.2-1.2 10.3-1.2 10.2-1.2 10.3-1.2"/>
<path stroke-width="1.59" d="M540.4 356.2l10.3-1 10.4-1 10.3-1.1 10.3-1 10.4-1.1 10.3-1 10.3-1.1 10.4-1.1 10.3-1 10.3-1.1 10.3-1.1 10.4-1 10.3-1.1 10.3-1.1 10.3-1.1 10.3-1.1 10.4-1.1 10.3-1.1 10.3-1.1 10.3-1.1 10.3-1.1 10.3-1.1 10.4-1.1 10.3-1.2 10.3-1.1 10.3-1.1 10.3-1.2 10.3-1.1 10.3-1.1 10.3-1.2 10.3-1.1 10.3-1.2 10.3-1.1 10.3-1.2 10.3-1.2 10.3-1.1 10.3-1.2 10.3-1.2 10.3-1.2 10.3-1.1 10.3-1.2 10.3-1.2 10.3-1.2 10.2-1.2 10.3-1.2 10.3-1.2 10.3-1.2 10.3-1.2 10.3-1.2 10.3-1.3 10.3-1.2 10.2-1.2 10.3-1.2 10.3-1.3 10.3-1.2 10.3-1.2 10.2-1.3 10.3-1.2 10.3-1.3 10.3-1.2 10.3-1.3 10.2-1.3 10.3-1.2 10.3-1.3 10.3-1.3 10.2-1.2 10.3-1.3 10.3-1.3 10.2-1.3 10.3-1.3 10.3-1.3 10.3-1.3 10.2-1.3 10.3-1.3 10.3-1.3 10.2-1.3 10.3-1.3 10.3-1.3 10.2-1.3 10.3-1.3"/>
<path stroke-width="1.59" d="M545.1 363.9l10.4-1.2 10.3-1.1 10.3-1.2 10.4-1.1 10.3-1.2 10.4-1.1 10.3-1.2 10.3-1.2 10.4-1.1 10.3-1.2 10.3-1.2 10.4-1.2 10.3-1.1 10.3-1.2 10.4-1.2 10.3-1.2 10.3-1.2 10.3-1.2 10.4-1.2 10.3-1.3 10.3-1.2 10.3-1.2 10.3-1.2 10.4-1.2 10.3-1.3 10.3-1.2 10.3-1.2 10.3-1.3 10.4-1.2 10.3-1.3 10.3-1.2 10.3-1.3 10.3-1.2 10.3-1.3 10.3-1.3 10.3-1.2 10.4-1.3 10.3-1.3 10.3-1.3 10.3-1.2 10.3-1.3 10.3-1.3 10.3-1.3 10.3-1.3 10.3-1.3 10.3-1.3 10.3-1.3 10.3-1.3 10.3-1.4 10.3-1.3 10.3-1.3 10.3-1.3 10.3-1.4 10.3-1.3 10.3-1.3 10.3-1.4 10.3-1.3 10.3-1.3 10.3-1.4 10.3-1.3 10.3-1.4 10.3-1.4 10.3-1.3 10.3-1.4 10.3-1.4 10.3-1.3 10.3-1.4 10.3-1.4 10.2-1.4 10.3-1.4 10.3-1.3 10.3-1.4 10.3-1.4 10.3-1.4 10.3-1.4 10.3-1.4 10.3-1.4 10.3-1.5 10.2-1.4 10.3-1.4"/>
<path stroke-width="1.59" d="M549.8 371.6l10.4-1.2 10.3-1.3 10.4-1.3 10.3-1.2 10.4-1.3 10.3-1.2 10.4-1.3 10.3-1.3 10.3-1.3 10.4-1.2 10.3-1.3 10.4-1.3 10.3-1.3 10.3-1.3 10.4-1.3 10.3-1.3 10.3-1.3 10.4-1.3 10.3-1.3 10.4-1.4 10.3-1.3 10.3-1.3 10.3-1.3 10.4-1.4 10.3-1.3 10.3-1.3 10.4-1.4 10.3-1.3 10.3-1.4 10.3-1.3 10.4-1.4 10.3-1.3 10.3-1.4 10.3-1.3 10.4-1.4 10.3-1.4 10.3-1.4 10.3-1.3 10.4-1.4 10.3-1.4 10.3-1.4 10.3-1.4 10.3-1.4 10.4-1.4 10.3-1.4 10.3-1.4 10.3-1.4 10.3-1.4 10.4-1.4 10.3-1.4 10.3-1.5 10.3-1.4 10.3-1.4 10.3-1.5 10.4-1.4 10.3-1.4 10.3-1.5 10.3-1.4 10.3-1.5 10.3-1.4 10.3-1.5 10.4-1.4 10.3-1.5 10.3-1.4 10.3-1.5 10.3-1.5 10.3-1.5 10.3-1.4 10.3-1.5 10.4-1.5 10.3-1.5 10.3-1.5 10.3-1.5 10.3-1.5 10.3-1.5 10.3-1.5 10.3-1.5 10.4-1.5 10.3-1.5 10.3-1.5"/>
<path stroke-width="1.58" d="M554.6 379.4l10.3-1.4 10.4-1.3 10.3-1.4 10.4-1.4 10.3-1.3 10.4-1.4 10.3-1.4 10.4-1.4 10.3-1.3 10.4-1.4 10.3-1.4 10.4-1.4 10.3-1.4 10.4-1.4 10.3-1.4 10.3-1.4 10.4-1.4 10.3-1.5 10.4-1.4 10.3-1.4 10.4-1.4 10.3-1.4 10.3-1.5 10.4-1.4 10.3-1.4 10.4-1.5 10.3-1.4 10.3-1.5 10.4-1.4 10.3-1.5 10.4-1.4 10.3-1.5 10.3-1.5 10.4-1.4 10.3-1.5 10.3-1.5 10.4-1.5 10.3-1.4 10.4-1.5 10.3-1.5 10.3-1.5 10.4-1.5 10.3-1.5 10.3-1.5 10.4-1.5 10.3-1.5 10.3-1.5 10.4-1.5 10.3-1.5 10.3-1.6 10.4-1.5 10.3-1.5 10.3-1.5 10.4-1.6 10.3-1.5 10.3-1.5 10.4-1.6 10.3-1.5 10.3-1.6 10.4-1.5 10.3-1.6 10.3-1.5 10.4-1.6 10.3-1.6 10.3-1.5 10.4-1.6 10.3-1.6 10.3-1.6 10.4-1.5 10.3-1.6 10.3-1.6 10.4-1.6 10.3-1.6 10.3-1.6 10.4-1.6 10.3-1.6 10.3-1.6 10.4-1.6 10.3-1.6 10.3-1.6"/>
<path stroke-width="1.58" d="M559.3 387.2l10.3-1.4 10.4-1.5 10.4-1.5 10.3-1.4 10.4-1.5 10.3-1.5 10.4-1.5 10.3-1.5 10.4-1.5 10.4-1.5 10.3-1.5 10.4-1.5 10.3-1.5 10.4-1.5 10.3-1.5 10.4-1.5 10.3-1.5 10.4-1.5 10.3-1.5 10.4-1.6 10.3-1.5 10.4-1.5 10.3-1.6 10.4-1.5 10.3-1.6 10.4-1.5 10.3-1.6 10.4-1.5 10.3-1.6 10.4-1.5 10.3-1.6 10.4-1.5 10.3-1.6 10.4-1.6 10.3-1.6 10.4-1.5 10.3-1.6 10.4-1.6 10.3-1.6 10.4-1.6 10.3-1.6 10.4-1.6 10.3-1.6 10.4-1.6 10.3-1.6 10.4-1.6 10.3-1.6 10.4-1.6 10.3-1.6 10.4-1.6 10.3-1.7 10.4-1.6 10.3-1.6 10.4-1.7 10.3-1.6 10.4-1.6 10.3-1.7 10.4-1.6 10.3-1.7 10.4-1.6 10.3-1.7 10.4-1.6 10.4-1.7 10.3-1.6 10.4-1.7 10.3-1.7 10.4-1.7 10.3-1.6 10.4-1.7 10.3-1.7 10.4-1.7 10.3-1.6 10.4-1.7 10.3-1.7 10.4-1.7 10.4-1.7 10.3-1.7 10.4-1.7 10.3-1.7 10.4-1.7"/>
<path stroke-width="1.58" d="M564 395.1l10.4-1.5 10.3-1.6 10.4-1.6 10.4-1.6 10.3-1.6 10.4-1.5 10.3-1.6 10.4-1.6 10.4-1.6 10.3-1.6 10.4-1.6 10.4-1.6 10.3-1.6 10.4-1.7 10.3-1.6 10.4-1.6 10.4-1.6 10.3-1.6 10.4-1.7 10.4-1.6 10.3-1.6 10.4-1.7 10.3-1.6 10.4-1.7 10.4-1.6 10.3-1.7 10.4-1.6 10.3-1.7 10.4-1.6 10.4-1.7 10.3-1.7 10.4-1.6 10.4-1.7 10.3-1.7 10.4-1.6 10.3-1.7 10.4-1.7 10.4-1.7 10.3-1.7 10.4-1.7 10.4-1.7 10.3-1.7 10.4-1.7 10.4-1.7 10.3-1.7 10.4-1.7 10.4-1.7 10.3-1.7 10.4-1.7 10.4-1.8 10.3-1.7 10.4-1.7 10.4-1.8 10.3-1.7 10.4-1.7 10.4-1.8 10.3-1.7 10.4-1.8 10.4-1.7 10.3-1.7 10.4-1.8 10.4-1.8 10.3-1.7 10.4-1.8 10.4-1.7 10.4-1.8 10.3-1.8 10.4-1.8 10.4-1.7 10.4-1.8 10.3-1.8 10.4-1.8 10.4-1.8 10.4-1.8 10.3-1.7 10.4-1.8 10.4-1.8 10.4-1.8 10.4-1.8 10.3-1.8"/>
<path stroke-width="1.58" d="M568.7 403.1l10.4-1.7 10.4-1.7 10.3-1.6 10.4-1.7 10.4-1.7 10.3-1.7 10.4-1.7 10.4-1.7 10.3-1.7 10.4-1.7 10.4-1.7 10.4-1.8 10.3-1.7 10.4-1.7 10.4-1.7 10.3-1.7 10.4-1.8 10.4-1.7 10.3-1.7 10.4-1.8 10.4-1.7 10.4-1.8 10.3-1.7 10.4-1.8 10.4-1.7 10.4-1.8 10.3-1.7 10.4-1.8 10.4-1.7 10.3-1.8 10.4-1.8 10.4-1.8 10.4-1.7 10.3-1.8 10.4-1.8 10.4-1.8 10.4-1.8 10.4-1.8 10.3-1.7 10.4-1.8 10.4-1.8 10.4-1.8 10.3-1.8 10.4-1.9 10.4-1.8 10.4-1.8 10.4-1.8 10.3-1.8 10.4-1.8 10.4-1.9 10.4-1.8 10.4-1.8 10.4-1.8 10.3-1.9 10.4-1.8 10.4-1.9 10.4-1.8 10.4-1.8 10.4-1.9 10.4-1.8 10.4-1.9 10.3-1.9 10.4-1.8 10.4-1.9 10.4-1.8 10.4-1.9 10.4-1.9 10.4-1.8 10.4-1.9 10.4-1.9 10.4-1.9 10.4-1.9 10.4-1.8 10.4-1.9 10.4-1.9 10.4-1.9 10.4-1.9 10.4-1.9 10.4-1.9 10.4-1.9"/>
<path stroke-width="1.57" d="M573.4 411.1l10.4-1.7 10.4-1.8 10.4-1.8 10.3-1.8 10.4-1.8 10.4-1.8 10.4-1.8 10.3-1.8 10.4-1.9 10.4-1.8 10.4-1.8 10.3-1.8 10.4-1.8 10.4-1.9 10.4-1.8 10.4-1.8 10.3-1.9 10.4-1.8 10.4-1.8 10.4-1.9 10.4-1.8 10.3-1.9 10.4-1.8 10.4-1.9 10.4-1.8 10.4-1.9 10.4-1.9 10.3-1.8 10.4-1.9 10.4-1.9 10.4-1.9 10.4-1.8 10.4-1.9 10.4-1.9 10.4-1.9 10.3-1.9 10.4-1.9 10.4-1.9 10.4-1.9 10.4-1.8 10.4-2 10.4-1.9 10.4-1.9 10.4-1.9 10.4-1.9 10.4-1.9 10.4-1.9 10.4-1.9 10.4-2 10.4-1.9 10.4-1.9 10.4-1.9 10.4-2 10.4-1.9 10.4-2 10.4-1.9 10.4-1.9 10.4-2 10.4-1.9 10.4-2 10.4-1.9 10.4-2 10.4-2 10.4-1.9 10.5-2 10.4-2 10.4-1.9 10.4-2 10.4-2 10.4-1.9 10.5-2 10.4-2 10.4-2 10.4-2 10.4-2 10.5-2 10.4-2 10.4-2 10.4-1.9 10.5-2.1"/>
<path stroke-width="1.57" d="M578.1 419.3l10.4-1.9 10.4-1.9 10.4-1.9 10.4-2 10.4-1.9 10.3-1.9 10.4-1.9 10.4-1.9 10.4-1.9 10.4-2 10.4-1.9 10.3-1.9 10.4-1.9 10.4-2 10.4-1.9 10.4-2 10.4-1.9 10.4-1.9 10.4-2 10.3-1.9 10.4-2 10.4-1.9 10.4-2 10.4-2 10.4-1.9 10.4-2 10.4-2 10.4-1.9 10.4-2 10.4-2 10.4-2 10.4-2 10.4-1.9 10.4-2 10.4-2 10.4-2 10.4-2 10.4-2 10.4-2 10.4-2 10.4-2 10.4-2 10.4-2 10.5-2 10.4-2.1 10.4-2 10.4-2 10.4-2 10.4-2 10.4-2.1 10.4-2 10.5-2 10.4-2.1 10.4-2 10.4-2.1 10.4-2 10.5-2 10.4-2.1 10.4-2 10.4-2.1 10.5-2 10.4-2.1 10.4-2.1 10.5-2 10.4-2.1 10.4-2.1 10.5-2 10.4-2.1 10.4-2.1 10.5-2.1 10.4-2 10.5-2.1 10.4-2.1 10.4-2.1 10.5-2.1 10.4-2.1 10.5-2.1 10.4-2 10.5-2.1 10.4-2.1"/>
<path stroke-width="1.57" d="M582.9 427.4l10.3-2 10.4-2 10.4-2 10.4-2 10.4-2 10.4-2.1 10.4-2 10.4-2 10.4-2 10.3-2.1 10.4-2 10.4-2 10.4-2.1 10.4-2 10.4-2.1 10.4-2 10.4-2.1 10.4-2 10.4-2.1 10.4-2 10.4-2.1 10.4-2.1 10.4-2 10.4-2.1 10.4-2.1 10.4-2 10.4-2.1 10.4-2.1 10.5-2.1 10.4-2 10.4-2.1 10.4-2.1 10.4-2.1 10.4-2.1 10.4-2.1 10.4-2.1 10.5-2.1 10.4-2.1 10.4-2.1 10.4-2.1 10.4-2.1 10.5-2.1 10.4-2.1 10.4-2.2 10.4-2.1 10.5-2.1 10.4-2.1 10.4-2.2 10.5-2.1 10.4-2.1 10.4-2.1 10.5-2.2 10.4-2.1 10.4-2.2 10.5-2.1 10.4-2.2 10.5-2.1 10.4-2.1 10.4-2.2 10.5-2.2 10.4-2.1 10.5-2.2 10.4-2.1 10.5-2.2 10.4-2.2 10.5-2.1 10.4-2.2 10.5-2.2 10.5-2.1 10.4-2.2 10.5-2.2 10.4-2.2 10.5-2.2 10.5-2.1 10.4-2.2 10.5-2.2 10.5-2.2 10.4-2.2 10.5-2.2 10.5-2.2"/>
<path stroke-width="1.57" d="M587.6 435.7l10.4-2.2 10.4-2.1 10.4-2.1 10.3-2.1 10.4-2.2 10.4-2.1 10.4-2.1 10.4-2.2 10.4-2.1 10.4-2.1 10.4-2.2 10.4-2.1 10.4-2.2 10.4-2.1 10.4-2.2 10.4-2.1 10.4-2.2 10.5-2.1 10.4-2.2 10.4-2.2 10.4-2.1 10.4-2.2 10.4-2.2 10.4-2.2 10.4-2.1 10.5-2.2 10.4-2.2 10.4-2.2 10.4-2.2 10.4-2.2 10.5-2.1 10.4-2.2 10.4-2.2 10.4-2.2 10.5-2.2 10.4-2.2 10.4-2.2 10.5-2.2 10.4-2.3 10.4-2.2 10.5-2.2 10.4-2.2 10.4-2.2 10.5-2.2 10.4-2.3 10.5-2.2 10.4-2.2 10.5-2.2 10.4-2.3 10.5-2.2 10.4-2.2 10.5-2.3 10.4-2.2 10.5-2.3 10.4-2.2 10.5-2.3 10.4-2.2 10.5-2.3 10.5-2.2 10.4-2.3 10.5-2.2 10.5-2.3 10.4-2.2 10.5-2.3 10.5-2.3 10.5-2.2 10.4-2.3 10.5-2.3 10.5-2.3 10.5-2.2 10.4-2.3 10.5-2.3 10.5-2.3 10.5-2.3 10.5-2.3 10.5-2.2 10.5-2.3 10.5-2.3 10.5-2.3 10.5-2.3"/>
<path stroke-width="1.56" d="M592.3 444l10.4-2.3 10.4-2.2 10.4-2.2 10.4-2.3 10.4-2.2 10.4-2.2 10.4-2.3 10.4-2.2 10.4-2.3 10.4-2.2 10.4-2.3 10.4-2.2 10.4-2.3 10.4-2.3 10.4-2.2 10.5-2.3 10.4-2.2 10.4-2.3 10.4-2.3 10.4-2.3 10.5-2.2 10.4-2.3 10.4-2.3 10.4-2.3 10.5-2.2 10.4-2.3 10.4-2.3 10.4-2.3 10.5-2.3 10.4-2.3 10.4-2.3 10.5-2.3 10.4-2.3 10.5-2.3 10.4-2.3 10.4-2.3 10.5-2.3 10.4-2.3 10.5-2.4 10.4-2.3 10.5-2.3 10.4-2.3 10.5-2.3 10.4-2.4 10.5-2.3 10.5-2.3 10.4-2.3 10.5-2.4 10.5-2.3 10.4-2.4 10.5-2.3 10.5-2.3 10.4-2.4 10.5-2.3 10.5-2.4 10.5-2.3 10.4-2.4 10.5-2.3 10.5-2.4 10.5-2.3 10.5-2.4 10.4-2.4 10.5-2.3 10.5-2.4 10.5-2.4 10.5-2.3 10.5-2.4 10.5-2.4 10.5-2.3 10.5-2.4 10.5-2.4 10.5-2.4 10.5-2.4 10.5-2.4 10.6-2.3 10.5-2.4 10.5-2.4 10.5-2.4 10.5-2.4 10.5-2.4"/>
<path stroke-width="1.56" d="M597 452.3l10.4-2.3 10.4-2.4 10.4-2.3 10.4-2.3 10.4-2.4 10.4-2.3 10.4-2.4 10.4-2.3 10.5-2.4 10.4-2.4 10.4-2.3 10.4-2.4 10.4-2.4 10.4-2.3 10.5-2.4 10.4-2.4 10.4-2.3 10.4-2.4 10.5-2.4 10.4-2.4 10.4-2.4 10.5-2.3 10.4-2.4 10.4-2.4 10.5-2.4 10.4-2.4 10.4-2.4 10.5-2.4 10.4-2.4 10.5-2.4 10.4-2.4 10.5-2.4 10.4-2.4 10.5-2.4 10.4-2.4 10.5-2.4 10.4-2.5 10.5-2.4 10.5-2.4 10.4-2.4 10.5-2.4 10.5-2.5 10.4-2.4 10.5-2.4 10.5-2.5 10.5-2.4 10.4-2.4 10.5-2.5 10.5-2.4 10.5-2.4 10.5-2.5 10.5-2.4 10.4-2.5 10.5-2.4 10.5-2.5 10.5-2.4 10.5-2.5 10.5-2.4 10.5-2.5 10.5-2.5 10.5-2.4 10.5-2.5 10.5-2.5 10.6-2.4 10.5-2.5 10.5-2.5 10.5-2.4 10.5-2.5 10.5-2.5 10.6-2.5 10.5-2.4 10.5-2.5 10.6-2.5 10.5-2.5 10.5-2.5 10.6-2.5 10.5-2.5 10.5-2.5 10.6-2.5 10.5-2.4"/>
<path stroke-width="1.56" d="M601.7 460.8l10.4-2.5 10.4-2.4 10.4-2.5 10.4-2.5 10.5-2.4 10.4-2.5 10.4-2.4 10.4-2.5 10.4-2.5 10.4-2.4 10.5-2.5 10.4-2.5 10.4-2.5 10.4-2.4 10.5-2.5 10.4-2.5 10.4-2.5 10.5-2.5 10.4-2.4 10.5-2.5 10.4-2.5 10.4-2.5 10.5-2.5 10.4-2.5 10.5-2.5 10.4-2.5 10.5-2.5 10.4-2.5 10.5-2.5 10.4-2.5 10.5-2.5 10.5-2.6 10.4-2.5 10.5-2.5 10.5-2.5 10.4-2.5 10.5-2.5 10.5-2.6 10.5-2.5 10.4-2.5 10.5-2.5 10.5-2.6 10.5-2.5 10.5-2.5 10.5-2.6 10.5-2.5 10.4-2.6 10.5-2.5 10.5-2.5 10.5-2.6 10.5-2.5 10.5-2.6 10.6-2.5 10.5-2.6 10.5-2.5 10.5-2.6 10.5-2.6 10.5-2.5 10.5-2.6 10.6-2.5 10.5-2.6 10.5-2.6 10.5-2.5 10.6-2.6 10.5-2.6 10.5-2.6 10.6-2.5 10.5-2.6 10.6-2.6 10.5-2.6 10.6-2.5 10.5-2.6 10.6-2.6 10.5-2.6 10.6-2.6 10.5-2.6 10.6-2.6 10.6-2.6 10.5-2.6 10.6-2.6"/>
<path stroke-width="1.55" d="M606.4 469.3l10.4-2.6 10.4-2.6 10.5-2.5 10.4-2.6 10.4-2.6 10.4-2.5 10.4-2.6 10.5-2.6 10.4-2.6 10.4-2.5 10.4-2.6 10.5-2.6 10.4-2.6 10.4-2.6 10.5-2.6 10.4-2.6 10.5-2.5 10.4-2.6 10.5-2.6 10.4-2.6 10.5-2.6 10.4-2.6 10.5-2.6 10.4-2.6 10.5-2.7 10.4-2.6 10.5-2.6 10.5-2.6 10.4-2.6 10.5-2.6 10.5-2.6 10.5-2.6 10.4-2.7 10.5-2.6 10.5-2.6 10.5-2.6 10.5-2.7 10.5-2.6 10.4-2.6 10.5-2.7 10.5-2.6 10.5-2.6 10.5-2.7 10.5-2.6 10.5-2.7 10.6-2.6 10.5-2.6 10.5-2.7 10.5-2.6 10.5-2.7 10.5-2.6 10.5-2.7 10.6-2.7 10.5-2.6 10.5-2.7 10.6-2.6 10.5-2.7 10.5-2.6 10.6-2.7 10.5-2.7 10.6-2.6 10.5-2.7 10.6-2.7 10.5-2.7 10.6-2.6 10.5-2.7 10.6-2.7 10.5-2.7 10.6-2.6 10.6-2.7 10.5-2.7 10.6-2.7 10.6-2.7 10.6-2.7 10.6-2.7 10.5-2.6 10.6-2.7 10.6-2.7 10.6-2.7 10.6-2.7"/>
<path stroke-width="1.55" d="M611.1 477.8l10.4-2.6 10.5-2.7 10.4-2.7 10.4-2.7 10.4-2.7 10.5-2.6 10.4-2.7 10.4-2.7 10.4-2.7 10.5-2.7 10.4-2.7 10.5-2.7 10.4-2.7 10.4-2.7 10.5-2.7 10.4-2.7 10.5-2.7 10.4-2.7 10.5-2.7 10.5-2.7 10.4-2.7 10.5-2.7 10.5-2.7 10.4-2.7 10.5-2.7 10.5-2.8 10.4-2.7 10.5-2.7 10.5-2.7 10.5-2.7 10.5-2.8 10.5-2.7 10.4-2.7 10.5-2.7 10.5-2.8 10.5-2.7 10.5-2.7 10.5-2.8 10.5-2.7 10.5-2.8 10.6-2.7 10.5-2.7 10.5-2.8 10.5-2.7 10.5-2.8 10.5-2.7 10.6-2.8 10.5-2.7 10.5-2.8 10.6-2.7 10.5-2.8 10.5-2.8 10.6-2.7 10.5-2.8 10.6-2.7 10.5-2.8 10.6-2.8 10.5-2.7 10.6-2.8 10.6-2.8 10.5-2.7 10.6-2.8 10.6-2.8 10.5-2.8 10.6-2.7 10.6-2.8 10.6-2.8 10.5-2.8 10.6-2.8 10.6-2.7 10.6-2.8 10.6-2.8 10.6-2.8 10.6-2.8 10.6-2.8 10.6-2.8 10.6-2.8 10.7-2.7 10.6-2.8 10.6-2.8"/>
<path stroke-width="1.54" d="M615.8 486.5l10.5-2.8 10.4-2.8 10.4-2.8 10.4-2.8 10.5-2.8 10.4-2.8 10.4-2.8 10.5-2.8 10.4-2.8 10.4-2.8 10.5-2.8 10.4-2.8 10.5-2.8 10.4-2.8 10.5-2.8 10.5-2.8 10.4-2.8 10.5-2.8 10.5-2.8 10.4-2.9 10.5-2.8 10.5-2.8 10.4-2.8 10.5-2.8 10.5-2.9 10.5-2.8 10.5-2.8 10.5-2.8 10.5-2.9 10.4-2.8 10.5-2.8 10.5-2.9 10.5-2.8 10.6-2.8 10.5-2.9 10.5-2.8 10.5-2.9 10.5-2.8 10.5-2.9 10.5-2.8 10.6-2.9 10.5-2.8 10.5-2.8 10.6-2.9 10.5-2.9 10.5-2.8 10.6-2.9 10.5-2.8 10.6-2.9 10.5-2.8 10.6-2.9 10.5-2.9 10.6-2.8 10.6-2.9 10.5-2.9 10.6-2.8 10.6-2.9 10.5-2.9 10.6-2.8 10.6-2.9 10.6-2.9 10.6-2.9 10.6-2.8 10.6-2.9 10.6-2.9 10.6-2.9 10.6-2.9 10.6-2.8 10.6-2.9 10.6-2.9 10.6-2.9 10.6-2.9 10.6-2.9 10.7-2.9 10.6-2.9 10.6-2.8 10.7-2.9 10.6-2.9 10.6-2.9 10.7-2.9"/>
<path stroke-width="1.54" d="M620.5 495.2l10.5-2.9 10.4-2.9 10.4-2.9 10.5-2.9 10.4-2.9 10.4-2.9 10.5-3 10.4-2.9 10.5-2.9 10.4-2.9 10.5-2.9 10.4-2.9 10.5-2.9 10.4-2.9 10.5-3 10.5-2.9 10.4-2.9 10.5-2.9 10.5-3 10.5-2.9 10.5-2.9 10.4-2.9 10.5-3 10.5-2.9 10.5-2.9 10.5-3 10.5-2.9 10.5-2.9 10.5-3 10.5-2.9 10.5-3 10.5-2.9 10.6-2.9 10.5-3 10.5-2.9 10.5-3 10.5-2.9 10.6-3 10.5-2.9 10.5-3 10.6-2.9 10.5-3 10.6-3 10.5-2.9 10.6-3 10.5-2.9 10.6-3 10.6-3 10.5-2.9 10.6-3 10.6-3 10.5-2.9 10.6-3 10.6-3 10.6-2.9 10.6-3 10.6-3 10.6-3 10.6-2.9 10.6-3 10.6-3 10.6-3 10.6-2.9 10.6-3 10.6-3 10.6-3 10.6-3 10.7-3 10.6-2.9 10.6-3 10.7-3 10.6-3 10.7-3 10.6-3 10.7-3 10.6-3 10.7-3 10.6-3 10.7-3 10.7-3"/>
<path stroke-width="1.54" d="M625.2 503.9l10.5-3 10.4-3 10.4-3 10.5-3 10.4-3 10.5-3.1 10.4-3 10.5-3 10.4-3 10.5-3 10.4-3.1 10.5-3 10.5-3 10.4-3 10.5-3.1 10.5-3 10.5-3 10.4-3.1 10.5-3 10.5-3 10.5-3.1 10.5-3 10.5-3.1 10.5-3 10.5-3 10.5-3.1 10.5-3 10.5-3.1 10.6-3 10.5-3.1 10.5-3 10.5-3.1 10.6-3 10.5-3.1 10.5-3 10.6-3.1 10.5-3.1 10.5-3 10.6-3.1 10.5-3 10.6-3.1 10.6-3.1 10.5-3 10.6-3.1 10.6-3 10.5-3.1 10.6-3.1 10.6-3 10.6-3.1 10.6-3.1 10.5-3.1 10.6-3 10.6-3.1 10.6-3.1 10.6-3.1 10.6-3 10.6-3.1 10.7-3.1 10.6-3.1 10.6-3.1 10.6-3 10.7-3.1 10.6-3.1 10.6-3.1 10.7-3.1 10.6-3.1 10.6-3.1 10.7-3 10.6-3.1 10.7-3.1 10.7-3.1 10.6-3.1 10.7-3.1 10.7-3.1 10.6-3.1 10.7-3.1 10.7-3.1 10.7-3.1 10.7-3.1 10.7-3.1"/>
<path stroke-width="1.53" d="M629.9 512.8l10.5-3.2 10.4-3.1 10.5-3.1 10.4-3.1 10.4-3.2 10.5-3.1 10.5-3.1 10.4-3.2 10.5-3.1 10.4-3.1 10.5-3.2 10.5-3.1 10.5-3.1 10.4-3.2 10.5-3.1 10.5-3.2 10.5-3.1 10.5-3.2 10.5-3.1 10.5-3.1 10.5-3.2 10.5-3.1 10.5-3.2 10.5-3.1 10.5-3.2 10.5-3.2 10.6-3.1 10.5-3.2 10.5-3.1 10.5-3.2 10.6-3.1 10.5-3.2 10.6-3.2 10.5-3.1 10.5-3.2 10.6-3.1 10.6-3.2 10.5-3.2 10.6-3.1 10.5-3.2 10.6-3.2 10.6-3.1 10.6-3.2 10.5-3.2 10.6-3.2 10.6-3.1 10.6-3.2 10.6-3.2 10.6-3.2 10.6-3.1 10.6-3.2 10.6-3.2 10.6-3.2 10.7-3.2 10.6-3.1 10.6-3.2 10.6-3.2 10.7-3.2 10.6-3.2 10.6-3.2 10.7-3.1 10.6-3.2 10.7-3.2 10.6-3.2 10.7-3.2 10.7-3.2 10.6-3.2 10.7-3.2 10.7-3.2 10.7-3.2 10.6-3.2 10.7-3.2 10.7-3.1 10.7-3.2 10.7-3.2 10.7-3.2 10.7-3.2 10.7-3.2 10.7-3.2 10.8-3.2"/>
<path stroke-width="1.53" d="M634.6 521.7l10.5-3.3 10.4-3.2 10.5-3.2 10.4-3.3 10.5-3.2 10.4-3.3 10.5-3.2 10.5-3.3 10.4-3.2 10.5-3.3 10.5-3.2 10.5-3.3 10.4-3.2 10.5-3.3 10.5-3.2 10.5-3.3 10.5-3.2 10.5-3.3 10.5-3.2 10.5-3.3 10.5-3.2 10.5-3.3 10.6-3.3 10.5-3.2 10.5-3.3 10.5-3.3 10.6-3.2 10.5-3.3 10.6-3.3 10.5-3.2 10.5-3.3 10.6-3.3 10.6-3.2 10.5-3.3 10.6-3.3 10.5-3.2 10.6-3.3 10.6-3.3 10.6-3.3 10.5-3.2 10.6-3.3 10.6-3.3 10.6-3.3 10.6-3.2 10.6-3.3 10.6-3.3 10.6-3.3 10.6-3.3 10.7-3.3 10.6-3.2 10.6-3.3 10.6-3.3 10.7-3.3 10.6-3.3 10.6-3.3 10.7-3.3 10.6-3.2 10.7-3.3 10.6-3.3 10.7-3.3 10.7-3.3 10.6-3.3 10.7-3.3 10.7-3.3 10.7-3.3 10.6-3.3 10.7-3.3 10.7-3.3 10.7-3.3 10.7-3.3 10.7-3.3 10.7-3.3 10.8-3.3 10.7-3.3 10.7-3.3 10.7-3.3 10.8-3.3 10.7-3.3 10.7-3.3 10.8-3.3"/>
<path stroke-width="1.52" d="M639.3 530.6l10.5-3.3 10.4-3.4 10.5-3.3 10.4-3.4 10.5-3.3 10.5-3.4 10.4-3.3 10.5-3.4 10.5-3.4 10.5-3.3 10.4-3.4 10.5-3.3 10.5-3.4 10.5-3.4 10.5-3.3 10.5-3.4 10.5-3.4 10.5-3.3 10.5-3.4 10.6-3.4 10.5-3.3 10.5-3.4 10.5-3.4 10.6-3.4 10.5-3.3 10.6-3.4 10.5-3.4 10.5-3.4 10.6-3.3 10.6-3.4 10.5-3.4 10.6-3.4 10.5-3.3 10.6-3.4 10.6-3.4 10.6-3.4 10.6-3.4 10.5-3.3 10.6-3.4 10.6-3.4 10.6-3.4 10.6-3.4 10.7-3.4 10.6-3.4 10.6-3.3 10.6-3.4 10.6-3.4 10.7-3.4 10.6-3.4 10.6-3.4 10.7-3.4 10.6-3.4 10.7-3.4 10.6-3.4 10.7-3.3 10.6-3.4 10.7-3.4 10.7-3.4 10.7-3.4 10.6-3.4 10.7-3.4 10.7-3.4 10.7-3.4 10.7-3.4 10.7-3.4 10.7-3.4 10.7-3.4 10.7-3.4 10.8-3.4 10.7-3.4 10.7-3.4 10.7-3.4 10.8-3.4 10.7-3.4 10.8-3.4 10.7-3.4 10.8-3.4 10.7-3.4 10.8-3.4 10.8-3.5"/>
<path stroke-width="1.52" d="M644 539.7l10.5-3.5 10.4-3.4 10.5-3.5 10.5-3.5 10.4-3.5 10.5-3.4 10.5-3.5 10.4-3.5 10.5-3.4 10.5-3.5 10.5-3.5 10.5-3.5 10.5-3.4 10.5-3.5 10.5-3.5 10.5-3.5 10.5-3.4 10.6-3.5 10.5-3.5 10.5-3.5 10.5-3.5 10.6-3.5 10.5-3.4 10.6-3.5 10.5-3.5 10.6-3.5 10.5-3.5 10.6-3.5 10.5-3.4 10.6-3.5 10.6-3.5 10.6-3.5 10.5-3.5 10.6-3.5 10.6-3.5 10.6-3.5 10.6-3.5 10.6-3.4 10.6-3.5 10.6-3.5 10.6-3.5 10.7-3.5 10.6-3.5 10.6-3.5 10.7-3.5 10.6-3.5 10.6-3.5 10.7-3.5 10.6-3.5 10.7-3.5 10.7-3.5 10.6-3.5 10.7-3.5 10.7-3.5 10.6-3.5 10.7-3.5 10.7-3.5 10.7-3.5 10.7-3.5 10.7-3.5 10.7-3.5 10.7-3.5 10.7-3.5 10.7-3.5 10.8-3.5 10.7-3.5 10.7-3.5 10.8-3.5 10.7-3.5 10.8-3.5 10.7-3.5 10.8-3.5 10.7-3.5 10.8-3.6 10.8-3.5 10.7-3.5 10.8-3.5 10.8-3.5 10.8-3.5 10.8-3.5"/>
<path stroke-width="1.52" d="M648.7 548.8l10.5-3.6 10.4-3.6 10.5-3.5 10.5-3.6 10.4-3.6 10.5-3.6 10.5-3.6 10.5-3.6 10.5-3.6 10.5-3.5 10.5-3.6 10.5-3.6 10.5-3.6 10.5-3.6 10.5-3.6 10.5-3.6 10.5-3.6 10.6-3.6 10.5-3.6 10.5-3.5 10.6-3.6 10.5-3.6 10.6-3.6 10.5-3.6 10.6-3.6 10.6-3.6 10.5-3.6 10.6-3.6 10.6-3.6 10.6-3.6 10.5-3.6 10.6-3.6 10.6-3.6 10.6-3.6 10.6-3.6 10.6-3.6 10.7-3.6 10.6-3.6 10.6-3.6 10.6-3.6 10.7-3.6 10.6-3.6 10.6-3.6 10.7-3.6 10.6-3.6 10.7-3.6 10.6-3.6 10.7-3.6 10.7-3.6 10.6-3.6 10.7-3.6 10.7-3.6 10.7-3.7 10.7-3.6 10.7-3.6 10.7-3.6 10.7-3.6 10.7-3.6 10.7-3.6 10.7-3.6 10.8-3.6 10.7-3.6 10.7-3.6 10.8-3.6 10.7-3.6 10.8-3.7 10.7-3.6 10.8-3.6 10.7-3.6 10.8-3.6 10.8-3.6 10.8-3.6 10.8-3.6 10.7-3.6 10.8-3.6 10.8-3.7 10.8-3.6 10.8-3.6 10.9-3.6 10.8-3.6"/>
<path stroke-width="1.51" d="M653.4 558l10.5-3.7 10.4-3.7 10.5-3.7 10.5-3.7 10.5-3.7 10.4-3.7 10.5-3.7 10.5-3.7 10.5-3.7 10.5-3.7 10.5-3.7 10.5-3.7 10.6-3.7 10.5-3.7 10.5-3.7 10.5-3.7 10.6-3.7 10.5-3.7 10.5-3.7 10.6-3.7 10.5-3.7 10.6-3.8 10.6-3.7 10.5-3.7 10.6-3.7 10.6-3.7 10.5-3.7 10.6-3.7 10.6-3.7 10.6-3.7 10.6-3.7 10.6-3.7 10.6-3.7 10.6-3.7 10.7-3.8 10.6-3.7 10.6-3.7 10.6-3.7 10.7-3.7 10.6-3.7 10.7-3.7 10.6-3.7 10.7-3.7 10.6-3.8 10.7-3.7 10.7-3.7 10.6-3.7 10.7-3.7 10.7-3.7 10.7-3.7 10.7-3.7 10.7-3.8 10.7-3.7 10.7-3.7 10.7-3.7 10.8-3.7 10.7-3.7 10.7-3.7 10.7-3.8 10.8-3.7 10.7-3.7 10.8-3.7 10.7-3.7 10.8-3.7 10.8-3.7 10.7-3.8 10.8-3.7 10.8-3.7 10.8-3.7 10.8-3.7 10.8-3.7 10.8-3.7 10.8-3.8 10.8-3.7 10.8-3.7 10.8-3.7 10.9-3.7 10.8-3.7 10.8-3.7 10.9-3.8"/>
<path stroke-width="1.51" d="M658.1 567.2l10.5-3.8 10.4-3.8 10.5-3.8 10.5-3.8 10.5-3.8 10.5-3.8 10.5-3.9 10.5-3.8 10.5-3.8 10.5-3.8 10.5-3.8 10.5-3.8 10.5-3.9 10.6-3.8 10.5-3.8 10.5-3.8 10.6-3.8 10.5-3.8 10.6-3.9 10.5-3.8 10.6-3.8 10.6-3.8 10.5-3.8 10.6-3.8 10.6-3.9 10.6-3.8 10.6-3.8 10.6-3.8 10.6-3.8 10.6-3.9 10.6-3.8 10.6-3.8 10.6-3.8 10.6-3.8 10.7-3.9 10.6-3.8 10.7-3.8 10.6-3.8 10.7-3.8 10.6-3.9 10.7-3.8 10.6-3.8 10.7-3.8 10.7-3.8 10.7-3.9 10.7-3.8 10.7-3.8 10.6-3.8 10.8-3.9 10.7-3.8 10.7-3.8 10.7-3.8 10.7-3.8 10.7-3.9 10.8-3.8 10.7-3.8 10.8-3.8 10.7-3.8 10.8-3.9 10.7-3.8 10.8-3.8 10.8-3.8 10.8-3.8 10.7-3.9 10.8-3.8 10.8-3.8 10.8-3.8 10.8-3.9 10.8-3.8 10.8-3.8 10.9-3.8 10.8-3.8 10.8-3.8 10.9-3.9 10.8-3.8 10.9-3.8 10.8-3.8 10.9-3.8 10.8-3.9 10.9-3.8"/>
<path stroke-width="1.5" d="M662.8 576.6l10.4-4 10.5-3.9 10.5-3.9 10.5-4 10.5-3.9 10.5-3.9 10.5-4 10.5-3.9 10.5-3.9 10.5-3.9 10.5-4 10.6-3.9 10.5-3.9 10.5-4 10.6-3.9 10.5-3.9 10.6-4 10.5-3.9 10.6-3.9 10.6-3.9 10.5-4 10.6-3.9 10.6-3.9 10.6-4 10.6-3.9 10.6-3.9 10.6-4 10.6-3.9 10.6-3.9 10.6-4 10.6-3.9 10.7-3.9 10.6-4 10.6-3.9 10.7-3.9 10.6-3.9 10.7-4 10.7-3.9 10.6-3.9 10.7-4 10.7-3.9 10.7-3.9 10.6-4 10.7-3.9 10.7-3.9 10.7-4 10.8-3.9 10.7-3.9 10.7-3.9 10.7-4 10.7-3.9 10.8-3.9 10.7-4 10.8-3.9 10.7-3.9 10.8-3.9 10.8-4 10.7-3.9 10.8-3.9 10.8-4 10.8-3.9 10.8-3.9 10.8-3.9 10.8-4 10.8-3.9 10.8-3.9 10.8-3.9 10.8-4 10.9-3.9 10.8-3.9 10.9-3.9 10.8-4 10.9-3.9 10.8-3.9 10.9-3.9 10.9-4 10.8-3.9 10.9-3.9 10.9-3.9 10.9-4"/>
<path stroke-width="1.5" d="M667.5 585.9l10.4-4 10.5-4 10.5-4.1 10.5-4 10.5-4.1 10.5-4 10.5-4.1 10.5-4 10.5-4.1 10.6-4 10.5-4.1 10.5-4 10.6-4 10.5-4.1 10.6-4 10.5-4.1 10.6-4 10.5-4.1 10.6-4 10.6-4.1 10.6-4 10.6-4 10.6-4.1 10.6-4 10.6-4.1 10.6-4 10.6-4.1 10.6-4 10.6-4 10.7-4.1 10.6-4 10.6-4.1 10.7-4 10.6-4.1 10.7-4 10.7-4 10.6-4.1 10.7-4 10.7-4.1 10.7-4 10.7-4.1 10.7-4 10.7-4 10.7-4.1 10.7-4 10.7-4.1 10.8-4 10.7-4 10.7-4.1 10.8-4 10.7-4 10.8-4.1 10.7-4 10.8-4.1 10.8-4 10.8-4 10.7-4.1 10.8-4 10.8-4 10.8-4.1 10.8-4 10.9-4 10.8-4.1 10.8-4 10.8-4 10.9-4.1 10.8-4 10.9-4 10.8-4.1 10.9-4 10.8-4 10.9-4.1 10.9-4 10.9-4 10.9-4.1 10.9-4 10.9-4 10.9-4 10.9-4.1 10.9-4"/>
<path stroke-width="1.49" d="M672.1 595.4l10.5-4.2 10.5-4.1 10.5-4.2 10.5-4.1 10.5-4.2 10.5-4.2 10.5-4.1 10.5-4.2 10.6-4.1 10.5-4.2 10.5-4.2 10.6-4.1 10.5-4.2 10.6-4.1 10.5-4.2 10.6-4.2 10.6-4.1 10.6-4.2 10.5-4.1 10.6-4.2 10.6-4.2 10.6-4.1 10.6-4.2 10.6-4.1 10.6-4.2 10.7-4.1 10.6-4.2 10.6-4.2 10.7-4.1 10.6-4.2 10.7-4.1 10.6-4.2 10.7-4.1 10.6-4.2 10.7-4.1 10.7-4.2 10.7-4.1 10.7-4.2 10.7-4.2 10.7-4.1 10.7-4.2 10.7-4.1 10.7-4.2 10.7-4.1 10.8-4.2 10.7-4.1 10.8-4.2 10.7-4.1 10.8-4.2 10.7-4.1 10.8-4.1 10.8-4.2 10.7-4.1 10.8-4.2 10.8-4.1 10.8-4.2 10.8-4.1 10.8-4.2 10.9-4.1 10.8-4.2 10.8-4.1 10.8-4.1 10.9-4.2 10.8-4.1 10.9-4.2 10.8-4.1 10.9-4.1 10.9-4.2 10.9-4.1 10.8-4.2 10.9-4.1 10.9-4.1 10.9-4.2 10.9-4.1 11-4.1 10.9-4.2 10.9-4.1 10.9-4.1 11-4.2 10.9-4.1"/>
<path stroke-width="1.49" d="M676.8 604.9l10.5-4.2 10.5-4.3 10.5-4.3 10.5-4.3 10.5-4.3 10.5-4.2 10.5-4.3 10.6-4.3 10.5-4.3 10.5-4.2 10.6-4.3 10.5-4.3 10.6-4.3 10.6-4.2 10.5-4.3 10.6-4.3 10.6-4.3 10.6-4.2 10.6-4.3 10.5-4.3 10.7-4.3 10.6-4.2 10.6-4.3 10.6-4.3 10.6-4.2 10.7-4.3 10.6-4.3 10.6-4.2 10.7-4.3 10.6-4.3 10.7-4.3 10.7-4.2 10.7-4.3 10.6-4.3 10.7-4.2 10.7-4.3 10.7-4.2 10.7-4.3 10.7-4.3 10.8-4.2 10.7-4.3 10.7-4.3 10.7-4.2 10.8-4.3 10.7-4.2 10.8-4.3 10.7-4.3 10.8-4.2 10.8-4.3 10.8-4.2 10.8-4.3 10.8-4.3 10.7-4.2 10.9-4.3 10.8-4.2 10.8-4.3 10.8-4.2 10.8-4.3 10.9-4.2 10.8-4.3 10.9-4.2 10.8-4.3 10.9-4.2 10.9-4.3 10.8-4.2 10.9-4.3 10.9-4.2 10.9-4.3 10.9-4.2 10.9-4.2 10.9-4.3 10.9-4.2 11-4.3 10.9-4.2 10.9-4.3 11-4.2 10.9-4.2 11-4.3 11-4.2 11-4.2"/>
<path stroke-width="1.48" d="M681.5 614.5l10.5-4.4 10.5-4.4 10.5-4.4 10.5-4.4 10.5-4.3 10.5-4.4 10.6-4.4 10.5-4.4 10.5-4.4 10.6-4.4 10.5-4.4 10.6-4.4 10.6-4.4 10.5-4.4 10.6-4.4 10.6-4.4 10.6-4.3 10.6-4.4 10.6-4.4 10.6-4.4 10.6-4.4 10.6-4.4 10.6-4.4 10.7-4.3 10.6-4.4 10.6-4.4 10.7-4.4 10.7-4.4 10.6-4.4 10.7-4.3 10.7-4.4 10.6-4.4 10.7-4.4 10.7-4.4 10.7-4.3 10.7-4.4 10.8-4.4 10.7-4.4 10.7-4.3 10.7-4.4 10.8-4.4 10.7-4.4 10.8-4.3 10.7-4.4 10.8-4.4 10.8-4.3 10.7-4.4 10.8-4.4 10.8-4.4 10.8-4.3 10.8-4.4 10.8-4.4 10.9-4.3 10.8-4.4 10.8-4.3 10.8-4.4 10.9-4.4 10.8-4.3 10.9-4.4 10.9-4.4 10.8-4.3 10.9-4.4 10.9-4.3 10.9-4.4 10.9-4.3 10.9-4.4 10.9-4.3 10.9-4.4 10.9-4.3 11-4.4 10.9-4.3 11-4.4 10.9-4.3 11-4.4 10.9-4.3 11-4.4 11-4.3 11-4.4 11-4.3 11-4.3"/>
<path stroke-width="1.48" d="M686.2 624.2l10.5-4.5 10.5-4.5 10.5-4.5 10.5-4.6 10.5-4.5 10.5-4.5 10.6-4.5 10.5-4.5 10.6-4.5 10.5-4.5 10.6-4.5 10.5-4.5 10.6-4.5 10.6-4.5 10.6-4.5 10.6-4.5 10.6-4.6 10.6-4.5 10.6-4.5 10.6-4.5 10.6-4.5 10.6-4.5 10.7-4.5 10.6-4.5 10.7-4.5 10.6-4.5 10.7-4.5 10.7-4.4 10.6-4.5 10.7-4.5 10.7-4.5 10.7-4.5 10.7-4.5 10.7-4.5 10.7-4.5 10.8-4.5 10.7-4.5 10.7-4.5 10.8-4.5 10.7-4.4 10.8-4.5 10.7-4.5 10.8-4.5 10.8-4.5 10.8-4.5 10.7-4.4 10.8-4.5 10.8-4.5 10.9-4.5 10.8-4.5 10.8-4.4 10.8-4.5 10.9-4.5 10.8-4.5 10.9-4.4 10.8-4.5 10.9-4.5 10.8-4.4 10.9-4.5 10.9-4.5 10.9-4.4 10.9-4.5 10.9-4.5 10.9-4.4 10.9-4.5 11-4.5 10.9-4.4 10.9-4.5 11-4.4 10.9-4.5 11-4.5 11-4.4 10.9-4.5 11-4.4 11-4.5 11-4.4 11-4.5 11-4.4 11.1-4.5 11-4.4"/>
<path stroke-width="1.47" d="M690.8 633.9l10.5-4.6 10.5-4.6 10.6-4.7 10.5-4.6 10.5-4.6 10.5-4.6 10.6-4.7 10.5-4.6 10.6-4.6 10.5-4.6 10.6-4.7 10.6-4.6 10.6-4.6 10.5-4.6 10.6-4.7 10.6-4.6 10.7-4.6 10.6-4.6 10.6-4.6 10.6-4.7 10.6-4.6 10.7-4.6 10.6-4.6 10.7-4.6 10.6-4.6 10.7-4.6 10.7-4.6 10.7-4.7 10.7-4.6 10.7-4.6 10.7-4.6 10.7-4.6 10.7-4.6 10.7-4.6 10.7-4.6 10.8-4.6 10.7-4.6 10.8-4.6 10.7-4.6 10.8-4.6 10.8-4.6 10.7-4.6 10.8-4.6 10.8-4.6 10.8-4.6 10.8-4.6 10.8-4.6 10.9-4.6 10.8-4.5 10.8-4.6 10.9-4.6 10.8-4.6 10.9-4.6 10.8-4.6 10.9-4.6 10.9-4.5 10.9-4.6 10.8-4.6 10.9-4.6 10.9-4.6 11-4.5 10.9-4.6 10.9-4.6 10.9-4.5 11-4.6 10.9-4.6 11-4.6 11-4.5 10.9-4.6 11-4.6 11-4.5 11-4.6 11-4.5 11-4.6 11-4.6 11-4.5 11.1-4.6 11-4.5 11-4.6 11.1-4.5"/>
<path stroke-width="1.47" d="M695.5 643.8l10.5-4.8 10.5-4.7 10.5-4.8 10.6-4.7 10.5-4.8 10.5-4.7 10.6-4.8 10.5-4.7 10.6-4.8 10.6-4.7 10.5-4.8 10.6-4.7 10.6-4.7 10.6-4.8 10.6-4.7 10.6-4.7 10.6-4.8 10.7-4.7 10.6-4.7 10.6-4.8 10.7-4.7 10.6-4.7 10.7-4.8 10.6-4.7 10.7-4.7 10.7-4.8 10.7-4.7 10.7-4.7 10.7-4.7 10.7-4.8 10.7-4.7 10.7-4.7 10.8-4.7 10.7-4.7 10.7-4.7 10.8-4.8 10.7-4.7 10.8-4.7 10.8-4.7 10.8-4.7 10.7-4.7 10.8-4.7 10.8-4.7 10.9-4.7 10.8-4.8 10.8-4.7 10.8-4.7 10.9-4.7 10.8-4.7 10.9-4.7 10.8-4.7 10.9-4.7 10.9-4.6 10.8-4.7 10.9-4.7 10.9-4.7 10.9-4.7 10.9-4.7 11-4.7 10.9-4.7 10.9-4.7 11-4.6 10.9-4.7 11-4.7 10.9-4.7 11-4.7 11-4.6 11-4.7 11-4.7 11-4.7 11-4.6 11-4.7 11-4.7 11.1-4.6 11-4.7 11-4.7 11.1-4.6 11.1-4.7 11-4.7 11.1-4.6"/>
<path stroke-width="1.46" d="M700.2 653.6l10.5-4.8 10.5-4.9 10.5-4.9 10.6-4.8 10.5-4.9 10.5-4.9 10.6-4.8 10.6-4.9 10.5-4.8 10.6-4.9 10.6-4.9 10.6-4.8 10.6-4.9 10.6-4.8 10.6-4.9 10.6-4.8 10.6-4.9 10.7-4.8 10.6-4.9 10.6-4.8 10.7-4.9 10.7-4.8 10.6-4.9 10.7-4.8 10.7-4.9 10.7-4.8 10.7-4.9 10.7-4.8 10.7-4.8 10.7-4.9 10.7-4.8 10.8-4.8 10.7-4.9 10.8-4.8 10.7-4.8 10.8-4.9 10.8-4.8 10.7-4.8 10.8-4.8 10.8-4.9 10.8-4.8 10.8-4.8 10.9-4.8 10.8-4.8 10.8-4.9 10.9-4.8 10.8-4.8 10.9-4.8 10.8-4.8 10.9-4.8 10.9-4.8 10.9-4.8 10.9-4.9 10.9-4.8 10.9-4.8 10.9-4.8 10.9-4.8 10.9-4.8 11-4.8 10.9-4.8 11-4.7 10.9-4.8 11-4.8 11-4.8 11-4.8 11-4.8 11-4.8 11-4.8 11-4.8 11-4.7 11.1-4.8 11-4.8 11.1-4.8 11-4.7 11.1-4.8 11.1-4.8 11-4.8 11.1-4.7 11.1-4.8 11.1-4.8"/>
<path stroke-width="1.46" d="M704.8 663.6l10.5-5 10.6-5 10.5-5 10.5-4.9 10.6-5 10.5-5 10.6-5 10.6-5 10.5-5 10.6-4.9 10.6-5 10.6-5 10.6-5 10.6-4.9 10.6-5 10.7-5 10.6-4.9 10.6-5 10.7-5 10.7-4.9 10.6-5 10.7-5 10.7-4.9 10.7-5 10.7-5 10.7-4.9 10.7-5 10.7-4.9 10.7-5 10.7-4.9 10.8-5 10.7-4.9 10.8-5 10.8-4.9 10.7-5 10.8-4.9 10.8-4.9 10.8-5 10.8-4.9 10.8-5 10.8-4.9 10.8-4.9 10.9-5 10.8-4.9 10.9-4.9 10.8-5 10.9-4.9 10.9-4.9 10.8-4.9 10.9-4.9 10.9-5 10.9-4.9 11-4.9 10.9-4.9 10.9-4.9 10.9-4.9 11-5 10.9-4.9 11-4.9 11-4.9 10.9-4.9 11-4.9 11-4.9 11-4.9 11-4.9 11.1-4.9 11-4.9 11-4.9 11.1-4.9 11-4.8 11.1-4.9 11-4.9 11.1-4.9 11.1-4.9 11.1-4.9 11.1-4.8 11.1-4.9 11.1-4.9 11.1-4.9 11.2-4.8"/>
<path stroke-width="1.45" d="M709.5 673.6l10.5-5.1 10.5-5.1 10.6-5.1 10.5-5.1 10.6-5.1 10.5-5.1 10.6-5.1 10.6-5.1 10.5-5.1 10.6-5.1 10.6-5.1 10.6-5.1 10.7-5.1 10.6-5.1 10.6-5.1 10.6-5 10.7-5.1 10.6-5.1 10.7-5.1 10.7-5.1 10.6-5.1 10.7-5 10.7-5.1 10.7-5.1 10.7-5.1 10.7-5 10.7-5.1 10.8-5.1 10.7-5.1 10.8-5 10.7-5.1 10.8-5 10.8-5.1 10.7-5.1 10.8-5 10.8-5.1 10.8-5 10.8-5.1 10.8-5 10.9-5.1 10.8-5 10.8-5.1 10.9-5 10.9-5.1 10.8-5 10.9-5.1 10.9-5 10.9-5 10.9-5.1 10.9-5 10.9-5 10.9-5.1 10.9-5 11-5 10.9-5.1 11-5 11-5 10.9-5 11-5 11-5.1 11-5 11-5 11-5 11-5 11.1-5 11-5 11.1-5 11-5 11.1-5 11.1-5 11-5 11.1-5 11.1-5 11.1-5 11.2-5 11.1-5 11.1-5 11.2-4.9 11.1-5 11.2-5"/>
<path stroke-width="1.44" d="M714.1 683.7l10.6-5.2 10.5-5.2 10.5-5.2 10.6-5.3 10.5-5.2 10.6-5.2 10.6-5.2 10.6-5.3 10.6-5.2 10.6-5.2 10.6-5.2 10.6-5.2 10.6-5.2 10.6-5.2 10.7-5.2 10.6-5.2 10.7-5.3 10.6-5.2 10.7-5.2 10.7-5.2 10.6-5.2 10.7-5.1 10.7-5.2 10.8-5.2 10.7-5.2 10.7-5.2 10.7-5.2 10.8-5.2 10.7-5.2 10.8-5.2 10.8-5.1 10.7-5.2 10.8-5.2 10.8-5.2 10.8-5.1 10.8-5.2 10.8-5.2 10.9-5.1 10.8-5.2 10.8-5.2 10.9-5.1 10.8-5.2 10.9-5.2 10.9-5.1 10.9-5.2 10.9-5.1 10.9-5.2 10.9-5.1 10.9-5.2 10.9-5.1 10.9-5.2 11-5.1 10.9-5.1 11-5.2 11-5.1 10.9-5.2 11-5.1 11-5.1 11-5.2 11-5.1 11.1-5.1 11-5.1 11-5.1 11.1-5.2 11-5.1 11.1-5.1 11.1-5.1 11-5.1 11.1-5.1 11.1-5.1 11.1-5.1 11.2-5.1 11.1-5.1 11.1-5.1 11.2-5.1 11.1-5.1 11.2-5.1 11.1-5.1 11.2-5.1 11.2-5.1"/>
<path stroke-width="1.44" d="M718.8 693.9l10.5-5.3 10.6-5.4 10.5-5.3 10.6-5.4 10.5-5.3 10.6-5.4 10.6-5.3 10.6-5.3 10.6-5.4 10.6-5.3 10.6-5.3 10.6-5.4 10.6-5.3 10.7-5.3 10.6-5.4 10.7-5.3 10.6-5.3 10.7-5.3 10.7-5.3 10.7-5.4 10.7-5.3 10.7-5.3 10.7-5.3 10.7-5.3 10.7-5.3 10.8-5.3 10.7-5.3 10.8-5.3 10.7-5.3 10.8-5.3 10.8-5.3 10.8-5.3 10.8-5.3 10.8-5.3 10.8-5.3 10.8-5.3 10.8-5.3 10.9-5.2 10.8-5.3 10.9-5.3 10.9-5.3 10.8-5.3 10.9-5.2 10.9-5.3 10.9-5.3 10.9-5.2 10.9-5.3 11-5.3 10.9-5.2 10.9-5.3 11-5.2 11-5.3 10.9-5.2 11-5.3 11-5.2 11-5.3 11-5.2 11-5.3 11-5.2 11.1-5.3 11-5.2 11.1-5.2 11-5.3 11.1-5.2 11.1-5.2 11.1-5.2 11.1-5.3 11.1-5.2 11.1-5.2 11.1-5.2 11.1-5.2 11.2-5.2 11.1-5.3 11.2-5.2 11.1-5.2 11.2-5.2 11.2-5.2 11.2-5.2 11.2-5.2 11.2-5.2"/>
<path stroke-width="1.43" d="M723.4 704.2l10.6-5.5 10.5-5.5 10.6-5.5 10.5-5.4 10.6-5.5 10.6-5.4 10.6-5.5 10.6-5.5 10.6-5.4 10.6-5.5 10.6-5.4 10.6-5.5 10.7-5.4 10.6-5.5 10.7-5.4 10.6-5.4 10.7-5.5 10.7-5.4 10.7-5.5 10.7-5.4 10.7-5.4 10.7-5.5 10.7-5.4 10.7-5.4 10.8-5.4 10.7-5.5 10.8-5.4 10.8-5.4 10.7-5.4 10.8-5.4 10.8-5.4 10.8-5.5 10.8-5.4 10.8-5.4 10.9-5.4 10.8-5.4 10.9-5.4 10.8-5.4 10.9-5.4 10.8-5.4 10.9-5.4 10.9-5.3 10.9-5.4 10.9-5.4 10.9-5.4 11-5.4 10.9-5.4 11-5.3 10.9-5.4 11-5.4 10.9-5.3 11-5.4 11-5.4 11-5.3 11-5.4 11-5.4 11.1-5.3 11-5.4 11-5.3 11.1-5.4 11.1-5.3 11-5.4 11.1-5.3 11.1-5.3 11.1-5.4 11.1-5.3 11.1-5.4 11.2-5.3 11.1-5.3 11.2-5.3 11.1-5.4 11.2-5.3 11.1-5.3 11.2-5.3 11.2-5.3 11.2-5.3 11.2-5.4 11.3-5.3 11.2-5.3 11.2-5.3"/>
<path stroke-width="1.43" d="M728.1 714.5l10.5-5.6 10.6-5.6 10.5-5.6 10.6-5.6 10.6-5.6 10.6-5.5 10.5-5.6 10.6-5.6 10.7-5.6 10.6-5.6 10.6-5.5 10.6-5.6 10.7-5.6 10.6-5.5 10.7-5.6 10.7-5.6 10.7-5.5 10.6-5.6 10.7-5.5 10.8-5.6 10.7-5.5 10.7-5.6 10.7-5.5 10.8-5.6 10.7-5.5 10.8-5.5 10.8-5.6 10.7-5.5 10.8-5.6 10.8-5.5 10.8-5.5 10.8-5.5 10.9-5.6 10.8-5.5 10.8-5.5 10.9-5.5 10.9-5.5 10.8-5.5 10.9-5.6 10.9-5.5 10.9-5.5 10.9-5.5 10.9-5.5 10.9-5.5 11-5.5 10.9-5.5 11-5.5 10.9-5.5 11-5.4 11-5.5 11-5.5 11-5.5 11-5.5 11-5.4 11-5.5 11.1-5.5 11-5.5 11.1-5.4 11.1-5.5 11-5.4 11.1-5.5 11.1-5.5 11.1-5.4 11.1-5.5 11.2-5.4 11.1-5.5 11.1-5.4 11.2-5.4 11.1-5.5 11.2-5.4 11.2-5.5 11.2-5.4 11.2-5.4 11.2-5.4 11.2-5.5 11.2-5.4 11.3-5.4 11.2-5.4 11.3-5.4 11.2-5.4"/>
<path stroke-width="1.42" d="M732.7 724.9l10.6-5.7 10.5-5.8 10.6-5.7 10.6-5.7 10.5-5.7 10.6-5.7 10.6-5.7 10.6-5.7 10.7-5.7 10.6-5.7 10.6-5.7 10.7-5.6 10.6-5.7 10.7-5.7 10.6-5.7 10.7-5.7 10.7-5.7 10.7-5.6 10.7-5.7 10.7-5.7 10.8-5.7 10.7-5.6 10.8-5.7 10.7-5.6 10.8-5.7 10.7-5.7 10.8-5.6 10.8-5.7 10.8-5.6 10.8-5.7 10.8-5.6 10.9-5.7 10.8-5.6 10.9-5.6 10.8-5.7 10.9-5.6 10.9-5.6 10.9-5.7 10.8-5.6 11-5.6 10.9-5.6 10.9-5.7 10.9-5.6 11-5.6 10.9-5.6 11-5.6 11-5.6 10.9-5.6 11-5.6 11-5.6 11-5.6 11.1-5.6 11-5.6 11-5.6 11.1-5.6 11-5.6 11.1-5.5 11.1-5.6 11.1-5.6 11.1-5.6 11.1-5.5 11.1-5.6 11.1-5.6 11.1-5.5 11.2-5.6 11.1-5.5 11.2-5.6 11.2-5.6 11.2-5.5 11.2-5.6 11.2-5.5 11.2-5.5 11.2-5.6 11.3-5.5 11.2-5.5 11.2-5.6 11.3-5.5 11.3-5.5 11.3-5.5 11.3-5.6"/>
<path stroke-width="1.42" d="M737.4 735.3l10.5-5.8 10.6-5.8 10.5-5.9 10.6-5.8 10.6-5.8 10.6-5.8 10.6-5.9 10.6-5.8 10.6-5.8 10.7-5.8 10.6-5.8 10.7-5.8 10.6-5.8 10.7-5.8 10.7-5.8 10.7-5.8 10.7-5.8 10.7-5.8 10.7-5.8 10.7-5.8 10.8-5.8 10.7-5.8 10.8-5.8 10.7-5.8 10.8-5.7 10.8-5.8 10.8-5.8 10.8-5.8 10.8-5.7 10.8-5.8 10.9-5.8 10.8-5.7 10.9-5.8 10.8-5.7 10.9-5.8 10.9-5.7 10.9-5.8 10.9-5.7 10.9-5.8 10.9-5.7 10.9-5.7 11-5.8 10.9-5.7 11-5.7 11-5.8 10.9-5.7 11-5.7 11-5.7 11-5.7 11-5.8 11.1-5.7 11-5.7 11.1-5.7 11-5.7 11.1-5.7 11.1-5.7 11.1-5.7 11.1-5.7 11.1-5.6 11.1-5.7 11.1-5.7 11.2-5.7 11.1-5.7 11.2-5.6 11.1-5.7 11.2-5.7 11.2-5.7 11.2-5.6 11.2-5.7 11.2-5.6 11.3-5.7 11.2-5.6 11.2-5.7 11.3-5.6 11.3-5.7 11.3-5.6 11.3-5.7 11.3-5.6 11.3-5.6 11.3-5.6"/>
<path stroke-width="1.41" d="M742 745.9l10.6-6 10.5-5.9 10.6-6 10.6-5.9 10.6-6 10.6-5.9 10.6-6 10.6-5.9 10.6-6 10.7-5.9 10.6-5.9 10.7-6 10.7-5.9 10.6-5.9 10.7-5.9 10.7-5.9 10.7-6 10.7-5.9 10.8-5.9 10.7-5.9 10.8-5.9 10.7-5.9 10.8-5.9 10.8-5.9 10.7-5.9 10.8-5.9 10.9-5.9 10.8-5.9 10.8-5.9 10.8-5.9 10.9-5.8 10.8-5.9 10.9-5.9 10.9-5.9 10.9-5.8 10.9-5.9 10.9-5.9 10.9-5.8 10.9-5.9 10.9-5.8 11-5.9 10.9-5.8 11-5.9 11-5.8 11-5.9 11-5.8 11-5.8 11-5.9 11-5.8 11.1-5.8 11-5.9 11.1-5.8 11-5.8 11.1-5.8 11.1-5.8 11.1-5.8 11.1-5.8 11.1-5.8 11.2-5.8 11.1-5.8 11.2-5.8 11.1-5.8 11.2-5.8 11.2-5.8 11.2-5.8 11.2-5.8 11.2-5.8 11.2-5.7 11.2-5.8 11.3-5.8 11.2-5.7 11.3-5.8 11.3-5.8 11.3-5.7 11.3-5.8 11.3-5.7 11.3-5.8 11.3-5.7 11.4-5.7 11.3-5.8"/>
<path stroke-width="1.41" d="M746.6 756.5l10.6-6.1 10.6-6.1 10.5-6 10.6-6.1 10.6-6.1 10.6-6 10.7-6.1 10.6-6.1 10.6-6 10.7-6.1 10.6-6 10.7-6.1 10.7-6 10.7-6.1 10.7-6 10.7-6.1 10.7-6 10.7-6 10.7-6.1 10.8-6 10.7-6 10.8-6.1 10.8-6 10.8-6 10.8-6 10.8-6 10.8-6 10.8-6 10.9-6 10.8-6 10.9-6 10.9-6 10.8-6 10.9-6 10.9-6 10.9-6 11-6 10.9-6 10.9-5.9 11-6 10.9-6 11-5.9 11-6 11-6 11-5.9 11-6 11-5.9 11.1-6 11-5.9 11.1-6 11.1-5.9 11-5.9 11.1-6 11.1-5.9 11.1-5.9 11.1-5.9 11.2-6 11.1-5.9 11.2-5.9 11.1-5.9 11.2-5.9 11.2-5.9 11.2-5.9 11.2-5.9 11.2-5.9 11.2-5.9 11.3-5.9 11.2-5.9 11.3-5.9 11.2-5.8 11.3-5.9 11.3-5.9 11.3-5.9 11.3-5.8 11.3-5.9 11.4-5.9 11.3-5.8 11.4-5.9 11.3-5.8 11.4-5.9"/>
<path stroke-width="1.4" d="M751.3 767.2l10.5-6.2 10.6-6.2 10.6-6.2 10.6-6.2 10.6-6.2 10.6-6.2 10.6-6.2 10.7-6.2 10.6-6.1 10.7-6.2 10.6-6.2 10.7-6.2 10.7-6.1 10.7-6.2 10.7-6.2 10.7-6.1 10.7-6.2 10.8-6.2 10.7-6.1 10.8-6.2 10.7-6.1 10.8-6.1 10.8-6.2 10.8-6.1 10.8-6.2 10.8-6.1 10.9-6.1 10.8-6.1 10.9-6.2 10.8-6.1 10.9-6.1 10.9-6.1 10.9-6.1 10.9-6.1 10.9-6.1 10.9-6.1 11-6.1 10.9-6.1 11-6.1 10.9-6.1 11-6.1 11-6.1 11-6.1 11-6 11-6.1 11.1-6.1 11-6 11.1-6.1 11-6.1 11.1-6 11.1-6.1 11.1-6 11.1-6.1 11.1-6 11.1-6.1 11.2-6 11.1-6 11.2-6.1 11.2-6 11.1-6 11.2-6 11.2-6.1 11.3-6 11.2-6 11.2-6 11.3-6 11.2-6 11.3-6 11.3-6 11.3-6 11.3-6 11.3-6 11.3-5.9 11.4-6 11.3-6 11.4-6 11.4-5.9 11.3-6 11.4-6 11.4-5.9"/>
<path stroke-width="1.39" d="M755.9 778l10.6-6.4 10.5-6.3 10.6-6.3 10.6-6.3 10.6-6.4 10.7-6.3 10.6-6.3 10.6-6.3 10.7-6.3 10.6-6.3 10.7-6.3 10.7-6.3 10.7-6.3 10.7-6.3 10.7-6.2 10.7-6.3 10.8-6.3 10.7-6.3 10.8-6.3 10.7-6.2 10.8-6.3 10.8-6.3 10.8-6.2 10.8-6.3 10.8-6.2 10.9-6.3 10.8-6.2 10.9-6.3 10.8-6.2 10.9-6.3 10.9-6.2 10.9-6.2 10.9-6.2 10.9-6.3 10.9-6.2 11-6.2 10.9-6.2 11-6.2 11-6.3 11-6.2 11-6.2 11-6.2 11-6.2 11-6.1 11-6.2 11.1-6.2 11.1-6.2 11-6.2 11.1-6.2 11.1-6.1 11.1-6.2 11.1-6.2 11.2-6.1 11.1-6.2 11.1-6.1 11.2-6.2 11.2-6.1 11.2-6.2 11.2-6.1 11.2-6.2 11.2-6.1 11.2-6.1 11.2-6.2 11.3-6.1 11.3-6.1 11.2-6.1 11.3-6.1 11.3-6.2 11.3-6.1 11.3-6.1 11.4-6.1 11.3-6.1 11.4-6.1 11.3-6 11.4-6.1 11.4-6.1 11.4-6.1 11.4-6.1 11.4-6 11.5-6.1"/>
<path stroke-width="1.39" d="M760.5 788.8l10.6-6.5 10.6-6.4 10.6-6.5 10.6-6.4 10.6-6.4 10.6-6.5 10.6-6.4 10.7-6.4 10.6-6.5 10.7-6.4 10.7-6.4 10.7-6.4 10.7-6.4 10.7-6.4 10.7-6.5 10.8-6.4 10.7-6.4 10.8-6.4 10.7-6.3 10.8-6.4 10.8-6.4 10.8-6.4 10.8-6.4 10.8-6.4 10.9-6.3 10.8-6.4 10.9-6.4 10.8-6.3 10.9-6.4 10.9-6.4 10.9-6.3 10.9-6.4 10.9-6.3 11-6.4 10.9-6.3 11-6.3 10.9-6.4 11-6.3 11-6.3 11-6.3 11-6.4 11-6.3 11.1-6.3 11-6.3 11.1-6.3 11-6.3 11.1-6.3 11.1-6.3 11.1-6.3 11.1-6.3 11.1-6.3 11.2-6.3 11.1-6.2 11.2-6.3 11.2-6.3 11.1-6.2 11.2-6.3 11.2-6.3 11.2-6.2 11.3-6.3 11.2-6.2 11.3-6.3 11.2-6.2 11.3-6.3 11.3-6.2 11.3-6.2 11.3-6.2 11.3-6.3 11.3-6.2 11.4-6.2 11.3-6.2 11.4-6.2 11.4-6.2 11.4-6.2 11.4-6.2 11.4-6.2 11.4-6.2 11.5-6.2 11.4-6.2 11.5-6.2"/>
<path stroke-width="1.38" d="M765.1 799.7l10.6-6.6 10.6-6.5 10.6-6.6 10.6-6.6 10.6-6.5 10.7-6.6 10.6-6.6 10.7-6.5 10.6-6.6 10.7-6.5 10.7-6.5 10.7-6.6 10.7-6.5 10.7-6.6 10.7-6.5 10.8-6.5 10.7-6.5 10.8-6.6 10.8-6.5 10.8-6.5 10.8-6.5 10.8-6.5 10.8-6.5 10.8-6.5 10.9-6.5 10.8-6.5 10.9-6.5 10.9-6.4 10.9-6.5 10.9-6.5 10.9-6.5 10.9-6.4 10.9-6.5 11-6.5 11-6.4 10.9-6.5 11-6.4 11-6.5 11-6.4 11-6.5 11-6.4 11.1-6.4 11-6.5 11.1-6.4 11.1-6.4 11.1-6.4 11.1-6.5 11.1-6.4 11.1-6.4 11.1-6.4 11.2-6.4 11.1-6.4 11.2-6.4 11.2-6.4 11.2-6.4 11.2-6.3 11.2-6.4 11.2-6.4 11.2-6.4 11.3-6.3 11.2-6.4 11.3-6.4 11.3-6.3 11.3-6.4 11.3-6.3 11.3-6.4 11.4-6.3 11.3-6.3 11.4-6.4 11.3-6.3 11.4-6.3 11.4-6.3 11.4-6.4 11.4-6.3 11.5-6.3 11.4-6.3 11.4-6.3 11.5-6.3 11.5-6.3 11.5-6.3"/>
<path stroke-width="1.38" d="M769.7 810.7l10.6-6.7 10.6-6.7 10.6-6.7 10.6-6.7 10.7-6.7 10.6-6.7 10.6-6.6 10.7-6.7 10.7-6.7 10.7-6.7 10.7-6.6 10.7-6.7 10.7-6.6 10.7-6.7 10.8-6.6 10.7-6.7 10.8-6.6 10.7-6.7 10.8-6.6 10.8-6.6 10.8-6.7 10.9-6.6 10.8-6.6 10.8-6.6 10.9-6.7 10.9-6.6 10.8-6.6 10.9-6.6 10.9-6.6 10.9-6.6 11-6.6 10.9-6.6 11-6.6 10.9-6.5 11-6.6 11-6.6 11-6.6 11-6.5 11-6.6 11-6.5 11.1-6.6 11-6.6 11.1-6.5 11.1-6.5 11.1-6.6 11.1-6.5 11.1-6.6 11.1-6.5 11.2-6.5 11.1-6.5 11.2-6.5 11.2-6.6 11.1-6.5 11.2-6.5 11.3-6.5 11.2-6.5 11.2-6.5 11.3-6.5 11.2-6.4 11.3-6.5 11.3-6.5 11.3-6.5 11.3-6.4 11.3-6.5 11.3-6.5 11.4-6.4 11.3-6.5 11.4-6.4 11.4-6.5 11.4-6.4 11.4-6.5 11.4-6.4 11.4-6.4 11.5-6.5 11.4-6.4 11.5-6.4 11.5-6.4 11.5-6.4 11.5-6.4 11.5-6.4"/>
<path stroke-width="1.37" d="M774.4 821.8l10.5-6.9 10.6-6.8 10.6-6.8 10.7-6.8 10.6-6.8 10.6-6.8 10.7-6.8 10.7-6.8 10.6-6.8 10.7-6.8 10.7-6.8 10.7-6.8 10.8-6.8 10.7-6.8 10.8-6.7 10.7-6.8 10.8-6.8 10.8-6.7 10.8-6.8 10.8-6.8 10.8-6.7 10.8-6.8 10.9-6.7 10.8-6.7 10.9-6.8 10.9-6.7 10.9-6.7 10.9-6.8 10.9-6.7 10.9-6.7 11-6.7 10.9-6.7 11-6.7 11-6.7 10.9-6.7 11-6.7 11.1-6.7 11-6.7 11-6.7 11.1-6.7 11-6.6 11.1-6.7 11.1-6.7 11.1-6.6 11.1-6.7 11.1-6.6 11.1-6.7 11.2-6.6 11.1-6.7 11.2-6.6 11.2-6.6 11.2-6.7 11.2-6.6 11.2-6.6 11.3-6.6 11.2-6.7 11.3-6.6 11.2-6.6 11.3-6.6 11.3-6.6 11.3-6.6 11.3-6.5 11.4-6.6 11.3-6.6 11.4-6.6 11.3-6.6 11.4-6.5 11.4-6.6 11.4-6.6 11.4-6.5 11.5-6.6 11.4-6.5 11.5-6.6 11.4-6.5 11.5-6.5 11.5-6.6 11.5-6.5 11.5-6.5 11.6-6.5 11.5-6.5"/>
<path stroke-width="1.36" d="M779 832.9l10.5-6.9 10.7-7 10.6-6.9 10.6-7 10.6-6.9 10.7-6.9 10.6-7 10.7-6.9 10.7-6.9 10.7-6.9 10.7-7 10.7-6.9 10.8-6.9 10.7-6.9 10.8-6.9 10.7-6.9 10.8-6.8 10.8-6.9 10.8-6.9 10.8-6.9 10.9-6.9 10.8-6.8 10.9-6.9 10.8-6.9 10.9-6.8 10.9-6.9 10.9-6.8 10.9-6.9 10.9-6.8 11-6.8 10.9-6.9 11-6.8 11-6.8 11-6.9 11-6.8 11-6.8 11-6.8 11.1-6.8 11-6.8 11.1-6.8 11.1-6.8 11-6.8 11.1-6.8 11.2-6.7 11.1-6.8 11.1-6.8 11.2-6.8 11.1-6.7 11.2-6.8 11.2-6.7 11.2-6.8 11.2-6.7 11.3-6.8 11.2-6.7 11.2-6.7 11.3-6.8 11.3-6.7 11.3-6.7 11.3-6.7 11.3-6.8 11.3-6.7 11.4-6.7 11.3-6.7 11.4-6.7 11.4-6.7 11.4-6.6 11.4-6.7 11.4-6.7 11.4-6.7 11.5-6.6 11.4-6.7 11.5-6.7 11.5-6.6 11.5-6.7 11.5-6.6 11.5-6.7 11.5-6.6 11.6-6.6 11.5-6.7 11.6-6.6"/>
<path stroke-width="1.36" d="M783.6 844.1l10.6-7.1 10.6-7 10.6-7.1 10.6-7.1 10.7-7 10.6-7.1 10.7-7 10.7-7.1 10.6-7 10.8-7.1 10.7-7 10.7-7 10.7-7.1 10.8-7 10.8-7 10.7-7 10.8-7 10.8-7.1 10.8-7 10.9-7 10.8-7 10.9-6.9 10.8-7 10.9-7 10.9-7 10.9-7 10.9-6.9 11-7 10.9-7 10.9-6.9 11-7 11-6.9 11-7 11-6.9 11-7 11-6.9 11.1-6.9 11-6.9 11.1-7 11.1-6.9 11.1-6.9 11.1-6.9 11.1-6.9 11.1-6.9 11.2-6.9 11.1-6.9 11.2-6.9 11.2-6.9 11.2-6.8 11.2-6.9 11.2-6.9 11.3-6.8 11.2-6.9 11.3-6.9 11.2-6.8 11.3-6.8 11.3-6.9 11.3-6.8 11.4-6.9 11.3-6.8 11.3-6.8 11.4-6.8 11.4-6.8 11.4-6.9 11.4-6.8 11.4-6.8 11.4-6.8 11.5-6.8 11.4-6.7 11.5-6.8 11.5-6.8 11.5-6.8 11.5-6.8 11.5-6.7 11.5-6.8 11.6-6.7 11.6-6.8 11.5-6.7 11.6-6.8 11.6-6.7"/>
<path stroke-width="1.35" d="M788.2 855.4l10.6-7.2 10.6-7.2 10.6-7.2 10.6-7.2 10.7-7.2 10.6-7.1 10.7-7.2 10.7-7.2 10.7-7.2 10.7-7.1 10.7-7.2 10.8-7.2 10.7-7.1 10.8-7.2 10.8-7.1 10.7-7.1 10.8-7.2 10.9-7.1 10.8-7.1 10.8-7.2 10.9-7.1 10.8-7.1 10.9-7.1 10.9-7.1 10.9-7.1 10.9-7.1 10.9-7.1 11-7.1 10.9-7.1 11-7.1 11-7 11-7.1 11-7.1 11-7 11-7.1 11.1-7 11-7.1 11.1-7 11.1-7.1 11.1-7 11.1-7 11.1-7.1 11.2-7 11.1-7 11.2-7 11.1-7 11.2-7 11.2-7 11.3-7 11.2-7 11.2-7 11.3-7 11.2-7 11.3-6.9 11.3-7 11.3-7 11.3-6.9 11.4-7 11.3-6.9 11.4-7 11.4-6.9 11.4-6.9 11.4-7 11.4-6.9 11.4-6.9 11.4-6.9 11.5-7 11.5-6.9 11.4-6.9 11.5-6.9 11.5-6.9 11.6-6.8 11.5-6.9 11.5-6.9 11.6-6.9 11.6-6.8 11.6-6.9 11.6-6.9 11.6-6.8 11.6-6.9"/>
<path stroke-width="1.35" d="M792.8 866.8l10.6-7.3 10.6-7.4 10.6-7.3 10.6-7.3 10.7-7.3 10.7-7.3 10.6-7.3 10.7-7.3 10.7-7.3 10.8-7.3 10.7-7.3 10.7-7.3 10.8-7.3 10.8-7.2 10.7-7.3 10.8-7.3 10.8-7.2 10.9-7.3 10.8-7.2 10.9-7.3 10.8-7.2 10.9-7.3 10.9-7.2 10.9-7.2 10.9-7.3 10.9-7.2 11-7.2 10.9-7.2 11-7.2 11-7.2 11-7.2 11-7.2 11-7.2 11-7.2 11.1-7.1 11-7.2 11.1-7.2 11.1-7.2 11.1-7.1 11.1-7.2 11.1-7.1 11.2-7.2 11.1-7.1 11.2-7.1 11.2-7.2 11.2-7.1 11.2-7.1 11.2-7.1 11.2-7.2 11.3-7.1 11.2-7.1 11.3-7.1 11.3-7.1 11.3-7.1 11.3-7 11.3-7.1 11.4-7.1 11.3-7.1 11.4-7 11.4-7.1 11.4-7.1 11.4-7 11.4-7.1 11.4-7 11.5-7 11.5-7.1 11.4-7 11.5-7 11.5-7 11.6-7 11.5-7 11.5-7.1 11.6-6.9 11.6-7 11.6-7 11.6-7 11.6-7 11.6-7 11.7-6.9 11.6-7"/>
<path stroke-width="1.34" d="M797.3 878.2l10.6-7.4 10.7-7.5 10.6-7.4 10.6-7.5 10.7-7.4 10.7-7.4 10.7-7.5 10.7-7.4 10.7-7.4 10.7-7.4 10.7-7.4 10.8-7.5 10.8-7.4 10.7-7.4 10.8-7.3 10.8-7.4 10.9-7.4 10.8-7.4 10.8-7.4 10.9-7.3 10.9-7.4 10.8-7.4 10.9-7.3 11-7.4 10.9-7.3 10.9-7.4 11-7.3 10.9-7.3 11-7.4 11-7.3 11-7.3 11-7.3 11.1-7.3 11-7.3 11.1-7.3 11.1-7.3 11-7.3 11.1-7.3 11.2-7.3 11.1-7.3 11.1-7.2 11.2-7.3 11.2-7.3 11.1-7.2 11.2-7.3 11.3-7.2 11.2-7.3 11.2-7.2 11.3-7.2 11.2-7.3 11.3-7.2 11.3-7.2 11.3-7.2 11.3-7.2 11.4-7.2 11.3-7.2 11.4-7.2 11.4-7.2 11.4-7.2 11.4-7.2 11.4-7.1 11.4-7.2 11.5-7.2 11.4-7.1 11.5-7.2 11.5-7.1 11.5-7.2 11.5-7.1 11.5-7.1 11.6-7.2 11.6-7.1 11.5-7.1 11.6-7.1 11.6-7.1 11.6-7.1 11.7-7.1 11.6-7.1 11.7-7.1 11.6-7.1 11.7-7.1"/>
<path stroke-width="1.33" d="M801.9 889.8l10.6-7.6 10.7-7.6 10.6-7.6 10.7-7.6 10.6-7.5 10.7-7.6 10.7-7.5 10.7-7.6 10.7-7.5 10.7-7.6 10.8-7.5 10.7-7.5 10.8-7.6 10.8-7.5 10.8-7.5 10.8-7.5 10.8-7.5 10.9-7.5 10.8-7.5 10.9-7.5 10.9-7.5 10.9-7.5 10.9-7.5 10.9-7.5 11-7.4 10.9-7.5 11-7.5 11-7.4 11-7.5 11-7.4 11-7.5 11-7.4 11.1-7.4 11-7.5 11.1-7.4 11.1-7.4 11.1-7.4 11.1-7.4 11.1-7.4 11.2-7.4 11.1-7.4 11.2-7.4 11.2-7.4 11.2-7.3 11.2-7.4 11.3-7.4 11.2-7.3 11.3-7.4 11.2-7.4 11.3-7.3 11.3-7.3 11.3-7.4 11.4-7.3 11.3-7.3 11.4-7.4 11.3-7.3 11.4-7.3 11.4-7.3 11.4-7.3 11.5-7.3 11.4-7.3 11.5-7.3 11.4-7.2 11.5-7.3 11.5-7.3 11.5-7.2 11.5-7.3 11.6-7.3 11.5-7.2 11.6-7.2 11.6-7.3 11.6-7.2 11.6-7.2 11.6-7.3 11.7-7.2 11.7-7.2 11.6-7.2 11.7-7.2 11.7-7.2 11.7-7.2"/>
<path stroke-width="1.33" d="M806.5 901.4l10.6-7.8 10.7-7.7 10.6-7.7 10.7-7.7 10.6-7.7 10.7-7.6 10.7-7.7 10.7-7.7 10.7-7.7 10.8-7.6 10.7-7.7 10.8-7.7 10.8-7.6 10.8-7.7 10.8-7.6 10.8-7.7 10.8-7.6 10.9-7.6 10.9-7.6 10.8-7.7 10.9-7.6 10.9-7.6 11-7.6 10.9-7.6 10.9-7.6 11-7.6 11-7.6 11-7.5 11-7.6 11-7.6 11-7.5 11.1-7.6 11-7.6 11.1-7.5 11.1-7.5 11.1-7.6 11.1-7.5 11.2-7.5 11.1-7.6 11.2-7.5 11.2-7.5 11.1-7.5 11.2-7.5 11.3-7.5 11.2-7.5 11.2-7.5 11.3-7.5 11.3-7.4 11.3-7.5 11.3-7.5 11.3-7.4 11.3-7.5 11.4-7.4 11.3-7.5 11.4-7.4 11.4-7.5 11.4-7.4 11.4-7.4 11.5-7.4 11.4-7.4 11.5-7.4 11.5-7.5 11.5-7.3 11.5-7.4 11.5-7.4 11.5-7.4 11.6-7.4 11.6-7.4 11.5-7.3 11.6-7.4 11.7-7.3 11.6-7.4 11.6-7.3 11.7-7.4 11.6-7.3 11.7-7.3 11.7-7.3 11.8-7.4 11.7-7.3 11.7-7.3"/>
<path stroke-width="1.32" d="M811.1 913l10.6-7.8 10.6-7.8 10.7-7.9 10.6-7.8 10.7-7.8 10.7-7.8 10.7-7.8 10.7-7.8 10.8-7.8 10.7-7.8 10.8-7.8 10.7-7.8 10.8-7.8 10.8-7.8 10.9-7.7 10.8-7.8 10.8-7.8 10.9-7.7 10.9-7.8 10.9-7.7 10.9-7.7 10.9-7.8 10.9-7.7 11-7.7 10.9-7.8 11-7.7 11-7.7 11-7.7 11-7.7 11-7.7 11.1-7.7 11-7.6 11.1-7.7 11.1-7.7 11.1-7.6 11.1-7.7 11.2-7.7 11.1-7.6 11.2-7.7 11.2-7.6 11.2-7.6 11.2-7.7 11.2-7.6 11.2-7.6 11.3-7.6 11.2-7.6 11.3-7.6 11.3-7.6 11.3-7.6 11.3-7.6 11.4-7.6 11.3-7.5 11.4-7.6 11.4-7.6 11.4-7.5 11.4-7.6 11.4-7.5 11.5-7.6 11.4-7.5 11.5-7.5 11.5-7.6 11.5-7.5 11.5-7.5 11.6-7.5 11.5-7.5 11.6-7.5 11.5-7.5 11.6-7.5 11.6-7.5 11.7-7.4 11.6-7.5 11.7-7.5 11.6-7.4 11.7-7.5 11.7-7.4 11.7-7.5 11.7-7.4 11.8-7.4 11.7-7.5 11.8-7.4"/>
<path stroke-width="1.32" d="M815.7 924.8l10.6-8 10.6-7.9 10.7-8 10.6-7.9 10.7-8 10.7-7.9 10.7-8 10.7-7.9 10.8-7.9 10.7-8 10.8-7.9 10.8-7.9 10.8-7.9 10.8-7.9 10.8-7.9 10.9-7.9 10.8-7.9 10.9-7.8 10.9-7.9 10.9-7.9 10.9-7.9 10.9-7.8 11-7.9 10.9-7.8 11-7.9 11-7.8 11-7.8 11-7.9 11-7.8 11.1-7.8 11-7.8 11.1-7.8 11.1-7.8 11.1-7.8 11.1-7.8 11.1-7.8 11.2-7.7 11.2-7.8 11.1-7.8 11.2-7.7 11.2-7.8 11.3-7.8 11.2-7.7 11.3-7.7 11.2-7.8 11.3-7.7 11.3-7.7 11.3-7.7 11.4-7.7 11.3-7.7 11.4-7.7 11.3-7.7 11.4-7.7 11.4-7.7 11.5-7.7 11.4-7.7 11.4-7.6 11.5-7.7 11.5-7.6 11.5-7.7 11.5-7.6 11.5-7.7 11.6-7.6 11.5-7.6 11.6-7.7 11.6-7.6 11.6-7.6 11.6-7.6 11.6-7.6 11.7-7.6 11.6-7.6 11.7-7.5 11.7-7.6 11.7-7.6 11.8-7.5 11.7-7.6 11.8-7.5 11.7-7.6 11.8-7.5 11.8-7.6"/>
<path stroke-width="1.41" d="M441.2 209.8l4.7 6.4 4.7 6.4 4.8 6.5 4.7 6.5 4.7 6.6 4.7 6.7 4.8 6.7 4.7 6.8 4.7 6.9 4.7 6.9 4.8 7 4.7 7 4.7 7.1 4.7 7.1 4.8 7.2 4.7 7.3 4.7 7.4 4.7 7.4 4.8 7.4 4.7 7.5 4.7 7.6 4.7 7.7 4.7 7.7 4.8 7.8 4.7 7.8 4.7 7.9 4.7 8 4.7 8 4.7 8.2 4.8 8.1 4.7 8.3 4.7 8.3 4.7 8.3 4.7 8.5 4.7 8.5 4.7 8.5 4.7 8.7 4.7 8.7 4.7 8.7 4.7 8.9 4.7 8.9 4.7 8.9 4.7 9.1 4.7 9.1 4.7 9.2 4.7 9.2 4.7 9.4 4.7 9.3 4.6 9.5 4.7 9.5 4.7 9.6 4.7 9.7 4.6 9.7 4.7 9.9 4.7 9.8 4.6 10 4.7 10 4.6 10.1 4.7 10.2 4.6 10.3 4.7 10.3 4.6 10.4 4.7 10.4 4.6 10.6 4.6 10.6 4.7 10.7 4.6 10.8 4.6 10.8 4.6 10.9 4.6 11 4.7 11.1 4.6 11.1 4.6 11.2 4.6 11.3 4.6 11.4 4.5 11.4 4.6 11.6 4.6 11.6 4.6 11.6 4.6 11.8"/>
<path stroke-width="1.41" d="M451.4 210.9l4.8 6.3 4.7 6.3 4.7 6.4 4.7 6.5 4.8 6.5 4.7 6.5 4.7 6.7 4.8 6.6 4.7 6.8 4.7 6.8 4.7 6.9 4.8 6.9 4.7 7 4.7 7 4.8 7.1 4.7 7.2 4.7 7.2 4.7 7.3 4.8 7.4 4.7 7.4 4.7 7.5 4.8 7.5 4.7 7.7 4.7 7.6 4.7 7.8 4.8 7.8 4.7 7.8 4.7 8 4.7 8 4.7 8 4.8 8.1 4.7 8.2 4.7 8.3 4.7 8.3 4.7 8.4 4.7 8.5 4.8 8.5 4.7 8.6 4.7 8.6 4.7 8.7 4.7 8.8 4.7 8.9 4.7 8.9 4.7 9 4.7 9.1 4.7 9.1 4.6 9.2 4.7 9.3 4.7 9.3 4.7 9.5 4.7 9.4 4.7 9.6 4.6 9.6 4.7 9.7 4.7 9.8 4.6 9.8 4.7 9.9 4.7 10 4.6 10.1 4.7 10.1 4.6 10.2 4.7 10.3 4.6 10.3 4.7 10.4 4.6 10.5 4.6 10.6 4.7 10.6 4.6 10.7 4.6 10.8 4.6 10.9 4.6 10.9 4.6 11.1 4.7 11 4.6 11.2 4.6 11.3 4.5 11.3 4.6 11.4 4.6 11.4 4.6 11.6 4.6 11.6"/>
<path stroke-width="1.4" d="M461.7 212l4.7 6.2 4.7 6.2 4.7 6.3 4.8 6.4 4.7 6.4 4.7 6.4 4.8 6.6 4.7 6.6 4.8 6.6 4.7 6.7 4.7 6.8 4.8 6.8 4.7 6.9 4.7 6.9 4.8 7 4.7 7.1 4.7 7.1 4.8 7.2 4.7 7.3 4.7 7.3 4.8 7.4 4.7 7.4 4.7 7.5 4.8 7.6 4.7 7.6 4.7 7.7 4.8 7.7 4.7 7.9 4.7 7.9 4.7 7.9 4.8 8 4.7 8.1 4.7 8.1 4.7 8.3 4.7 8.2 4.8 8.4 4.7 8.4 4.7 8.5 4.7 8.5 4.7 8.6 4.7 8.7 4.7 8.7 4.7 8.9 4.7 8.8 4.7 9 4.7 9 4.7 9.1 4.7 9.2 4.7 9.2 4.7 9.3 4.7 9.3 4.7 9.5 4.6 9.5 4.7 9.6 4.7 9.6 4.7 9.7 4.6 9.8 4.7 9.9 4.7 9.9 4.6 10 4.7 10.1 4.6 10.1 4.7 10.3 4.6 10.3 4.7 10.3 4.6 10.5 4.6 10.5 4.7 10.6 4.6 10.7 4.6 10.7 4.6 10.8 4.7 10.9 4.6 11 4.6 11 4.6 11.1 4.6 11.2 4.6 11.3 4.6 11.3 4.5 11.5 4.6 11.5"/>
<path stroke-width="1.4" d="M471.9 213.1l4.7 6.1 4.7 6.1 4.8 6.2 4.7 6.3 4.8 6.3 4.7 6.4 4.7 6.4 4.8 6.5 4.7 6.5 4.8 6.6 4.7 6.7 4.7 6.7 4.8 6.8 4.7 6.8 4.8 6.9 4.7 7 4.7 7 4.8 7.1 4.7 7.1 4.8 7.2 4.7 7.3 4.7 7.3 4.8 7.4 4.7 7.5 4.8 7.5 4.7 7.6 4.7 7.7 4.8 7.7 4.7 7.8 4.7 7.8 4.8 7.9 4.7 8 4.7 8 4.7 8.1 4.8 8.2 4.7 8.2 4.7 8.3 4.7 8.4 4.7 8.4 4.8 8.5 4.7 8.6 4.7 8.6 4.7 8.7 4.7 8.8 4.7 8.8 4.7 8.9 4.7 9 4.7 9 4.7 9.1 4.7 9.2 4.7 9.2 4.7 9.4 4.7 9.3 4.6 9.5 4.7 9.5 4.7 9.6 4.7 9.7 4.6 9.8 4.7 9.8 4.7 9.8 4.6 10 4.7 10 4.6 10.1 4.7 10.2 4.6 10.3 4.7 10.3 4.6 10.4 4.7 10.4 4.6 10.6 4.6 10.6 4.6 10.7 4.7 10.8 4.6 10.8 4.6 10.9 4.6 11 4.6 11.1 4.6 11.1 4.6 11.2 4.6 11.3 4.6 11.4"/>
<path stroke-width="1.39" d="M482.1 214.2l4.7 6 4.8 6 4.7 6.1 4.8 6.2 4.7 6.2 4.7 6.3 4.8 6.3 4.7 6.4 4.8 6.4 4.7 6.5 4.8 6.6 4.7 6.6 4.8 6.7 4.7 6.7 4.8 6.8 4.7 6.9 4.8 6.9 4.7 7 4.8 7 4.7 7.1 4.7 7.2 4.8 7.2 4.7 7.3 4.8 7.3 4.7 7.5 4.8 7.4 4.7 7.6 4.7 7.6 4.8 7.6 4.7 7.8 4.7 7.8 4.8 7.8 4.7 8 4.7 7.9 4.8 8.1 4.7 8.1 4.7 8.2 4.8 8.3 4.7 8.3 4.7 8.4 4.7 8.4 4.7 8.5 4.8 8.6 4.7 8.7 4.7 8.7 4.7 8.8 4.7 8.8 4.7 9 4.7 9 4.7 9 4.7 9.1 4.7 9.2 4.7 9.3 4.7 9.4 4.7 9.4 4.6 9.5 4.7 9.5 4.7 9.6 4.7 9.7 4.6 9.8 4.7 9.8 4.7 9.9 4.6 10 4.7 10.1 4.6 10.1 4.7 10.2 4.6 10.3 4.7 10.3 4.6 10.4 4.6 10.5 4.7 10.6 4.6 10.6 4.6 10.7 4.6 10.8 4.6 10.9 4.6 10.9 4.7 11 4.6 11.1 4.5 11.2 4.6 11.3"/>
<path stroke-width="1.39" d="M492.3 215.3l4.7 5.9 4.8 5.9 4.7 6 4.8 6.1 4.7 6.1 4.8 6.2 4.7 6.2 4.8 6.3 4.7 6.3 4.8 6.4 4.7 6.5 4.8 6.5 4.8 6.5 4.7 6.7 4.8 6.7 4.7 6.7 4.8 6.8 4.7 6.9 4.8 7 4.7 7 4.8 7 4.7 7.1 4.8 7.2 4.7 7.3 4.8 7.3 4.7 7.3 4.8 7.5 4.7 7.5 4.8 7.5 4.7 7.7 4.7 7.6 4.8 7.8 4.7 7.8 4.8 7.9 4.7 7.9 4.7 8 4.8 8.1 4.7 8.2 4.7 8.2 4.7 8.2 4.8 8.4 4.7 8.4 4.7 8.4 4.7 8.6 4.8 8.6 4.7 8.7 4.7 8.7 4.7 8.8 4.7 8.9 4.7 8.9 4.7 9.1 4.7 9 4.7 9.2 4.7 9.2 4.7 9.3 4.7 9.4 4.7 9.4 4.6 9.5 4.7 9.6 4.7 9.6 4.7 9.7 4.6 9.8 4.7 9.9 4.7 9.9 4.6 10 4.7 10.1 4.6 10.1 4.7 10.3 4.6 10.3 4.7 10.3 4.6 10.5 4.6 10.5 4.7 10.6 4.6 10.6 4.6 10.8 4.6 10.8 4.6 10.9 4.6 10.9 4.6 11.1 4.6 11.1"/>
<path stroke-width="1.38" d="M502.5 216.4l4.7 5.8 4.8 5.8 4.8 5.9 4.7 6 4.8 6 4.7 6 4.8 6.2 4.7 6.1 4.8 6.3 4.8 6.3 4.7 6.3 4.8 6.5 4.7 6.4 4.8 6.6 4.8 6.6 4.7 6.6 4.8 6.7 4.7 6.8 4.8 6.8 4.7 6.9 4.8 7 4.8 7 4.7 7.1 4.8 7.1 4.7 7.2 4.8 7.3 4.7 7.3 4.8 7.4 4.7 7.4 4.8 7.5 4.7 7.6 4.8 7.7 4.7 7.7 4.8 7.7 4.7 7.9 4.8 7.9 4.7 7.9 4.7 8.1 4.8 8 4.7 8.2 4.7 8.2 4.8 8.3 4.7 8.4 4.7 8.4 4.7 8.5 4.8 8.6 4.7 8.6 4.7 8.7 4.7 8.7 4.7 8.9 4.7 8.9 4.7 8.9 4.7 9.1 4.7 9.1 4.7 9.1 4.7 9.3 4.7 9.3 4.7 9.4 4.7 9.4 4.7 9.6 4.7 9.6 4.6 9.6 4.7 9.8 4.7 9.8 4.6 9.9 4.7 9.9 4.7 10 4.6 10.1 4.7 10.2 4.6 10.2 4.6 10.4 4.7 10.4 4.6 10.4 4.6 10.6 4.7 10.6 4.6 10.7 4.6 10.7 4.6 10.9 4.6 10.9 4.6 11"/>
<path stroke-width="1.38" d="M512.7 217.5l4.7 5.7 4.8 5.7 4.8 5.8 4.7 5.9 4.8 5.9 4.8 5.9 4.7 6.1 4.8 6 4.8 6.2 4.7 6.2 4.8 6.2 4.7 6.3 4.8 6.4 4.8 6.4 4.7 6.5 4.8 6.6 4.8 6.6 4.7 6.6 4.8 6.8 4.8 6.8 4.7 6.8 4.8 6.9 4.8 7 4.7 7 4.8 7.1 4.7 7.2 4.8 7.2 4.8 7.3 4.7 7.3 4.8 7.4 4.7 7.5 4.8 7.5 4.7 7.6 4.8 7.7 4.7 7.7 4.8 7.8 4.7 7.8 4.8 7.9 4.7 8 4.8 8.1 4.7 8.1 4.7 8.2 4.8 8.2 4.7 8.3 4.7 8.4 4.8 8.4 4.7 8.5 4.7 8.6 4.7 8.7 4.7 8.7 4.8 8.8 4.7 8.8 4.7 8.9 4.7 9 4.7 9.1 4.7 9.1 4.7 9.2 4.7 9.3 4.7 9.3 4.7 9.4 4.6 9.5 4.7 9.5 4.7 9.6 4.7 9.7 4.7 9.8 4.6 9.8 4.7 9.9 4.6 10 4.7 10 4.6 10.2 4.7 10.2 4.6 10.2 4.7 10.4 4.6 10.4 4.6 10.5 4.7 10.5 4.6 10.7 4.6 10.7 4.6 10.8 4.6 10.8"/>
<path stroke-width="1.37" d="M522.9 218.6l4.7 5.5 4.8 5.7 4.8 5.7 4.7 5.7 4.8 5.8 4.8 5.9 4.8 5.9 4.7 6 4.8 6 4.8 6.1 4.7 6.2 4.8 6.2 4.8 6.3 4.8 6.3 4.7 6.4 4.8 6.4 4.8 6.5 4.8 6.6 4.7 6.6 4.8 6.7 4.8 6.7 4.7 6.8 4.8 6.9 4.8 6.9 4.7 7 4.8 7.1 4.8 7.1 4.7 7.2 4.8 7.2 4.8 7.3 4.7 7.3 4.8 7.5 4.7 7.5 4.8 7.5 4.8 7.6 4.7 7.7 4.8 7.7 4.7 7.8 4.8 7.9 4.7 7.9 4.8 8 4.7 8.1 4.7 8.1 4.8 8.2 4.7 8.3 4.8 8.3 4.7 8.4 4.7 8.5 4.7 8.5 4.8 8.6 4.7 8.7 4.7 8.7 4.7 8.8 4.7 8.9 4.8 8.9 4.7 9 4.7 9.1 4.7 9.1 4.7 9.3 4.7 9.2 4.6 9.4 4.7 9.4 4.7 9.5 4.7 9.6 4.7 9.6 4.7 9.7 4.6 9.8 4.7 9.9 4.7 9.9 4.6 10 4.7 10.1 4.6 10.1 4.7 10.2 4.6 10.3 4.6 10.4 4.7 10.4 4.6 10.5 4.6 10.6 4.6 10.7 4.6 10.7"/>
<path stroke-width="1.37" d="M533.1 219.6l4.7 5.5 4.8 5.6 4.8 5.6 4.8 5.6 4.7 5.7 4.8 5.8 4.8 5.8 4.8 5.9 4.7 5.9 4.8 6 4.8 6.1 4.8 6.1 4.8 6.1 4.7 6.3 4.8 6.2 4.8 6.4 4.8 6.4 4.8 6.4 4.7 6.6 4.8 6.5 4.8 6.7 4.8 6.7 4.7 6.7 4.8 6.9 4.8 6.8 4.8 7 4.7 7 4.8 7 4.8 7.2 4.8 7.2 4.7 7.2 4.8 7.3 4.8 7.4 4.7 7.4 4.8 7.5 4.7 7.6 4.8 7.6 4.8 7.7 4.7 7.8 4.8 7.8 4.7 7.9 4.8 7.9 4.7 8.1 4.8 8 4.7 8.2 4.8 8.2 4.7 8.3 4.7 8.3 4.8 8.5 4.7 8.4 4.7 8.6 4.8 8.6 4.7 8.7 4.7 8.7 4.7 8.9 4.7 8.8 4.7 9 4.8 9 4.7 9.1 4.7 9.2 4.7 9.2 4.7 9.3 4.6 9.4 4.7 9.4 4.7 9.6 4.7 9.6 4.7 9.6 4.6 9.7 4.7 9.8 4.7 9.9 4.6 10 4.7 10 4.6 10.1 4.7 10.1 4.6 10.3 4.7 10.3 4.6 10.4 4.6 10.4 4.7 10.6 4.6 10.6"/>
<path stroke-width="1.36" d="M543.2 220.7l4.8 5.4 4.8 5.4 4.8 5.5 4.8 5.6 4.7 5.6 4.8 5.7 4.8 5.7 4.8 5.8 4.8 5.8 4.8 5.9 4.8 5.9 4.7 6 4.8 6.1 4.8 6.1 4.8 6.2 4.8 6.2 4.8 6.3 4.8 6.4 4.7 6.4 4.8 6.5 4.8 6.5 4.8 6.6 4.8 6.7 4.8 6.7 4.8 6.7 4.7 6.9 4.8 6.9 4.8 6.9 4.8 7 4.7 7.1 4.8 7.2 4.8 7.2 4.8 7.2 4.7 7.4 4.8 7.4 4.8 7.4 4.7 7.5 4.8 7.6 4.8 7.7 4.7 7.7 4.8 7.7 4.8 7.9 4.7 7.9 4.8 8 4.7 8 4.8 8.1 4.7 8.2 4.8 8.2 4.7 8.3 4.7 8.4 4.8 8.4 4.7 8.5 4.7 8.6 4.8 8.6 4.7 8.7 4.7 8.8 4.7 8.8 4.8 8.9 4.7 9 4.7 9 4.7 9.1 4.7 9.2 4.7 9.3 4.7 9.3 4.7 9.4 4.7 9.5 4.6 9.5 4.7 9.6 4.7 9.7 4.7 9.7 4.6 9.9 4.7 9.9 4.7 9.9 4.6 10.1 4.7 10.1 4.6 10.2 4.6 10.2 4.7 10.4 4.6 10.4 4.6 10.4"/>
<path stroke-width="1.36" d="M553.4 221.7l4.8 5.3 4.8 5.4 4.8 5.4 4.8 5.4 4.8 5.5 4.7 5.6 4.8 5.6 4.8 5.7 4.8 5.7 4.8 5.8 4.8 5.9 4.8 5.9 4.8 6 4.8 6 4.8 6 4.8 6.2 4.8 6.2 4.8 6.2 4.8 6.3 4.8 6.4 4.7 6.4 4.8 6.5 4.8 6.6 4.8 6.6 4.8 6.6 4.8 6.8 4.8 6.8 4.8 6.8 4.8 6.9 4.7 7 4.8 7 4.8 7.1 4.8 7.2 4.8 7.2 4.7 7.3 4.8 7.3 4.8 7.4 4.8 7.5 4.7 7.5 4.8 7.6 4.8 7.7 4.7 7.7 4.8 7.8 4.8 7.9 4.7 7.9 4.8 8 4.7 8 4.8 8.1 4.7 8.2 4.8 8.3 4.7 8.3 4.8 8.4 4.7 8.4 4.7 8.5 4.8 8.6 4.7 8.7 4.7 8.7 4.8 8.8 4.7 8.9 4.7 8.9 4.7 9 4.7 9 4.7 9.2 4.7 9.2 4.7 9.3 4.7 9.3 4.7 9.4 4.7 9.5 4.7 9.6 4.7 9.6 4.6 9.7 4.7 9.7 4.7 9.9 4.6 9.9 4.7 10 4.6 10.1 4.7 10.1 4.6 10.2 4.7 10.3 4.6 10.3"/>
<path stroke-width="1.35" d="M563.6 222.8l4.8 5.2 4.8 5.2 4.8 5.3 4.8 5.4 4.8 5.4 4.8 5.5 4.8 5.5 4.8 5.6 4.8 5.6 4.8 5.7 4.8 5.7 4.8 5.8 4.8 5.9 4.8 5.9 4.8 6 4.8 6 4.8 6.1 4.8 6.2 4.8 6.2 4.8 6.2 4.8 6.4 4.8 6.3 4.8 6.5 4.8 6.5 4.8 6.5 4.8 6.7 4.8 6.6 4.7 6.8 4.8 6.8 4.8 6.9 4.8 6.9 4.8 7 4.8 7 4.8 7.1 4.8 7.2 4.8 7.2 4.7 7.3 4.8 7.4 4.8 7.4 4.8 7.5 4.8 7.5 4.7 7.7 4.8 7.6 4.8 7.8 4.7 7.8 4.8 7.9 4.8 7.9 4.7 8 4.8 8.1 4.7 8.1 4.8 8.2 4.7 8.3 4.8 8.3 4.7 8.4 4.8 8.5 4.7 8.5 4.7 8.6 4.8 8.7 4.7 8.7 4.7 8.8 4.7 8.9 4.8 9 4.7 9 4.7 9 4.7 9.2 4.7 9.2 4.7 9.3 4.7 9.4 4.7 9.4 4.7 9.5 4.6 9.6 4.7 9.6 4.7 9.8 4.7 9.7 4.6 9.9 4.7 9.9 4.6 10.1 4.7 10 4.6 10.2 4.7 10.2"/>
<path stroke-width="1.34" d="M573.7 223.8l4.8 5.1 4.8 5.2 4.8 5.2 4.9 5.2 4.8 5.4 4.8 5.3 4.8 5.4 4.8 5.5 4.8 5.6 4.8 5.5 4.8 5.7 4.8 5.7 4.8 5.7 4.8 5.9 4.8 5.8 4.8 6 4.9 6 4.8 6 4.8 6.1 4.8 6.2 4.8 6.2 4.8 6.3 4.8 6.3 4.8 6.4 4.8 6.4 4.8 6.6 4.8 6.5 4.8 6.7 4.8 6.7 4.8 6.7 4.8 6.8 4.8 6.9 4.8 6.9 4.8 7 4.8 7.1 4.8 7.1 4.8 7.2 4.8 7.3 4.8 7.3 4.8 7.4 4.7 7.4 4.8 7.5 4.8 7.6 4.8 7.6 4.8 7.7 4.7 7.7 4.8 7.9 4.8 7.9 4.7 7.9 4.8 8 4.8 8.1 4.7 8.2 4.8 8.2 4.7 8.3 4.8 8.3 4.7 8.4 4.8 8.5 4.7 8.6 4.7 8.6 4.8 8.7 4.7 8.7 4.7 8.9 4.7 8.9 4.8 8.9 4.7 9.1 4.7 9.1 4.7 9.1 4.7 9.3 4.7 9.3 4.7 9.4 4.7 9.4 4.7 9.5 4.6 9.6 4.7 9.7 4.7 9.7 4.7 9.8 4.6 9.9 4.7 10 4.6 10 4.7 10.1"/>
<path stroke-width="1.34" d="M583.9 224.9l4.8 5 4.8 5 4.8 5.1 4.8 5.2 4.9 5.2 4.8 5.3 4.8 5.3 4.8 5.4 4.8 5.4 4.8 5.5 4.8 5.5 4.9 5.6 4.8 5.7 4.8 5.7 4.8 5.8 4.8 5.8 4.8 5.9 4.9 5.9 4.8 6 4.8 6.1 4.8 6.1 4.8 6.2 4.8 6.2 4.9 6.3 4.8 6.3 4.8 6.4 4.8 6.5 4.8 6.5 4.8 6.6 4.8 6.7 4.8 6.7 4.8 6.7 4.8 6.9 4.8 6.9 4.8 6.9 4.8 7 4.8 7.1 4.8 7.2 4.8 7.2 4.8 7.2 4.8 7.3 4.8 7.4 4.8 7.5 4.8 7.5 4.8 7.6 4.8 7.6 4.7 7.7 4.8 7.8 4.8 7.9 4.8 7.9 4.7 7.9 4.8 8.1 4.7 8.1 4.8 8.1 4.8 8.3 4.7 8.3 4.8 8.3 4.7 8.5 4.8 8.5 4.7 8.5 4.7 8.7 4.8 8.7 4.7 8.8 4.7 8.8 4.8 8.9 4.7 9 4.7 9 4.7 9.2 4.7 9.1 4.7 9.3 4.7 9.3 4.7 9.4 4.7 9.5 4.7 9.5 4.7 9.7 4.6 9.6 4.7 9.8 4.7 9.8 4.6 9.9 4.7 10"/>
<path stroke-width="1.33" d="M594 225.9l4.9 4.9 4.8 4.9 4.8 5.1 4.8 5 4.8 5.1 4.9 5.2 4.8 5.2 4.8 5.3 4.8 5.3 4.9 5.4 4.8 5.5 4.8 5.5 4.8 5.5 4.9 5.6 4.8 5.7 4.8 5.7 4.8 5.8 4.9 5.8 4.8 5.9 4.8 6 4.8 6 4.9 6.1 4.8 6.1 4.8 6.2 4.8 6.2 4.8 6.3 4.9 6.4 4.8 6.4 4.8 6.5 4.8 6.5 4.8 6.6 4.8 6.7 4.9 6.7 4.8 6.8 4.8 6.8 4.8 6.9 4.8 7 4.8 7 4.8 7.1 4.8 7.2 4.8 7.2 4.8 7.3 4.8 7.3 4.8 7.4 4.8 7.5 4.8 7.5 4.8 7.6 4.8 7.7 4.7 7.7 4.8 7.8 4.8 7.8 4.8 8 4.7 7.9 4.8 8.1 4.8 8.1 4.7 8.2 4.8 8.2 4.8 8.4 4.7 8.3 4.8 8.5 4.7 8.5 4.7 8.6 4.8 8.7 4.7 8.7 4.8 8.8 4.7 8.8 4.7 9 4.7 8.9 4.7 9.1 4.8 9.2 4.7 9.2 4.7 9.2 4.7 9.4 4.7 9.4 4.6 9.5 4.7 9.6 4.7 9.6 4.7 9.7 4.7 9.8 4.6 9.8"/>
<path stroke-width="1.32" d="M604.2 226.9l4.8 4.8 4.8 4.9 4.9 4.9 4.8 5 4.8 5 4.9 5 4.8 5.2 4.8 5.1 4.9 5.3 4.8 5.3 4.8 5.3 4.8 5.4 4.9 5.5 4.8 5.5 4.8 5.5 4.9 5.7 4.8 5.6 4.9 5.8 4.8 5.8 4.8 5.8 4.8 5.9 4.9 6 4.8 6 4.8 6.1 4.9 6.1 4.8 6.2 4.8 6.3 4.9 6.3 4.8 6.3 4.8 6.5 4.8 6.5 4.9 6.5 4.8 6.6 4.8 6.7 4.8 6.7 4.8 6.8 4.9 6.9 4.8 6.9 4.8 7 4.8 7 4.8 7.1 4.8 7.2 4.8 7.2 4.8 7.3 4.8 7.4 4.8 7.4 4.8 7.5 4.8 7.5 4.8 7.6 4.8 7.7 4.8 7.7 4.8 7.9 4.7 7.8 4.8 8 4.8 8 4.8 8 4.7 8.2 4.8 8.2 4.8 8.2 4.7 8.4 4.8 8.3 4.7 8.5 4.8 8.6 4.7 8.6 4.8 8.6 4.7 8.8 4.7 8.8 4.8 8.8 4.7 9 4.7 9 4.7 9.1 4.7 9.1 4.7 9.3 4.7 9.3 4.7 9.3 4.7 9.5 4.7 9.5 4.7 9.5 4.7 9.7 4.7 9.7"/>
<path stroke-width="1.32" d="M614.3 227.9l4.9 4.7 4.8 4.8 4.8 4.8 4.9 4.9 4.8 4.9 4.8 5 4.9 5 4.8 5.1 4.9 5.1 4.8 5.2 4.8 5.2 4.9 5.3 4.8 5.4 4.9 5.4 4.8 5.5 4.9 5.5 4.8 5.5 4.8 5.7 4.9 5.7 4.8 5.7 4.9 5.8 4.8 5.9 4.8 5.9 4.9 6 4.8 6 4.9 6.1 4.8 6.1 4.8 6.2 4.9 6.3 4.8 6.3 4.8 6.4 4.9 6.5 4.8 6.5 4.8 6.5 4.9 6.7 4.8 6.6 4.8 6.8 4.8 6.8 4.9 6.9 4.8 6.9 4.8 7 4.8 7 4.8 7.2 4.8 7.1 4.9 7.3 4.8 7.3 4.8 7.3 4.8 7.5 4.8 7.5 4.8 7.5 4.8 7.7 4.8 7.6 4.8 7.8 4.7 7.8 4.8 7.9 4.8 8 4.8 8 4.8 8 4.7 8.2 4.8 8.2 4.8 8.3 4.7 8.3 4.8 8.5 4.7 8.4 4.8 8.6 4.7 8.6 4.8 8.7 4.7 8.7 4.7 8.9 4.8 8.9 4.7 8.9 4.7 9.1 4.7 9.1 4.7 9.1 4.7 9.3 4.8 9.3 4.6 9.4 4.7 9.4 4.7 9.5 4.7 9.6"/>
<path stroke-width="1.31" d="M624.5 228.9l4.8 4.6 4.9 4.7 4.8 4.7 4.8 4.8 4.9 4.8 4.8 4.9 4.9 4.9 4.8 5 4.9 5 4.8 5.1 4.9 5.2 4.8 5.2 4.9 5.2 4.8 5.3 4.9 5.4 4.8 5.4 4.9 5.5 4.8 5.5 4.9 5.6 4.8 5.6 4.9 5.7 4.8 5.8 4.9 5.8 4.8 5.8 4.9 6 4.8 6 4.9 6 4.8 6.1 4.9 6.2 4.8 6.2 4.9 6.3 4.8 6.3 4.8 6.4 4.9 6.4 4.8 6.6 4.8 6.5 4.9 6.7 4.8 6.7 4.8 6.7 4.9 6.8 4.8 6.9 4.8 7 4.9 7 4.8 7 4.8 7.2 4.8 7.2 4.8 7.2 4.8 7.3 4.9 7.4 4.8 7.5 4.8 7.5 4.8 7.5 4.8 7.7 4.8 7.7 4.8 7.8 4.7 7.8 4.8 7.9 4.8 7.9 4.8 8.1 4.8 8.1 4.7 8.1 4.8 8.3 4.8 8.3 4.7 8.3 4.8 8.5 4.8 8.4 4.7 8.6 4.8 8.6 4.7 8.7 4.7 8.8 4.8 8.9 4.7 8.9 4.7 8.9 4.8 9.1 4.7 9.1 4.7 9.2 4.7 9.3 4.7 9.3 4.7 9.4 4.7 9.5"/>
<path stroke-width="1.3" d="M634.6 229.9l4.8 4.6 4.9 4.5 4.8 4.6 4.9 4.7 4.9 4.7 4.8 4.8 4.9 4.8 4.8 4.9 4.9 4.9 4.8 5 4.9 5.1 4.9 5.1 4.8 5.1 4.9 5.2 4.8 5.3 4.9 5.3 4.9 5.4 4.8 5.4 4.9 5.5 4.8 5.5 4.9 5.6 4.9 5.7 4.8 5.7 4.9 5.7 4.8 5.9 4.9 5.8 4.8 6 4.9 6 4.9 6 4.8 6.1 4.9 6.2 4.8 6.2 4.9 6.3 4.8 6.4 4.9 6.4 4.8 6.4 4.9 6.6 4.8 6.5 4.8 6.7 4.9 6.7 4.8 6.8 4.8 6.8 4.9 6.9 4.8 6.9 4.8 7.1 4.9 7 4.8 7.2 4.8 7.2 4.8 7.3 4.9 7.3 4.8 7.4 4.8 7.4 4.8 7.6 4.8 7.6 4.8 7.6 4.8 7.7 4.8 7.8 4.8 7.8 4.8 8 4.8 7.9 4.7 8.1 4.8 8.1 4.8 8.2 4.8 8.2 4.7 8.3 4.8 8.4 4.8 8.4 4.7 8.6 4.8 8.5 4.7 8.7 4.8 8.7 4.7 8.8 4.7 8.8 4.8 9 4.7 9 4.7 9 4.7 9.2 4.8 9.2 4.7 9.2 4.7 9.4"/>
<path stroke-width="1.3" d="M644.7 230.9l4.9 4.5 4.8 4.4 4.9 4.5 4.9 4.6 4.8 4.6 4.9 4.7 4.9 4.7 4.8 4.8 4.9 4.9 4.9 4.8 4.8 5 4.9 5 4.9 5 4.8 5.1 4.9 5.2 4.9 5.2 4.8 5.3 4.9 5.3 4.9 5.4 4.8 5.4 4.9 5.5 4.9 5.5 4.9 5.6 4.8 5.7 4.9 5.7 4.9 5.8 4.8 5.8 4.9 5.9 4.8 6 4.9 6 4.9 6 4.8 6.1 4.9 6.2 4.9 6.3 4.8 6.3 4.9 6.3 4.8 6.4 4.9 6.5 4.8 6.6 4.9 6.6 4.8 6.6 4.9 6.7 4.8 6.8 4.8 6.9 4.9 6.9 4.8 6.9 4.9 7.1 4.8 7 4.8 7.2 4.8 7.2 4.9 7.3 4.8 7.3 4.8 7.4 4.8 7.5 4.8 7.6 4.9 7.6 4.8 7.6 4.8 7.7 4.8 7.8 4.8 7.9 4.8 7.9 4.7 8 4.8 8.1 4.8 8.1 4.8 8.2 4.8 8.2 4.7 8.4 4.8 8.4 4.8 8.4 4.7 8.6 4.8 8.5 4.7 8.7 4.8 8.7 4.7 8.8 4.8 8.9 4.7 9 4.7 9 4.7 9 4.8 9.2 4.7 9.2"/>
<path stroke-width="1.29" d="M654.8 231.9l4.9 4.3 4.9 4.4 4.8 4.4 4.9 4.5 4.9 4.5 4.9 4.6 4.8 4.7 4.9 4.6 4.9 4.8 4.9 4.8 4.8 4.8 4.9 4.9 4.9 4.9 4.9 5 4.9 5.1 4.8 5.1 4.9 5.2 4.9 5.2 4.9 5.3 4.8 5.3 4.9 5.4 4.9 5.4 4.9 5.5 4.9 5.6 4.8 5.6 4.9 5.7 4.9 5.7 4.9 5.8 4.8 5.8 4.9 5.9 4.9 6 4.9 6 4.8 6 4.9 6.2 4.9 6.2 4.8 6.2 4.9 6.3 4.9 6.4 4.8 6.4 4.9 6.5 4.8 6.6 4.9 6.6 4.8 6.6 4.9 6.8 4.8 6.8 4.9 6.8 4.8 6.9 4.9 7 4.8 7 4.9 7.1 4.8 7.2 4.8 7.2 4.8 7.3 4.9 7.4 4.8 7.4 4.8 7.5 4.8 7.5 4.8 7.6 4.9 7.7 4.8 7.8 4.8 7.8 4.8 7.8 4.8 8 4.8 8 4.7 8.1 4.8 8.1 4.8 8.2 4.8 8.3 4.8 8.3 4.7 8.4 4.8 8.5 4.8 8.5 4.7 8.6 4.8 8.7 4.7 8.8 4.8 8.8 4.7 8.9 4.7 8.9 4.8 9.1 4.7 9"/>
<path stroke-width="1.28" d="M665 232.9l4.8 4.2 4.9 4.3 4.9 4.3 4.9 4.4 4.8 4.4 4.9 4.5 4.9 4.6 4.9 4.5 4.9 4.7 4.9 4.7 4.9 4.7 4.8 4.8 4.9 4.8 4.9 4.9 4.9 5 4.9 5 4.9 5.1 4.9 5.1 4.9 5.2 4.9 5.2 4.8 5.3 4.9 5.3 4.9 5.4 4.9 5.5 4.9 5.5 4.9 5.5 4.9 5.6 4.8 5.7 4.9 5.8 4.9 5.7 4.9 5.9 4.9 5.9 4.9 6 4.8 6 4.9 6.1 4.9 6.1 4.9 6.2 4.8 6.3 4.9 6.3 4.9 6.4 4.8 6.4 4.9 6.5 4.9 6.5 4.8 6.7 4.9 6.6 4.9 6.8 4.8 6.8 4.9 6.9 4.8 6.9 4.9 7 4.8 7 4.8 7.1 4.9 7.2 4.8 7.3 4.9 7.3 4.8 7.3 4.8 7.5 4.8 7.5 4.9 7.5 4.8 7.6 4.8 7.7 4.8 7.8 4.8 7.8 4.8 7.9 4.8 7.9 4.8 8.1 4.8 8 4.8 8.2 4.8 8.2 4.8 8.3 4.7 8.3 4.8 8.5 4.8 8.5 4.7 8.5 4.8 8.6 4.7 8.7 4.8 8.8 4.7 8.8 4.8 8.9 4.7 9"/>
<path stroke-width="1.28" d="M675.1 233.9l4.8 4.1 4.9 4.2 4.9 4.2 4.9 4.3 4.9 4.3 4.9 4.4 4.9 4.4 4.9 4.5 4.9 4.6 4.9 4.6 4.9 4.6 4.9 4.7 4.9 4.7 4.9 4.8 4.9 4.9 4.9 4.9 4.9 5 4.9 5 4.9 5.1 4.9 5.1 4.9 5.2 4.8 5.2 4.9 5.3 4.9 5.3 4.9 5.4 4.9 5.5 4.9 5.5 4.9 5.6 4.9 5.6 4.9 5.7 4.9 5.7 4.9 5.8 4.9 5.9 4.9 5.9 4.9 6 4.9 6 4.8 6.1 4.9 6.1 4.9 6.2 4.9 6.3 4.9 6.3 4.8 6.4 4.9 6.5 4.9 6.5 4.9 6.5 4.8 6.7 4.9 6.7 4.9 6.7 4.8 6.8 4.9 6.9 4.8 6.9 4.9 7 4.8 7.1 4.9 7.1 4.8 7.2 4.9 7.3 4.8 7.3 4.8 7.4 4.9 7.4 4.8 7.5 4.8 7.6 4.9 7.6 4.8 7.7 4.8 7.8 4.8 7.8 4.8 7.9 4.8 8 4.8 8 4.8 8.1 4.8 8.2 4.8 8.2 4.8 8.3 4.7 8.4 4.8 8.4 4.8 8.5 4.7 8.6 4.8 8.6 4.8 8.7 4.7 8.8 4.8 8.8"/>
<path stroke-width="1.27" d="M685.2 234.9l4.9 4 4.9 4.1 4.9 4.1 4.9 4.2 4.9 4.2 4.9 4.3 4.9 4.3 4.9 4.4 4.9 4.5 4.9 4.5 4.9 4.5 4.9 4.6 4.9 4.6 4.9 4.7 4.9 4.8 4.9 4.8 4.9 4.9 4.9 4.9 4.9 4.9 5 5.1 4.9 5 4.9 5.2 4.9 5.1 4.9 5.3 4.9 5.3 4.9 5.3 4.9 5.4 4.9 5.5 4.9 5.5 4.9 5.6 4.9 5.6 4.9 5.7 4.9 5.8 4.9 5.8 4.9 5.9 4.9 5.9 4.9 6 4.9 6 4.9 6.1 4.9 6.2 4.9 6.2 4.9 6.2 4.9 6.4 4.8 6.4 4.9 6.4 4.9 6.6 4.9 6.5 4.9 6.7 4.8 6.7 4.9 6.7 4.9 6.9 4.8 6.8 4.9 7 4.8 7 4.9 7.1 4.9 7.1 4.8 7.2 4.9 7.3 4.8 7.3 4.8 7.4 4.9 7.4 4.8 7.6 4.8 7.5 4.9 7.7 4.8 7.7 4.8 7.8 4.8 7.8 4.8 7.9 4.8 8 4.8 8.1 4.8 8.1 4.8 8.1 4.8 8.3 4.8 8.3 4.8 8.4 4.8 8.4 4.7 8.5 4.8 8.6 4.8 8.7 4.7 8.7"/>
<path stroke-width="1.27" d="M695.3 235.8l4.9 4 4.9 3.9 4.9 4.1 4.9 4.1 4.9 4.1 4.9 4.2 4.9 4.2 4.9 4.3 5 4.3 4.9 4.4 4.9 4.5 4.9 4.5 4.9 4.5 4.9 4.6 5 4.7 4.9 4.7 4.9 4.7 4.9 4.8 4.9 4.9 4.9 4.9 5 5 4.9 5 4.9 5.1 4.9 5.2 4.9 5.1 5 5.3 4.9 5.3 4.9 5.4 4.9 5.4 4.9 5.4 4.9 5.6 5 5.6 4.9 5.6 4.9 5.7 4.9 5.7 4.9 5.9 4.9 5.8 4.9 6 4.9 6 4.9 6 4.9 6.1 4.9 6.2 4.9 6.2 4.9 6.3 4.9 6.3 4.9 6.4 4.9 6.5 4.9 6.5 4.8 6.6 4.9 6.7 4.9 6.7 4.9 6.7 4.8 6.9 4.9 6.9 4.9 6.9 4.9 7 4.8 7.1 4.9 7.2 4.8 7.2 4.9 7.3 4.8 7.3 4.9 7.4 4.8 7.5 4.8 7.5 4.9 7.6 4.8 7.6 4.8 7.8 4.9 7.8 4.8 7.8 4.8 7.9 4.8 8 4.8 8.1 4.8 8.1 4.8 8.2 4.8 8.2 4.8 8.4 4.8 8.4 4.7 8.4 4.8 8.5 4.8 8.6"/>
<path stroke-width="1.27" d="M705.3 236.8l5 3.8 4.9 3.9 4.9 3.9 4.9 4 4.9 4.1 5 4.1 4.9 4.1 4.9 4.2 4.9 4.2 5 4.3 4.9 4.4 4.9 4.4 4.9 4.4 5 4.5 4.9 4.6 4.9 4.6 5 4.6 4.9 4.7 4.9 4.8 4.9 4.8 5 4.9 4.9 4.9 4.9 5 5 5 4.9 5.1 4.9 5.1 5 5.2 4.9 5.3 4.9 5.3 4.9 5.4 5 5.4 4.9 5.5 4.9 5.5 4.9 5.6 4.9 5.6 5 5.7 4.9 5.8 4.9 5.8 4.9 5.9 4.9 5.9 4.9 6 5 6.1 4.9 6.1 4.9 6.2 4.9 6.2 4.9 6.3 4.9 6.4 4.9 6.4 4.9 6.5 4.9 6.5 4.8 6.6 4.9 6.6 4.9 6.8 4.9 6.7 4.9 6.9 4.9 6.9 4.8 7 4.9 7 4.9 7.1 4.8 7.1 4.9 7.3 4.8 7.2 4.9 7.4 4.8 7.4 4.9 7.5 4.8 7.5 4.9 7.6 4.8 7.7 4.8 7.7 4.9 7.8 4.8 7.9 4.8 7.9 4.8 8 4.8 8.1 4.8 8.1 4.8 8.2 4.8 8.3 4.8 8.3 4.8 8.4 4.8 8.5"/>
<path stroke-width="1.26" d="M715.4 237.7l5 3.8 4.9 3.8 4.9 3.8 4.9 3.9 5 3.9 4.9 4 4.9 4.1 5 4.1 4.9 4.1 4.9 4.2 5 4.2 4.9 4.3 5 4.4 4.9 4.4 4.9 4.4 5 4.5 4.9 4.6 5 4.6 4.9 4.7 4.9 4.7 5 4.7 4.9 4.9 5 4.8 4.9 5 4.9 4.9 5 5.1 4.9 5.1 5 5.1 4.9 5.2 4.9 5.3 5 5.3 4.9 5.4 4.9 5.4 5 5.5 4.9 5.5 4.9 5.6 5 5.7 4.9 5.7 4.9 5.8 5 5.8 4.9 5.9 4.9 5.9 4.9 6 4.9 6.1 4.9 6.1 5 6.2 4.9 6.2 4.9 6.3 4.9 6.4 4.9 6.4 4.9 6.5 4.9 6.5 4.9 6.7 4.9 6.6 4.9 6.7 4.9 6.8 4.8 6.9 4.9 6.9 4.9 7 4.9 7 4.9 7.1 4.8 7.2 4.9 7.2 4.9 7.3 4.8 7.4 4.9 7.4 4.8 7.5 4.9 7.5 4.8 7.6 4.8 7.7 4.9 7.8 4.8 7.8 4.8 7.9 4.8 7.9 4.9 8 4.8 8.1 4.8 8.1 4.8 8.2 4.8 8.3 4.8 8.4"/>
<path stroke-width="1.26" d="M725.5 238.7l4.9 3.6 5 3.7 4.9 3.8 5 3.8 4.9 3.8 4.9 3.9 5 3.9 4.9 4 5 4.1 4.9 4.1 5 4.1 4.9 4.2 5 4.3 4.9 4.3 5 4.3 4.9 4.4 5 4.5 4.9 4.5 5 4.5 4.9 4.6 5 4.7 4.9 4.7 5 4.8 4.9 4.8 5 4.9 4.9 4.9 5 5 4.9 5.1 5 5.1 4.9 5.1 5 5.2 4.9 5.3 5 5.3 4.9 5.4 5 5.4 4.9 5.5 5 5.6 4.9 5.6 4.9 5.6 5 5.7 4.9 5.8 4.9 5.8 5 5.9 4.9 6 4.9 6 5 6.1 4.9 6.1 4.9 6.2 4.9 6.2 4.9 6.4 5 6.3 4.9 6.5 4.9 6.4 4.9 6.6 4.9 6.6 4.9 6.7 4.9 6.7 4.9 6.8 4.9 6.9 4.9 6.9 4.8 7 4.9 7 4.9 7.1 4.9 7.2 4.8 7.3 4.9 7.3 4.9 7.3 4.8 7.5 4.9 7.5 4.8 7.5 4.9 7.6 4.8 7.7 4.9 7.8 4.8 7.8 4.8 7.9 4.8 8 4.9 8 4.8 8.1 4.8 8.1 4.8 8.2"/>
<path stroke-width="1.26" d="M735.6 239.6l4.9 3.6 5 3.6 4.9 3.6 5 3.7 4.9 3.8 5 3.8 4.9 3.8 5 3.9 5 3.9 4.9 4 5 4.1 4.9 4.1 5 4.1 5 4.2 4.9 4.3 5 4.3 4.9 4.3 5 4.4 5 4.5 4.9 4.5 5 4.6 5 4.6 4.9 4.6 5 4.8 4.9 4.7 5 4.9 5 4.9 4.9 4.9 5 5 5 5 4.9 5.1 5 5.2 4.9 5.2 5 5.3 4.9 5.3 5 5.4 5 5.4 4.9 5.5 5 5.6 4.9 5.6 5 5.6 4.9 5.8 4.9 5.8 5 5.8 4.9 5.9 5 6 4.9 6 4.9 6.1 5 6.1 4.9 6.2 4.9 6.2 4.9 6.4 5 6.3 4.9 6.5 4.9 6.5 4.9 6.5 4.9 6.6 4.9 6.7 4.9 6.8 4.9 6.8 4.9 6.8 4.9 7 4.9 7 4.9 7 4.9 7.2 4.9 7.1 4.8 7.3 4.9 7.3 4.9 7.4 4.8 7.4 4.9 7.5 4.8 7.6 4.9 7.6 4.8 7.7 4.9 7.8 4.8 7.8 4.9 7.9 4.8 8 4.8 8 4.8 8.1"/>
<path stroke-width="1.25" d="M745.7 240.5l4.9 3.5 5 3.5 4.9 3.6 5 3.6 5 3.6 4.9 3.7 5 3.8 5 3.8 4.9 3.8 5 3.9 5 3.9 4.9 4 5 4.1 5 4.1 4.9 4.1 5 4.2 5 4.3 5 4.3 4.9 4.3 5 4.5 5 4.4 5 4.5 4.9 4.6 5 4.6 5 4.7 5 4.7 4.9 4.8 5 4.8 5 4.9 5 5 4.9 4.9 5 5.1 5 5.1 4.9 5.2 5 5.2 5 5.3 4.9 5.3 5 5.4 5 5.4 4.9 5.5 5 5.6 5 5.6 4.9 5.7 5 5.7 4.9 5.8 5 5.8 4.9 5.9 5 6 4.9 6 4.9 6.1 5 6.2 4.9 6.2 5 6.2 4.9 6.3 4.9 6.4 4.9 6.5 5 6.5 4.9 6.5 4.9 6.7 4.9 6.7 4.9 6.7 4.9 6.8 4.9 6.9 4.9 6.9 4.9 7.1 4.9 7 4.9 7.1 4.9 7.2 4.9 7.3 4.8 7.3 4.9 7.4 4.9 7.5 4.8 7.5 4.9 7.5 4.9 7.7 4.8 7.7 4.9 7.8 4.8 7.8 4.8 7.9 4.9 8"/>
<path stroke-width="1.25" d="M755.7 241.5l5 3.3 5 3.4 4.9 3.5 5 3.5 5 3.6 5 3.6 4.9 3.6 5 3.7 5 3.8 5 3.8 4.9 3.8 5 3.9 5 4 5 3.9 5 4.1 5 4.1 5 4.1 4.9 4.3 5 4.2 5 4.3 5 4.4 5 4.4 5 4.4 5 4.6 4.9 4.5 5 4.6 5 4.7 5 4.7 5 4.8 5 4.9 5 4.9 4.9 4.9 5 5 5 5.1 5 5.1 5 5.1 4.9 5.3 5 5.2 5 5.4 5 5.4 4.9 5.4 5 5.5 5 5.6 4.9 5.6 5 5.7 5 5.7 4.9 5.8 5 5.9 5 5.9 4.9 5.9 5 6.1 4.9 6.1 5 6.1 4.9 6.2 4.9 6.3 5 6.3 4.9 6.4 5 6.5 4.9 6.5 4.9 6.6 4.9 6.6 4.9 6.7 5 6.7 4.9 6.9 4.9 6.9 4.9 6.9 4.9 7 4.9 7.1 4.9 7.1 4.9 7.2 4.9 7.3 4.8 7.3 4.9 7.4 4.9 7.5 4.9 7.5 4.8 7.6 4.9 7.6 4.8 7.8 4.9 7.7 4.8 7.9"/>
<path stroke-width="1.25" d="M765.8 242.4l5 3.3 4.9 3.3 5 3.3 5 3.4 5 3.5 5 3.5 5 3.6 5 3.6 4.9 3.6 5 3.7 5 3.8 5 3.8 5 3.8 5 3.9 5 4 5 4 5 4 5 4.1 5 4.2 5 4.2 5 4.2 5 4.3 5 4.4 5 4.4 5 4.5 5 4.5 5 4.5 5 4.7 5 4.6 5 4.8 5 4.8 5 4.8 5 4.9 5 4.9 5 5.1 5 5 4.9 5.1 5 5.2 5 5.2 5 5.3 5 5.3 5 5.4 5 5.5 4.9 5.5 5 5.6 5 5.6 5 5.7 4.9 5.7 5 5.8 5 5.9 4.9 5.9 5 6 5 6 4.9 6.1 5 6.2 4.9 6.2 5 6.3 4.9 6.3 5 6.4 4.9 6.4 4.9 6.6 5 6.5 4.9 6.7 4.9 6.7 5 6.8 4.9 6.8 4.9 6.9 4.9 6.9 4.9 7.1 4.9 7 4.9 7.2 4.9 7.2 4.9 7.3 4.9 7.3 4.9 7.4 4.8 7.5 4.9 7.5 4.9 7.6 4.8 7.7 4.9 7.7"/>
<path stroke-width="1.25" d="M775.8 243.3l5 3.2 5 3.2 5 3.3 5 3.3 5 3.3 5 3.4 5 3.5 5 3.5 5 3.6 5 3.6 5 3.6 5 3.7 5 3.8 5 3.8 5 3.8 5 3.9 5.1 4 5 4 5 4 5 4.1 5 4.2 5 4.2 5 4.2 5 4.3 5 4.4 5.1 4.4 5 4.5 5 4.5 5 4.6 5 4.6 5 4.7 5 4.7 5 4.8 5 4.8 5 4.9 5 5 5 5 5.1 5.1 5 5.1 5 5.1 5 5.3 4.9 5.3 5 5.3 5 5.4 5 5.5 5 5.5 5 5.5 5 5.7 5 5.7 5 5.7 4.9 5.8 5 5.9 5 5.9 5 6 4.9 6 5 6.1 5 6.2 4.9 6.2 5 6.3 4.9 6.3 5 6.4 4.9 6.5 5 6.5 4.9 6.6 4.9 6.7 5 6.7 4.9 6.8 4.9 6.8 4.9 6.9 5 6.9 4.9 7.1 4.9 7.1 4.9 7.1 4.9 7.2 4.9 7.3 4.9 7.4 4.9 7.4 4.8 7.4 4.9 7.6 4.9 7.6"/>
<path stroke-width="1.25" d="M785.9 244.2l5 3.1 5 3.1 5 3.2 5 3.2 5 3.3 5 3.3 5 3.3 5 3.4 5.1 3.5 5 3.5 5 3.6 5 3.6 5 3.6 5 3.7 5.1 3.7 5 3.8 5 3.9 5 3.9 5.1 3.9 5 4 5 4.1 5 4.1 5 4.2 5.1 4.2 5 4.2 5 4.3 5 4.4 5.1 4.4 5 4.5 5 4.5 5 4.6 5.1 4.6 5 4.7 5 4.7 5 4.8 5 4.9 5.1 4.9 5 4.9 5 5 5 5.1 5 5.1 5 5.2 5 5.2 5 5.3 5 5.4 5 5.4 5 5.4 5 5.5 5 5.6 5 5.6 5 5.7 5 5.8 5 5.8 5 5.9 5 5.9 5 6 4.9 6 5 6.1 5 6.2 4.9 6.2 5 6.3 5 6.4 4.9 6.4 5 6.4 4.9 6.6 5 6.6 4.9 6.6 5 6.7 4.9 6.8 4.9 6.9 5 6.9 4.9 6.9 4.9 7.1 4.9 7.1 4.9 7.1 4.9 7.3 4.9 7.2 4.9 7.4 4.9 7.4 4.9 7.5"/>
<path stroke-width="1.25" d="M795.9 245.1l5 3 5.1 3 5 3.1 5 3.1 5 3.2 5 3.2 5.1 3.3 5 3.3 5 3.3 5 3.4 5.1 3.5 5 3.5 5 3.5 5.1 3.6 5 3.7 5 3.7 5.1 3.7 5 3.8 5 3.9 5.1 3.9 5 3.9 5 4 5.1 4.1 5 4.1 5 4.1 5.1 4.3 5 4.2 5.1 4.3 5 4.4 5 4.4 5.1 4.5 5 4.5 5 4.6 5.1 4.6 5 4.7 5 4.7 5.1 4.8 5 4.9 5 4.9 5 4.9 5.1 5 5 5.1 5 5.1 5 5.2 5.1 5.2 5 5.3 5 5.4 5 5.4 5 5.5 5 5.5 5 5.6 5 5.6 5 5.7 5 5.8 5 5.8 5 5.8 5 6 5 6 5 6 5 6.1 4.9 6.2 5 6.2 5 6.3 5 6.4 4.9 6.4 5 6.5 4.9 6.5 5 6.6 5 6.7 4.9 6.7 4.9 6.8 5 6.8 4.9 6.9 4.9 7 5 7.1 4.9 7.1 4.9 7.1 4.9 7.3 4.9 7.3 4.9 7.3"/>
<path stroke-width="1.25" d="M806 246l5 2.9 5 2.9 5 3 5.1 3 5 3.1 5 3.1 5.1 3.2 5 3.2 5.1 3.3 5 3.3 5 3.3 5.1 3.4 5 3.5 5.1 3.5 5 3.5 5.1 3.6 5 3.7 5.1 3.7 5 3.7 5 3.8 5.1 3.9 5 3.9 5.1 3.9 5 4 5.1 4.1 5 4.1 5.1 4.1 5 4.2 5.1 4.3 5 4.3 5.1 4.4 5 4.4 5.1 4.5 5 4.5 5.1 4.6 5 4.6 5.1 4.7 5 4.7 5.1 4.8 5 4.9 5 4.9 5.1 4.9 5 5 5 5.1 5.1 5.1 5 5.2 5 5.3 5.1 5.3 5 5.3 5 5.4 5 5.5 5.1 5.5 5 5.6 5 5.6 5 5.7 5 5.8 5 5.8 5 5.9 5 5.9 5 6 5 6.1 5 6.1 5 6.2 5 6.2 4.9 6.3 5 6.4 5 6.4 5 6.5 4.9 6.5 5 6.6 4.9 6.7 5 6.7 4.9 6.8 5 6.9 4.9 6.9 5 7 4.9 7 4.9 7.1 4.9 7.2 4.9 7.2"/>
<path stroke-width="1.25" d="M816 246.9l5 2.8 5.1 2.8 5 2.9 5.1 2.9 5 3 5 3 5.1 3.1 5 3.1 5.1 3.2 5 3.2 5.1 3.3 5.1 3.3 5 3.3 5.1 3.4 5 3.5 5.1 3.5 5 3.5 5.1 3.6 5.1 3.7 5 3.6 5.1 3.8 5.1 3.8 5 3.8 5.1 3.9 5 4 5.1 4 5.1 4 5 4.1 5.1 4.2 5.1 4.2 5 4.3 5.1 4.3 5 4.3 5.1 4.5 5.1 4.4 5 4.6 5.1 4.5 5 4.7 5.1 4.6 5.1 4.8 5 4.8 5.1 4.8 5 4.9 5.1 5 5 5 5.1 5.1 5 5.1 5 5.2 5.1 5.3 5 5.3 5.1 5.3 5 5.4 5 5.5 5 5.5 5.1 5.6 5 5.7 5 5.7 5 5.7 5 5.8 5.1 5.9 5 6 5 6 5 6 5 6.1 5 6.2 5 6.3 4.9 6.3 5 6.3 5 6.5 5 6.4 5 6.6 4.9 6.6 5 6.7 4.9 6.7 5 6.8 4.9 6.9 5 6.9 4.9 7 5 7 4.9 7.2"/>
<path stroke-width="1.25" d="M826 247.8l5.1 2.7 5 2.7 5.1 2.8 5 2.8 5.1 2.9 5 2.9 5.1 3 5.1 3 5 3.1 5.1 3.1 5.1 3.2 5 3.2 5.1 3.2 5.1 3.3 5 3.4 5.1 3.4 5.1 3.4 5.1 3.5 5 3.6 5.1 3.6 5.1 3.6 5.1 3.7 5 3.8 5.1 3.8 5.1 3.8 5.1 3.9 5.1 3.9 5 4 5.1 4.1 5.1 4.1 5.1 4.2 5 4.2 5.1 4.2 5.1 4.3 5.1 4.4 5 4.4 5.1 4.5 5.1 4.5 5 4.6 5.1 4.6 5.1 4.7 5 4.8 5.1 4.8 5.1 4.8 5 4.9 5.1 5 5.1 5 5 5.1 5.1 5.1 5 5.2 5.1 5.2 5 5.3 5.1 5.4 5 5.4 5 5.5 5.1 5.5 5 5.6 5.1 5.7 5 5.7 5 5.7 5 5.9 5.1 5.8 5 6 5 6 5 6 5 6.2 5 6.2 5 6.2 5 6.3 5 6.4 5 6.4 5 6.5 4.9 6.6 5 6.6 5 6.6 4.9 6.8 5 6.8 5 6.9 4.9 6.9 5 7"/>
<path stroke-width="1.25" d="M836.1 248.7l5 2.6 5.1 2.6 5 2.7 5.1 2.7 5.1 2.8 5 2.9 5.1 2.8 5.1 2.9 5.1 3 5 3 5.1 3.1 5.1 3.1 5.1 3.2 5.1 3.2 5.1 3.2 5 3.3 5.1 3.4 5.1 3.4 5.1 3.4 5.1 3.5 5.1 3.5 5.1 3.6 5.1 3.7 5.1 3.7 5 3.7 5.1 3.8 5.1 3.9 5.1 3.8 5.1 4 5.1 4 5.1 4 5.1 4.1 5.1 4.2 5.1 4.2 5 4.3 5.1 4.3 5.1 4.3 5.1 4.5 5.1 4.4 5.1 4.6 5.1 4.5 5 4.7 5.1 4.7 5.1 4.7 5.1 4.8 5.1 4.9 5 4.9 5.1 4.9 5.1 5 5 5.1 5.1 5.2 5.1 5.1 5 5.3 5.1 5.3 5 5.4 5.1 5.4 5 5.5 5.1 5.5 5 5.6 5.1 5.6 5 5.7 5 5.8 5.1 5.8 5 5.9 5 6 5.1 6 5 6 5 6.2 5 6.2 5 6.2 5 6.3 5 6.4 5 6.4 5 6.5 5 6.6 5 6.6 4.9 6.7 5 6.7 5 6.8 4.9 6.9"/>
<path stroke-width="1.26" d="M846.1 249.5l5 2.5 5.1 2.6 5.1 2.6 5.1 2.6 5.1 2.7 5 2.8 5.1 2.7 5.1 2.9 5.1 2.8 5.1 2.9 5.1 3 5.1 3 5.1 3.1 5.1 3.1 5.1 3.1 5.1 3.2 5.1 3.3 5.1 3.3 5.1 3.3 5.1 3.4 5.1 3.5 5.1 3.5 5.1 3.5 5.1 3.6 5.1 3.6 5.1 3.7 5.1 3.8 5.1 3.8 5.1 3.8 5.1 3.9 5.1 3.9 5.1 4 5.1 4.1 5.1 4.1 5.1 4.1 5.1 4.2 5.1 4.3 5.1 4.3 5.1 4.4 5.1 4.4 5.1 4.5 5.1 4.5 5.1 4.6 5.1 4.6 5.1 4.7 5.1 4.7 5.1 4.8 5.1 4.9 5.1 4.9 5.1 5 5 5 5.1 5.1 5.1 5.1 5.1 5.2 5 5.2 5.1 5.3 5.1 5.4 5 5.4 5.1 5.5 5 5.5 5.1 5.6 5.1 5.7 5 5.7 5 5.8 5.1 5.8 5 5.9 5.1 5.9 5 6.1 5 6 5 6.2 5.1 6.1 5 6.3 5 6.3 5 6.4 5 6.4 5 6.5 5 6.6 5 6.6 5 6.7 4.9 6.8"/>
<path stroke-width="1.26" d="M856.1 250.4l5.1 2.4 5.1 2.5 5 2.5 5.1 2.5 5.1 2.6 5.1 2.6 5.1 2.7 5.1 2.8 5.1 2.7 5.1 2.8 5.1 2.9 5.1 2.9 5.2 3 5.1 3 5.1 3 5.1 3.1 5.1 3.2 5.1 3.2 5.1 3.2 5.2 3.3 5.1 3.4 5.1 3.4 5.1 3.4 5.1 3.5 5.1 3.5 5.2 3.6 5.1 3.7 5.1 3.6 5.1 3.8 5.1 3.8 5.2 3.8 5.1 3.9 5.1 4 5.1 4 5.1 4 5.2 4.1 5.1 4.1 5.1 4.3 5.1 4.2 5.1 4.3 5.1 4.4 5.1 4.4 5.1 4.5 5.2 4.5 5.1 4.6 5.1 4.6 5.1 4.7 5.1 4.7 5.1 4.8 5.1 4.9 5.1 4.9 5.1 5 5.1 5 5 5.1 5.1 5.1 5.1 5.2 5.1 5.3 5.1 5.3 5.1 5.3 5 5.4 5.1 5.5 5.1 5.6 5 5.6 5.1 5.6 5 5.7 5.1 5.8 5.1 5.8 5 5.9 5 6 5.1 6 5 6.1 5.1 6.1 5 6.2 5 6.3 5 6.3 5 6.4 5 6.4 5.1 6.5 5 6.6 4.9 6.6"/>
<path stroke-width="1.27" d="M866.1 251.3l5.1 2.3 5.1 2.3 5.1 2.4 5.1 2.5 5.1 2.5 5.1 2.5 5.1 2.6 5.1 2.6 5.2 2.7 5.1 2.7 5.1 2.8 5.1 2.8 5.1 2.9 5.2 2.9 5.1 3 5.1 3 5.1 3 5.2 3.1 5.1 3.2 5.1 3.1 5.2 3.3 5.1 3.3 5.1 3.3 5.2 3.4 5.1 3.4 5.1 3.5 5.2 3.6 5.1 3.5 5.1 3.7 5.2 3.7 5.1 3.7 5.1 3.8 5.2 3.8 5.1 3.9 5.1 4 5.2 4 5.1 4 5.1 4.1 5.2 4.1 5.1 4.3 5.1 4.2 5.1 4.3 5.2 4.4 5.1 4.4 5.1 4.5 5.1 4.5 5.2 4.6 5.1 4.6 5.1 4.7 5.1 4.7 5.1 4.8 5.1 4.9 5.1 4.9 5.1 5 5.1 5 5.1 5.1 5.1 5.1 5.1 5.2 5.1 5.2 5.1 5.4 5.1 5.3 5.1 5.4 5.1 5.5 5 5.6 5.1 5.6 5.1 5.6 5.1 5.7 5 5.8 5.1 5.9 5 5.8 5.1 6 5 6 5.1 6.1 5 6.1 5.1 6.2 5 6.3 5 6.3 5 6.4 5.1 6.4 5 6.5"/>
<path stroke-width="1.27" d="M876.1 252.1l5.1 2.2 5.1 2.3 5.1 2.3 5.1 2.4 5.2 2.4 5.1 2.4 5.1 2.5 5.1 2.5 5.2 2.6 5.1 2.6 5.1 2.7 5.2 2.7 5.1 2.8 5.2 2.8 5.1 2.9 5.1 2.9 5.2 2.9 5.1 3 5.2 3.1 5.1 3.1 5.2 3.1 5.1 3.2 5.1 3.2 5.2 3.3 5.1 3.3 5.2 3.4 5.1 3.5 5.2 3.4 5.1 3.6 5.2 3.6 5.1 3.6 5.2 3.7 5.1 3.7 5.2 3.8 5.1 3.8 5.2 3.9 5.1 4 5.2 3.9 5.1 4.1 5.2 4.1 5.1 4.1 5.2 4.2 5.1 4.3 5.1 4.3 5.2 4.4 5.1 4.4 5.1 4.4 5.2 4.6 5.1 4.5 5.1 4.7 5.2 4.7 5.1 4.7 5.1 4.8 5.1 4.9 5.2 4.9 5.1 4.9 5.1 5.1 5.1 5 5.1 5.2 5.1 5.2 5.1 5.2 5.1 5.3 5.1 5.4 5.1 5.4 5.1 5.5 5.1 5.5 5.1 5.6 5.1 5.7 5 5.7 5.1 5.8 5.1 5.8 5 5.9 5.1 6 5.1 6 5 6.1 5.1 6.1 5 6.2 5 6.3 5.1 6.3 5 6.4"/>
<path stroke-width="1.28" d="M886.1 252.9l5.1 2.2 5.1 2.2 5.2 2.2 5.1 2.2 5.1 2.3 5.2 2.4 5.1 2.4 5.2 2.4 5.1 2.5 5.1 2.5 5.2 2.6 5.1 2.6 5.2 2.7 5.1 2.7 5.2 2.8 5.1 2.8 5.2 2.8 5.2 2.9 5.1 3 5.2 3 5.1 3 5.2 3.1 5.2 3.1 5.1 3.2 5.2 3.2 5.2 3.3 5.1 3.3 5.2 3.4 5.2 3.5 5.1 3.4 5.2 3.6 5.1 3.5 5.2 3.7 5.2 3.7 5.1 3.7 5.2 3.8 5.2 3.8 5.1 3.9 5.2 3.9 5.1 4 5.2 4.1 5.2 4 5.1 4.2 5.2 4.2 5.1 4.2 5.2 4.4 5.1 4.3 5.2 4.4 5.1 4.5 5.2 4.5 5.1 4.6 5.2 4.6 5.1 4.7 5.2 4.8 5.1 4.8 5.1 4.8 5.2 4.9 5.1 5 5.1 5 5.1 5.1 5.1 5.1 5.2 5.2 5.1 5.3 5.1 5.3 5.1 5.3 5.1 5.5 5.1 5.5 5.1 5.5 5.1 5.6 5.1 5.7 5.1 5.7 5.1 5.8 5 5.8 5.1 5.9 5.1 6 5 6 5.1 6.1 5.1 6.1 5 6.2 5.1 6.3"/>
<path stroke-width="1.28" d="M896.1 253.8l5.1 2 5.2 2.1 5.1 2.1 5.1 2.2 5.2 2.2 5.1 2.3 5.2 2.3 5.2 2.3 5.1 2.4 5.2 2.4 5.1 2.5 5.2 2.5 5.2 2.6 5.1 2.6 5.2 2.7 5.2 2.7 5.1 2.7 5.2 2.8 5.2 2.9 5.2 2.9 5.1 2.9 5.2 3 5.2 3 5.2 3.1 5.1 3.1 5.2 3.2 5.2 3.2 5.2 3.3 5.2 3.3 5.1 3.4 5.2 3.4 5.2 3.5 5.2 3.5 5.2 3.6 5.1 3.6 5.2 3.7 5.2 3.7 5.2 3.8 5.2 3.9 5.1 3.8 5.2 4 5.2 4 5.2 4 5.1 4.1 5.2 4.1 5.2 4.2 5.1 4.3 5.2 4.3 5.2 4.3 5.1 4.5 5.2 4.4 5.2 4.5 5.1 4.6 5.2 4.6 5.1 4.7 5.2 4.8 5.1 4.8 5.2 4.8 5.1 4.9 5.1 5 5.2 5 5.1 5.1 5.2 5.1 5.1 5.2 5.1 5.3 5.1 5.3 5.1 5.4 5.2 5.4 5.1 5.5 5.1 5.5 5.1 5.6 5.1 5.7 5.1 5.7 5.1 5.8 5.1 5.8 5 5.9 5.1 6 5.1 6 5.1 6.1 5 6.1"/>
<path stroke-width="1.29" d="M906.1 254.6l5.1 2 5.2 1.9 5.1 2.1 5.2 2.1 5.1 2.1 5.2 2.1 5.2 2.2 5.2 2.3 5.1 2.3 5.2 2.3 5.2 2.4 5.1 2.4 5.2 2.5 5.2 2.5 5.2 2.6 5.2 2.6 5.2 2.6 5.2 2.7 5.1 2.8 5.2 2.8 5.2 2.8 5.2 2.9 5.2 2.9 5.2 3 5.2 3 5.2 3.1 5.2 3.1 5.2 3.2 5.2 3.2 5.2 3.3 5.2 3.3 5.2 3.4 5.2 3.4 5.2 3.5 5.2 3.5 5.1 3.6 5.2 3.6 5.2 3.7 5.2 3.7 5.2 3.8 5.2 3.8 5.2 3.9 5.2 3.9 5.2 4 5.2 4 5.2 4.1 5.1 4.1 5.2 4.2 5.2 4.3 5.2 4.3 5.2 4.4 5.1 4.4 5.2 4.4 5.2 4.5 5.2 4.6 5.1 4.6 5.2 4.7 5.2 4.8 5.1 4.8 5.2 4.8 5.1 4.9 5.2 5 5.1 5 5.2 5.1 5.1 5.1 5.2 5.2 5.1 5.3 5.1 5.3 5.2 5.4 5.1 5.4 5.1 5.5 5.1 5.5 5.1 5.6 5.1 5.7 5.2 5.7 5.1 5.8 5.1 5.8 5 5.9 5.1 6 5.1 6"/>
<path stroke-width="1.3" d="M916 255.4l5.2 1.9 5.2 1.9 5.1 1.9 5.2 2 5.2 2 5.2 2.1 5.2 2.1 5.1 2.1 5.2 2.2 5.2 2.3 5.2 2.3 5.2 2.3 5.2 2.4 5.2 2.4 5.2 2.4 5.2 2.6 5.2 2.5 5.2 2.6 5.2 2.7 5.2 2.6 5.2 2.8 5.2 2.8 5.2 2.8 5.2 2.9 5.2 2.9 5.3 3 5.2 3 5.2 3.1 5.2 3.1 5.2 3.2 5.2 3.2 5.2 3.3 5.2 3.3 5.2 3.3 5.3 3.5 5.2 3.4 5.2 3.5 5.2 3.6 5.2 3.6 5.2 3.7 5.2 3.7 5.2 3.8 5.2 3.8 5.2 3.9 5.2 3.9 5.3 4 5.2 4 5.2 4.1 5.2 4.1 5.1 4.2 5.2 4.3 5.2 4.3 5.2 4.3 5.2 4.4 5.2 4.5 5.2 4.5 5.2 4.6 5.2 4.6 5.1 4.7 5.2 4.7 5.2 4.8 5.2 4.9 5.1 4.9 5.2 5 5.1 5 5.2 5.1 5.2 5.1 5.1 5.2 5.2 5.2 5.1 5.3 5.1 5.4 5.2 5.4 5.1 5.5 5.1 5.6 5.2 5.6 5.1 5.6 5.1 5.8 5.1 5.7 5.1 5.9 5.1 5.9"/>
<path stroke-width="1.31" d="M926 256.3l5.2 1.7 5.2 1.8 5.2 1.9 5.2 1.8 5.1 2 5.2 1.9 5.2 2.1 5.2 2 5.2 2.1 5.2 2.2 5.2 2.1 5.3 2.3 5.2 2.2 5.2 2.4 5.2 2.3 5.2 2.4 5.2 2.5 5.2 2.5 5.3 2.5 5.2 2.6 5.2 2.7 5.2 2.7 5.2 2.7 5.3 2.8 5.2 2.8 5.2 2.9 5.2 2.9 5.3 3 5.2 3 5.2 3 5.3 3.2 5.2 3.1 5.2 3.2 5.2 3.3 5.3 3.3 5.2 3.4 5.2 3.4 5.3 3.4 5.2 3.6 5.2 3.5 5.2 3.6 5.3 3.7 5.2 3.7 5.2 3.8 5.2 3.8 5.2 3.9 5.3 3.9 5.2 4 5.2 4 5.2 4.1 5.2 4.1 5.2 4.2 5.3 4.2 5.2 4.3 5.2 4.4 5.2 4.4 5.2 4.5 5.2 4.5 5.2 4.5 5.2 4.7 5.1 4.6 5.2 4.8 5.2 4.8 5.2 4.8 5.2 4.9 5.2 5 5.1 5 5.2 5.1 5.2 5.1 5.1 5.2 5.2 5.3 5.1 5.3 5.2 5.3 5.1 5.5 5.2 5.5 5.1 5.5 5.2 5.6 5.1 5.7 5.1 5.7 5.1 5.8"/>
<path stroke-width="1.32" d="M936 257.1l5.2 1.6 5.2 1.7 5.2 1.8 5.2 1.8 5.2 1.8 5.2 1.9 5.2 1.9 5.2 2 5.2 2 5.3 2 5.2 2.1 5.2 2.1 5.2 2.2 5.2 2.2 5.3 2.3 5.2 2.3 5.2 2.4 5.3 2.4 5.2 2.4 5.2 2.5 5.3 2.6 5.2 2.5 5.3 2.7 5.2 2.7 5.2 2.7 5.3 2.8 5.2 2.8 5.3 2.8 5.2 3 5.3 2.9 5.2 3 5.3 3.1 5.2 3.1 5.2 3.2 5.3 3.2 5.2 3.2 5.3 3.3 5.2 3.4 5.3 3.4 5.2 3.4 5.3 3.5 5.2 3.6 5.2 3.6 5.3 3.7 5.2 3.7 5.3 3.7 5.2 3.9 5.2 3.8 5.3 3.9 5.2 4 5.2 4 5.3 4.1 5.2 4.2 5.2 4.1 5.2 4.3 5.2 4.3 5.3 4.3 5.2 4.4 5.2 4.5 5.2 4.5 5.2 4.6 5.2 4.6 5.2 4.7 5.2 4.7 5.2 4.8 5.2 4.8 5.2 4.9 5.2 5 5.2 5 5.2 5.1 5.1 5.1 5.2 5.2 5.2 5.3 5.2 5.3 5.1 5.3 5.2 5.5 5.1 5.4 5.2 5.6 5.1 5.6 5.2 5.7"/>
<path stroke-width="1.33" d="M946 257.9l5.2 1.6 5.2 1.6 5.2 1.6 5.2 1.7 5.2 1.8 5.2 1.7 5.3 1.9 5.2 1.8 5.2 1.9 5.3 2 5.2 2 5.2 2 5.3 2.1 5.2 2.1 5.3 2.2 5.2 2.2 5.3 2.3 5.2 2.3 5.3 2.3 5.2 2.4 5.3 2.4 5.2 2.5 5.3 2.6 5.2 2.5 5.3 2.7 5.3 2.6 5.2 2.7 5.3 2.8 5.2 2.8 5.3 2.9 5.3 2.9 5.2 2.9 5.3 3.1 5.2 3 5.3 3.1 5.3 3.2 5.2 3.2 5.3 3.2 5.3 3.3 5.2 3.4 5.3 3.4 5.2 3.4 5.3 3.5 5.2 3.6 5.3 3.6 5.3 3.6 5.2 3.7 5.3 3.8 5.2 3.8 5.3 3.9 5.2 3.9 5.3 3.9 5.2 4.1 5.3 4 5.2 4.2 5.2 4.2 5.3 4.2 5.2 4.3 5.2 4.3 5.3 4.4 5.2 4.5 5.2 4.5 5.2 4.5 5.3 4.7 5.2 4.6 5.2 4.8 5.2 4.8 5.2 4.8 5.2 4.9 5.2 5 5.2 5 5.2 5.1 5.2 5.1 5.2 5.2 5.2 5.2 5.1 5.3 5.2 5.4 5.2 5.4 5.1 5.5 5.2 5.6"/>
<path stroke-width="1.34" d="M955.9 258.7l5.2 1.5 5.3 1.5 5.2 1.5 5.2 1.6 5.3 1.7 5.2 1.7 5.2 1.7 5.3 1.8 5.2 1.8 5.3 1.8 5.2 1.9 5.3 2 5.2 2 5.3 2 5.3 2.1 5.2 2.1 5.3 2.1 5.2 2.2 5.3 2.3 5.3 2.3 5.3 2.3 5.2 2.4 5.3 2.4 5.3 2.5 5.2 2.5 5.3 2.6 5.3 2.6 5.3 2.7 5.2 2.7 5.3 2.8 5.3 2.8 5.3 2.8 5.3 2.9 5.2 3 5.3 3 5.3 3 5.3 3.1 5.3 3.1 5.2 3.2 5.3 3.3 5.3 3.3 5.3 3.3 5.3 3.4 5.2 3.5 5.3 3.5 5.3 3.5 5.2 3.6 5.3 3.7 5.3 3.7 5.3 3.7 5.2 3.8 5.3 3.9 5.3 3.9 5.2 3.9 5.3 4.1 5.2 4 5.3 4.2 5.2 4.1 5.3 4.3 5.2 4.3 5.3 4.3 5.2 4.4 5.3 4.4 5.2 4.5 5.3 4.6 5.2 4.6 5.2 4.7 5.2 4.7 5.3 4.8 5.2 4.9 5.2 4.9 5.2 4.9 5.2 5 5.2 5.1 5.2 5.1 5.2 5.2 5.2 5.3 5.2 5.3 5.2 5.3 5.2 5.5"/>
<path stroke-width="1.35" d="M965.9 259.5l5.2 1.4 5.3 1.4 5.2 1.5 5.2 1.5 5.3 1.5 5.2 1.6 5.3 1.6 5.3 1.7 5.2 1.7 5.3 1.8 5.3 1.8 5.2 1.8 5.3 1.9 5.3 1.9 5.2 2 5.3 2 5.3 2.1 5.3 2.1 5.3 2.2 5.2 2.2 5.3 2.2 5.3 2.3 5.3 2.3 5.3 2.4 5.3 2.4 5.3 2.5 5.3 2.5 5.3 2.6 5.3 2.6 5.3 2.6 5.3 2.7 5.3 2.8 5.3 2.8 5.2 2.8 5.3 2.9 5.3 2.9 5.3 3 5.3 3.1 5.3 3.1 5.3 3.1 5.3 3.2 5.3 3.2 5.3 3.3 5.3 3.4 5.3 3.3 5.3 3.5 5.3 3.5 5.3 3.5 5.3 3.6 5.3 3.6 5.2 3.7 5.3 3.8 5.3 3.8 5.3 3.8 5.3 4 5.2 3.9 5.3 4 5.3 4.1 5.3 4.1 5.2 4.2 5.3 4.2 5.3 4.3 5.2 4.3 5.3 4.4 5.2 4.5 5.3 4.5 5.2 4.5 5.3 4.6 5.2 4.7 5.3 4.7 5.2 4.8 5.2 4.9 5.3 4.9 5.2 4.9 5.2 5 5.2 5.1 5.2 5.1 5.2 5.2 5.2 5.3 5.2 5.3"/>
<path stroke-width="1.36" d="M975.8 260.3l5.3 1.3 5.2 1.3 5.3 1.4 5.3 1.4 5.2 1.4 5.3 1.5 5.3 1.6 5.2 1.5 5.3 1.7 5.3 1.6 5.3 1.7 5.3 1.8 5.2 1.8 5.3 1.8 5.3 1.9 5.3 1.9 5.3 2 5.3 2 5.3 2 5.3 2.1 5.3 2.2 5.3 2.1 5.3 2.3 5.3 2.3 5.3 2.3 5.4 2.3 5.3 2.5 5.3 2.4 5.3 2.5 5.3 2.6 5.3 2.6 5.3 2.6 5.3 2.7 5.4 2.8 5.3 2.7 5.3 2.9 5.3 2.9 5.3 2.9 5.3 3 5.3 3 5.4 3.1 5.3 3.1 5.3 3.2 5.3 3.2 5.3 3.3 5.3 3.4 5.3 3.3 5.3 3.5 5.3 3.5 5.3 3.5 5.4 3.6 5.3 3.6 5.3 3.7 5.3 3.8 5.3 3.7 5.3 3.9 5.2 3.9 5.3 4 5.3 4 5.3 4 5.3 4.1 5.3 4.2 5.3 4.2 5.2 4.3 5.3 4.3 5.3 4.4 5.3 4.5 5.2 4.5 5.3 4.5 5.2 4.6 5.3 4.7 5.3 4.7 5.2 4.8 5.2 4.8 5.3 4.9 5.2 5 5.3 5 5.2 5.1 5.2 5.1 5.2 5.2"/>
<path stroke-width="1.37" d="M985.8 261.1l5.2 1.2 5.3 1.2 5.3 1.3 5.3 1.3 5.2 1.4 5.3 1.4 5.3 1.4 5.3 1.5 5.3 1.5 5.3 1.6 5.3 1.6 5.3 1.6 5.3 1.7 5.3 1.8 5.3 1.7 5.3 1.9 5.3 1.8 5.3 1.9 5.4 2 5.3 2 5.3 2 5.3 2.1 5.3 2.1 5.4 2.2 5.3 2.2 5.3 2.3 5.3 2.3 5.4 2.4 5.3 2.4 5.3 2.4 5.4 2.5 5.3 2.6 5.3 2.6 5.4 2.6 5.3 2.7 5.3 2.7 5.4 2.8 5.3 2.8 5.3 2.9 5.4 2.9 5.3 3 5.3 3 5.4 3.1 5.3 3.1 5.3 3.2 5.3 3.2 5.4 3.3 5.3 3.3 5.3 3.4 5.4 3.4 5.3 3.5 5.3 3.5 5.3 3.6 5.3 3.7 5.4 3.6 5.3 3.8 5.3 3.8 5.3 3.8 5.3 3.9 5.3 4 5.3 4 5.3 4 5.3 4.1 5.3 4.2 5.3 4.2 5.3 4.3 5.3 4.3 5.3 4.4 5.3 4.4 5.2 4.5 5.3 4.6 5.3 4.6 5.3 4.6 5.2 4.8 5.3 4.7 5.2 4.9 5.3 4.9 5.2 4.9 5.3 5 5.2 5.1"/>
<path stroke-width="1.39" d="M995.7 261.8l5.3 1.1 5.3 1.2 5.3 1.2 5.3 1.2 5.3 1.3 5.3 1.3 5.3 1.3 5.3 1.4 5.3 1.4 5.3 1.5 5.3 1.5 5.3 1.6 5.3 1.6 5.4 1.6 5.3 1.7 5.3 1.7 5.3 1.8 5.4 1.8 5.3 1.9 5.3 1.9 5.4 1.9 5.3 2 5.4 2 5.3 2.1 5.3 2.1 5.4 2.2 5.3 2.2 5.4 2.2 5.3 2.3 5.4 2.4 5.3 2.4 5.4 2.4 5.3 2.5 5.4 2.6 5.3 2.5 5.4 2.7 5.3 2.6 5.4 2.8 5.3 2.7 5.4 2.9 5.3 2.8 5.4 3 5.3 2.9 5.4 3 5.3 3.1 5.4 3.1 5.3 3.2 5.4 3.2 5.3 3.3 5.4 3.3 5.3 3.4 5.4 3.4 5.3 3.4 5.3 3.6 5.4 3.5 5.3 3.7 5.3 3.6 5.4 3.8 5.3 3.8 5.3 3.8 5.3 3.9 5.4 3.9 5.3 4 5.3 4.1 5.3 4.1 5.3 4.1 5.3 4.3 5.4 4.2 5.3 4.3 5.3 4.4 5.3 4.5 5.2 4.5 5.3 4.5 5.3 4.6 5.3 4.7 5.3 4.7 5.3 4.7 5.2 4.9 5.3 4.9 5.3 4.9"/>
<path stroke-width="1.4" d="M1005.6 262.6l5.3 1 5.3 1.1 5.3 1.1 5.4 1.1 5.3 1.2 5.3 1.2 5.3 1.2 5.3 1.3 5.4 1.4 5.3 1.3 5.3 1.5 5.3 1.4 5.4 1.5 5.3 1.6 5.4 1.5 5.3 1.7 5.4 1.6 5.3 1.8 5.4 1.7 5.3 1.8 5.4 1.9 5.3 1.8 5.4 2 5.3 2 5.4 2 5.4 2 5.3 2.1 5.4 2.2 5.3 2.2 5.4 2.2 5.4 2.3 5.4 2.4 5.3 2.4 5.4 2.4 5.4 2.5 5.3 2.5 5.4 2.6 5.4 2.6 5.3 2.7 5.4 2.7 5.4 2.7 5.3 2.9 5.4 2.8 5.4 2.9 5.4 3 5.3 3 5.4 3.1 5.4 3.1 5.3 3.1 5.4 3.2 5.3 3.3 5.4 3.3 5.4 3.4 5.3 3.4 5.4 3.4 5.3 3.6 5.4 3.5 5.3 3.6 5.4 3.7 5.3 3.7 5.4 3.8 5.3 3.8 5.4 3.9 5.3 4 5.3 4 5.4 4 5.3 4.1 5.3 4.2 5.4 4.2 5.3 4.2 5.3 4.3 5.3 4.4 5.3 4.5 5.3 4.4 5.3 4.6 5.3 4.6 5.3 4.6 5.3 4.7 5.3 4.8 5.3 4.8"/>
<path stroke-width="1.41" d="M1015.6 263.4l5.3 0.9 5.3 0.9 5.3 1 5.4 1.1 5.3 1.1 5.3 1.1 5.3 1.1 5.4 1.2 5.3 1.3 5.4 1.3 5.3 1.3 5.4 1.3 5.3 1.5 5.4 1.4 5.3 1.5 5.4 1.5 5.4 1.6 5.3 1.6 5.4 1.7 5.4 1.7 5.3 1.7 5.4 1.8 5.4 1.8 5.4 1.9 5.3 1.9 5.4 2 5.4 2 5.4 2.1 5.4 2.1 5.4 2.1 5.3 2.2 5.4 2.2 5.4 2.3 5.4 2.3 5.4 2.4 5.4 2.4 5.4 2.5 5.4 2.5 5.3 2.6 5.4 2.6 5.4 2.7 5.4 2.7 5.4 2.7 5.4 2.8 5.4 2.9 5.4 2.9 5.4 2.9 5.3 3 5.4 3.1 5.4 3.1 5.4 3.1 5.4 3.2 5.4 3.3 5.3 3.3 5.4 3.3 5.4 3.4 5.4 3.5 5.3 3.5 5.4 3.6 5.4 3.6 5.3 3.6 5.4 3.8 5.4 3.7 5.3 3.9 5.4 3.8 5.3 4 5.4 4 5.3 4 5.4 4.1 5.3 4.1 5.4 4.2 5.3 4.3 5.3 4.3 5.3 4.4 5.4 4.4 5.3 4.5 5.3 4.5 5.3 4.6 5.3 4.7 5.3 4.7"/>
<path stroke-width="1.42" d="M1025.5 264.1l5.3 0.9 5.4 0.8 5.3 0.9 5.3 1 5.4 1 5.3 1 5.4 1.1 5.3 1.1 5.4 1.1 5.4 1.2 5.3 1.2 5.4 1.3 5.4 1.3 5.3 1.3 5.4 1.4 5.4 1.5 5.4 1.4 5.4 1.6 5.3 1.5 5.4 1.6 5.4 1.7 5.4 1.7 5.4 1.7 5.4 1.8 5.4 1.8 5.4 1.8 5.4 2 5.4 1.9 5.4 2 5.4 2.1 5.4 2 5.4 2.2 5.4 2.2 5.4 2.2 5.4 2.3 5.4 2.3 5.4 2.3 5.5 2.4 5.4 2.5 5.4 2.5 5.4 2.6 5.4 2.6 5.4 2.6 5.4 2.7 5.4 2.8 5.4 2.8 5.4 2.8 5.4 2.9 5.4 2.9 5.4 3 5.4 3.1 5.4 3.1 5.4 3.1 5.4 3.2 5.4 3.2 5.4 3.3 5.4 3.4 5.4 3.4 5.4 3.4 5.4 3.5 5.4 3.6 5.4 3.6 5.4 3.6 5.3 3.8 5.4 3.7 5.4 3.8 5.4 3.9 5.3 3.9 5.4 4 5.4 4 5.3 4.1 5.4 4.2 5.3 4.2 5.4 4.2 5.3 4.3 5.4 4.4 5.3 4.4 5.3 4.5 5.4 4.5 5.3 4.6"/>
<path stroke-width="1.43" d="M1035.4 264.9l5.4 0.7 5.3 0.8 5.4 0.8 5.3 0.9 5.4 0.8 5.4 1 5.3 1 5.4 1 5.4 1 5.3 1.1 5.4 1.1 5.4 1.2 5.4 1.2 5.4 1.3 5.4 1.3 5.4 1.3 5.4 1.4 5.4 1.4 5.4 1.5 5.4 1.5 5.4 1.5 5.4 1.6 5.4 1.6 5.4 1.7 5.4 1.7 5.5 1.8 5.4 1.8 5.4 1.9 5.4 1.9 5.4 1.9 5.5 2 5.4 2 5.4 2.1 5.4 2.1 5.5 2.2 5.4 2.2 5.4 2.3 5.5 2.3 5.4 2.3 5.4 2.4 5.4 2.5 5.5 2.5 5.4 2.5 5.4 2.6 5.4 2.6 5.5 2.7 5.4 2.8 5.4 2.8 5.5 2.8 5.4 2.9 5.4 2.9 5.4 3 5.4 3 5.5 3.1 5.4 3.1 5.4 3.2 5.4 3.3 5.4 3.2 5.4 3.4 5.4 3.4 5.5 3.4 5.4 3.5 5.4 3.6 5.4 3.6 5.4 3.6 5.4 3.7 5.4 3.8 5.3 3.8 5.4 3.8 5.4 4 5.4 3.9 5.4 4.1 5.4 4 5.3 4.2 5.4 4.2 5.4 4.2 5.3 4.3 5.4 4.4 5.3 4.4 5.4 4.5"/>
<path stroke-width="1.44" d="M1045.3 265.6l5.4 0.7 5.4 0.7 5.3 0.7 5.4 0.7 5.4 0.8 5.4 0.9 5.4 0.8 5.3 1 5.4 0.9 5.4 1 5.4 1 5.4 1.1 5.4 1.1 5.4 1.2 5.5 1.2 5.4 1.2 5.4 1.3 5.4 1.3 5.4 1.4 5.4 1.4 5.5 1.5 5.4 1.5 5.4 1.5 5.5 1.6 5.4 1.6 5.4 1.7 5.5 1.7 5.4 1.7 5.4 1.8 5.5 1.8 5.4 1.9 5.5 2 5.4 1.9 5.5 2.1 5.4 2 5.5 2.1 5.4 2.2 5.5 2.2 5.4 2.2 5.4 2.3 5.5 2.4 5.4 2.4 5.5 2.4 5.4 2.5 5.5 2.5 5.4 2.6 5.5 2.6 5.4 2.7 5.5 2.7 5.4 2.8 5.5 2.8 5.4 2.9 5.4 2.9 5.5 3 5.4 3 5.5 3.1 5.4 3.1 5.4 3.2 5.5 3.2 5.4 3.3 5.4 3.4 5.5 3.3 5.4 3.5 5.4 3.5 5.4 3.5 5.4 3.6 5.5 3.6 5.4 3.7 5.4 3.8 5.4 3.8 5.4 3.8 5.4 3.9 5.4 4 5.4 4 5.4 4.1 5.4 4.1 5.4 4.2 5.3 4.3 5.4 4.3 5.4 4.3"/>
<path stroke-width="1.46" d="M1055.2 266.4l5.4 0.5 5.4 0.6 5.4 0.6 5.4 0.7 5.4 0.7 5.4 0.8 5.4 0.7 5.4 0.9 5.4 0.8 5.4 0.9 5.4 1 5.4 0.9 5.5 1.1 5.4 1 5.4 1.1 5.5 1.2 5.4 1.2 5.4 1.2 5.5 1.2 5.4 1.4 5.5 1.3 5.4 1.4 5.4 1.4 5.5 1.5 5.4 1.5 5.5 1.6 5.5 1.6 5.4 1.7 5.5 1.7 5.4 1.7 5.5 1.8 5.5 1.8 5.4 1.9 5.5 1.9 5.5 2 5.4 2 5.5 2 5.5 2.1 5.4 2.2 5.5 2.2 5.5 2.2 5.4 2.3 5.5 2.3 5.5 2.4 5.4 2.4 5.5 2.5 5.5 2.5 5.4 2.6 5.5 2.6 5.5 2.7 5.4 2.7 5.5 2.8 5.5 2.8 5.4 2.8 5.5 3 5.4 2.9 5.5 3 5.5 3.1 5.4 3.1 5.5 3.2 5.4 3.2 5.5 3.3 5.4 3.3 5.5 3.4 5.4 3.4 5.4 3.5 5.5 3.5 5.4 3.6 5.4 3.6 5.5 3.7 5.4 3.7 5.4 3.8 5.4 3.9 5.5 3.9 5.4 3.9 5.4 4.1 5.4 4 5.4 4.2 5.4 4.1 5.4 4.3"/>
<path stroke-width="1.47" d="M1065.2 267.1l5.3 0.5 5.4 0.5 5.4 0.5 5.5 0.6 5.4 0.6 5.4 0.6 5.4 0.7 5.4 0.7 5.5 0.8 5.4 0.8 5.4 0.9 5.5 0.9 5.4 0.9 5.4 0.9 5.5 1.1 5.4 1 5.5 1.1 5.4 1.1 5.5 1.2 5.5 1.2 5.4 1.2 5.5 1.3 5.5 1.4 5.4 1.4 5.5 1.4 5.5 1.4 5.4 1.5 5.5 1.6 5.5 1.6 5.5 1.6 5.5 1.7 5.4 1.7 5.5 1.8 5.5 1.8 5.5 1.9 5.5 1.9 5.5 1.9 5.5 2 5.5 2.1 5.4 2.1 5.5 2.1 5.5 2.2 5.5 2.2 5.5 2.3 5.5 2.3 5.5 2.4 5.5 2.4 5.5 2.5 5.4 2.5 5.5 2.5 5.5 2.6 5.5 2.7 5.5 2.7 5.5 2.8 5.4 2.8 5.5 2.8 5.5 2.9 5.5 3 5.5 3 5.4 3 5.5 3.1 5.5 3.2 5.5 3.2 5.4 3.3 5.5 3.3 5.4 3.3 5.5 3.5 5.5 3.4 5.4 3.5 5.5 3.6 5.4 3.7 5.5 3.6 5.4 3.8 5.5 3.8 5.4 3.8 5.4 3.9 5.5 3.9 5.4 4 5.4 4.1 5.4 4.1"/>
<path stroke-width="1.48" d="M1075.1 267.8l5.4 0.4 5.4 0.4 5.4 0.4 5.4 0.5 5.5 0.5 5.4 0.6 5.4 0.6 5.5 0.6 5.4 0.7 5.5 0.7 5.4 0.8 5.5 0.8 5.4 0.8 5.5 0.9 5.5 0.9 5.4 0.9 5.5 1 5.5 1 5.4 1.1 5.5 1.1 5.5 1.2 5.5 1.2 5.5 1.2 5.5 1.3 5.5 1.3 5.4 1.4 5.5 1.4 5.5 1.4 5.5 1.5 5.5 1.6 5.5 1.6 5.5 1.6 5.5 1.6 5.5 1.8 5.6 1.7 5.5 1.8 5.5 1.9 5.5 1.9 5.5 1.9 5.5 2 5.5 2 5.5 2.1 5.5 2.1 5.5 2.2 5.5 2.2 5.6 2.3 5.5 2.3 5.5 2.3 5.5 2.4 5.5 2.5 5.5 2.5 5.5 2.5 5.5 2.6 5.5 2.7 5.5 2.7 5.5 2.7 5.5 2.8 5.5 2.9 5.5 2.8 5.5 3 5.5 3 5.5 3 5.5 3.1 5.5 3.2 5.5 3.2 5.5 3.2 5.4 3.3 5.5 3.4 5.5 3.4 5.5 3.5 5.5 3.5 5.4 3.5 5.5 3.7 5.5 3.6 5.4 3.7 5.5 3.8 5.4 3.9 5.5 3.9 5.4 3.9 5.5 4"/>
<path stroke-width="1.49" d="M1084.9 268.5l5.5 0.3 5.4 0.3 5.4 0.4 5.5 0.4 5.4 0.4 5.5 0.5 5.4 0.5 5.5 0.5 5.5 0.6 5.4 0.6 5.5 0.7 5.5 0.7 5.4 0.7 5.5 0.8 5.5 0.8 5.5 0.8 5.5 0.9 5.5 1 5.5 0.9 5.5 1.1 5.5 1 5.5 1.1 5.5 1.2 5.5 1.1 5.5 1.3 5.5 1.2 5.5 1.3 5.5 1.4 5.6 1.4 5.5 1.4 5.5 1.5 5.5 1.5 5.6 1.6 5.5 1.6 5.5 1.6 5.5 1.7 5.6 1.8 5.5 1.8 5.5 1.8 5.5 1.9 5.6 1.9 5.5 2 5.5 2 5.6 2.1 5.5 2.1 5.5 2.1 5.6 2.2 5.5 2.3 5.5 2.3 5.6 2.3 5.5 2.4 5.5 2.5 5.5 2.5 5.6 2.5 5.5 2.6 5.5 2.6 5.5 2.7 5.6 2.7 5.5 2.8 5.5 2.9 5.5 2.8 5.5 3 5.6 3 5.5 3 5.5 3.1 5.5 3.1 5.5 3.2 5.5 3.2 5.5 3.3 5.5 3.4 5.5 3.4 5.5 3.4 5.5 3.5 5.5 3.6 5.4 3.6 5.5 3.7 5.5 3.7 5.5 3.8 5.5 3.8 5.4 3.9"/>
<path stroke-width="1.5" d="M1094.8 269.3l5.5 0.1 5.4 0.3 5.5 0.2 5.4 0.3 5.5 0.4 5.5 0.3 5.5 0.4 5.4 0.5 5.5 0.5 5.5 0.5 5.5 0.6 5.5 0.6 5.5 0.6 5.5 0.7 5.5 0.7 5.5 0.8 5.5 0.8 5.5 0.8 5.5 0.9 5.5 0.9 5.6 0.9 5.5 1 5.5 1.1 5.5 1.1 5.6 1.1 5.5 1.2 5.5 1.2 5.6 1.2 5.5 1.3 5.5 1.3 5.6 1.4 5.5 1.4 5.6 1.5 5.5 1.5 5.6 1.6 5.5 1.6 5.6 1.6 5.5 1.7 5.6 1.7 5.5 1.8 5.6 1.8 5.5 1.9 5.6 1.9 5.5 2 5.6 2 5.5 2 5.6 2.1 5.5 2.2 5.6 2.1 5.5 2.3 5.6 2.3 5.5 2.3 5.6 2.4 5.5 2.4 5.6 2.5 5.5 2.5 5.6 2.6 5.5 2.6 5.6 2.7 5.5 2.7 5.6 2.8 5.5 2.8 5.5 2.9 5.6 2.9 5.5 3 5.5 3 5.6 3.1 5.5 3.1 5.5 3.2 5.5 3.2 5.6 3.3 5.5 3.3 5.5 3.4 5.5 3.5 5.5 3.5 5.5 3.5 5.5 3.6 5.5 3.7 5.5 3.7 5.5 3.7"/>
<path stroke-width="1.5" d="M1104.7 270l5.5 0.1 5.5 0.1 5.4 0.2 5.5 0.2 5.5 0.2 5.5 0.3 5.5 0.3 5.5 0.4 5.5 0.4 5.5 0.4 5.5 0.4 5.5 0.6 5.5 0.5 5.5 0.6 5.5 0.6 5.6 0.7 5.5 0.7 5.5 0.7 5.5 0.8 5.6 0.8 5.5 0.9 5.6 0.9 5.5 0.9 5.6 1 5.5 1 5.6 1.1 5.5 1.1 5.6 1.1 5.5 1.2 5.6 1.3 5.6 1.3 5.5 1.3 5.6 1.3 5.5 1.4 5.6 1.5 5.6 1.5 5.6 1.5 5.5 1.6 5.6 1.6 5.6 1.7 5.5 1.7 5.6 1.8 5.6 1.8 5.6 1.8 5.5 1.9 5.6 2 5.6 2 5.6 2 5.5 2.1 5.6 2.1 5.6 2.2 5.6 2.2 5.5 2.3 5.6 2.3 5.6 2.4 5.6 2.4 5.5 2.5 5.6 2.5 5.6 2.6 5.5 2.6 5.6 2.6 5.5 2.8 5.6 2.7 5.6 2.8 5.5 2.9 5.6 2.9 5.5 3 5.6 3 5.5 3 5.6 3.2 5.5 3.1 5.6 3.3 5.5 3.2 5.5 3.4 5.6 3.3 5.5 3.5 5.5 3.5 5.5 3.5 5.6 3.6 5.5 3.6"/>
<path stroke-width="1.51" d="M1114.6 270.7l5.5 0 5.5 0 5.5 0.1 5.5 0.1 5.5 0.2 5.5 0.1 5.5 0.3 5.5 0.2 5.5 0.3 5.5 0.4 5.5 0.3 5.6 0.4 5.5 0.5 5.5 0.5 5.6 0.5 5.5 0.6 5.6 0.6 5.5 0.6 5.6 0.7 5.5 0.7 5.6 0.8 5.6 0.8 5.5 0.8 5.6 0.9 5.6 0.9 5.5 1 5.6 1 5.6 1.1 5.6 1.1 5.5 1.1 5.6 1.2 5.6 1.2 5.6 1.3 5.6 1.3 5.6 1.3 5.6 1.4 5.6 1.4 5.5 1.5 5.6 1.5 5.6 1.6 5.6 1.6 5.6 1.7 5.6 1.7 5.6 1.7 5.6 1.8 5.6 1.9 5.6 1.9 5.6 1.9 5.6 2 5.6 2 5.6 2.1 5.6 2.1 5.6 2.1 5.6 2.3 5.6 2.2 5.6 2.3 5.6 2.4 5.6 2.4 5.6 2.4 5.5 2.5 5.6 2.6 5.6 2.6 5.6 2.6 5.6 2.7 5.6 2.8 5.5 2.8 5.6 2.9 5.6 2.9 5.6 2.9 5.5 3 5.6 3.1 5.6 3.1 5.5 3.1 5.6 3.2 5.5 3.3 5.6 3.3 5.5 3.4 5.6 3.4 5.5 3.5 5.6 3.5"/>
<path stroke-width="1.52" d="M1124.5 271.4l5.5-0.1 5.5-0.1 5.5 0 5.5 0 5.5 0.1 5.5 0.1 5.6 0.1 5.5 0.2 5.5 0.2 5.6 0.2 5.5 0.3 5.6 0.3 5.5 0.4 5.6 0.4 5.5 0.4 5.6 0.5 5.6 0.5 5.5 0.5 5.6 0.6 5.6 0.6 5.6 0.7 5.6 0.7 5.5 0.8 5.6 0.7 5.6 0.9 5.6 0.8 5.6 1 5.6 0.9 5.6 1 5.6 1 5.6 1.1 5.6 1.1 5.6 1.2 5.6 1.2 5.6 1.2 5.6 1.3 5.7 1.4 5.6 1.3 5.6 1.5 5.6 1.4 5.6 1.5 5.6 1.6 5.7 1.6 5.6 1.6 5.6 1.7 5.6 1.7 5.6 1.8 5.7 1.9 5.6 1.8 5.6 1.9 5.6 2 5.6 2 5.7 2.1 5.6 2.1 5.6 2.1 5.6 2.2 5.6 2.3 5.6 2.3 5.7 2.3 5.6 2.4 5.6 2.5 5.6 2.4 5.6 2.6 5.6 2.6 5.6 2.6 5.6 2.7 5.6 2.7 5.6 2.8 5.6 2.9 5.6 2.9 5.6 2.9 5.6 3 5.6 3 5.6 3.1 5.5 3.2 5.6 3.2 5.6 3.2 5.6 3.3 5.5 3.4 5.6 3.4"/>
<path stroke-width="1.53" d="M1134.4 272.1l5.5-0.2 5.5-0.2 5.5-0.1 5.5 0 5.6-0.1 5.5 0 5.6 0.1 5.5 0 5.6 0.1 5.5 0.2 5.6 0.2 5.6 0.2 5.5 0.3 5.6 0.3 5.6 0.3 5.6 0.4 5.6 0.4 5.6 0.4 5.5 0.5 5.6 0.6 5.6 0.5 5.6 0.6 5.6 0.7 5.7 0.7 5.6 0.7 5.6 0.8 5.6 0.8 5.6 0.8 5.6 0.9 5.7 1 5.6 0.9 5.6 1.1 5.6 1 5.7 1.1 5.6 1.2 5.6 1.1 5.7 1.3 5.6 1.3 5.6 1.3 5.7 1.3 5.6 1.4 5.7 1.5 5.6 1.5 5.6 1.5 5.7 1.6 5.6 1.6 5.7 1.7 5.6 1.7 5.7 1.8 5.6 1.8 5.6 1.9 5.7 1.9 5.6 1.9 5.7 2 5.6 2 5.7 2.1 5.6 2.2 5.6 2.2 5.7 2.2 5.6 2.3 5.6 2.3 5.7 2.4 5.6 2.4 5.6 2.5 5.7 2.5 5.6 2.6 5.6 2.6 5.6 2.7 5.7 2.7 5.6 2.8 5.6 2.8 5.6 2.9 5.6 3 5.6 2.9 5.6 3.1 5.6 3.1 5.6 3.1 5.6 3.2 5.6 3.2 5.6 3.3"/>
<path stroke-width="1.54" d="M1144.2 272.7l5.6-0.2 5.5-0.3 5.5-0.2 5.6-0.1 5.5-0.1 5.6-0.1 5.6-0.1 5.5 0 5.6 0 5.6 0.1 5.6 0 5.6 0.2 5.5 0.1 5.6 0.2 5.6 0.3 5.6 0.3 5.7 0.3 5.6 0.3 5.6 0.4 5.6 0.5 5.6 0.4 5.6 0.5 5.7 0.6 5.6 0.6 5.6 0.6 5.7 0.7 5.6 0.7 5.6 0.8 5.7 0.7 5.6 0.9 5.7 0.9 5.6 0.9 5.7 0.9 5.6 1 5.7 1.1 5.6 1.1 5.7 1.1 5.6 1.2 5.7 1.2 5.7 1.2 5.6 1.3 5.7 1.4 5.7 1.4 5.6 1.4 5.7 1.5 5.6 1.5 5.7 1.6 5.7 1.6 5.6 1.6 5.7 1.8 5.7 1.7 5.6 1.8 5.7 1.8 5.7 1.9 5.6 2 5.7 2 5.7 2 5.6 2.1 5.7 2.1 5.7 2.2 5.6 2.2 5.7 2.2 5.6 2.4 5.7 2.3 5.6 2.5 5.7 2.4 5.6 2.5 5.7 2.6 5.6 2.6 5.7 2.7 5.6 2.7 5.7 2.8 5.6 2.8 5.6 2.8 5.7 3 5.6 2.9 5.6 3.1 5.6 3 5.7 3.2 5.6 3.1"/>
<path stroke-width="1.54" d="M1154.1 273.4l5.5-0.3 5.6-0.4 5.6-0.2 5.5-0.3 5.6-0.2 5.6-0.2 5.6-0.2 5.5-0.1 5.6 0 5.6-0.1 5.6 0 5.6 0 5.7 0.1 5.6 0.1 5.6 0.2 5.6 0.2 5.6 0.2 5.7 0.2 5.6 0.3 5.6 0.4 5.7 0.3 5.6 0.5 5.7 0.4 5.6 0.5 5.7 0.5 5.6 0.6 5.7 0.6 5.7 0.7 5.6 0.7 5.7 0.7 5.6 0.8 5.7 0.8 5.7 0.9 5.7 0.9 5.6 0.9 5.7 1 5.7 1 5.7 1.1 5.7 1.1 5.6 1.1 5.7 1.2 5.7 1.3 5.7 1.3 5.7 1.3 5.7 1.4 5.7 1.4 5.7 1.5 5.6 1.5 5.7 1.5 5.7 1.6 5.7 1.7 5.7 1.6 5.7 1.8 5.7 1.8 5.7 1.8 5.7 1.9 5.6 1.9 5.7 2 5.7 2 5.7 2 5.7 2.1 5.7 2.2 5.7 2.2 5.6 2.3 5.7 2.3 5.7 2.3 5.7 2.4 5.6 2.5 5.7 2.5 5.7 2.5 5.7 2.6 5.6 2.7 5.7 2.7 5.6 2.7 5.7 2.9 5.7 2.8 5.6 2.9 5.7 3 5.6 3 5.6 3"/>
<path stroke-width="1.55" d="M1163.9 274.1l5.6-0.4 5.6-0.5 5.6-0.3 5.6-0.4 5.5-0.3 5.6-0.3 5.6-0.2 5.7-0.2 5.6-0.2 5.6-0.1 5.6-0.1 5.6-0.1 5.7 0 5.6 0 5.6 0.1 5.7 0 5.6 0.2 5.7 0.1 5.6 0.2 5.7 0.3 5.7 0.2 5.6 0.4 5.7 0.3 5.7 0.4 5.6 0.5 5.7 0.4 5.7 0.5 5.7 0.6 5.7 0.6 5.6 0.6 5.7 0.7 5.7 0.7 5.7 0.8 5.7 0.8 5.7 0.8 5.7 0.9 5.7 0.9 5.7 1 5.7 1 5.7 1 5.7 1.1 5.7 1.2 5.8 1.2 5.7 1.2 5.7 1.3 5.7 1.3 5.7 1.3 5.7 1.4 5.7 1.5 5.7 1.5 5.8 1.5 5.7 1.6 5.7 1.6 5.7 1.7 5.7 1.7 5.7 1.8 5.7 1.8 5.8 1.9 5.7 1.9 5.7 1.9 5.7 2 5.7 2.1 5.7 2.1 5.7 2.1 5.7 2.2 5.7 2.2 5.7 2.3 5.7 2.4 5.7 2.4 5.7 2.4 5.7 2.5 5.7 2.5 5.7 2.6 5.7 2.7 5.6 2.6 5.7 2.8 5.7 2.8 5.7 2.8 5.7 2.9 5.6 3"/>
<path stroke-width="1.55" d="M1173.8 274.8l5.6-0.6 5.6-0.5 5.6-0.5 5.6-0.4 5.6-0.4 5.6-0.4 5.6-0.3 5.7-0.3 5.6-0.3 5.6-0.2 5.7-0.2 5.6-0.1 5.7-0.1 5.6-0.1 5.7-0.1 5.6 0 5.7 0.1 5.7 0 5.7 0.1 5.6 0.2 5.7 0.1 5.7 0.3 5.7 0.2 5.7 0.3 5.7 0.4 5.7 0.3 5.7 0.5 5.7 0.4 5.7 0.5 5.7 0.5 5.7 0.6 5.7 0.6 5.8 0.7 5.7 0.7 5.7 0.7 5.7 0.8 5.7 0.8 5.8 0.9 5.7 0.9 5.7 1 5.8 0.9 5.7 1.1 5.7 1.1 5.8 1.1 5.7 1.1 5.7 1.3 5.8 1.2 5.7 1.3 5.7 1.3 5.8 1.4 5.7 1.5 5.7 1.4 5.8 1.6 5.7 1.5 5.8 1.6 5.7 1.7 5.7 1.7 5.8 1.8 5.7 1.7 5.7 1.9 5.8 1.9 5.7 1.9 5.7 2 5.8 2 5.7 2.1 5.7 2.2 5.8 2.1 5.7 2.3 5.7 2.2 5.7 2.4 5.8 2.3 5.7 2.5 5.7 2.4 5.7 2.6 5.7 2.6 5.7 2.6 5.7 2.7 5.7 2.7 5.7 2.8 5.7 2.8"/>
<path stroke-width="1.56" d="M1183.6 275.4l5.6-0.6 5.7-0.6 5.6-0.6 5.6-0.5 5.6-0.5 5.7-0.4 5.6-0.5 5.7-0.4 5.6-0.3 5.7-0.3 5.6-0.3 5.7-0.3 5.7-0.2 5.6-0.2 5.7-0.1 5.7-0.1 5.7-0.1 5.7 0 5.7 0 5.7 0.1 5.7 0 5.7 0.2 5.7 0.1 5.7 0.2 5.7 0.3 5.8 0.2 5.7 0.4 5.7 0.3 5.7 0.4 5.8 0.5 5.7 0.4 5.7 0.5 5.8 0.6 5.7 0.6 5.8 0.6 5.7 0.7 5.8 0.7 5.7 0.8 5.8 0.8 5.7 0.9 5.8 0.8 5.7 1 5.8 0.9 5.7 1.1 5.8 1 5.8 1.1 5.7 1.2 5.8 1.2 5.7 1.2 5.8 1.3 5.8 1.3 5.7 1.4 5.8 1.4 5.8 1.5 5.7 1.5 5.8 1.5 5.7 1.6 5.8 1.7 5.8 1.6 5.7 1.8 5.8 1.8 5.8 1.8 5.7 1.9 5.8 1.9 5.7 2 5.8 2 5.7 2.1 5.8 2.1 5.7 2.1 5.8 2.2 5.7 2.3 5.8 2.3 5.7 2.4 5.7 2.4 5.8 2.5 5.7 2.5 5.7 2.5 5.8 2.6 5.7 2.7 5.7 2.7"/>
<path stroke-width="1.56" d="M1193.5 276.1l5.6-0.7 5.6-0.7 5.7-0.7 5.6-0.6 5.7-0.6 5.6-0.5 5.7-0.6 5.7-0.4 5.6-0.5 5.7-0.4 5.7-0.4 5.7-0.3 5.7-0.3 5.7-0.3 5.7-0.2 5.7-0.2 5.7-0.2 5.7-0.1 5.7-0.1 5.7 0 5.8-0.1 5.7 0.1 5.7 0 5.8 0.1 5.7 0.2 5.7 0.2 5.8 0.2 5.7 0.2 5.8 0.3 5.7 0.4 5.8 0.3 5.8 0.5 5.7 0.4 5.8 0.5 5.8 0.5 5.7 0.6 5.8 0.6 5.8 0.7 5.7 0.7 5.8 0.8 5.8 0.7 5.8 0.9 5.8 0.8 5.7 1 5.8 0.9 5.8 1 5.8 1.1 5.8 1 5.8 1.2 5.7 1.1 5.8 1.3 5.8 1.2 5.8 1.3 5.8 1.4 5.8 1.4 5.8 1.4 5.8 1.5 5.8 1.6 5.7 1.5 5.8 1.7 5.8 1.6 5.8 1.8 5.8 1.7 5.8 1.8 5.7 1.9 5.8 1.9 5.8 2 5.8 2 5.8 2 5.7 2.1 5.8 2.2 5.8 2.2 5.7 2.2 5.8 2.3 5.8 2.4 5.7 2.4 5.8 2.4 5.7 2.5 5.8 2.6 5.8 2.6"/>
<path stroke-width="1.57" d="M1203.3 276.7l5.7-0.8 5.6-0.8 5.7-0.7 5.6-0.7 5.7-0.7 5.7-0.6 5.7-0.6 5.7-0.6 5.6-0.6 5.7-0.5 5.7-0.4 5.8-0.5 5.7-0.4 5.7-0.3 5.7-0.4 5.7-0.3 5.8-0.2 5.7-0.2 5.7-0.2 5.8-0.2 5.7-0.1 5.8 0 5.7-0.1 5.8 0 5.8 0.1 5.7 0.1 5.8 0.1 5.8 0.1 5.7 0.2 5.8 0.3 5.8 0.3 5.8 0.3 5.8 0.3 5.7 0.4 5.8 0.5 5.8 0.4 5.8 0.6 5.8 0.5 5.8 0.6 5.8 0.7 5.8 0.6 5.8 0.8 5.8 0.7 5.8 0.8 5.8 0.9 5.9 0.9 5.8 0.9 5.8 1 5.8 1 5.8 1.1 5.8 1.1 5.8 1.2 5.8 1.2 5.8 1.2 5.9 1.3 5.8 1.4 5.8 1.3 5.8 1.5 5.8 1.4 5.8 1.6 5.8 1.5 5.8 1.6 5.9 1.7 5.8 1.7 5.8 1.7 5.8 1.8 5.8 1.9 5.8 1.9 5.8 1.9 5.8 2 5.8 2 5.8 2.1 5.8 2.2 5.8 2.2 5.8 2.2 5.8 2.3 5.8 2.3 5.7 2.4 5.8 2.4 5.8 2.5"/>
<path stroke-width="1.57" d="M1213.1 277.4l5.7-0.9 5.7-0.9 5.7-0.8 5.6-0.8 5.7-0.8 5.7-0.7 5.7-0.7 5.7-0.7 5.8-0.6 5.7-0.6 5.7-0.6 5.7-0.5 5.8-0.5 5.7-0.5 5.7-0.4 5.8-0.4 5.7-0.3 5.8-0.4 5.8-0.2 5.7-0.3 5.8-0.2 5.8-0.1 5.7-0.2 5.8-0.1 5.8 0 5.8 0 5.8 0 5.8 0 5.8 0.1 5.8 0.2 5.8 0.2 5.8 0.2 5.8 0.2 5.8 0.3 5.8 0.4 5.8 0.3 5.9 0.5 5.8 0.4 5.8 0.5 5.8 0.6 5.9 0.5 5.8 0.7 5.8 0.6 5.8 0.7 5.9 0.8 5.8 0.8 5.8 0.8 5.9 0.9 5.8 0.9 5.8 1 5.9 1 5.8 1 5.9 1.1 5.8 1.2 5.8 1.1 5.9 1.3 5.8 1.2 5.9 1.4 5.8 1.3 5.8 1.4 5.9 1.5 5.8 1.5 5.9 1.5 5.8 1.6 5.8 1.7 5.9 1.7 5.8 1.7 5.8 1.8 5.8 1.8 5.9 1.9 5.8 1.9 5.8 2 5.9 2 5.8 2.1 5.8 2.1 5.8 2.2 5.8 2.2 5.8 2.3 5.8 2.3 5.9 2.4"/>
<path stroke-width="1.57" d="M1223 278l5.7-1 5.6-0.9 5.7-1 5.8-0.9 5.7-0.8 5.7-0.8 5.7-0.8 5.7-0.8 5.8-0.7 5.7-0.7 5.7-0.7 5.8-0.6 5.8-0.6 5.7-0.5 5.8-0.5 5.7-0.5 5.8-0.5 5.8-0.4 5.8-0.4 5.8-0.3 5.8-0.3 5.8-0.3 5.8-0.2 5.8-0.2 5.8-0.1 5.8-0.1 5.8-0.1 5.8-0.1 5.8 0.1 5.8 0 5.9 0.1 5.8 0.1 5.8 0.1 5.9 0.2 5.8 0.3 5.9 0.3 5.8 0.3 5.8 0.3 5.9 0.4 5.8 0.5 5.9 0.4 5.8 0.6 5.9 0.5 5.8 0.6 5.9 0.7 5.9 0.7 5.8 0.7 5.9 0.8 5.8 0.8 5.9 0.8 5.9 0.9 5.8 1 5.9 1 5.9 1 5.8 1.1 5.9 1.1 5.9 1.2 5.8 1.2 5.9 1.2 5.9 1.3 5.8 1.4 5.9 1.4 5.9 1.4 5.8 1.5 5.9 1.5 5.8 1.6 5.9 1.6 5.9 1.7 5.8 1.7 5.9 1.8 5.8 1.8 5.9 1.9 5.8 1.9 5.9 1.9 5.8 2 5.9 2.1 5.8 2.1 5.9 2.1 5.8 2.3 5.8 2.2"/>
<path stroke-width="1.58" d="M1232.8 278.6l5.7-1 5.7-1.1 5.7-1 5.8-1 5.7-0.9 5.7-1 5.8-0.8 5.7-0.9 5.8-0.8 5.7-0.8 5.8-0.7 5.8-0.8 5.7-0.6 5.8-0.7 5.8-0.6 5.8-0.6 5.8-0.5 5.8-0.5 5.8-0.5 5.8-0.4 5.8-0.4 5.8-0.4 5.9-0.3 5.8-0.3 5.8-0.2 5.9-0.2 5.8-0.2 5.8-0.1 5.9-0.1 5.8-0.1 5.9 0 5.8 0 5.9 0 5.8 0.1 5.9 0.2 5.9 0.2 5.8 0.2 5.9 0.2 5.9 0.3 5.8 0.4 5.9 0.3 5.9 0.5 5.9 0.4 5.9 0.5 5.8 0.6 5.9 0.5 5.9 0.7 5.9 0.6 5.9 0.7 5.9 0.8 5.9 0.8 5.9 0.8 5.8 0.9 5.9 0.9 5.9 1 5.9 1 5.9 1.1 5.9 1.1 5.9 1.1 5.9 1.2 5.9 1.3 5.9 1.3 5.9 1.3 5.9 1.4 5.8 1.4 5.9 1.4 5.9 1.6 5.9 1.5 5.9 1.6 5.9 1.7 5.9 1.7 5.8 1.7 5.9 1.8 5.9 1.9 5.9 1.9 5.8 1.9 5.9 2 5.9 2 5.8 2.1 5.9 2.2"/>
<path stroke-width="1.58" d="M1242.6 279.3l5.7-1.2 5.8-1.1 5.7-1.1 5.8-1.1 5.7-1.1 5.8-1 5.7-1 5.8-0.9 5.8-0.9 5.8-0.9 5.7-0.8 5.8-0.8 5.8-0.8 5.8-0.7 5.8-0.7 5.9-0.7 5.8-0.7 5.8-0.6 5.8-0.5 5.9-0.5 5.8-0.5 5.8-0.5 5.9-0.4 5.8-0.4 5.9-0.3 5.8-0.3 5.9-0.3 5.9-0.3 5.8-0.1 5.9-0.2 5.9-0.1 5.8-0.1 5.9 0 5.9-0.1 5.9 0.1 5.9 0.1 5.9 0.1 5.9 0.1 5.9 0.2 5.9 0.3 5.9 0.2 5.9 0.3 5.9 0.4 5.9 0.4 5.9 0.4 5.9 0.5 5.9 0.5 5.9 0.6 5.9 0.6 6 0.7 5.9 0.7 5.9 0.7 5.9 0.8 5.9 0.8 5.9 0.8 6 1 5.9 0.9 5.9 1 5.9 1 5.9 1.1 5.9 1.2 6 1.1 5.9 1.3 5.9 1.2 5.9 1.3 5.9 1.4 6 1.4 5.9 1.4 5.9 1.5 5.9 1.6 5.9 1.6 5.9 1.6 5.9 1.7 5.9 1.7 5.9 1.8 5.9 1.8 5.9 1.9 5.9 1.9 5.9 2 5.9 2"/>
</g>
<ellipse cx="440.2" cy="194.9" rx="13.2" ry="9.8" fill="#f51a0a" stroke="#000" stroke-width="0.8"/>
<ellipse cx="816" cy="931" rx="12.9" ry="10.6" fill="#fa9bd2" stroke="#000" stroke-width="0.8"/>
<ellipse cx="1711.9" cy="313.9" rx="12.9" ry="9.7" fill="#fa9bd2" stroke="#000" stroke-width="0.8"/>
<ellipse cx="1049" cy="360.5" rx="12" ry="9.6" fill="#f51a0a" stroke="#000" stroke-width="0.8"/>
<ellipse cx="1049" cy="343.4" rx="12" ry="9.6" fill="#f51a0a" stroke="#000" stroke-width="0.8"/>
<ellipse cx="1049" cy="324.5" rx="12" ry="9.6" fill="#f51a0a" stroke="#000" stroke-width="0.8"/>
<path d="M1050.5 334V369" stroke="#000" stroke-width="1.2"/>
<g fill="#000">
<rect x="464.8" y="610.9" width="8.6" height="6.8" rx="1.5"/>
<rect x="456.1" y="483.7" width="8.6" height="6.8" rx="1.5"/>
<rect x="447.3" y="356.5" width="8.6" height="6.8" rx="1.5"/>
<rect x="438.5" y="229.3" width="8.6" height="6.8" rx="1.5"/>
<rect x="429.7" y="102.1" width="8.6" height="6.8" rx="1.5"/>
<rect x="475.7" y="768.1" width="8.6" height="6.8" rx="1.5"/>
<rect x="544" y="839.7" width="8.6" height="6.8" rx="1.5"/>
<rect x="612.3" y="911.4" width="8.6" height="6.8" rx="1.5"/>
<rect x="680.6" y="983" width="8.6" height="6.8" rx="1.5"/>
<rect x="748.9" y="1054.7" width="8.6" height="6.8" rx="1.5"/>
<rect x="817.2" y="1126.3" width="8.6" height="6.8" rx="1.5"/>
<rect x="1027.7" y="1079" width="8.6" height="6.8" rx="1.5"/>
<rect x="1238.2" y="1031.8" width="8.6" height="6.8" rx="1.5"/>
<rect x="1448.6" y="984.5" width="8.6" height="6.8" rx="1.5"/>
<rect x="1659.1" y="937.2" width="8.6" height="6.8" rx="1.5"/>
</g>
<path d="M468 780V790" stroke="#000" stroke-width="1"/>
<g font-family="'Liberation Serif','Noto Serif CJK SC',serif" fill="#000" stroke="#000" stroke-width="0.5">
<text transform="translate(408,123.3) scale(1.02,1)" font-size="64.5" text-anchor="end">37</text>
<text transform="translate(416.8,250.5) scale(1.02,1)" font-size="64.5" text-anchor="end">36</text>
<text transform="translate(425.6,377.7) scale(1.02,1)" font-size="64.5" text-anchor="end">35</text>
<text transform="translate(434.4,504.9) scale(1.02,1)" font-size="64.5" text-anchor="end">34</text>
<text transform="translate(443.1,632.1) scale(1.02,1)" font-size="64.5" text-anchor="end">33</text>
<text x="451" y="793" font-size="66.5" text-anchor="end">25.00<tspan dx="8.5">:</tspan><tspan dx="7.5">1</tspan></text>
<text x="517.4" y="865.3" font-size="66.5" text-anchor="end">23.00<tspan dx="8.5">:</tspan><tspan dx="7.5">1</tspan></text>
<text x="583.8" y="937.6" font-size="66.5" text-anchor="end">21.00<tspan dx="8.5">:</tspan><tspan dx="7.5">1</tspan></text>
<text x="650.2" y="1009.9" font-size="66.5" text-anchor="end">19.00<tspan dx="8.5">:</tspan><tspan dx="7.5">1</tspan></text>
<text x="716.6" y="1082.2" font-size="66.5" text-anchor="end">17.00<tspan dx="8.5">:</tspan><tspan dx="7.5">1</tspan></text>
<text x="783" y="1154.5" font-size="66.5" text-anchor="end">15.00<tspan dx="8.5">:</tspan><tspan dx="7.5">1</tspan></text>
<text transform="translate(843.8,1203.9) scale(0.97,1)" font-size="68" text-anchor="middle">11.00</text>
<text transform="translate(1055.1,1156.6) scale(0.97,1)" font-size="68" text-anchor="middle">10.50</text>
<text transform="translate(1266.3,1109.3) scale(0.97,1)" font-size="68" text-anchor="middle">10.00</text>
<text transform="translate(1477.6,1062.1) scale(0.97,1)" font-size="68" text-anchor="middle">9.50</text>
<text transform="translate(1688.9,1014.8) scale(0.97,1)" font-size="68" text-anchor="middle">9.00</text>
<text transform="translate(271.5,428.4) rotate(-93.9)" font-size="67" text-anchor="middle" y="22">得率 (%)</text>
<text transform="translate(335,1009.5) rotate(46.8)" font-size="65.8" text-anchor="middle" y="22">A: 液料比 (mL/g)</text>
<text transform="translate(1317.5,1178.5) rotate(-13.5)" font-size="68" text-anchor="middle" y="22">C: pH</text>
</g>
</svg>
</body></html>
